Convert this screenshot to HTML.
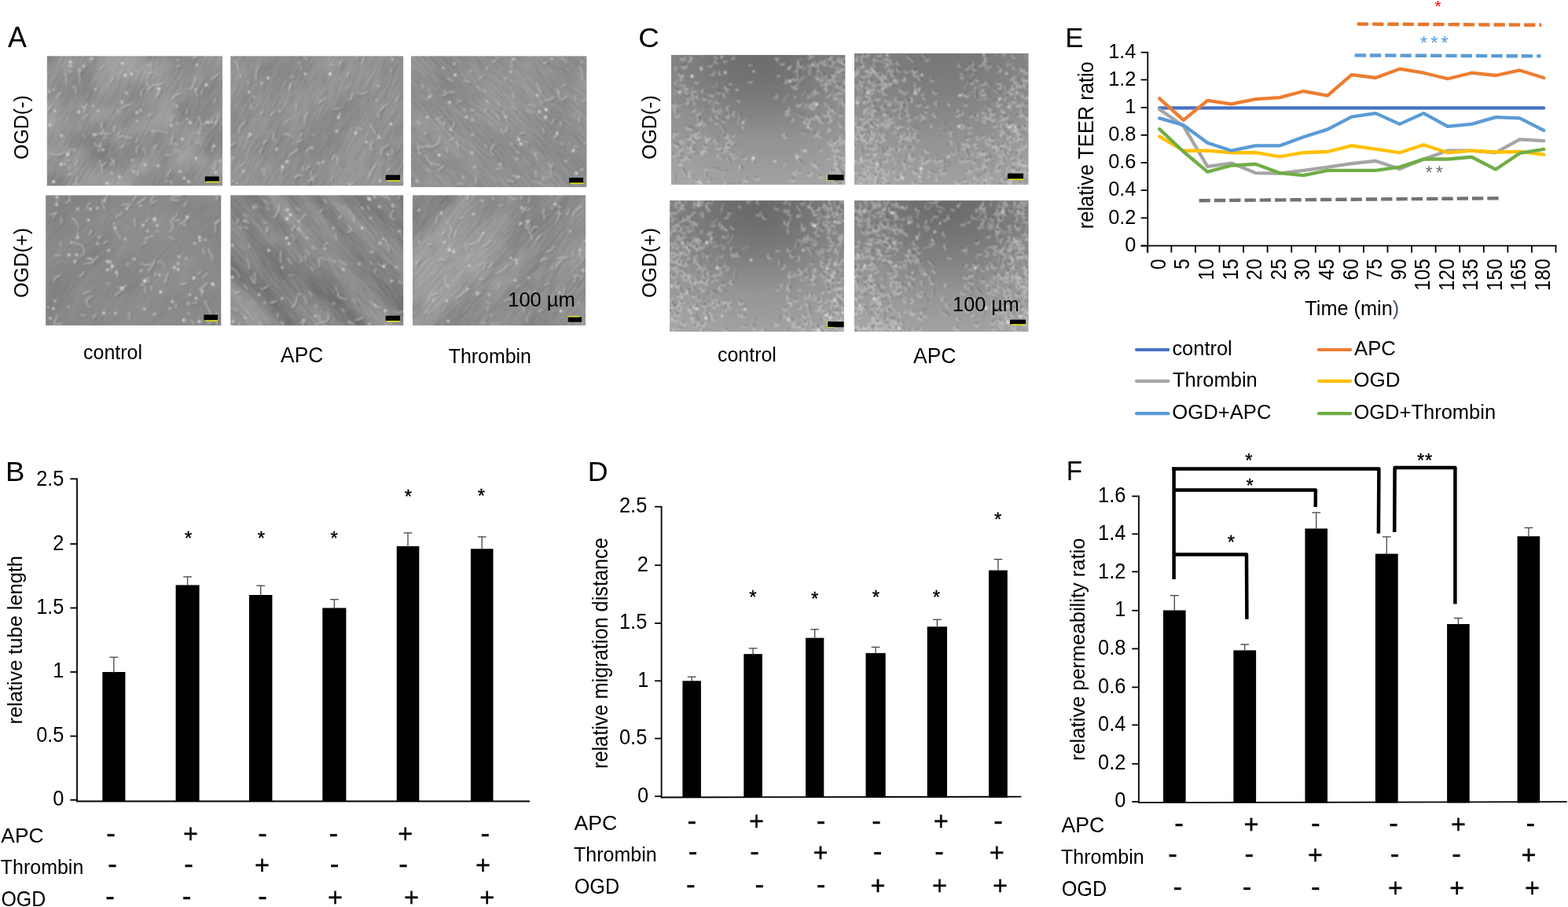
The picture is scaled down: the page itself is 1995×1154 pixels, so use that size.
<!DOCTYPE html>
<html lang="en">
<head>
<meta charset="utf-8">
<title>Figure: APC and thrombin effects under OGD</title>
<style>
html,body{margin:0;padding:0;background:#fff;}
body{width:1995px;height:1154px;overflow:hidden;}
svg{display:block;font-family:"Liberation Sans",sans-serif;font-size:20px;fill:#000;}
</style>
</head>
<body>
<svg width="1995" height="1154" viewBox="0 0 1995 1154">
<rect width="1995" height="1154" fill="#fff"/>
<defs><filter id="bl" x="-5%" y="-5%" width="110%" height="110%"><feGaussianBlur stdDeviation="1.05"/></filter>
<filter id="bl2" x="-5%" y="-5%" width="110%" height="110%"><feGaussianBlur stdDeviation="1.1"/></filter></defs>
<g id="micrographs">
<defs><filter id="bb" x="-20%" y="-20%" width="140%" height="140%"><feGaussianBlur stdDeviation="9"/></filter></defs>
<clipPath id="ca0"><rect x="59.6" y="71.2" width="223.6" height="165.4"/></clipPath>
<filter id="st0" x="0" y="0" width="100%" height="100%" color-interpolation-filters="sRGB"><feTurbulence type="fractalNoise" baseFrequency="0.045 0.3" numOctaves="2" seed="11"/><feColorMatrix type="matrix" values="1.5 0 0 0 -0.174  1.5 0 0 0 -0.174  1.5 0 0 0 -0.174  0 0 0 0 1"/></filter>
<filter id="lo0" x="0" y="0" width="100%" height="100%" color-interpolation-filters="sRGB"><feTurbulence type="fractalNoise" baseFrequency="0.02 0.025" numOctaves="2" seed="12"/><feColorMatrix type="matrix" values="1.6 0 0 0 -0.224  1.6 0 0 0 -0.224  1.6 0 0 0 -0.224  0 0 0 0 1"/></filter>
<g clip-path="url(#ca0)">
<rect x="59.6" y="71.2" width="223.6" height="165.4" fill="#939393"/>
<rect x="21.4" y="3.9" width="300" height="300" transform="rotate(-60 171.4 153.9)" filter="url(#lo0)" opacity="0.14"/>
<rect x="21.4" y="3.9" width="300" height="300" transform="rotate(-60 171.4 153.9)" filter="url(#st0)" opacity="0.06"/>
<g filter="url(#bl)" fill="none" stroke-linecap="round">
<path d="M89.6 211.4Q88.9 213.7 88.7 215.0L88.5 216.2M106.5 151.9Q108.2 148.3 109.7 147.0L111.3 145.7M191.8 88.1Q191.8 84.6 192.8 83.1L193.7 81.6M213.1 231.5Q211.7 230.1 210.8 229.5L210.0 229.0M210.9 197.1Q213.9 197.1 215.4 197.5L216.9 197.8M101.2 235.4Q98.2 235.1 96.7 234.9L95.2 234.8M275.9 155.2Q273.1 156.4 271.6 156.2Q270.1 156.1 268.6 156.0Q267.1 155.9 265.7 155.5Q264.2 155.2 262.8 155.9Q261.5 156.5 260.4 157.6L259.4 158.7M237.9 139.7Q237.3 142.2 237.7 143.3L238.0 144.5M96.2 210.1Q97.0 206.7 98.1 205.4L99.2 204.0M197.1 166.8Q200.1 166.6 201.6 166.6Q203.1 166.5 204.4 167.2Q205.7 167.9 207.2 168.1Q208.7 168.2 210.2 168.4Q211.7 168.6 212.8 169.6L213.9 170.7M188.8 147.1Q191.1 145.2 192.6 145.2L194.1 145.1M269.4 156.0Q269.0 153.5 269.4 152.3L269.8 151.1M187.1 104.3Q188.1 107.8 188.5 109.6Q188.9 111.4 188.5 113.2L188.2 115.0M133.6 170.4Q136.6 169.9 138.1 170.2L139.5 170.5M242.2 113.4Q244.4 111.4 245.1 110.1Q245.8 108.8 246.1 107.3Q246.4 105.8 247.3 104.6Q248.1 103.4 248.4 101.9Q248.6 100.4 248.4 98.9L248.2 97.4M97.0 113.4Q96.5 115.9 96.3 117.1L96.0 118.3M64.9 135.1Q62.6 138.4 61.4 140.1L60.3 141.7M106.4 171.4Q106.9 173.3 107.6 174.0L108.3 174.8M217.1 183.4Q218.5 180.0 219.0 178.2Q219.4 176.4 220.0 174.7L220.6 173.0M131.4 175.6Q133.4 175.7 134.4 175.4L135.4 175.2M251.6 122.5Q250.2 119.9 249.6 118.5L249.0 117.1M249.8 168.9Q252.8 168.5 254.0 169.3L255.3 170.1M217.0 155.4Q218.6 151.7 219.2 149.8L219.8 147.9M103.0 88.5Q101.7 91.2 101.2 92.6Q100.8 94.0 100.8 95.5Q100.8 97.0 101.5 98.4Q102.2 99.7 102.1 101.2Q102.1 102.7 101.4 104.0L100.7 105.4M185.6 93.6Q189.6 93.4 191.5 92.9L193.4 92.5M256.9 184.8Q255.1 182.5 253.7 181.9Q252.3 181.3 250.8 181.4L249.3 181.5M179.9 115.5Q179.5 119.0 179.7 120.7L180.0 122.5M253.6 171.1Q254.1 168.1 254.1 166.6Q254.1 165.1 255.1 164.0L256.0 162.8M92.5 91.9Q90.1 91.2 89.0 90.7L87.8 90.3M272.5 131.6Q273.0 128.6 273.8 127.3L274.6 126.1M244.7 73.2Q247.7 73.7 249.0 73.0Q250.3 72.3 251.3 71.2Q252.3 70.1 253.8 69.8Q255.2 69.6 256.7 69.2Q258.1 68.8 259.2 67.7L260.2 66.6M97.0 111.1Q94.5 111.1 93.4 110.5L92.3 109.9M182.6 188.9Q184.9 191.5 185.0 193.3L185.1 195.0M125.7 169.9Q123.3 171.7 121.8 171.6Q120.3 171.6 119.1 170.7L117.9 169.7M84.5 106.8Q84.6 103.3 84.8 101.6Q85.0 99.8 84.6 98.1Q84.3 96.4 83.5 94.9L82.6 93.3M77.8 117.6Q75.4 119.5 74.5 120.7Q73.6 121.9 73.1 123.3L72.5 124.7M130.4 211.3Q132.3 209.0 133.4 208.0L134.5 207.0M114.4 74.6Q114.4 77.6 115.3 78.8L116.2 80.0M201.7 119.3Q203.1 116.1 203.4 114.4L203.8 112.7M173.5 181.2Q175.0 179.3 175.2 178.0L175.3 176.8M174.6 223.3Q176.5 220.9 176.5 219.4L176.5 217.9M130.3 220.6Q130.4 217.6 129.7 216.2Q129.1 214.9 128.9 213.4Q128.7 211.9 128.8 210.4Q128.9 208.9 128.6 207.5Q128.2 206.0 127.1 205.0L125.9 204.1M275.0 204.9Q273.7 208.3 273.3 210.1Q272.9 211.9 272.9 213.7L272.9 215.6M117.3 75.2Q116.6 72.3 115.7 71.2Q114.7 70.1 113.2 69.6Q111.8 69.1 110.3 69.1Q108.8 69.1 107.5 68.5Q106.1 67.8 104.7 67.4L103.3 66.9M149.3 172.5Q150.9 170.0 151.9 168.9L153.0 167.8M157.6 184.7Q155.5 186.9 154.1 187.5L152.8 188.2M134.9 172.3Q133.2 169.9 132.3 168.7Q131.5 167.4 131.3 165.9Q131.2 164.4 130.4 163.2Q129.6 161.9 129.3 160.4Q129.1 158.9 129.6 157.5L130.1 156.1M129.3 185.7Q125.7 186.4 124.0 185.8Q122.3 185.1 121.3 183.6L120.3 182.0M187.3 100.4Q188.4 97.6 189.2 96.3L190.0 95.0M145.5 211.0Q145.4 207.4 144.7 205.7Q144.1 203.9 142.6 202.8L141.2 201.7M224.4 85.0Q226.5 83.8 227.8 84.0L229.0 84.2M145.1 204.0Q142.8 207.2 141.6 208.9L140.5 210.5M107.0 142.5Q108.5 139.2 108.9 137.4Q109.3 135.6 109.9 133.9L110.5 132.1M274.2 158.6Q276.0 155.6 276.3 153.9Q276.7 152.1 277.2 150.5Q277.7 148.8 277.6 147.0L277.6 145.3M190.6 112.7Q192.2 110.2 193.5 109.4Q194.8 108.7 196.3 108.5Q197.8 108.3 199.3 108.3Q200.8 108.2 202.2 107.9Q203.7 107.6 205.0 106.9L206.4 106.2M83.8 204.8Q86.1 203.9 87.4 204.0L88.6 204.0M277.3 93.8Q274.9 96.6 273.3 97.5Q271.7 98.4 270.4 99.7L269.1 100.9M87.3 190.0Q85.7 193.1 84.8 194.5L83.8 196.0M84.9 223.0Q88.8 222.0 90.8 222.1L92.8 222.2M224.7 191.7Q227.7 191.9 228.9 192.8L230.1 193.8M218.8 234.5Q218.0 232.2 217.4 231.1L216.8 230.0M154.8 138.2Q157.5 135.9 159.0 135.1Q160.5 134.2 162.2 133.7Q163.9 133.2 165.6 132.9L167.3 132.7M150.6 175.3Q153.1 173.7 154.6 173.4Q156.1 173.1 157.5 173.5Q159.0 173.9 160.4 174.5Q161.8 175.1 163.2 175.4Q164.7 175.7 166.2 175.4L167.7 175.2M217.9 215.8Q215.5 218.5 214.3 219.9Q213.2 221.4 213.1 223.2L213.0 225.0M173.7 194.4Q173.9 190.4 174.0 188.4L174.1 186.4M271.2 185.4Q270.2 189.3 270.5 191.3L270.8 193.2M257.7 115.7Q256.4 117.8 256.5 119.1L256.5 120.3M126.0 192.8Q126.9 189.2 127.3 187.4Q127.7 185.7 127.5 183.8L127.3 182.0M196.1 189.6Q196.9 186.8 198.1 185.8L199.2 184.8M198.8 123.6Q200.5 119.9 201.6 118.3L202.8 116.7M96.6 232.1Q97.6 229.3 98.1 227.9Q98.6 226.5 98.4 225.0L98.2 223.5M90.5 189.6Q89.2 192.9 88.1 194.2L87.1 195.6M127.9 88.8Q129.6 85.2 131.2 83.9L132.7 82.6M64.8 195.7Q67.4 197.1 68.9 197.0Q70.4 197.0 71.9 197.3Q73.4 197.7 74.8 197.2Q76.2 196.7 77.5 196.0Q78.9 195.3 80.2 194.6L81.5 193.9M144.1 99.1Q142.4 101.6 142.2 103.1L141.9 104.5M219.5 125.8Q221.1 122.7 222.5 121.6Q223.9 120.6 225.6 120.3Q227.3 120.0 228.9 119.3L230.5 118.6M145.3 167.2Q145.9 164.2 146.0 162.8L146.1 161.3M255.5 160.9Q256.3 157.5 256.2 155.8Q256.1 154.0 255.0 152.7Q253.8 151.4 252.7 150.1L251.6 148.7M177.0 92.5Q174.5 90.8 173.4 89.8L172.4 88.7M226.1 184.8Q223.5 183.4 222.0 183.1L220.5 182.9" stroke="#404040" stroke-width="1.5" transform="translate(1.3 1.1)" opacity="0.5"/>
<path d="M89.6 211.4Q88.9 213.7 88.7 215.0L88.5 216.2M106.5 151.9Q108.2 148.3 109.7 147.0L111.3 145.7M191.8 88.1Q191.8 84.6 192.8 83.1L193.7 81.6M213.1 231.5Q211.7 230.1 210.8 229.5L210.0 229.0M210.9 197.1Q213.9 197.1 215.4 197.5L216.9 197.8M101.2 235.4Q98.2 235.1 96.7 234.9L95.2 234.8M275.9 155.2Q273.1 156.4 271.6 156.2Q270.1 156.1 268.6 156.0Q267.1 155.9 265.7 155.5Q264.2 155.2 262.8 155.9Q261.5 156.5 260.4 157.6L259.4 158.7M237.9 139.7Q237.3 142.2 237.7 143.3L238.0 144.5M96.2 210.1Q97.0 206.7 98.1 205.4L99.2 204.0M197.1 166.8Q200.1 166.6 201.6 166.6Q203.1 166.5 204.4 167.2Q205.7 167.9 207.2 168.1Q208.7 168.2 210.2 168.4Q211.7 168.6 212.8 169.6L213.9 170.7M188.8 147.1Q191.1 145.2 192.6 145.2L194.1 145.1M269.4 156.0Q269.0 153.5 269.4 152.3L269.8 151.1M187.1 104.3Q188.1 107.8 188.5 109.6Q188.9 111.4 188.5 113.2L188.2 115.0M133.6 170.4Q136.6 169.9 138.1 170.2L139.5 170.5M242.2 113.4Q244.4 111.4 245.1 110.1Q245.8 108.8 246.1 107.3Q246.4 105.8 247.3 104.6Q248.1 103.4 248.4 101.9Q248.6 100.4 248.4 98.9L248.2 97.4M97.0 113.4Q96.5 115.9 96.3 117.1L96.0 118.3M64.9 135.1Q62.6 138.4 61.4 140.1L60.3 141.7M106.4 171.4Q106.9 173.3 107.6 174.0L108.3 174.8M217.1 183.4Q218.5 180.0 219.0 178.2Q219.4 176.4 220.0 174.7L220.6 173.0M131.4 175.6Q133.4 175.7 134.4 175.4L135.4 175.2M251.6 122.5Q250.2 119.9 249.6 118.5L249.0 117.1M249.8 168.9Q252.8 168.5 254.0 169.3L255.3 170.1M217.0 155.4Q218.6 151.7 219.2 149.8L219.8 147.9M103.0 88.5Q101.7 91.2 101.2 92.6Q100.8 94.0 100.8 95.5Q100.8 97.0 101.5 98.4Q102.2 99.7 102.1 101.2Q102.1 102.7 101.4 104.0L100.7 105.4M185.6 93.6Q189.6 93.4 191.5 92.9L193.4 92.5M256.9 184.8Q255.1 182.5 253.7 181.9Q252.3 181.3 250.8 181.4L249.3 181.5M179.9 115.5Q179.5 119.0 179.7 120.7L180.0 122.5M253.6 171.1Q254.1 168.1 254.1 166.6Q254.1 165.1 255.1 164.0L256.0 162.8M92.5 91.9Q90.1 91.2 89.0 90.7L87.8 90.3M272.5 131.6Q273.0 128.6 273.8 127.3L274.6 126.1M244.7 73.2Q247.7 73.7 249.0 73.0Q250.3 72.3 251.3 71.2Q252.3 70.1 253.8 69.8Q255.2 69.6 256.7 69.2Q258.1 68.8 259.2 67.7L260.2 66.6M97.0 111.1Q94.5 111.1 93.4 110.5L92.3 109.9M182.6 188.9Q184.9 191.5 185.0 193.3L185.1 195.0M125.7 169.9Q123.3 171.7 121.8 171.6Q120.3 171.6 119.1 170.7L117.9 169.7M84.5 106.8Q84.6 103.3 84.8 101.6Q85.0 99.8 84.6 98.1Q84.3 96.4 83.5 94.9L82.6 93.3M77.8 117.6Q75.4 119.5 74.5 120.7Q73.6 121.9 73.1 123.3L72.5 124.7M130.4 211.3Q132.3 209.0 133.4 208.0L134.5 207.0M114.4 74.6Q114.4 77.6 115.3 78.8L116.2 80.0M201.7 119.3Q203.1 116.1 203.4 114.4L203.8 112.7M173.5 181.2Q175.0 179.3 175.2 178.0L175.3 176.8M174.6 223.3Q176.5 220.9 176.5 219.4L176.5 217.9M130.3 220.6Q130.4 217.6 129.7 216.2Q129.1 214.9 128.9 213.4Q128.7 211.9 128.8 210.4Q128.9 208.9 128.6 207.5Q128.2 206.0 127.1 205.0L125.9 204.1M275.0 204.9Q273.7 208.3 273.3 210.1Q272.9 211.9 272.9 213.7L272.9 215.6M117.3 75.2Q116.6 72.3 115.7 71.2Q114.7 70.1 113.2 69.6Q111.8 69.1 110.3 69.1Q108.8 69.1 107.5 68.5Q106.1 67.8 104.7 67.4L103.3 66.9M149.3 172.5Q150.9 170.0 151.9 168.9L153.0 167.8M157.6 184.7Q155.5 186.9 154.1 187.5L152.8 188.2M134.9 172.3Q133.2 169.9 132.3 168.7Q131.5 167.4 131.3 165.9Q131.2 164.4 130.4 163.2Q129.6 161.9 129.3 160.4Q129.1 158.9 129.6 157.5L130.1 156.1M129.3 185.7Q125.7 186.4 124.0 185.8Q122.3 185.1 121.3 183.6L120.3 182.0M187.3 100.4Q188.4 97.6 189.2 96.3L190.0 95.0M145.5 211.0Q145.4 207.4 144.7 205.7Q144.1 203.9 142.6 202.8L141.2 201.7M224.4 85.0Q226.5 83.8 227.8 84.0L229.0 84.2M145.1 204.0Q142.8 207.2 141.6 208.9L140.5 210.5M107.0 142.5Q108.5 139.2 108.9 137.4Q109.3 135.6 109.9 133.9L110.5 132.1M274.2 158.6Q276.0 155.6 276.3 153.9Q276.7 152.1 277.2 150.5Q277.7 148.8 277.6 147.0L277.6 145.3M190.6 112.7Q192.2 110.2 193.5 109.4Q194.8 108.7 196.3 108.5Q197.8 108.3 199.3 108.3Q200.8 108.2 202.2 107.9Q203.7 107.6 205.0 106.9L206.4 106.2M83.8 204.8Q86.1 203.9 87.4 204.0L88.6 204.0M277.3 93.8Q274.9 96.6 273.3 97.5Q271.7 98.4 270.4 99.7L269.1 100.9M87.3 190.0Q85.7 193.1 84.8 194.5L83.8 196.0M84.9 223.0Q88.8 222.0 90.8 222.1L92.8 222.2M224.7 191.7Q227.7 191.9 228.9 192.8L230.1 193.8M218.8 234.5Q218.0 232.2 217.4 231.1L216.8 230.0M154.8 138.2Q157.5 135.9 159.0 135.1Q160.5 134.2 162.2 133.7Q163.9 133.2 165.6 132.9L167.3 132.7M150.6 175.3Q153.1 173.7 154.6 173.4Q156.1 173.1 157.5 173.5Q159.0 173.9 160.4 174.5Q161.8 175.1 163.2 175.4Q164.7 175.7 166.2 175.4L167.7 175.2M217.9 215.8Q215.5 218.5 214.3 219.9Q213.2 221.4 213.1 223.2L213.0 225.0M173.7 194.4Q173.9 190.4 174.0 188.4L174.1 186.4M271.2 185.4Q270.2 189.3 270.5 191.3L270.8 193.2M257.7 115.7Q256.4 117.8 256.5 119.1L256.5 120.3M126.0 192.8Q126.9 189.2 127.3 187.4Q127.7 185.7 127.5 183.8L127.3 182.0M196.1 189.6Q196.9 186.8 198.1 185.8L199.2 184.8M198.8 123.6Q200.5 119.9 201.6 118.3L202.8 116.7M96.6 232.1Q97.6 229.3 98.1 227.9Q98.6 226.5 98.4 225.0L98.2 223.5M90.5 189.6Q89.2 192.9 88.1 194.2L87.1 195.6M127.9 88.8Q129.6 85.2 131.2 83.9L132.7 82.6M64.8 195.7Q67.4 197.1 68.9 197.0Q70.4 197.0 71.9 197.3Q73.4 197.7 74.8 197.2Q76.2 196.7 77.5 196.0Q78.9 195.3 80.2 194.6L81.5 193.9M144.1 99.1Q142.4 101.6 142.2 103.1L141.9 104.5M219.5 125.8Q221.1 122.7 222.5 121.6Q223.9 120.6 225.6 120.3Q227.3 120.0 228.9 119.3L230.5 118.6M145.3 167.2Q145.9 164.2 146.0 162.8L146.1 161.3M255.5 160.9Q256.3 157.5 256.2 155.8Q256.1 154.0 255.0 152.7Q253.8 151.4 252.7 150.1L251.6 148.7M177.0 92.5Q174.5 90.8 173.4 89.8L172.4 88.7M226.1 184.8Q223.5 183.4 222.0 183.1L220.5 182.9" stroke="#dcdcdc" stroke-width="1.5" opacity="0.68"/>
<g fill="#fff" stroke="none"><circle cx="201.2" cy="112.8" r="1.5" opacity="0.87"/><circle cx="100.1" cy="142.4" r="1.6" opacity="0.81"/><circle cx="274.4" cy="219.3" r="1.5" opacity="0.77"/><circle cx="217.9" cy="159.8" r="1.7" opacity="0.58"/><circle cx="120.3" cy="171.8" r="1.8" opacity="0.58"/><circle cx="100.6" cy="88.8" r="1.1" opacity="0.63"/><circle cx="155.6" cy="80.4" r="1.5" opacity="0.91"/><circle cx="174.2" cy="154.1" r="1.2" opacity="0.68"/><circle cx="89.4" cy="78.6" r="1.6" opacity="0.91"/><circle cx="229.2" cy="218.3" r="1.4" opacity="0.84"/><circle cx="120.9" cy="113.6" r="1.3" opacity="0.67"/><circle cx="250.4" cy="82.6" r="1.3" opacity="0.84"/><circle cx="118.8" cy="134.6" r="1.2" opacity="0.82"/><circle cx="82.3" cy="209.0" r="1.5" opacity="0.63"/><circle cx="264.3" cy="155.4" r="1.4" opacity="0.91"/><circle cx="167.3" cy="94.1" r="1.7" opacity="0.76"/><circle cx="184.3" cy="209.4" r="1.5" opacity="0.76"/><circle cx="68.2" cy="231.3" r="1.8" opacity="0.85"/><circle cx="105.5" cy="136.0" r="1.3" opacity="0.71"/><circle cx="89.4" cy="83.7" r="1.3" opacity="0.87"/><circle cx="178.8" cy="140.6" r="1.3" opacity="0.66"/><circle cx="226.0" cy="157.1" r="1.1" opacity="0.60"/><circle cx="131.2" cy="190.5" r="1.6" opacity="0.78"/><circle cx="160.8" cy="118.3" r="1.4" opacity="0.70"/><circle cx="224.5" cy="134.6" r="1.7" opacity="0.58"/><circle cx="188.7" cy="82.3" r="1.1" opacity="0.75"/><circle cx="248.9" cy="113.9" r="1.3" opacity="0.78"/><circle cx="136.0" cy="233.1" r="1.7" opacity="0.70"/><circle cx="129.1" cy="169.8" r="1.3" opacity="0.75"/><circle cx="68.0" cy="113.6" r="1.3" opacity="0.60"/><circle cx="86.4" cy="196.9" r="1.8" opacity="0.80"/><circle cx="239.9" cy="231.1" r="1.6" opacity="0.84"/><circle cx="106.5" cy="84.0" r="1.5" opacity="0.81"/><circle cx="249.4" cy="201.4" r="1.3" opacity="0.89"/><circle cx="173.9" cy="142.9" r="1.5" opacity="0.91"/><circle cx="168.5" cy="203.5" r="1.3" opacity="0.63"/><circle cx="170.0" cy="218.3" r="1.3" opacity="0.73"/><circle cx="142.2" cy="220.5" r="1.2" opacity="0.74"/><circle cx="77.6" cy="208.9" r="1.8" opacity="0.71"/><circle cx="63.4" cy="159.1" r="1.4" opacity="0.90"/><circle cx="78.4" cy="172.6" r="1.5" opacity="0.78"/><circle cx="155.1" cy="130.0" r="1.8" opacity="0.55"/><circle cx="272.5" cy="185.5" r="1.5" opacity="0.77"/><circle cx="242.1" cy="155.9" r="1.8" opacity="0.68"/><circle cx="232.1" cy="177.3" r="1.8" opacity="0.66"/><circle cx="152.0" cy="224.9" r="1.7" opacity="0.76"/><circle cx="194.0" cy="167.0" r="1.4" opacity="0.60"/><circle cx="159.1" cy="95.8" r="1.6" opacity="0.94"/><circle cx="117.1" cy="74.8" r="1.4" opacity="0.81"/><circle cx="69.6" cy="141.1" r="1.3" opacity="0.81"/><circle cx="226.5" cy="76.2" r="1.2" opacity="0.59"/><circle cx="62.7" cy="116.6" r="1.3" opacity="0.86"/><circle cx="201.2" cy="210.8" r="1.6" opacity="0.71"/><circle cx="238.1" cy="151.3" r="1.2" opacity="0.61"/><circle cx="280.1" cy="204.6" r="1.4" opacity="0.60"/><circle cx="234.2" cy="226.5" r="1.4" opacity="0.93"/><circle cx="124.7" cy="141.1" r="1.3" opacity="0.68"/><circle cx="262.3" cy="108.0" r="1.7" opacity="0.93"/><circle cx="149.9" cy="141.8" r="1.1" opacity="0.63"/><circle cx="94.5" cy="191.0" r="1.2" opacity="0.61"/></g>
</g>
</g>
<rect x="260.9" y="224.5" width="17.8" height="6.2" fill="#000"/>
<rect x="262.4" y="230.7" width="16.3" height="1.5" fill="#e8e800"/>
<clipPath id="ca1"><rect x="293.2" y="71.2" width="220.1" height="165.4"/></clipPath>
<filter id="st1" x="0" y="0" width="100%" height="100%" color-interpolation-filters="sRGB"><feTurbulence type="fractalNoise" baseFrequency="0.045 0.3" numOctaves="2" seed="19"/><feColorMatrix type="matrix" values="1.5 0 0 0 -0.181  1.5 0 0 0 -0.181  1.5 0 0 0 -0.181  0 0 0 0 1"/></filter>
<filter id="lo1" x="0" y="0" width="100%" height="100%" color-interpolation-filters="sRGB"><feTurbulence type="fractalNoise" baseFrequency="0.012 0.02" numOctaves="2" seed="20"/><feColorMatrix type="matrix" values="1.6 0 0 0 -0.231  1.6 0 0 0 -0.231  1.6 0 0 0 -0.231  0 0 0 0 1"/></filter>
<g clip-path="url(#ca1)">
<rect x="293.2" y="71.2" width="220.1" height="165.4" fill="#919191"/>
<rect x="253.25" y="3.9" width="300" height="300" transform="rotate(-62 403.25 153.9)" filter="url(#lo1)" opacity="0.07"/>
<rect x="253.25" y="3.9" width="300" height="300" transform="rotate(-62 403.25 153.9)" filter="url(#st1)" opacity="0.075"/>
<g filter="url(#bl)" fill="none" stroke-linecap="round">
<path d="M503.6 228.0Q501.7 228.6 500.7 228.7L499.7 228.8M361.0 171.4Q364.4 170.5 366.1 170.7Q367.8 171.0 369.2 172.0Q370.6 173.1 372.0 174.2L373.4 175.3M375.1 226.0Q377.6 223.3 379.4 222.9Q381.2 222.5 382.9 223.1L384.6 223.8M386.4 217.4Q385.7 215.0 384.9 214.1L384.0 213.2M405.5 130.7Q408.6 128.8 410.0 127.6Q411.5 126.5 412.9 125.4L414.4 124.3M493.2 131.4Q491.2 134.3 489.8 135.4Q488.5 136.5 487.2 137.7Q485.9 138.9 484.5 140.0L483.2 141.1M401.1 224.2Q398.9 227.1 397.2 227.8Q395.5 228.5 394.0 229.5L392.5 230.6M453.0 163.4Q456.0 163.1 457.4 163.7Q458.8 164.2 459.7 165.4L460.6 166.5M428.9 199.1Q429.6 201.9 430.0 203.4Q430.4 204.9 429.9 206.3L429.3 207.7M430.4 83.7Q432.2 80.7 433.3 79.3L434.3 77.9M304.0 169.1Q304.8 166.2 304.8 164.7Q304.7 163.2 305.3 161.8Q305.9 160.5 307.2 159.7Q308.5 158.9 309.1 157.6Q309.7 156.2 311.0 155.4L312.2 154.5M460.3 80.6Q462.4 77.7 462.3 76.0L462.2 74.2M453.7 74.7Q455.9 72.6 456.1 71.1L456.2 69.6M422.9 202.6Q424.4 199.9 425.3 198.7L426.2 197.6M457.8 118.5Q460.5 119.7 462.0 119.3Q463.4 119.0 464.7 118.2L466.0 117.4M381.6 174.0Q382.3 171.6 383.1 170.7L383.9 169.7M298.5 201.6Q296.1 202.0 294.9 201.5L293.7 201.0M368.3 114.5Q369.6 110.8 369.3 108.8L369.0 106.8M330.8 146.2Q332.7 143.9 333.6 142.7L334.5 141.5M348.4 169.0Q348.1 172.5 347.9 174.2Q347.7 176.0 348.6 177.4Q349.6 178.9 351.2 179.5L352.9 180.1M383.2 89.6Q383.8 87.2 383.4 86.0L383.0 84.8M298.6 181.9Q296.9 184.4 295.5 184.9Q294.1 185.4 292.6 185.4L291.1 185.4M388.7 155.8Q387.4 152.5 387.8 150.8Q388.2 149.1 389.0 147.5Q389.8 146.0 390.5 144.4L391.2 142.8M297.5 230.1Q295.1 230.7 294.0 231.3L292.9 231.9M485.6 139.4Q486.3 137.0 486.8 135.8L487.4 134.7M395.2 218.3Q396.4 221.6 396.5 223.3Q396.6 225.1 397.4 226.7Q398.1 228.3 398.9 229.8L399.7 231.4M318.7 133.0Q319.2 135.9 320.2 137.1Q321.1 138.2 322.6 138.6L324.0 139.1M480.3 177.2Q482.0 174.7 481.9 173.2L481.8 171.7M448.5 119.3Q447.8 122.2 447.5 123.7Q447.2 125.1 446.1 126.1L444.9 127.1M470.2 225.4Q470.8 222.4 471.2 221.0Q471.7 219.5 472.4 218.3Q473.2 217.0 474.3 216.0Q475.4 214.9 475.8 213.5Q476.1 212.0 476.9 210.8L477.7 209.5M419.9 83.0Q422.4 82.6 423.6 82.9L424.8 83.3M493.8 183.9Q492.0 186.3 490.6 186.9Q489.2 187.4 488.0 188.3Q486.8 189.2 486.1 190.5Q485.4 191.8 485.1 193.3Q484.8 194.8 485.2 196.2L485.7 197.6M510.4 231.4Q512.0 227.8 513.6 226.6L515.3 225.5M394.7 187.5Q391.4 189.9 390.6 191.7L389.7 193.5M390.3 76.1Q389.4 72.7 388.4 71.2Q387.5 69.8 386.1 68.7Q384.6 67.7 383.7 66.2L382.7 64.8M383.9 178.4Q380.5 179.2 379.3 180.5L378.2 181.8M473.6 191.2Q471.6 188.2 471.5 186.4Q471.4 184.5 472.3 182.9L473.2 181.4M362.1 157.8Q363.6 155.2 364.7 154.2Q365.8 153.2 367.1 152.4L368.3 151.5M492.5 217.5Q494.3 215.8 495.3 215.0L496.2 214.3M401.0 172.4Q399.5 171.1 398.5 170.9L397.5 170.6M450.1 232.0Q448.1 233.6 447.7 234.8L447.4 236.0M423.4 224.2Q422.9 227.6 422.0 229.2L421.2 230.7M331.4 195.3Q331.2 191.3 332.4 189.7L333.6 188.1M441.9 97.0Q443.0 94.2 443.3 92.7L443.7 91.3M390.7 215.2Q392.2 212.6 393.5 211.9L394.8 211.2M310.1 207.6Q308.6 210.1 307.3 211.0L306.0 211.8M313.7 176.0Q317.1 173.9 318.5 172.5L319.9 171.0M344.5 146.9Q345.9 144.3 347.1 143.4L348.4 142.5M376.7 131.5Q376.8 135.0 377.0 136.7L377.2 138.5M357.5 219.2Q359.6 217.0 359.9 215.5Q360.2 214.1 359.9 212.6L359.7 211.1M334.9 183.4Q336.5 180.3 337.9 179.2L339.3 178.2M432.5 137.4Q429.3 138.9 427.6 138.7L425.8 138.6M499.1 195.8Q499.7 192.9 499.2 191.4L498.8 190.0M504.0 129.8Q504.3 126.8 505.3 125.7Q506.3 124.6 506.6 123.1L506.9 121.6M330.0 83.9Q328.2 86.4 327.5 87.7Q326.8 89.0 326.5 90.5Q326.3 92.0 325.7 93.4Q325.2 94.8 325.4 96.3Q325.5 97.7 326.1 99.1L326.6 100.5M497.1 86.9Q496.9 89.4 497.2 90.6L497.6 91.8M368.6 112.0Q369.0 109.0 369.7 107.7L370.4 106.3M306.8 95.0Q306.6 97.5 305.9 98.6L305.3 99.6M367.6 198.3Q370.4 196.2 371.8 195.1Q373.2 194.1 374.7 193.2Q376.3 192.4 377.6 191.2L378.8 190.0M477.6 170.0Q476.1 166.9 475.3 165.3Q474.4 163.8 473.4 162.3Q472.4 160.9 471.5 159.5L470.5 158.0M303.4 89.1Q302.3 85.8 302.5 84.0Q302.7 82.3 301.8 80.8Q300.8 79.3 299.3 78.6L297.7 77.8M370.4 99.8Q372.1 98.0 372.8 97.0L373.6 96.1M482.1 149.7Q482.2 147.2 481.6 146.2L480.9 145.1M337.1 223.1Q337.3 219.5 336.4 217.8Q335.6 216.2 334.0 215.2L332.5 214.3M317.0 106.2Q315.5 104.9 314.7 104.3L313.9 103.8" stroke="#404040" stroke-width="1.5" transform="translate(1.3 1.1)" opacity="0.5"/>
<path d="M503.6 228.0Q501.7 228.6 500.7 228.7L499.7 228.8M361.0 171.4Q364.4 170.5 366.1 170.7Q367.8 171.0 369.2 172.0Q370.6 173.1 372.0 174.2L373.4 175.3M375.1 226.0Q377.6 223.3 379.4 222.9Q381.2 222.5 382.9 223.1L384.6 223.8M386.4 217.4Q385.7 215.0 384.9 214.1L384.0 213.2M405.5 130.7Q408.6 128.8 410.0 127.6Q411.5 126.5 412.9 125.4L414.4 124.3M493.2 131.4Q491.2 134.3 489.8 135.4Q488.5 136.5 487.2 137.7Q485.9 138.9 484.5 140.0L483.2 141.1M401.1 224.2Q398.9 227.1 397.2 227.8Q395.5 228.5 394.0 229.5L392.5 230.6M453.0 163.4Q456.0 163.1 457.4 163.7Q458.8 164.2 459.7 165.4L460.6 166.5M428.9 199.1Q429.6 201.9 430.0 203.4Q430.4 204.9 429.9 206.3L429.3 207.7M430.4 83.7Q432.2 80.7 433.3 79.3L434.3 77.9M304.0 169.1Q304.8 166.2 304.8 164.7Q304.7 163.2 305.3 161.8Q305.9 160.5 307.2 159.7Q308.5 158.9 309.1 157.6Q309.7 156.2 311.0 155.4L312.2 154.5M460.3 80.6Q462.4 77.7 462.3 76.0L462.2 74.2M453.7 74.7Q455.9 72.6 456.1 71.1L456.2 69.6M422.9 202.6Q424.4 199.9 425.3 198.7L426.2 197.6M457.8 118.5Q460.5 119.7 462.0 119.3Q463.4 119.0 464.7 118.2L466.0 117.4M381.6 174.0Q382.3 171.6 383.1 170.7L383.9 169.7M298.5 201.6Q296.1 202.0 294.9 201.5L293.7 201.0M368.3 114.5Q369.6 110.8 369.3 108.8L369.0 106.8M330.8 146.2Q332.7 143.9 333.6 142.7L334.5 141.5M348.4 169.0Q348.1 172.5 347.9 174.2Q347.7 176.0 348.6 177.4Q349.6 178.9 351.2 179.5L352.9 180.1M383.2 89.6Q383.8 87.2 383.4 86.0L383.0 84.8M298.6 181.9Q296.9 184.4 295.5 184.9Q294.1 185.4 292.6 185.4L291.1 185.4M388.7 155.8Q387.4 152.5 387.8 150.8Q388.2 149.1 389.0 147.5Q389.8 146.0 390.5 144.4L391.2 142.8M297.5 230.1Q295.1 230.7 294.0 231.3L292.9 231.9M485.6 139.4Q486.3 137.0 486.8 135.8L487.4 134.7M395.2 218.3Q396.4 221.6 396.5 223.3Q396.6 225.1 397.4 226.7Q398.1 228.3 398.9 229.8L399.7 231.4M318.7 133.0Q319.2 135.9 320.2 137.1Q321.1 138.2 322.6 138.6L324.0 139.1M480.3 177.2Q482.0 174.7 481.9 173.2L481.8 171.7M448.5 119.3Q447.8 122.2 447.5 123.7Q447.2 125.1 446.1 126.1L444.9 127.1M470.2 225.4Q470.8 222.4 471.2 221.0Q471.7 219.5 472.4 218.3Q473.2 217.0 474.3 216.0Q475.4 214.9 475.8 213.5Q476.1 212.0 476.9 210.8L477.7 209.5M419.9 83.0Q422.4 82.6 423.6 82.9L424.8 83.3M493.8 183.9Q492.0 186.3 490.6 186.9Q489.2 187.4 488.0 188.3Q486.8 189.2 486.1 190.5Q485.4 191.8 485.1 193.3Q484.8 194.8 485.2 196.2L485.7 197.6M510.4 231.4Q512.0 227.8 513.6 226.6L515.3 225.5M394.7 187.5Q391.4 189.9 390.6 191.7L389.7 193.5M390.3 76.1Q389.4 72.7 388.4 71.2Q387.5 69.8 386.1 68.7Q384.6 67.7 383.7 66.2L382.7 64.8M383.9 178.4Q380.5 179.2 379.3 180.5L378.2 181.8M473.6 191.2Q471.6 188.2 471.5 186.4Q471.4 184.5 472.3 182.9L473.2 181.4M362.1 157.8Q363.6 155.2 364.7 154.2Q365.8 153.2 367.1 152.4L368.3 151.5M492.5 217.5Q494.3 215.8 495.3 215.0L496.2 214.3M401.0 172.4Q399.5 171.1 398.5 170.9L397.5 170.6M450.1 232.0Q448.1 233.6 447.7 234.8L447.4 236.0M423.4 224.2Q422.9 227.6 422.0 229.2L421.2 230.7M331.4 195.3Q331.2 191.3 332.4 189.7L333.6 188.1M441.9 97.0Q443.0 94.2 443.3 92.7L443.7 91.3M390.7 215.2Q392.2 212.6 393.5 211.9L394.8 211.2M310.1 207.6Q308.6 210.1 307.3 211.0L306.0 211.8M313.7 176.0Q317.1 173.9 318.5 172.5L319.9 171.0M344.5 146.9Q345.9 144.3 347.1 143.4L348.4 142.5M376.7 131.5Q376.8 135.0 377.0 136.7L377.2 138.5M357.5 219.2Q359.6 217.0 359.9 215.5Q360.2 214.1 359.9 212.6L359.7 211.1M334.9 183.4Q336.5 180.3 337.9 179.2L339.3 178.2M432.5 137.4Q429.3 138.9 427.6 138.7L425.8 138.6M499.1 195.8Q499.7 192.9 499.2 191.4L498.8 190.0M504.0 129.8Q504.3 126.8 505.3 125.7Q506.3 124.6 506.6 123.1L506.9 121.6M330.0 83.9Q328.2 86.4 327.5 87.7Q326.8 89.0 326.5 90.5Q326.3 92.0 325.7 93.4Q325.2 94.8 325.4 96.3Q325.5 97.7 326.1 99.1L326.6 100.5M497.1 86.9Q496.9 89.4 497.2 90.6L497.6 91.8M368.6 112.0Q369.0 109.0 369.7 107.7L370.4 106.3M306.8 95.0Q306.6 97.5 305.9 98.6L305.3 99.6M367.6 198.3Q370.4 196.2 371.8 195.1Q373.2 194.1 374.7 193.2Q376.3 192.4 377.6 191.2L378.8 190.0M477.6 170.0Q476.1 166.9 475.3 165.3Q474.4 163.8 473.4 162.3Q472.4 160.9 471.5 159.5L470.5 158.0M303.4 89.1Q302.3 85.8 302.5 84.0Q302.7 82.3 301.8 80.8Q300.8 79.3 299.3 78.6L297.7 77.8M370.4 99.8Q372.1 98.0 372.8 97.0L373.6 96.1M482.1 149.7Q482.2 147.2 481.6 146.2L480.9 145.1M337.1 223.1Q337.3 219.5 336.4 217.8Q335.6 216.2 334.0 215.2L332.5 214.3M317.0 106.2Q315.5 104.9 314.7 104.3L313.9 103.8" stroke="#dcdcdc" stroke-width="1.5" opacity="0.68"/>
<g fill="#fff" stroke="none"><circle cx="497.2" cy="157.9" r="1.6" opacity="0.82"/><circle cx="405.6" cy="207.7" r="1.2" opacity="0.93"/><circle cx="332.7" cy="105.8" r="1.3" opacity="0.61"/><circle cx="323.4" cy="123.8" r="1.3" opacity="0.59"/><circle cx="316.8" cy="117.2" r="1.5" opacity="0.75"/><circle cx="355.7" cy="141.1" r="1.2" opacity="0.77"/><circle cx="317.7" cy="170.4" r="1.6" opacity="0.63"/><circle cx="379.8" cy="79.5" r="1.2" opacity="0.56"/><circle cx="351.9" cy="189.7" r="1.5" opacity="0.84"/><circle cx="481.3" cy="109.4" r="1.2" opacity="0.68"/><circle cx="444.1" cy="234.1" r="1.2" opacity="0.83"/><circle cx="493.4" cy="196.3" r="1.2" opacity="0.82"/><circle cx="482.8" cy="174.8" r="1.8" opacity="0.61"/><circle cx="365.3" cy="205.5" r="1.7" opacity="0.76"/><circle cx="309.8" cy="218.1" r="1.6" opacity="0.56"/><circle cx="359.5" cy="212.3" r="1.5" opacity="0.84"/><circle cx="499.3" cy="75.7" r="1.4" opacity="0.65"/><circle cx="452.5" cy="169.0" r="1.6" opacity="0.91"/><circle cx="388.1" cy="94.0" r="1.2" opacity="0.90"/><circle cx="483.5" cy="229.8" r="1.4" opacity="0.80"/><circle cx="428.1" cy="166.9" r="1.4" opacity="0.85"/><circle cx="478.9" cy="127.7" r="1.1" opacity="0.70"/><circle cx="430.5" cy="149.3" r="1.6" opacity="0.81"/><circle cx="419.9" cy="93.9" r="1.8" opacity="0.90"/><circle cx="410.9" cy="206.1" r="1.2" opacity="0.87"/><circle cx="301.5" cy="233.2" r="1.1" opacity="0.76"/><circle cx="466.4" cy="180.5" r="1.7" opacity="0.58"/><circle cx="396.9" cy="188.1" r="1.3" opacity="0.78"/><circle cx="341.1" cy="99.4" r="1.6" opacity="0.84"/><circle cx="432.0" cy="145.4" r="1.3" opacity="0.58"/></g>
</g>
</g>
<rect x="490.7" y="222.6" width="18.3" height="6.7" fill="#000"/>
<rect x="492.2" y="229.3" width="16.8" height="1.5" fill="#e8e800"/>
<clipPath id="ca2"><rect x="522.8" y="71.2" width="223.8" height="167"/></clipPath>
<filter id="st2" x="0" y="0" width="100%" height="100%" color-interpolation-filters="sRGB"><feTurbulence type="fractalNoise" baseFrequency="0.045 0.3" numOctaves="2" seed="27"/><feColorMatrix type="matrix" values="1.5 0 0 0 -0.181  1.5 0 0 0 -0.181  1.5 0 0 0 -0.181  0 0 0 0 1"/></filter>
<filter id="lo2" x="0" y="0" width="100%" height="100%" color-interpolation-filters="sRGB"><feTurbulence type="fractalNoise" baseFrequency="0.012 0.02" numOctaves="2" seed="28"/><feColorMatrix type="matrix" values="1.6 0 0 0 -0.231  1.6 0 0 0 -0.231  1.6 0 0 0 -0.231  0 0 0 0 1"/></filter>
<g clip-path="url(#ca2)">
<rect x="522.8" y="71.2" width="223.8" height="167" fill="#919191"/>
<rect x="484.7" y="4.7" width="300" height="300" transform="rotate(45 634.7 154.7)" filter="url(#lo2)" opacity="0.07"/>
<rect x="484.7" y="4.7" width="300" height="300" transform="rotate(45 634.7 154.7)" filter="url(#st2)" opacity="0.07"/>
<g filter="url(#bl)" fill="none" stroke-linecap="round">
<path d="M576.1 162.1Q578.0 159.2 577.8 157.4L577.7 155.7M710.2 114.5Q711.0 117.4 711.5 118.8L712.1 120.2M715.5 109.9Q717.9 109.2 718.7 108.2L719.4 107.2M692.5 169.9Q691.0 167.3 691.0 165.8L691.1 164.3M682.6 225.0Q682.3 221.0 681.8 219.1L681.2 217.2M530.8 153.8Q533.3 155.6 534.6 156.3L535.9 157.1M709.3 167.1Q709.5 170.7 708.5 172.3Q707.5 173.8 705.9 174.7L704.3 175.6M744.6 183.3Q745.4 181.0 746.0 179.8L746.5 178.7M682.6 106.5Q685.1 108.8 685.4 110.6Q685.6 112.3 686.7 113.6Q687.9 115.0 688.4 116.6L688.9 118.3M614.7 96.4Q612.3 98.2 610.9 98.9L609.6 99.6M532.9 191.2Q532.6 187.7 532.0 186.0L531.4 184.4M540.0 171.4Q541.3 169.8 542.1 169.2L542.9 168.6M742.1 127.9Q745.6 128.3 747.3 128.2L749.1 128.1M716.8 184.9Q715.5 182.8 714.5 182.1L713.5 181.3M590.2 234.5Q586.5 234.2 584.7 233.9Q582.9 233.6 581.3 234.4L579.7 235.3M660.6 176.8Q659.5 175.1 658.8 174.4L658.1 173.7M681.0 194.5Q682.1 196.1 682.7 196.9L683.3 197.8M655.4 124.6Q653.2 122.0 652.7 120.3L652.2 118.6M546.3 207.0Q549.7 207.6 551.2 208.5Q552.6 209.5 554.3 209.9Q556.0 210.3 557.8 209.9L559.5 209.5M620.2 187.8Q618.2 186.3 617.5 185.3L616.9 184.2M737.8 84.6Q738.0 87.5 739.0 88.7Q740.0 89.8 740.2 91.3Q740.3 92.8 740.8 94.2Q741.3 95.6 741.2 97.1Q741.0 98.6 740.7 100.0L740.3 101.5M716.1 128.0Q714.0 125.9 712.9 124.8Q711.9 123.7 711.5 122.3Q711.1 120.8 710.6 119.4Q710.2 118.0 710.0 116.5Q709.8 115.0 709.2 113.6L708.5 112.3M650.0 77.1Q651.4 80.9 651.7 82.9L652.1 84.8M637.0 164.5Q639.0 166.8 639.9 167.9L640.9 169.1M587.5 128.2Q584.5 128.3 583.3 129.2L582.2 130.2M702.5 156.8Q703.5 153.9 704.4 152.7L705.4 151.6M561.3 121.3Q564.2 121.8 565.6 121.2Q567.0 120.6 567.9 119.4Q568.8 118.3 570.3 117.9Q571.8 117.5 573.2 117.2Q574.7 117.0 576.2 117.3L577.6 117.7M536.5 108.1Q538.3 109.9 538.5 111.1L538.8 112.3M703.2 208.7Q702.0 210.3 701.7 211.3L701.4 212.3M640.8 141.8Q640.7 144.8 641.5 146.1Q642.4 147.3 643.8 147.8L645.2 148.3M630.9 76.7Q628.5 77.7 627.5 78.4L626.5 79.1M667.6 169.2Q664.1 168.5 662.6 169.4L661.1 170.3M684.6 204.0Q682.6 201.2 681.6 199.7Q680.7 198.2 680.1 196.6Q679.4 195.0 677.9 194.0L676.5 193.1M721.2 80.1Q719.5 77.6 718.6 76.4Q717.6 75.2 716.4 74.5Q715.1 73.7 713.8 72.8Q712.6 72.0 711.6 70.8Q710.7 69.7 709.2 69.3L707.8 68.9M617.9 142.3Q617.6 140.3 618.0 139.4L618.4 138.5M550.0 186.5Q552.7 185.3 554.2 184.8Q555.6 184.4 556.5 183.2Q557.5 182.1 558.6 181.0Q559.7 180.0 559.9 178.5Q560.0 177.0 559.5 175.6L558.9 174.2M696.1 78.6Q694.1 80.1 692.9 80.3L691.6 80.6M549.9 212.1Q549.1 209.2 547.9 208.3Q546.8 207.4 546.0 206.1Q545.2 204.9 544.4 203.6Q543.7 202.3 543.3 200.8Q543.0 199.4 542.0 198.3L540.9 197.2M690.4 227.3Q691.8 228.7 692.7 229.1L693.6 229.5M578.7 174.1Q576.4 177.3 574.5 177.9L572.5 178.4M606.8 110.5Q609.6 113.3 610.9 114.8L612.2 116.4M729.6 185.7Q731.9 186.6 733.1 187.0L734.3 187.4M679.2 230.0Q681.8 232.2 683.6 232.6Q685.3 232.9 687.0 233.3Q688.7 233.7 689.9 235.0L691.1 236.2M713.4 161.1Q712.6 158.2 713.2 156.8L713.8 155.4M721.8 122.5Q719.1 123.7 718.0 124.7L716.9 125.7M630.8 215.5Q634.7 214.6 636.7 214.4L638.7 214.1M724.6 180.2Q725.6 181.9 725.7 182.9L725.9 183.9M737.7 149.3Q736.9 152.1 737.0 153.6L737.2 155.1M565.2 114.4Q566.7 116.4 566.9 117.6L567.1 118.9M592.9 141.9Q591.4 139.9 590.4 139.1L589.5 138.3M652.7 184.0Q651.1 182.7 650.2 182.5L649.2 182.2M653.7 230.7Q649.7 230.7 647.8 230.3L645.9 229.8M548.0 219.4Q545.9 217.2 544.8 216.1L543.7 215.1M671.2 183.1Q669.7 180.5 668.3 179.8L667.0 179.0M633.3 130.0Q634.2 132.9 635.2 134.0L636.3 135.0M605.8 224.8Q606.0 227.8 605.8 229.3Q605.6 230.8 605.5 232.3L605.5 233.8M590.1 102.4Q592.7 103.8 594.2 103.9Q595.7 103.9 597.2 104.1L598.7 104.3M651.7 136.6Q653.7 138.1 654.8 138.8L655.8 139.5M583.5 187.3Q582.4 183.9 582.6 182.0Q582.8 180.2 582.0 178.6L581.1 177.0M634.3 237.5Q635.4 239.7 635.3 240.9L635.1 242.2M547.9 187.8Q544.5 187.1 542.8 186.5Q541.2 185.9 539.4 186.2Q537.7 186.4 536.0 187.0L534.4 187.5M566.1 159.3Q562.8 158.2 561.6 156.9Q560.4 155.6 559.1 154.4Q557.8 153.3 556.4 152.3L555.0 151.3M705.1 124.0Q701.8 125.2 700.4 126.2Q699.0 127.2 697.2 127.5Q695.5 127.7 693.8 128.0L692.1 128.2M657.4 192.6Q658.8 194.0 659.5 194.7L660.2 195.4M566.1 159.6Q565.3 157.8 565.2 156.8L565.0 155.8M557.0 149.2Q559.3 150.1 560.4 150.6L561.6 151.1M634.4 74.4Q631.3 72.6 630.4 71.2L629.5 69.7M657.3 226.0Q655.9 223.9 654.8 223.5L653.6 223.0M567.6 187.9Q569.2 190.5 569.3 192.0L569.4 193.5M680.8 136.6Q678.9 134.3 677.4 133.9Q675.9 133.6 674.4 133.4L673.0 133.2M677.5 144.4Q674.8 143.1 673.5 142.4Q672.1 141.7 670.9 140.9L669.7 140.0M572.9 71.7Q570.0 70.8 568.5 71.0L567.1 71.2M569.6 99.7Q573.2 101.6 575.0 102.4L576.8 103.2M564.2 211.7Q560.9 214.0 559.7 215.6L558.6 217.3M531.6 153.6Q533.1 156.1 533.7 157.5L534.3 158.9M600.3 91.9Q599.1 90.3 598.4 89.6L597.8 88.8M731.6 121.4Q732.2 124.3 732.9 125.7L733.5 127.0M543.8 185.2Q545.9 186.5 547.1 186.3L548.4 186.2M635.4 151.7Q634.0 149.0 633.2 147.7L632.5 146.4M702.6 224.4Q701.8 221.5 701.1 220.2Q700.5 218.8 700.8 217.3Q701.0 215.9 700.7 214.4Q700.3 213.0 699.7 211.6Q699.2 210.2 698.6 208.8L698.1 207.4M645.3 160.8Q645.2 164.8 644.1 166.4L643.0 168.1M604.0 140.5Q601.0 140.7 599.5 140.8L598.0 141.0M691.3 224.0Q694.4 226.5 696.4 226.4L698.4 226.4M627.3 197.9Q625.5 195.4 624.9 194.1Q624.3 192.7 624.5 191.2Q624.6 189.7 625.5 188.5Q626.4 187.3 627.2 186.0Q627.9 184.7 629.3 184.1L630.6 183.4M686.8 126.9Q687.7 130.3 689.0 131.5L690.3 132.7" stroke="#404040" stroke-width="1.5" transform="translate(1.3 1.1)" opacity="0.5"/>
<path d="M576.1 162.1Q578.0 159.2 577.8 157.4L577.7 155.7M710.2 114.5Q711.0 117.4 711.5 118.8L712.1 120.2M715.5 109.9Q717.9 109.2 718.7 108.2L719.4 107.2M692.5 169.9Q691.0 167.3 691.0 165.8L691.1 164.3M682.6 225.0Q682.3 221.0 681.8 219.1L681.2 217.2M530.8 153.8Q533.3 155.6 534.6 156.3L535.9 157.1M709.3 167.1Q709.5 170.7 708.5 172.3Q707.5 173.8 705.9 174.7L704.3 175.6M744.6 183.3Q745.4 181.0 746.0 179.8L746.5 178.7M682.6 106.5Q685.1 108.8 685.4 110.6Q685.6 112.3 686.7 113.6Q687.9 115.0 688.4 116.6L688.9 118.3M614.7 96.4Q612.3 98.2 610.9 98.9L609.6 99.6M532.9 191.2Q532.6 187.7 532.0 186.0L531.4 184.4M540.0 171.4Q541.3 169.8 542.1 169.2L542.9 168.6M742.1 127.9Q745.6 128.3 747.3 128.2L749.1 128.1M716.8 184.9Q715.5 182.8 714.5 182.1L713.5 181.3M590.2 234.5Q586.5 234.2 584.7 233.9Q582.9 233.6 581.3 234.4L579.7 235.3M660.6 176.8Q659.5 175.1 658.8 174.4L658.1 173.7M681.0 194.5Q682.1 196.1 682.7 196.9L683.3 197.8M655.4 124.6Q653.2 122.0 652.7 120.3L652.2 118.6M546.3 207.0Q549.7 207.6 551.2 208.5Q552.6 209.5 554.3 209.9Q556.0 210.3 557.8 209.9L559.5 209.5M620.2 187.8Q618.2 186.3 617.5 185.3L616.9 184.2M737.8 84.6Q738.0 87.5 739.0 88.7Q740.0 89.8 740.2 91.3Q740.3 92.8 740.8 94.2Q741.3 95.6 741.2 97.1Q741.0 98.6 740.7 100.0L740.3 101.5M716.1 128.0Q714.0 125.9 712.9 124.8Q711.9 123.7 711.5 122.3Q711.1 120.8 710.6 119.4Q710.2 118.0 710.0 116.5Q709.8 115.0 709.2 113.6L708.5 112.3M650.0 77.1Q651.4 80.9 651.7 82.9L652.1 84.8M637.0 164.5Q639.0 166.8 639.9 167.9L640.9 169.1M587.5 128.2Q584.5 128.3 583.3 129.2L582.2 130.2M702.5 156.8Q703.5 153.9 704.4 152.7L705.4 151.6M561.3 121.3Q564.2 121.8 565.6 121.2Q567.0 120.6 567.9 119.4Q568.8 118.3 570.3 117.9Q571.8 117.5 573.2 117.2Q574.7 117.0 576.2 117.3L577.6 117.7M536.5 108.1Q538.3 109.9 538.5 111.1L538.8 112.3M703.2 208.7Q702.0 210.3 701.7 211.3L701.4 212.3M640.8 141.8Q640.7 144.8 641.5 146.1Q642.4 147.3 643.8 147.8L645.2 148.3M630.9 76.7Q628.5 77.7 627.5 78.4L626.5 79.1M667.6 169.2Q664.1 168.5 662.6 169.4L661.1 170.3M684.6 204.0Q682.6 201.2 681.6 199.7Q680.7 198.2 680.1 196.6Q679.4 195.0 677.9 194.0L676.5 193.1M721.2 80.1Q719.5 77.6 718.6 76.4Q717.6 75.2 716.4 74.5Q715.1 73.7 713.8 72.8Q712.6 72.0 711.6 70.8Q710.7 69.7 709.2 69.3L707.8 68.9M617.9 142.3Q617.6 140.3 618.0 139.4L618.4 138.5M550.0 186.5Q552.7 185.3 554.2 184.8Q555.6 184.4 556.5 183.2Q557.5 182.1 558.6 181.0Q559.7 180.0 559.9 178.5Q560.0 177.0 559.5 175.6L558.9 174.2M696.1 78.6Q694.1 80.1 692.9 80.3L691.6 80.6M549.9 212.1Q549.1 209.2 547.9 208.3Q546.8 207.4 546.0 206.1Q545.2 204.9 544.4 203.6Q543.7 202.3 543.3 200.8Q543.0 199.4 542.0 198.3L540.9 197.2M690.4 227.3Q691.8 228.7 692.7 229.1L693.6 229.5M578.7 174.1Q576.4 177.3 574.5 177.9L572.5 178.4M606.8 110.5Q609.6 113.3 610.9 114.8L612.2 116.4M729.6 185.7Q731.9 186.6 733.1 187.0L734.3 187.4M679.2 230.0Q681.8 232.2 683.6 232.6Q685.3 232.9 687.0 233.3Q688.7 233.7 689.9 235.0L691.1 236.2M713.4 161.1Q712.6 158.2 713.2 156.8L713.8 155.4M721.8 122.5Q719.1 123.7 718.0 124.7L716.9 125.7M630.8 215.5Q634.7 214.6 636.7 214.4L638.7 214.1M724.6 180.2Q725.6 181.9 725.7 182.9L725.9 183.9M737.7 149.3Q736.9 152.1 737.0 153.6L737.2 155.1M565.2 114.4Q566.7 116.4 566.9 117.6L567.1 118.9M592.9 141.9Q591.4 139.9 590.4 139.1L589.5 138.3M652.7 184.0Q651.1 182.7 650.2 182.5L649.2 182.2M653.7 230.7Q649.7 230.7 647.8 230.3L645.9 229.8M548.0 219.4Q545.9 217.2 544.8 216.1L543.7 215.1M671.2 183.1Q669.7 180.5 668.3 179.8L667.0 179.0M633.3 130.0Q634.2 132.9 635.2 134.0L636.3 135.0M605.8 224.8Q606.0 227.8 605.8 229.3Q605.6 230.8 605.5 232.3L605.5 233.8M590.1 102.4Q592.7 103.8 594.2 103.9Q595.7 103.9 597.2 104.1L598.7 104.3M651.7 136.6Q653.7 138.1 654.8 138.8L655.8 139.5M583.5 187.3Q582.4 183.9 582.6 182.0Q582.8 180.2 582.0 178.6L581.1 177.0M634.3 237.5Q635.4 239.7 635.3 240.9L635.1 242.2M547.9 187.8Q544.5 187.1 542.8 186.5Q541.2 185.9 539.4 186.2Q537.7 186.4 536.0 187.0L534.4 187.5M566.1 159.3Q562.8 158.2 561.6 156.9Q560.4 155.6 559.1 154.4Q557.8 153.3 556.4 152.3L555.0 151.3M705.1 124.0Q701.8 125.2 700.4 126.2Q699.0 127.2 697.2 127.5Q695.5 127.7 693.8 128.0L692.1 128.2M657.4 192.6Q658.8 194.0 659.5 194.7L660.2 195.4M566.1 159.6Q565.3 157.8 565.2 156.8L565.0 155.8M557.0 149.2Q559.3 150.1 560.4 150.6L561.6 151.1M634.4 74.4Q631.3 72.6 630.4 71.2L629.5 69.7M657.3 226.0Q655.9 223.9 654.8 223.5L653.6 223.0M567.6 187.9Q569.2 190.5 569.3 192.0L569.4 193.5M680.8 136.6Q678.9 134.3 677.4 133.9Q675.9 133.6 674.4 133.4L673.0 133.2M677.5 144.4Q674.8 143.1 673.5 142.4Q672.1 141.7 670.9 140.9L669.7 140.0M572.9 71.7Q570.0 70.8 568.5 71.0L567.1 71.2M569.6 99.7Q573.2 101.6 575.0 102.4L576.8 103.2M564.2 211.7Q560.9 214.0 559.7 215.6L558.6 217.3M531.6 153.6Q533.1 156.1 533.7 157.5L534.3 158.9M600.3 91.9Q599.1 90.3 598.4 89.6L597.8 88.8M731.6 121.4Q732.2 124.3 732.9 125.7L733.5 127.0M543.8 185.2Q545.9 186.5 547.1 186.3L548.4 186.2M635.4 151.7Q634.0 149.0 633.2 147.7L632.5 146.4M702.6 224.4Q701.8 221.5 701.1 220.2Q700.5 218.8 700.8 217.3Q701.0 215.9 700.7 214.4Q700.3 213.0 699.7 211.6Q699.2 210.2 698.6 208.8L698.1 207.4M645.3 160.8Q645.2 164.8 644.1 166.4L643.0 168.1M604.0 140.5Q601.0 140.7 599.5 140.8L598.0 141.0M691.3 224.0Q694.4 226.5 696.4 226.4L698.4 226.4M627.3 197.9Q625.5 195.4 624.9 194.1Q624.3 192.7 624.5 191.2Q624.6 189.7 625.5 188.5Q626.4 187.3 627.2 186.0Q627.9 184.7 629.3 184.1L630.6 183.4M686.8 126.9Q687.7 130.3 689.0 131.5L690.3 132.7" stroke="#dcdcdc" stroke-width="1.5" opacity="0.68"/>
<g fill="#fff" stroke="none"><circle cx="649.8" cy="91.2" r="1.2" opacity="0.81"/><circle cx="577.7" cy="81.2" r="1.2" opacity="0.81"/><circle cx="653.5" cy="75.1" r="1.3" opacity="0.94"/><circle cx="573.2" cy="164.9" r="1.4" opacity="0.86"/><circle cx="657.6" cy="201.7" r="1.5" opacity="0.63"/><circle cx="563.8" cy="86.1" r="1.7" opacity="0.60"/><circle cx="530.1" cy="230.7" r="1.2" opacity="0.91"/><circle cx="543.7" cy="149.0" r="1.3" opacity="0.88"/><circle cx="660.1" cy="177.8" r="1.6" opacity="0.90"/><circle cx="600.9" cy="171.5" r="1.4" opacity="0.59"/><circle cx="708.4" cy="170.1" r="1.7" opacity="0.63"/><circle cx="643.3" cy="148.9" r="1.6" opacity="0.58"/><circle cx="600.9" cy="152.2" r="1.2" opacity="0.77"/><circle cx="686.4" cy="142.1" r="1.6" opacity="0.79"/><circle cx="571.9" cy="130.3" r="1.8" opacity="0.68"/><circle cx="619.5" cy="86.9" r="1.3" opacity="0.62"/><circle cx="729.4" cy="191.6" r="1.7" opacity="0.94"/><circle cx="659.3" cy="225.0" r="1.5" opacity="0.72"/><circle cx="733.2" cy="220.4" r="1.8" opacity="0.74"/><circle cx="694.8" cy="139.5" r="1.8" opacity="0.92"/><circle cx="589.0" cy="225.5" r="1.2" opacity="0.59"/><circle cx="683.6" cy="121.2" r="1.5" opacity="0.81"/><circle cx="533.7" cy="194.7" r="1.3" opacity="0.72"/><circle cx="600.6" cy="194.2" r="1.6" opacity="0.66"/><circle cx="547.5" cy="122.0" r="1.4" opacity="0.58"/><circle cx="558.5" cy="197.5" r="1.6" opacity="0.94"/><circle cx="740.1" cy="216.0" r="1.4" opacity="0.61"/><circle cx="593.4" cy="148.7" r="1.5" opacity="0.77"/><circle cx="603.9" cy="212.2" r="1.3" opacity="0.74"/><circle cx="719.7" cy="204.8" r="1.3" opacity="0.65"/><circle cx="702.1" cy="74.8" r="1.2" opacity="0.76"/><circle cx="642.6" cy="100.2" r="1.1" opacity="0.63"/><circle cx="694.0" cy="149.1" r="1.8" opacity="0.86"/><circle cx="740.0" cy="78.9" r="1.2" opacity="0.56"/><circle cx="619.8" cy="128.3" r="1.1" opacity="0.77"/><circle cx="545.4" cy="124.0" r="1.3" opacity="0.87"/><circle cx="616.7" cy="115.6" r="1.1" opacity="0.72"/><circle cx="662.7" cy="183.3" r="1.7" opacity="0.87"/><circle cx="579.2" cy="95.3" r="1.6" opacity="0.87"/><circle cx="636.6" cy="208.7" r="1.5" opacity="0.66"/></g>
</g>
</g>
<rect x="724.1" y="226.1" width="18" height="6.5" fill="#000"/>
<rect x="725.6" y="232.6" width="16.5" height="1.5" fill="#e8e800"/>
<clipPath id="ca3"><rect x="58.1" y="248.3" width="223.4" height="165.9"/></clipPath>
<filter id="st3" x="0" y="0" width="100%" height="100%" color-interpolation-filters="sRGB"><feTurbulence type="fractalNoise" baseFrequency="0.045 0.3" numOctaves="2" seed="35"/><feColorMatrix type="matrix" values="1.5 0 0 0 -0.209  1.5 0 0 0 -0.209  1.5 0 0 0 -0.209  0 0 0 0 1"/></filter>
<filter id="lo3" x="0" y="0" width="100%" height="100%" color-interpolation-filters="sRGB"><feTurbulence type="fractalNoise" baseFrequency="0.012 0.02" numOctaves="2" seed="36"/><feColorMatrix type="matrix" values="1.6 0 0 0 -0.259  1.6 0 0 0 -0.259  1.6 0 0 0 -0.259  0 0 0 0 1"/></filter>
<g clip-path="url(#ca3)">
<rect x="58.1" y="248.3" width="223.4" height="165.9" fill="#8a8a8a"/>
<rect x="19.8" y="181.25" width="300" height="300" transform="rotate(-50 169.8 331.25)" filter="url(#lo3)" opacity="0.06"/>
<rect x="19.8" y="181.25" width="300" height="300" transform="rotate(-50 169.8 331.25)" filter="url(#st3)" opacity="0.03"/>
<g filter="url(#bl)" fill="none" stroke-linecap="round">
<path d="M110.8 265.4Q110.9 262.4 111.8 261.1Q112.7 259.8 114.0 259.1L115.3 258.3M229.0 285.1Q231.2 282.8 232.8 282.5Q234.3 282.2 235.4 281.1Q236.4 279.9 237.7 278.9L238.9 277.9M116.2 293.4Q115.3 296.1 114.5 297.3L113.7 298.5M171.1 277.8Q171.8 281.2 171.6 282.9Q171.5 284.6 171.8 286.3L172.1 288.0M229.0 280.7Q226.0 280.1 224.5 280.3Q223.0 280.5 221.5 280.1L220.0 279.7M76.2 325.1Q72.8 325.5 71.1 325.3L69.4 325.1M72.9 399.9Q72.2 403.2 71.6 404.8Q71.0 406.5 70.1 407.9Q69.3 409.4 69.1 411.1Q68.9 412.9 69.1 414.6Q69.3 416.3 68.8 417.9L68.2 419.5M216.3 294.3Q218.7 292.2 219.6 290.8Q220.4 289.5 220.2 287.9Q220.0 286.3 219.5 284.7Q219.1 283.2 217.8 282.2L216.5 281.2M273.6 295.7Q274.4 292.3 273.9 290.7Q273.5 289.0 273.4 287.3Q273.3 285.6 274.1 284.0Q274.9 282.5 276.3 281.5Q277.8 280.6 279.4 280.0L281.0 279.4M75.5 350.8Q72.3 352.0 70.8 353.0Q69.4 354.0 68.9 355.7L68.5 357.3M68.1 276.4Q69.0 272.5 70.4 271.1L71.8 269.7M83.5 258.6Q85.7 256.8 86.9 256.1L88.2 255.3M129.9 254.2Q129.8 257.4 130.4 258.8Q131.0 260.3 131.7 261.7Q132.4 263.1 133.1 264.5L133.9 265.9M107.0 321.9Q107.2 318.4 106.7 316.8Q106.1 315.1 105.1 313.8Q104.0 312.4 102.5 311.6Q101.0 310.8 99.3 310.6Q97.6 310.3 96.2 309.3L94.8 308.3M89.8 256.8Q88.3 253.1 88.5 251.1L88.8 249.1M218.4 255.0Q221.3 254.3 222.8 254.8Q224.2 255.4 225.7 255.3L227.2 255.1M124.3 326.5Q122.2 329.2 120.8 330.2Q119.4 331.3 118.4 332.7Q117.5 334.2 115.9 334.8Q114.3 335.4 112.6 335.0Q110.9 334.6 109.3 335.1L107.7 335.7M275.0 407.9Q276.4 411.0 276.0 412.7Q275.5 414.4 274.7 415.9Q273.9 417.4 274.1 419.1Q274.4 420.8 275.3 422.3Q276.3 423.7 277.0 425.3L277.6 426.9M185.3 372.1Q184.8 369.1 184.9 367.6Q184.9 366.0 184.4 364.6L183.9 363.1M146.5 376.0Q148.6 373.7 149.9 372.9Q151.1 372.0 152.2 370.9L153.2 369.8M257.3 376.6Q256.7 373.2 256.6 371.5Q256.4 369.8 256.3 368.1L256.2 366.4M251.3 349.2Q253.8 347.8 254.3 346.4L254.8 345.1M245.2 385.6Q248.1 385.6 249.5 385.2L250.9 384.9M110.3 329.0Q113.4 329.2 114.9 329.0Q116.4 328.8 117.7 329.6L119.0 330.4M151.0 366.3Q154.4 365.9 156.2 365.7Q157.9 365.5 159.2 364.4L160.6 363.3M182.8 309.9Q185.2 308.4 186.1 307.2L187.0 306.1M275.6 249.1Q276.5 251.8 276.4 253.3L276.3 254.7M192.4 335.6Q189.9 337.6 188.3 337.6Q186.7 337.6 185.2 337.3Q183.6 337.0 182.2 336.3L180.7 335.7M194.3 300.3Q191.0 301.4 189.4 302.1Q187.8 302.8 186.2 303.2L184.5 303.6M145.6 290.1Q146.7 293.1 147.9 294.2Q149.1 295.3 149.7 296.7Q150.3 298.2 151.5 299.3Q152.7 300.4 153.2 301.9L153.7 303.4M141.2 343.9Q142.7 340.1 144.4 339.0L146.0 337.8M131.7 310.0Q133.9 308.1 135.3 307.6L136.6 307.1M77.9 307.9Q77.0 310.6 77.4 312.0L77.8 313.4M264.9 411.9Q267.7 411.2 268.9 410.4L270.1 409.7M265.4 315.7Q265.7 318.9 266.4 320.3Q267.2 321.7 268.2 323.0Q269.3 324.2 270.1 325.6Q270.9 326.9 270.7 328.5L270.4 330.1M258.9 314.7Q258.0 317.6 258.6 319.0Q259.1 320.5 260.2 321.5L261.3 322.6M178.8 363.3Q181.8 362.2 182.8 360.9Q183.9 359.7 184.1 358.1Q184.3 356.5 185.4 355.4Q186.5 354.2 188.1 354.1L189.7 353.9M263.6 348.5Q261.0 350.7 259.7 351.8L258.4 353.0M193.0 259.3Q195.4 256.8 197.0 256.2L198.6 255.5M210.2 339.1Q209.3 336.0 208.0 335.1Q206.7 334.2 205.3 333.6Q203.8 333.0 202.2 333.3L200.7 333.5M71.8 413.0Q75.0 411.7 76.7 412.2L78.3 412.6M254.4 367.7Q257.1 366.1 258.5 365.3Q259.8 364.5 260.7 363.2Q261.5 361.8 262.9 361.0L264.3 360.2M166.3 259.5Q164.3 261.6 163.6 262.9L162.9 264.1M147.6 276.5Q149.0 274.8 149.5 273.7L149.9 272.6M234.5 262.5Q235.7 259.9 236.3 258.6L236.9 257.3M218.6 279.0Q221.3 276.8 222.7 275.8Q224.1 274.8 224.9 273.3L225.7 271.7M164.2 398.1Q164.9 402.1 164.9 404.1L164.9 406.1M115.2 390.6Q112.2 389.0 111.2 387.6Q110.2 386.1 110.1 384.4Q110.0 382.7 110.9 381.2Q111.7 379.7 113.2 378.8Q114.6 377.9 116.3 377.4L117.9 376.8M214.2 348.6Q212.0 350.9 211.8 352.5Q211.6 354.0 211.3 355.6Q211.1 357.1 210.2 358.4L209.3 359.7M216.9 254.8Q218.3 251.6 219.8 250.8Q221.3 249.9 223.0 249.9Q224.8 249.8 226.5 249.7Q228.2 249.7 229.5 248.6Q230.8 247.4 232.5 247.0L234.1 246.6M197.4 351.5Q198.2 349.4 198.2 348.2L198.1 347.1M113.8 370.8Q109.9 371.8 108.0 372.6L106.1 373.3M96.7 330.2Q95.4 332.8 95.3 334.2L95.3 335.6M215.2 301.7Q218.5 302.8 219.8 303.9L221.2 305.0M149.0 352.4Q150.3 349.6 149.9 348.1Q149.6 346.6 148.7 345.3L147.9 344.0M122.2 400.0Q120.0 401.9 119.5 403.2L118.9 404.5M78.7 283.4Q78.7 280.0 77.7 278.6L76.6 277.3M185.5 282.1Q187.7 280.3 188.5 279.1L189.3 277.9M184.8 357.9Q187.7 357.8 189.1 358.2L190.4 358.7M237.1 360.5Q233.9 361.8 232.2 361.8L230.4 361.8M246.6 411.9Q245.3 409.4 244.1 408.5L242.9 407.7M268.0 402.4Q268.2 398.9 267.5 397.4Q266.8 395.8 266.0 394.3Q265.2 392.8 264.5 391.2Q263.8 389.6 263.2 388.0Q262.6 386.4 261.7 384.9L260.8 383.4M224.2 387.4Q224.3 389.7 224.2 390.8L224.1 392.0M101.6 351.9Q104.5 349.2 105.6 347.5L106.7 345.8M277.4 283.6Q275.1 283.9 274.1 283.4L273.0 282.9M169.2 255.2Q171.1 252.3 172.3 251.1L173.5 249.8M136.4 249.3Q134.7 251.6 133.7 252.6L132.7 253.6M70.2 261.3Q71.5 258.7 72.4 257.6L73.2 256.4M192.0 368.5Q193.2 366.6 193.1 365.4L193.0 364.3M99.0 295.7Q98.7 298.7 98.2 300.2Q97.8 301.6 97.2 303.1L96.6 304.5M272.3 403.6Q274.1 400.7 275.6 399.9L277.1 399.0M102.1 326.5Q104.1 324.5 105.4 323.8L106.7 323.1M191.4 256.8Q192.7 253.0 194.1 251.6L195.6 250.2M91.4 277.5Q94.2 279.1 95.4 280.2Q96.6 281.2 97.4 282.6Q98.2 284.1 98.8 285.5Q99.5 287.0 99.7 288.6L99.8 290.2M72.1 271.6Q69.2 272.6 67.6 272.4Q66.1 272.2 64.7 272.9L63.4 273.6M154.9 261.6Q157.4 259.7 158.9 259.7Q160.4 259.7 161.8 260.3L163.2 260.9M103.2 400.6Q106.0 401.3 107.4 401.7L108.8 402.1M175.4 259.1Q177.8 257.0 179.1 256.1Q180.4 255.2 181.9 254.6Q183.3 254.0 184.2 252.7L185.1 251.4M155.6 270.8Q153.2 272.5 152.6 273.8L152.0 275.1M188.9 344.5Q190.8 342.0 191.9 340.8Q192.9 339.5 193.9 338.2Q194.8 336.9 195.3 335.4Q195.9 333.9 196.1 332.3L196.3 330.7" stroke="#404040" stroke-width="1.5" transform="translate(1.3 1.1)" opacity="0.5"/>
<path d="M110.8 265.4Q110.9 262.4 111.8 261.1Q112.7 259.8 114.0 259.1L115.3 258.3M229.0 285.1Q231.2 282.8 232.8 282.5Q234.3 282.2 235.4 281.1Q236.4 279.9 237.7 278.9L238.9 277.9M116.2 293.4Q115.3 296.1 114.5 297.3L113.7 298.5M171.1 277.8Q171.8 281.2 171.6 282.9Q171.5 284.6 171.8 286.3L172.1 288.0M229.0 280.7Q226.0 280.1 224.5 280.3Q223.0 280.5 221.5 280.1L220.0 279.7M76.2 325.1Q72.8 325.5 71.1 325.3L69.4 325.1M72.9 399.9Q72.2 403.2 71.6 404.8Q71.0 406.5 70.1 407.9Q69.3 409.4 69.1 411.1Q68.9 412.9 69.1 414.6Q69.3 416.3 68.8 417.9L68.2 419.5M216.3 294.3Q218.7 292.2 219.6 290.8Q220.4 289.5 220.2 287.9Q220.0 286.3 219.5 284.7Q219.1 283.2 217.8 282.2L216.5 281.2M273.6 295.7Q274.4 292.3 273.9 290.7Q273.5 289.0 273.4 287.3Q273.3 285.6 274.1 284.0Q274.9 282.5 276.3 281.5Q277.8 280.6 279.4 280.0L281.0 279.4M75.5 350.8Q72.3 352.0 70.8 353.0Q69.4 354.0 68.9 355.7L68.5 357.3M68.1 276.4Q69.0 272.5 70.4 271.1L71.8 269.7M83.5 258.6Q85.7 256.8 86.9 256.1L88.2 255.3M129.9 254.2Q129.8 257.4 130.4 258.8Q131.0 260.3 131.7 261.7Q132.4 263.1 133.1 264.5L133.9 265.9M107.0 321.9Q107.2 318.4 106.7 316.8Q106.1 315.1 105.1 313.8Q104.0 312.4 102.5 311.6Q101.0 310.8 99.3 310.6Q97.6 310.3 96.2 309.3L94.8 308.3M89.8 256.8Q88.3 253.1 88.5 251.1L88.8 249.1M218.4 255.0Q221.3 254.3 222.8 254.8Q224.2 255.4 225.7 255.3L227.2 255.1M124.3 326.5Q122.2 329.2 120.8 330.2Q119.4 331.3 118.4 332.7Q117.5 334.2 115.9 334.8Q114.3 335.4 112.6 335.0Q110.9 334.6 109.3 335.1L107.7 335.7M275.0 407.9Q276.4 411.0 276.0 412.7Q275.5 414.4 274.7 415.9Q273.9 417.4 274.1 419.1Q274.4 420.8 275.3 422.3Q276.3 423.7 277.0 425.3L277.6 426.9M185.3 372.1Q184.8 369.1 184.9 367.6Q184.9 366.0 184.4 364.6L183.9 363.1M146.5 376.0Q148.6 373.7 149.9 372.9Q151.1 372.0 152.2 370.9L153.2 369.8M257.3 376.6Q256.7 373.2 256.6 371.5Q256.4 369.8 256.3 368.1L256.2 366.4M251.3 349.2Q253.8 347.8 254.3 346.4L254.8 345.1M245.2 385.6Q248.1 385.6 249.5 385.2L250.9 384.9M110.3 329.0Q113.4 329.2 114.9 329.0Q116.4 328.8 117.7 329.6L119.0 330.4M151.0 366.3Q154.4 365.9 156.2 365.7Q157.9 365.5 159.2 364.4L160.6 363.3M182.8 309.9Q185.2 308.4 186.1 307.2L187.0 306.1M275.6 249.1Q276.5 251.8 276.4 253.3L276.3 254.7M192.4 335.6Q189.9 337.6 188.3 337.6Q186.7 337.6 185.2 337.3Q183.6 337.0 182.2 336.3L180.7 335.7M194.3 300.3Q191.0 301.4 189.4 302.1Q187.8 302.8 186.2 303.2L184.5 303.6M145.6 290.1Q146.7 293.1 147.9 294.2Q149.1 295.3 149.7 296.7Q150.3 298.2 151.5 299.3Q152.7 300.4 153.2 301.9L153.7 303.4M141.2 343.9Q142.7 340.1 144.4 339.0L146.0 337.8M131.7 310.0Q133.9 308.1 135.3 307.6L136.6 307.1M77.9 307.9Q77.0 310.6 77.4 312.0L77.8 313.4M264.9 411.9Q267.7 411.2 268.9 410.4L270.1 409.7M265.4 315.7Q265.7 318.9 266.4 320.3Q267.2 321.7 268.2 323.0Q269.3 324.2 270.1 325.6Q270.9 326.9 270.7 328.5L270.4 330.1M258.9 314.7Q258.0 317.6 258.6 319.0Q259.1 320.5 260.2 321.5L261.3 322.6M178.8 363.3Q181.8 362.2 182.8 360.9Q183.9 359.7 184.1 358.1Q184.3 356.5 185.4 355.4Q186.5 354.2 188.1 354.1L189.7 353.9M263.6 348.5Q261.0 350.7 259.7 351.8L258.4 353.0M193.0 259.3Q195.4 256.8 197.0 256.2L198.6 255.5M210.2 339.1Q209.3 336.0 208.0 335.1Q206.7 334.2 205.3 333.6Q203.8 333.0 202.2 333.3L200.7 333.5M71.8 413.0Q75.0 411.7 76.7 412.2L78.3 412.6M254.4 367.7Q257.1 366.1 258.5 365.3Q259.8 364.5 260.7 363.2Q261.5 361.8 262.9 361.0L264.3 360.2M166.3 259.5Q164.3 261.6 163.6 262.9L162.9 264.1M147.6 276.5Q149.0 274.8 149.5 273.7L149.9 272.6M234.5 262.5Q235.7 259.9 236.3 258.6L236.9 257.3M218.6 279.0Q221.3 276.8 222.7 275.8Q224.1 274.8 224.9 273.3L225.7 271.7M164.2 398.1Q164.9 402.1 164.9 404.1L164.9 406.1M115.2 390.6Q112.2 389.0 111.2 387.6Q110.2 386.1 110.1 384.4Q110.0 382.7 110.9 381.2Q111.7 379.7 113.2 378.8Q114.6 377.9 116.3 377.4L117.9 376.8M214.2 348.6Q212.0 350.9 211.8 352.5Q211.6 354.0 211.3 355.6Q211.1 357.1 210.2 358.4L209.3 359.7M216.9 254.8Q218.3 251.6 219.8 250.8Q221.3 249.9 223.0 249.9Q224.8 249.8 226.5 249.7Q228.2 249.7 229.5 248.6Q230.8 247.4 232.5 247.0L234.1 246.6M197.4 351.5Q198.2 349.4 198.2 348.2L198.1 347.1M113.8 370.8Q109.9 371.8 108.0 372.6L106.1 373.3M96.7 330.2Q95.4 332.8 95.3 334.2L95.3 335.6M215.2 301.7Q218.5 302.8 219.8 303.9L221.2 305.0M149.0 352.4Q150.3 349.6 149.9 348.1Q149.6 346.6 148.7 345.3L147.9 344.0M122.2 400.0Q120.0 401.9 119.5 403.2L118.9 404.5M78.7 283.4Q78.7 280.0 77.7 278.6L76.6 277.3M185.5 282.1Q187.7 280.3 188.5 279.1L189.3 277.9M184.8 357.9Q187.7 357.8 189.1 358.2L190.4 358.7M237.1 360.5Q233.9 361.8 232.2 361.8L230.4 361.8M246.6 411.9Q245.3 409.4 244.1 408.5L242.9 407.7M268.0 402.4Q268.2 398.9 267.5 397.4Q266.8 395.8 266.0 394.3Q265.2 392.8 264.5 391.2Q263.8 389.6 263.2 388.0Q262.6 386.4 261.7 384.9L260.8 383.4M224.2 387.4Q224.3 389.7 224.2 390.8L224.1 392.0M101.6 351.9Q104.5 349.2 105.6 347.5L106.7 345.8M277.4 283.6Q275.1 283.9 274.1 283.4L273.0 282.9M169.2 255.2Q171.1 252.3 172.3 251.1L173.5 249.8M136.4 249.3Q134.7 251.6 133.7 252.6L132.7 253.6M70.2 261.3Q71.5 258.7 72.4 257.6L73.2 256.4M192.0 368.5Q193.2 366.6 193.1 365.4L193.0 364.3M99.0 295.7Q98.7 298.7 98.2 300.2Q97.8 301.6 97.2 303.1L96.6 304.5M272.3 403.6Q274.1 400.7 275.6 399.9L277.1 399.0M102.1 326.5Q104.1 324.5 105.4 323.8L106.7 323.1M191.4 256.8Q192.7 253.0 194.1 251.6L195.6 250.2M91.4 277.5Q94.2 279.1 95.4 280.2Q96.6 281.2 97.4 282.6Q98.2 284.1 98.8 285.5Q99.5 287.0 99.7 288.6L99.8 290.2M72.1 271.6Q69.2 272.6 67.6 272.4Q66.1 272.2 64.7 272.9L63.4 273.6M154.9 261.6Q157.4 259.7 158.9 259.7Q160.4 259.7 161.8 260.3L163.2 260.9M103.2 400.6Q106.0 401.3 107.4 401.7L108.8 402.1M175.4 259.1Q177.8 257.0 179.1 256.1Q180.4 255.2 181.9 254.6Q183.3 254.0 184.2 252.7L185.1 251.4M155.6 270.8Q153.2 272.5 152.6 273.8L152.0 275.1M188.9 344.5Q190.8 342.0 191.9 340.8Q192.9 339.5 193.9 338.2Q194.8 336.9 195.3 335.4Q195.9 333.9 196.1 332.3L196.3 330.7" stroke="#dcdcdc" stroke-width="1.5" opacity="0.68"/>
<g fill="#fff" stroke="none"><circle cx="226.6" cy="335.3" r="1.5" opacity="0.65"/><circle cx="197.2" cy="277.9" r="1.4" opacity="0.81"/><circle cx="179.5" cy="344.3" r="1.5" opacity="0.63"/><circle cx="270.2" cy="361.0" r="1.6" opacity="0.93"/><circle cx="159.2" cy="304.2" r="1.3" opacity="0.68"/><circle cx="126.0" cy="301.5" r="1.2" opacity="0.74"/><circle cx="124.2" cy="310.0" r="1.6" opacity="0.68"/><circle cx="249.5" cy="379.4" r="1.3" opacity="0.88"/><circle cx="98.8" cy="265.8" r="1.8" opacity="0.56"/><circle cx="61.3" cy="390.7" r="1.1" opacity="0.81"/><circle cx="182.0" cy="286.4" r="1.3" opacity="0.94"/><circle cx="146.4" cy="289.4" r="1.4" opacity="0.84"/><circle cx="123.9" cy="264.7" r="1.7" opacity="0.59"/><circle cx="72.3" cy="251.1" r="1.8" opacity="0.72"/><circle cx="221.9" cy="340.6" r="1.8" opacity="0.69"/><circle cx="136.8" cy="360.7" r="1.1" opacity="0.70"/><circle cx="226.7" cy="343.0" r="1.4" opacity="0.92"/><circle cx="155.1" cy="368.6" r="1.4" opacity="0.58"/><circle cx="145.1" cy="284.4" r="1.1" opacity="0.66"/><circle cx="87.8" cy="324.2" r="1.6" opacity="0.85"/><circle cx="253.9" cy="301.7" r="1.6" opacity="0.91"/><circle cx="147.0" cy="398.2" r="1.2" opacity="0.92"/><circle cx="253.4" cy="409.0" r="1.7" opacity="0.83"/><circle cx="155.6" cy="366.5" r="1.7" opacity="0.78"/><circle cx="196.5" cy="399.9" r="1.3" opacity="0.68"/><circle cx="67.9" cy="392.4" r="1.5" opacity="0.82"/><circle cx="112.3" cy="280.2" r="1.4" opacity="0.90"/><circle cx="137.9" cy="318.6" r="1.4" opacity="0.89"/><circle cx="87.3" cy="390.4" r="1.1" opacity="0.83"/><circle cx="227.6" cy="326.3" r="1.6" opacity="0.66"/><circle cx="91.1" cy="308.6" r="1.3" opacity="0.84"/><circle cx="183.9" cy="357.3" r="1.8" opacity="0.86"/><circle cx="233.8" cy="407.3" r="1.8" opacity="0.85"/><circle cx="136.4" cy="332.6" r="1.6" opacity="0.86"/><circle cx="257.5" cy="370.5" r="1.6" opacity="0.65"/><circle cx="196.5" cy="280.6" r="1.6" opacity="0.62"/><circle cx="64.0" cy="405.0" r="1.7" opacity="0.67"/><circle cx="70.0" cy="382.8" r="1.6" opacity="0.61"/><circle cx="239.4" cy="386.0" r="1.5" opacity="0.66"/><circle cx="72.5" cy="260.6" r="1.4" opacity="0.84"/><circle cx="200.1" cy="286.7" r="1.7" opacity="0.58"/><circle cx="194.8" cy="278.5" r="1.1" opacity="0.63"/><circle cx="234.7" cy="285.9" r="1.1" opacity="0.74"/><circle cx="136.7" cy="343.2" r="1.5" opacity="0.83"/><circle cx="261.0" cy="305.1" r="1.5" opacity="0.60"/><circle cx="115.2" cy="265.9" r="1.7" opacity="0.69"/><circle cx="216.0" cy="392.3" r="1.4" opacity="0.63"/><circle cx="114.5" cy="329.5" r="1.4" opacity="0.58"/><circle cx="246.7" cy="353.8" r="1.7" opacity="0.89"/><circle cx="219.3" cy="383.7" r="1.6" opacity="0.72"/><circle cx="239.7" cy="398.9" r="1.2" opacity="0.61"/><circle cx="97.4" cy="324.1" r="1.7" opacity="0.76"/><circle cx="247.7" cy="309.6" r="1.5" opacity="0.65"/><circle cx="200.5" cy="294.0" r="1.1" opacity="0.71"/><circle cx="183.8" cy="393.0" r="1.3" opacity="0.92"/><circle cx="238.2" cy="275.8" r="1.6" opacity="0.92"/><circle cx="271.2" cy="362.3" r="1.4" opacity="0.77"/><circle cx="202.9" cy="349.6" r="1.2" opacity="0.90"/><circle cx="178.7" cy="261.8" r="1.3" opacity="0.58"/><circle cx="161.2" cy="265.5" r="1.5" opacity="0.66"/><circle cx="241.6" cy="374.8" r="1.2" opacity="0.87"/><circle cx="187.8" cy="294.0" r="1.7" opacity="0.55"/><circle cx="147.6" cy="347.2" r="1.2" opacity="0.75"/><circle cx="254.1" cy="305.9" r="1.6" opacity="0.63"/><circle cx="274.1" cy="406.4" r="1.2" opacity="0.86"/><circle cx="133.3" cy="255.5" r="1.2" opacity="0.84"/><circle cx="162.2" cy="336.0" r="1.2" opacity="0.62"/><circle cx="140.2" cy="333.5" r="1.7" opacity="0.73"/><circle cx="132.0" cy="398.2" r="1.6" opacity="0.85"/><circle cx="236.8" cy="328.8" r="1.3" opacity="0.59"/><circle cx="204.3" cy="371.5" r="1.7" opacity="0.92"/><circle cx="170.6" cy="329.5" r="1.8" opacity="0.58"/><circle cx="142.3" cy="338.6" r="1.5" opacity="0.79"/><circle cx="94.8" cy="332.6" r="1.2" opacity="0.70"/><circle cx="99.4" cy="302.1" r="1.5" opacity="0.71"/></g>
</g>
</g>
<rect x="259.4" y="400.4" width="17.6" height="7" fill="#000"/>
<rect x="260.9" y="407.4" width="16.1" height="1.5" fill="#e8e800"/>
<clipPath id="ca4"><rect x="293.2" y="248.3" width="220.1" height="165.9"/></clipPath>
<filter id="st4" x="0" y="0" width="100%" height="100%" color-interpolation-filters="sRGB"><feTurbulence type="fractalNoise" baseFrequency="0.045 0.3" numOctaves="2" seed="43"/><feColorMatrix type="matrix" values="1.5 0 0 0 -0.221  1.5 0 0 0 -0.221  1.5 0 0 0 -0.221  0 0 0 0 1"/></filter>
<filter id="lo4" x="0" y="0" width="100%" height="100%" color-interpolation-filters="sRGB"><feTurbulence type="fractalNoise" baseFrequency="0.006 0.03" numOctaves="2" seed="44"/><feColorMatrix type="matrix" values="1.6 0 0 0 -0.271  1.6 0 0 0 -0.271  1.6 0 0 0 -0.271  0 0 0 0 1"/></filter>
<g clip-path="url(#ca4)">
<rect x="293.2" y="248.3" width="220.1" height="165.9" fill="#878787"/>
<rect x="253.25" y="181.25" width="300" height="300" transform="rotate(50 403.25 331.25)" filter="url(#lo4)" opacity="0.2"/>
<rect x="253.25" y="181.25" width="300" height="300" transform="rotate(50 403.25 331.25)" filter="url(#st4)" opacity="0.07"/>
<g filter="url(#bl)" fill="none" stroke-linecap="round">
<path d="M430.3 371.4Q430.0 374.3 430.4 375.8Q430.7 377.3 431.9 378.2Q433.0 379.2 434.5 379.5Q436.0 379.8 437.5 379.9Q439.0 379.9 440.2 380.7L441.5 381.5M377.0 265.2Q379.9 266.1 380.9 267.3L381.9 268.4M378.9 374.7Q381.3 374.0 382.5 374.3L383.7 374.6M339.3 284.0Q336.9 283.5 335.9 282.6L335.0 281.8M430.9 278.4Q433.3 276.6 434.0 275.3L434.6 273.9M325.3 259.1Q326.1 262.0 327.3 262.9L328.5 263.9M371.4 299.1Q373.9 301.6 374.1 303.3L374.3 305.0M298.2 372.7Q302.2 372.9 303.8 371.8L305.5 370.6M303.5 278.3Q302.2 281.0 301.9 282.5L301.5 283.9M371.3 335.3Q368.9 333.5 368.5 332.1Q368.1 330.6 367.0 329.6L365.8 328.7M368.2 349.6Q370.5 350.6 371.8 350.5L373.0 350.4M310.4 273.0Q313.0 274.6 314.1 275.5L315.3 276.5M496.5 253.6Q493.8 251.3 492.1 251.1Q490.3 251.0 489.0 249.9Q487.6 248.8 485.8 248.8L484.1 248.8M401.8 387.4Q402.2 389.9 403.0 390.8L403.8 391.8M388.8 273.1Q385.6 275.3 384.6 277.1L383.6 278.8M408.1 407.6Q407.5 404.1 406.4 402.8L405.2 401.5M474.1 336.5Q472.4 334.7 471.5 333.8L470.6 333.0M406.6 339.2Q405.8 335.7 406.0 333.8Q406.2 332.0 406.1 330.2L406.0 328.4M448.3 294.9Q447.2 292.1 446.1 291.1Q445.0 290.0 444.5 288.6L444.1 287.2M397.6 376.7Q395.2 374.1 394.4 372.6L393.5 371.0M371.7 293.7Q372.4 290.3 373.6 289.0L374.8 287.7M444.7 410.2Q448.0 411.3 449.2 412.6L450.5 413.8M355.5 261.4Q355.3 264.4 355.2 265.9Q355.1 267.4 354.1 268.5Q353.1 269.7 352.5 271.1Q351.9 272.4 351.2 273.8Q350.5 275.1 349.3 275.9L348.0 276.7M352.8 413.5Q355.1 415.5 355.8 416.8L356.5 418.1M332.9 367.5Q335.9 366.9 337.2 366.3Q338.6 365.7 339.5 364.5L340.5 363.3M335.8 254.2Q338.2 255.9 338.8 257.3Q339.3 258.7 340.7 259.4L342.0 260.1M382.4 294.5Q382.2 290.5 381.5 288.6L380.8 286.7M358.2 333.3Q356.8 330.2 356.8 328.4Q356.8 326.7 357.2 324.9Q357.6 323.2 357.6 321.5L357.7 319.7M324.5 347.2Q324.4 350.7 324.7 352.4Q325.0 354.1 324.4 355.7Q323.8 357.4 324.3 359.0L324.9 360.7M317.0 342.2Q317.0 338.7 316.7 336.9Q316.4 335.2 315.9 333.5Q315.5 331.8 314.4 330.4L313.4 329.0M357.4 409.6Q360.5 412.1 361.0 414.0L361.5 415.9M402.4 317.2Q399.5 315.4 398.0 314.5L396.5 313.6M320.0 351.4Q319.7 354.4 320.5 355.7Q321.4 356.9 322.1 358.2L322.9 359.5M353.5 403.5Q353.5 401.5 353.3 400.5L353.0 399.5M401.5 413.0Q405.1 412.1 406.7 411.1Q408.2 410.2 410.0 409.7L411.8 409.2M428.2 369.6Q428.2 367.6 427.6 366.8L427.1 365.9M293.8 340.1Q296.2 341.9 297.4 342.7Q298.7 343.6 299.9 344.5Q301.0 345.4 301.9 346.7Q302.8 347.9 303.4 349.3Q304.0 350.6 304.6 352.0L305.3 353.3M493.9 312.2Q494.9 316.1 494.7 318.1L494.5 320.1M360.0 248.8Q356.6 246.9 354.8 245.9L353.0 245.0M414.1 330.9Q411.6 328.4 409.8 328.1L408.1 327.8M343.8 384.3Q345.9 385.6 347.2 385.6L348.4 385.5M382.4 329.0Q382.7 331.5 383.4 332.5L384.2 333.5M490.2 413.2Q493.0 414.1 494.4 414.8Q495.7 415.4 497.2 415.2L498.7 414.9M317.0 311.2Q316.7 313.7 317.2 314.8L317.6 316.0M388.2 300.5Q387.0 297.2 385.6 296.2Q384.2 295.2 383.1 293.8Q382.0 292.5 380.4 291.8L378.7 291.1M432.2 332.2Q435.1 334.5 436.8 335.0Q438.6 335.6 440.0 336.7L441.4 337.8M407.0 270.5Q408.6 267.9 409.7 267.0L410.8 266.0M437.4 262.4Q439.4 264.6 440.6 265.5Q441.8 266.5 443.0 267.3Q444.3 268.2 444.7 269.6Q445.2 271.0 446.3 272.0Q447.5 273.0 448.6 274.0L449.6 275.0M412.5 312.1Q414.7 310.9 415.3 309.8L415.9 308.7M507.3 358.6Q510.1 359.6 511.6 359.7L513.1 359.9M428.3 306.1Q427.9 302.2 427.6 300.2L427.2 298.2M480.6 334.2Q482.5 337.1 484.0 337.9Q485.6 338.7 487.3 338.3Q489.0 338.0 490.5 337.0L491.9 336.0M301.9 395.8Q299.0 395.2 297.9 394.1Q296.8 393.1 295.9 391.9L295.0 390.7M387.5 325.5Q389.2 327.4 389.4 328.7L389.6 329.9M396.6 339.9Q396.9 342.4 397.9 343.2L398.8 344.1M490.5 305.4Q491.3 308.8 491.7 310.5L492.2 312.2M501.3 267.9Q498.8 269.5 498.0 270.8Q497.2 272.1 497.1 273.6Q496.9 275.1 497.7 276.3Q498.5 277.6 499.7 278.5Q500.9 279.4 502.4 279.5L503.9 279.5M381.5 409.8Q384.5 411.6 385.6 412.9L386.8 414.2M451.2 275.4Q451.1 278.4 451.2 279.9L451.2 281.4M507.9 249.3Q507.5 251.3 506.8 252.1L506.2 252.8M477.5 342.1Q478.0 344.5 477.6 345.7L477.1 346.8M305.0 288.7Q306.4 290.1 307.2 290.8L308.0 291.4M434.2 393.5Q437.0 394.6 437.8 395.8L438.7 397.0M467.3 262.7Q468.7 264.7 469.6 265.6L470.6 266.4M386.3 375.7Q388.0 379.0 388.9 380.6Q389.8 382.2 390.0 384.0L390.1 385.8M342.5 267.5Q340.9 265.0 339.5 264.3L338.2 263.6M311.2 288.9Q313.3 290.3 314.5 290.6L315.8 290.9M448.1 380.4Q451.1 382.1 452.2 383.4L453.4 384.8M415.6 397.0Q417.5 399.3 417.9 400.7Q418.2 402.2 418.3 403.7Q418.3 405.2 417.4 406.4Q416.6 407.6 415.4 408.5Q414.2 409.4 412.8 410.0L411.4 410.5M352.1 383.0Q348.1 383.5 346.4 384.4L344.6 385.3M442.0 295.7Q444.3 294.8 445.2 293.9L446.0 293.0M371.8 390.9Q374.3 388.5 375.3 387.1Q376.3 385.6 376.5 383.9Q376.7 382.1 377.3 380.5L377.8 378.8M329.1 411.4Q331.7 412.9 332.6 414.1L333.5 415.3M388.8 319.5Q391.4 321.9 392.8 322.9L394.2 324.0M462.1 403.6Q459.1 405.7 457.3 406.0Q455.5 406.3 453.7 406.8L452.0 407.3M304.7 410.6Q305.1 412.5 305.4 413.5L305.7 414.4M340.7 294.3Q340.7 291.3 340.5 289.8L340.2 288.3M471.2 383.4Q473.1 385.7 474.5 386.2Q475.9 386.8 476.9 387.9Q477.9 389.0 478.9 390.1Q480.0 391.2 481.4 391.5Q482.9 391.8 484.3 391.4L485.8 391.0M314.9 367.4Q312.8 365.2 311.9 364.1L310.9 363.0M313.3 281.3Q314.9 282.4 315.6 283.2L316.3 283.9M427.5 333.5Q423.9 332.8 422.2 332.3Q420.4 331.7 419.3 330.3L418.2 328.8M415.9 258.4Q414.1 256.7 413.6 255.6L413.0 254.4M338.7 295.8Q338.6 293.8 339.1 293.0L339.7 292.1M384.1 409.0Q385.6 410.3 386.2 411.1L386.8 411.9M503.8 397.1Q507.2 398.1 508.9 397.7Q510.6 397.2 512.1 396.4Q513.7 395.7 515.4 395.5L517.2 395.4" stroke="#404040" stroke-width="1.5" transform="translate(1.3 1.1)" opacity="0.5"/>
<path d="M430.3 371.4Q430.0 374.3 430.4 375.8Q430.7 377.3 431.9 378.2Q433.0 379.2 434.5 379.5Q436.0 379.8 437.5 379.9Q439.0 379.9 440.2 380.7L441.5 381.5M377.0 265.2Q379.9 266.1 380.9 267.3L381.9 268.4M378.9 374.7Q381.3 374.0 382.5 374.3L383.7 374.6M339.3 284.0Q336.9 283.5 335.9 282.6L335.0 281.8M430.9 278.4Q433.3 276.6 434.0 275.3L434.6 273.9M325.3 259.1Q326.1 262.0 327.3 262.9L328.5 263.9M371.4 299.1Q373.9 301.6 374.1 303.3L374.3 305.0M298.2 372.7Q302.2 372.9 303.8 371.8L305.5 370.6M303.5 278.3Q302.2 281.0 301.9 282.5L301.5 283.9M371.3 335.3Q368.9 333.5 368.5 332.1Q368.1 330.6 367.0 329.6L365.8 328.7M368.2 349.6Q370.5 350.6 371.8 350.5L373.0 350.4M310.4 273.0Q313.0 274.6 314.1 275.5L315.3 276.5M496.5 253.6Q493.8 251.3 492.1 251.1Q490.3 251.0 489.0 249.9Q487.6 248.8 485.8 248.8L484.1 248.8M401.8 387.4Q402.2 389.9 403.0 390.8L403.8 391.8M388.8 273.1Q385.6 275.3 384.6 277.1L383.6 278.8M408.1 407.6Q407.5 404.1 406.4 402.8L405.2 401.5M474.1 336.5Q472.4 334.7 471.5 333.8L470.6 333.0M406.6 339.2Q405.8 335.7 406.0 333.8Q406.2 332.0 406.1 330.2L406.0 328.4M448.3 294.9Q447.2 292.1 446.1 291.1Q445.0 290.0 444.5 288.6L444.1 287.2M397.6 376.7Q395.2 374.1 394.4 372.6L393.5 371.0M371.7 293.7Q372.4 290.3 373.6 289.0L374.8 287.7M444.7 410.2Q448.0 411.3 449.2 412.6L450.5 413.8M355.5 261.4Q355.3 264.4 355.2 265.9Q355.1 267.4 354.1 268.5Q353.1 269.7 352.5 271.1Q351.9 272.4 351.2 273.8Q350.5 275.1 349.3 275.9L348.0 276.7M352.8 413.5Q355.1 415.5 355.8 416.8L356.5 418.1M332.9 367.5Q335.9 366.9 337.2 366.3Q338.6 365.7 339.5 364.5L340.5 363.3M335.8 254.2Q338.2 255.9 338.8 257.3Q339.3 258.7 340.7 259.4L342.0 260.1M382.4 294.5Q382.2 290.5 381.5 288.6L380.8 286.7M358.2 333.3Q356.8 330.2 356.8 328.4Q356.8 326.7 357.2 324.9Q357.6 323.2 357.6 321.5L357.7 319.7M324.5 347.2Q324.4 350.7 324.7 352.4Q325.0 354.1 324.4 355.7Q323.8 357.4 324.3 359.0L324.9 360.7M317.0 342.2Q317.0 338.7 316.7 336.9Q316.4 335.2 315.9 333.5Q315.5 331.8 314.4 330.4L313.4 329.0M357.4 409.6Q360.5 412.1 361.0 414.0L361.5 415.9M402.4 317.2Q399.5 315.4 398.0 314.5L396.5 313.6M320.0 351.4Q319.7 354.4 320.5 355.7Q321.4 356.9 322.1 358.2L322.9 359.5M353.5 403.5Q353.5 401.5 353.3 400.5L353.0 399.5M401.5 413.0Q405.1 412.1 406.7 411.1Q408.2 410.2 410.0 409.7L411.8 409.2M428.2 369.6Q428.2 367.6 427.6 366.8L427.1 365.9M293.8 340.1Q296.2 341.9 297.4 342.7Q298.7 343.6 299.9 344.5Q301.0 345.4 301.9 346.7Q302.8 347.9 303.4 349.3Q304.0 350.6 304.6 352.0L305.3 353.3M493.9 312.2Q494.9 316.1 494.7 318.1L494.5 320.1M360.0 248.8Q356.6 246.9 354.8 245.9L353.0 245.0M414.1 330.9Q411.6 328.4 409.8 328.1L408.1 327.8M343.8 384.3Q345.9 385.6 347.2 385.6L348.4 385.5M382.4 329.0Q382.7 331.5 383.4 332.5L384.2 333.5M490.2 413.2Q493.0 414.1 494.4 414.8Q495.7 415.4 497.2 415.2L498.7 414.9M317.0 311.2Q316.7 313.7 317.2 314.8L317.6 316.0M388.2 300.5Q387.0 297.2 385.6 296.2Q384.2 295.2 383.1 293.8Q382.0 292.5 380.4 291.8L378.7 291.1M432.2 332.2Q435.1 334.5 436.8 335.0Q438.6 335.6 440.0 336.7L441.4 337.8M407.0 270.5Q408.6 267.9 409.7 267.0L410.8 266.0M437.4 262.4Q439.4 264.6 440.6 265.5Q441.8 266.5 443.0 267.3Q444.3 268.2 444.7 269.6Q445.2 271.0 446.3 272.0Q447.5 273.0 448.6 274.0L449.6 275.0M412.5 312.1Q414.7 310.9 415.3 309.8L415.9 308.7M507.3 358.6Q510.1 359.6 511.6 359.7L513.1 359.9M428.3 306.1Q427.9 302.2 427.6 300.2L427.2 298.2M480.6 334.2Q482.5 337.1 484.0 337.9Q485.6 338.7 487.3 338.3Q489.0 338.0 490.5 337.0L491.9 336.0M301.9 395.8Q299.0 395.2 297.9 394.1Q296.8 393.1 295.9 391.9L295.0 390.7M387.5 325.5Q389.2 327.4 389.4 328.7L389.6 329.9M396.6 339.9Q396.9 342.4 397.9 343.2L398.8 344.1M490.5 305.4Q491.3 308.8 491.7 310.5L492.2 312.2M501.3 267.9Q498.8 269.5 498.0 270.8Q497.2 272.1 497.1 273.6Q496.9 275.1 497.7 276.3Q498.5 277.6 499.7 278.5Q500.9 279.4 502.4 279.5L503.9 279.5M381.5 409.8Q384.5 411.6 385.6 412.9L386.8 414.2M451.2 275.4Q451.1 278.4 451.2 279.9L451.2 281.4M507.9 249.3Q507.5 251.3 506.8 252.1L506.2 252.8M477.5 342.1Q478.0 344.5 477.6 345.7L477.1 346.8M305.0 288.7Q306.4 290.1 307.2 290.8L308.0 291.4M434.2 393.5Q437.0 394.6 437.8 395.8L438.7 397.0M467.3 262.7Q468.7 264.7 469.6 265.6L470.6 266.4M386.3 375.7Q388.0 379.0 388.9 380.6Q389.8 382.2 390.0 384.0L390.1 385.8M342.5 267.5Q340.9 265.0 339.5 264.3L338.2 263.6M311.2 288.9Q313.3 290.3 314.5 290.6L315.8 290.9M448.1 380.4Q451.1 382.1 452.2 383.4L453.4 384.8M415.6 397.0Q417.5 399.3 417.9 400.7Q418.2 402.2 418.3 403.7Q418.3 405.2 417.4 406.4Q416.6 407.6 415.4 408.5Q414.2 409.4 412.8 410.0L411.4 410.5M352.1 383.0Q348.1 383.5 346.4 384.4L344.6 385.3M442.0 295.7Q444.3 294.8 445.2 293.9L446.0 293.0M371.8 390.9Q374.3 388.5 375.3 387.1Q376.3 385.6 376.5 383.9Q376.7 382.1 377.3 380.5L377.8 378.8M329.1 411.4Q331.7 412.9 332.6 414.1L333.5 415.3M388.8 319.5Q391.4 321.9 392.8 322.9L394.2 324.0M462.1 403.6Q459.1 405.7 457.3 406.0Q455.5 406.3 453.7 406.8L452.0 407.3M304.7 410.6Q305.1 412.5 305.4 413.5L305.7 414.4M340.7 294.3Q340.7 291.3 340.5 289.8L340.2 288.3M471.2 383.4Q473.1 385.7 474.5 386.2Q475.9 386.8 476.9 387.9Q477.9 389.0 478.9 390.1Q480.0 391.2 481.4 391.5Q482.9 391.8 484.3 391.4L485.8 391.0M314.9 367.4Q312.8 365.2 311.9 364.1L310.9 363.0M313.3 281.3Q314.9 282.4 315.6 283.2L316.3 283.9M427.5 333.5Q423.9 332.8 422.2 332.3Q420.4 331.7 419.3 330.3L418.2 328.8M415.9 258.4Q414.1 256.7 413.6 255.6L413.0 254.4M338.7 295.8Q338.6 293.8 339.1 293.0L339.7 292.1M384.1 409.0Q385.6 410.3 386.2 411.1L386.8 411.9M503.8 397.1Q507.2 398.1 508.9 397.7Q510.6 397.2 512.1 396.4Q513.7 395.7 515.4 395.5L517.2 395.4" stroke="#dcdcdc" stroke-width="1.5" opacity="0.68"/>
<g fill="#fff" stroke="none"><circle cx="386.7" cy="407.2" r="1.6" opacity="0.70"/><circle cx="457.4" cy="335.8" r="1.2" opacity="0.82"/><circle cx="364.7" cy="302.8" r="1.7" opacity="0.91"/><circle cx="443.9" cy="409.6" r="1.3" opacity="0.59"/><circle cx="358.7" cy="379.4" r="1.7" opacity="0.58"/><circle cx="500.6" cy="262.7" r="1.4" opacity="0.62"/><circle cx="436.9" cy="342.6" r="1.5" opacity="0.81"/><circle cx="413.2" cy="316.2" r="1.3" opacity="0.74"/><circle cx="424.0" cy="289.9" r="1.4" opacity="0.58"/><circle cx="487.4" cy="303.8" r="1.4" opacity="0.61"/><circle cx="359.1" cy="340.2" r="1.5" opacity="0.72"/><circle cx="365.7" cy="266.9" r="1.7" opacity="0.68"/><circle cx="311.7" cy="404.5" r="1.2" opacity="0.76"/><circle cx="310.9" cy="281.0" r="1.4" opacity="0.70"/><circle cx="490.1" cy="394.9" r="1.5" opacity="0.87"/><circle cx="476.7" cy="250.6" r="1.6" opacity="0.59"/><circle cx="367.8" cy="309.8" r="1.6" opacity="0.78"/><circle cx="390.5" cy="302.6" r="1.6" opacity="0.62"/><circle cx="488.3" cy="339.2" r="1.5" opacity="0.90"/><circle cx="483.3" cy="309.4" r="1.7" opacity="0.63"/><circle cx="365.3" cy="278.3" r="1.7" opacity="0.95"/><circle cx="460.6" cy="290.1" r="1.8" opacity="0.74"/><circle cx="296.4" cy="409.0" r="1.8" opacity="0.60"/><circle cx="295.9" cy="312.0" r="1.3" opacity="0.85"/><circle cx="401.2" cy="402.1" r="1.6" opacity="0.56"/><circle cx="470.1" cy="412.0" r="1.6" opacity="0.63"/><circle cx="369.5" cy="273.2" r="1.7" opacity="0.81"/><circle cx="460.8" cy="264.6" r="1.2" opacity="0.71"/><circle cx="499.0" cy="260.5" r="1.4" opacity="0.64"/><circle cx="508.3" cy="294.2" r="1.6" opacity="0.61"/><circle cx="504.3" cy="339.9" r="1.4" opacity="0.62"/><circle cx="477.6" cy="388.8" r="1.3" opacity="0.73"/><circle cx="323.1" cy="263.8" r="1.7" opacity="0.61"/><circle cx="470.4" cy="253.7" r="1.5" opacity="0.93"/><circle cx="482.8" cy="263.0" r="1.8" opacity="0.63"/><circle cx="468.8" cy="252.3" r="1.5" opacity="0.93"/><circle cx="424.5" cy="386.2" r="1.4" opacity="0.56"/><circle cx="329.8" cy="375.1" r="1.5" opacity="0.89"/><circle cx="498.3" cy="357.3" r="1.5" opacity="0.78"/><circle cx="341.8" cy="318.6" r="1.6" opacity="0.87"/><circle cx="473.2" cy="320.3" r="1.7" opacity="0.56"/><circle cx="471.5" cy="277.3" r="1.3" opacity="0.67"/><circle cx="336.4" cy="385.4" r="1.2" opacity="0.70"/><circle cx="380.3" cy="281.2" r="1.2" opacity="0.70"/><circle cx="295.7" cy="352.8" r="1.6" opacity="0.85"/></g>
</g>
</g>
<rect x="490.7" y="401.7" width="18.3" height="6.3" fill="#000"/>
<rect x="492.2" y="408" width="16.8" height="1.5" fill="#e8e800"/>
<clipPath id="ca5"><rect x="524.8" y="248.3" width="220.3" height="165.9"/></clipPath>
<filter id="st5" x="0" y="0" width="100%" height="100%" color-interpolation-filters="sRGB"><feTurbulence type="fractalNoise" baseFrequency="0.045 0.3" numOctaves="2" seed="51"/><feColorMatrix type="matrix" values="1.5 0 0 0 -0.185  1.5 0 0 0 -0.185  1.5 0 0 0 -0.185  0 0 0 0 1"/></filter>
<filter id="lo5" x="0" y="0" width="100%" height="100%" color-interpolation-filters="sRGB"><feTurbulence type="fractalNoise" baseFrequency="0.006 0.025" numOctaves="2" seed="52"/><feColorMatrix type="matrix" values="1.6 0 0 0 -0.235  1.6 0 0 0 -0.235  1.6 0 0 0 -0.235  0 0 0 0 1"/></filter>
<g clip-path="url(#ca5)">
<rect x="524.8" y="248.3" width="220.3" height="165.9" fill="#909090"/>
<rect x="484.95" y="181.25" width="300" height="300" transform="rotate(-50 634.95 331.25)" filter="url(#lo5)" opacity="0.17"/>
<rect x="484.95" y="181.25" width="300" height="300" transform="rotate(-50 634.95 331.25)" filter="url(#st5)" opacity="0.07"/>
<g filter="url(#bl)" fill="none" stroke-linecap="round">
<path d="M699.6 384.7Q700.5 381.8 700.9 380.4Q701.3 378.9 702.2 377.7L703.1 376.5M607.0 376.1Q609.3 374.1 610.5 373.2L611.7 372.3M675.1 280.3Q671.9 282.1 671.0 283.8Q670.2 285.4 669.5 287.1L668.9 288.8M742.9 308.4Q746.2 306.0 748.1 305.4L750.0 304.7M700.2 264.5Q702.2 264.7 703.2 264.8L704.2 264.9M708.2 280.4Q709.9 277.4 710.6 275.8Q711.3 274.2 711.7 272.4Q712.0 270.7 711.5 269.1L710.9 267.4M635.0 360.9Q634.9 363.9 634.8 365.4L634.8 366.9M555.2 283.1Q554.8 279.5 555.5 277.8Q556.3 276.2 557.4 274.7L558.4 273.2M592.2 310.9Q593.8 314.6 593.9 316.6L594.1 318.6M612.4 411.0Q615.4 410.6 616.8 411.2L618.2 411.7M623.3 386.2Q620.9 385.4 620.2 384.5L619.4 383.5M567.1 361.1Q567.6 358.2 567.3 356.7Q567.1 355.2 567.4 353.8L567.8 352.3M566.1 331.7Q562.8 330.6 561.1 330.3L559.4 329.9M631.7 348.3Q634.2 346.5 635.6 345.9Q636.9 345.3 638.3 344.6Q639.6 344.0 640.8 343.1Q642.0 342.2 642.7 340.8Q643.3 339.5 644.6 338.7L645.9 337.9M661.3 363.5Q658.3 364.2 657.2 365.2L656.1 366.1M707.1 341.2Q708.7 338.1 709.6 336.6Q710.6 335.1 711.8 333.9Q713.1 332.7 714.2 331.3L715.2 329.9M741.3 330.8Q741.1 327.3 739.9 326.0Q738.8 324.7 738.3 323.0Q737.8 321.4 738.0 319.6L738.2 317.9M640.4 260.9Q637.4 261.0 636.1 261.6L634.7 262.3M594.9 254.6Q595.3 251.6 595.9 250.2Q596.5 248.8 596.2 247.4Q596.0 245.9 594.9 244.9Q593.7 243.9 592.7 242.8Q591.7 241.7 590.8 240.5L590.0 239.2M728.4 275.0Q729.4 272.2 730.2 270.9Q730.9 269.6 732.2 268.8Q733.4 267.9 734.2 266.7Q735.0 265.4 736.3 264.8Q737.7 264.2 739.1 263.5L740.4 262.9M621.6 341.0Q623.8 338.9 624.7 337.7Q625.5 336.5 626.2 335.1L626.8 333.7M532.3 331.6Q530.3 334.0 530.3 335.5L530.2 337.0M543.7 383.7Q545.7 381.6 545.9 380.1Q546.1 378.6 547.1 377.5Q548.1 376.4 549.4 375.6Q550.7 374.9 552.2 374.7Q553.7 374.5 555.0 373.7L556.2 372.9M620.2 395.1Q620.4 392.6 620.9 391.5L621.3 390.4M665.7 269.5Q667.7 266.7 667.9 264.9L668.2 263.2M687.6 332.5Q691.4 331.2 692.7 329.6L694.0 328.1M677.0 373.9Q679.7 372.7 680.7 371.6L681.7 370.4M596.5 311.5Q599.2 310.3 600.7 310.4Q602.2 310.4 603.7 310.2L605.2 309.9M671.6 409.7Q671.5 407.2 670.7 406.2L669.9 405.2M692.0 267.3Q691.3 270.9 691.6 272.7Q692.0 274.5 692.5 276.3L693.1 278.0M693.0 362.4Q696.0 362.1 697.3 361.3L698.6 360.5M670.5 268.2Q672.2 266.4 673.3 265.8L674.4 265.2M673.7 369.3Q673.1 372.2 672.1 373.4Q671.1 374.5 669.8 375.2Q668.4 375.9 666.9 376.0Q665.4 376.0 664.1 376.7Q662.8 377.4 661.3 377.9L659.9 378.4M581.0 379.4Q583.5 377.8 584.6 376.8Q585.7 375.8 587.0 375.1Q588.3 374.4 589.3 373.2Q590.2 372.1 591.6 371.3Q592.9 370.6 594.0 369.6L595.2 368.7M677.3 304.8Q676.9 301.8 676.3 300.4Q675.7 299.1 675.2 297.7Q674.6 296.3 673.9 294.9Q673.3 293.6 672.2 292.5Q671.1 291.5 670.4 290.2L669.6 288.9M660.6 286.5Q662.0 284.4 663.2 284.1L664.4 283.7M619.3 334.2Q617.2 336.3 616.6 337.7Q616.1 339.1 615.7 340.5L615.2 341.9M702.9 343.9Q703.1 341.9 703.2 340.9L703.3 339.9M716.4 375.6Q717.2 372.0 717.4 370.2Q717.6 368.4 718.4 366.7L719.2 365.1M625.7 399.3Q625.4 401.3 625.1 402.3L624.8 403.2M674.3 285.3Q674.1 288.3 673.2 289.5L672.3 290.7M544.5 311.4Q546.9 310.9 548.1 310.7L549.4 310.4M695.8 329.3Q692.5 330.4 690.8 330.1L689.1 329.7M667.9 380.7Q668.8 378.3 669.5 377.3L670.3 376.4M559.0 332.1Q560.5 330.1 561.6 329.5L562.6 328.8M572.4 304.4Q571.9 301.5 571.6 300.0L571.4 298.5M729.2 351.5Q732.3 350.0 734.0 350.4Q735.7 350.7 737.4 351.4Q739.0 352.0 740.0 353.4L741.0 354.9M585.2 248.6Q587.4 246.6 588.9 246.3Q590.4 246.1 591.5 245.1Q592.6 244.1 594.1 243.9Q595.6 243.7 597.0 243.2Q598.4 242.7 599.9 242.7L601.4 242.6M714.0 271.9Q711.5 272.1 710.5 271.5L709.4 270.9M720.6 273.3Q723.0 271.4 723.4 270.0Q723.8 268.6 723.4 267.1L723.1 265.6M680.1 380.1Q677.6 380.4 676.5 380.9L675.3 381.4M676.5 293.6Q677.8 290.2 679.3 289.2Q680.9 288.3 682.7 288.5L684.6 288.7M640.9 383.9Q643.7 381.6 645.5 381.2Q647.3 380.8 649.1 380.6L650.9 380.4M566.8 294.4Q564.9 296.8 563.8 297.8L562.8 298.9M544.7 393.5Q541.9 395.6 541.0 397.1L540.2 398.7M609.5 339.0Q611.6 336.3 613.2 335.6L614.8 335.0M569.7 321.1Q572.0 319.2 573.5 318.9L574.9 318.6M580.4 292.4Q580.2 295.9 579.5 297.5L578.8 299.1M616.0 354.9Q613.1 354.4 611.7 355.0L610.4 355.6M671.3 258.4Q673.9 255.4 674.1 253.4L674.3 251.4M682.3 305.7Q684.8 302.6 686.1 301.0L687.4 299.5M684.9 396.6Q687.6 395.2 688.8 394.3L690.0 393.4M573.2 297.2Q575.0 294.8 575.1 293.3Q575.3 291.8 574.7 290.4Q574.1 289.0 573.3 287.8Q572.5 286.5 571.7 285.2Q570.9 284.0 569.5 283.4L568.1 282.8M585.5 277.4Q587.8 276.5 589.1 276.7L590.3 276.9M722.8 327.2Q719.5 328.4 717.8 328.3Q716.0 328.3 714.3 328.1Q712.5 327.9 710.9 328.4L709.2 328.9M705.9 313.2Q703.1 315.2 702.2 316.8Q701.3 318.3 699.8 319.1Q698.2 319.9 696.5 320.1L694.8 320.4M614.4 314.1Q617.4 312.2 618.9 311.2Q620.3 310.3 621.4 308.9Q622.4 307.5 624.1 306.9L625.7 306.3M607.8 308.1Q610.1 305.5 610.8 303.9Q611.6 302.3 612.5 300.8Q613.4 299.4 614.3 297.9L615.2 296.3M547.7 395.8Q545.8 397.3 545.0 398.3L544.2 399.3M624.7 414.1Q626.2 412.7 627.0 412.2L627.9 411.6M665.7 386.0Q666.3 389.7 666.6 391.5Q666.8 393.3 667.2 395.1L667.7 396.9M656.9 253.2Q654.0 254.2 652.6 253.7Q651.2 253.2 650.1 252.1Q649.1 251.1 647.7 250.4Q646.4 249.8 645.4 248.7Q644.4 247.5 643.2 246.6L642.0 245.7M733.0 351.0Q731.0 354.5 731.3 356.4L731.6 358.4M701.7 249.4Q703.1 247.9 703.7 247.1L704.3 246.3M730.8 326.3Q729.6 323.6 728.5 322.5L727.4 321.5" stroke="#404040" stroke-width="1.5" transform="translate(1.3 1.1)" opacity="0.5"/>
<path d="M699.6 384.7Q700.5 381.8 700.9 380.4Q701.3 378.9 702.2 377.7L703.1 376.5M607.0 376.1Q609.3 374.1 610.5 373.2L611.7 372.3M675.1 280.3Q671.9 282.1 671.0 283.8Q670.2 285.4 669.5 287.1L668.9 288.8M742.9 308.4Q746.2 306.0 748.1 305.4L750.0 304.7M700.2 264.5Q702.2 264.7 703.2 264.8L704.2 264.9M708.2 280.4Q709.9 277.4 710.6 275.8Q711.3 274.2 711.7 272.4Q712.0 270.7 711.5 269.1L710.9 267.4M635.0 360.9Q634.9 363.9 634.8 365.4L634.8 366.9M555.2 283.1Q554.8 279.5 555.5 277.8Q556.3 276.2 557.4 274.7L558.4 273.2M592.2 310.9Q593.8 314.6 593.9 316.6L594.1 318.6M612.4 411.0Q615.4 410.6 616.8 411.2L618.2 411.7M623.3 386.2Q620.9 385.4 620.2 384.5L619.4 383.5M567.1 361.1Q567.6 358.2 567.3 356.7Q567.1 355.2 567.4 353.8L567.8 352.3M566.1 331.7Q562.8 330.6 561.1 330.3L559.4 329.9M631.7 348.3Q634.2 346.5 635.6 345.9Q636.9 345.3 638.3 344.6Q639.6 344.0 640.8 343.1Q642.0 342.2 642.7 340.8Q643.3 339.5 644.6 338.7L645.9 337.9M661.3 363.5Q658.3 364.2 657.2 365.2L656.1 366.1M707.1 341.2Q708.7 338.1 709.6 336.6Q710.6 335.1 711.8 333.9Q713.1 332.7 714.2 331.3L715.2 329.9M741.3 330.8Q741.1 327.3 739.9 326.0Q738.8 324.7 738.3 323.0Q737.8 321.4 738.0 319.6L738.2 317.9M640.4 260.9Q637.4 261.0 636.1 261.6L634.7 262.3M594.9 254.6Q595.3 251.6 595.9 250.2Q596.5 248.8 596.2 247.4Q596.0 245.9 594.9 244.9Q593.7 243.9 592.7 242.8Q591.7 241.7 590.8 240.5L590.0 239.2M728.4 275.0Q729.4 272.2 730.2 270.9Q730.9 269.6 732.2 268.8Q733.4 267.9 734.2 266.7Q735.0 265.4 736.3 264.8Q737.7 264.2 739.1 263.5L740.4 262.9M621.6 341.0Q623.8 338.9 624.7 337.7Q625.5 336.5 626.2 335.1L626.8 333.7M532.3 331.6Q530.3 334.0 530.3 335.5L530.2 337.0M543.7 383.7Q545.7 381.6 545.9 380.1Q546.1 378.6 547.1 377.5Q548.1 376.4 549.4 375.6Q550.7 374.9 552.2 374.7Q553.7 374.5 555.0 373.7L556.2 372.9M620.2 395.1Q620.4 392.6 620.9 391.5L621.3 390.4M665.7 269.5Q667.7 266.7 667.9 264.9L668.2 263.2M687.6 332.5Q691.4 331.2 692.7 329.6L694.0 328.1M677.0 373.9Q679.7 372.7 680.7 371.6L681.7 370.4M596.5 311.5Q599.2 310.3 600.7 310.4Q602.2 310.4 603.7 310.2L605.2 309.9M671.6 409.7Q671.5 407.2 670.7 406.2L669.9 405.2M692.0 267.3Q691.3 270.9 691.6 272.7Q692.0 274.5 692.5 276.3L693.1 278.0M693.0 362.4Q696.0 362.1 697.3 361.3L698.6 360.5M670.5 268.2Q672.2 266.4 673.3 265.8L674.4 265.2M673.7 369.3Q673.1 372.2 672.1 373.4Q671.1 374.5 669.8 375.2Q668.4 375.9 666.9 376.0Q665.4 376.0 664.1 376.7Q662.8 377.4 661.3 377.9L659.9 378.4M581.0 379.4Q583.5 377.8 584.6 376.8Q585.7 375.8 587.0 375.1Q588.3 374.4 589.3 373.2Q590.2 372.1 591.6 371.3Q592.9 370.6 594.0 369.6L595.2 368.7M677.3 304.8Q676.9 301.8 676.3 300.4Q675.7 299.1 675.2 297.7Q674.6 296.3 673.9 294.9Q673.3 293.6 672.2 292.5Q671.1 291.5 670.4 290.2L669.6 288.9M660.6 286.5Q662.0 284.4 663.2 284.1L664.4 283.7M619.3 334.2Q617.2 336.3 616.6 337.7Q616.1 339.1 615.7 340.5L615.2 341.9M702.9 343.9Q703.1 341.9 703.2 340.9L703.3 339.9M716.4 375.6Q717.2 372.0 717.4 370.2Q717.6 368.4 718.4 366.7L719.2 365.1M625.7 399.3Q625.4 401.3 625.1 402.3L624.8 403.2M674.3 285.3Q674.1 288.3 673.2 289.5L672.3 290.7M544.5 311.4Q546.9 310.9 548.1 310.7L549.4 310.4M695.8 329.3Q692.5 330.4 690.8 330.1L689.1 329.7M667.9 380.7Q668.8 378.3 669.5 377.3L670.3 376.4M559.0 332.1Q560.5 330.1 561.6 329.5L562.6 328.8M572.4 304.4Q571.9 301.5 571.6 300.0L571.4 298.5M729.2 351.5Q732.3 350.0 734.0 350.4Q735.7 350.7 737.4 351.4Q739.0 352.0 740.0 353.4L741.0 354.9M585.2 248.6Q587.4 246.6 588.9 246.3Q590.4 246.1 591.5 245.1Q592.6 244.1 594.1 243.9Q595.6 243.7 597.0 243.2Q598.4 242.7 599.9 242.7L601.4 242.6M714.0 271.9Q711.5 272.1 710.5 271.5L709.4 270.9M720.6 273.3Q723.0 271.4 723.4 270.0Q723.8 268.6 723.4 267.1L723.1 265.6M680.1 380.1Q677.6 380.4 676.5 380.9L675.3 381.4M676.5 293.6Q677.8 290.2 679.3 289.2Q680.9 288.3 682.7 288.5L684.6 288.7M640.9 383.9Q643.7 381.6 645.5 381.2Q647.3 380.8 649.1 380.6L650.9 380.4M566.8 294.4Q564.9 296.8 563.8 297.8L562.8 298.9M544.7 393.5Q541.9 395.6 541.0 397.1L540.2 398.7M609.5 339.0Q611.6 336.3 613.2 335.6L614.8 335.0M569.7 321.1Q572.0 319.2 573.5 318.9L574.9 318.6M580.4 292.4Q580.2 295.9 579.5 297.5L578.8 299.1M616.0 354.9Q613.1 354.4 611.7 355.0L610.4 355.6M671.3 258.4Q673.9 255.4 674.1 253.4L674.3 251.4M682.3 305.7Q684.8 302.6 686.1 301.0L687.4 299.5M684.9 396.6Q687.6 395.2 688.8 394.3L690.0 393.4M573.2 297.2Q575.0 294.8 575.1 293.3Q575.3 291.8 574.7 290.4Q574.1 289.0 573.3 287.8Q572.5 286.5 571.7 285.2Q570.9 284.0 569.5 283.4L568.1 282.8M585.5 277.4Q587.8 276.5 589.1 276.7L590.3 276.9M722.8 327.2Q719.5 328.4 717.8 328.3Q716.0 328.3 714.3 328.1Q712.5 327.9 710.9 328.4L709.2 328.9M705.9 313.2Q703.1 315.2 702.2 316.8Q701.3 318.3 699.8 319.1Q698.2 319.9 696.5 320.1L694.8 320.4M614.4 314.1Q617.4 312.2 618.9 311.2Q620.3 310.3 621.4 308.9Q622.4 307.5 624.1 306.9L625.7 306.3M607.8 308.1Q610.1 305.5 610.8 303.9Q611.6 302.3 612.5 300.8Q613.4 299.4 614.3 297.9L615.2 296.3M547.7 395.8Q545.8 397.3 545.0 398.3L544.2 399.3M624.7 414.1Q626.2 412.7 627.0 412.2L627.9 411.6M665.7 386.0Q666.3 389.7 666.6 391.5Q666.8 393.3 667.2 395.1L667.7 396.9M656.9 253.2Q654.0 254.2 652.6 253.7Q651.2 253.2 650.1 252.1Q649.1 251.1 647.7 250.4Q646.4 249.8 645.4 248.7Q644.4 247.5 643.2 246.6L642.0 245.7M733.0 351.0Q731.0 354.5 731.3 356.4L731.6 358.4M701.7 249.4Q703.1 247.9 703.7 247.1L704.3 246.3M730.8 326.3Q729.6 323.6 728.5 322.5L727.4 321.5" stroke="#dcdcdc" stroke-width="1.5" opacity="0.68"/>
<g fill="#fff" stroke="none"><circle cx="738.0" cy="317.9" r="1.3" opacity="0.70"/><circle cx="606.9" cy="372.6" r="1.5" opacity="0.66"/><circle cx="568.0" cy="382.4" r="1.5" opacity="0.75"/><circle cx="570.2" cy="408.4" r="1.5" opacity="0.92"/><circle cx="672.6" cy="353.7" r="1.1" opacity="0.92"/><circle cx="711.6" cy="262.7" r="1.2" opacity="0.82"/><circle cx="671.2" cy="281.6" r="1.8" opacity="0.59"/><circle cx="649.9" cy="328.3" r="1.3" opacity="0.82"/><circle cx="622.2" cy="374.5" r="1.6" opacity="0.55"/><circle cx="597.4" cy="338.1" r="1.3" opacity="0.79"/><circle cx="533.1" cy="267.3" r="1.5" opacity="0.64"/><circle cx="571.7" cy="317.2" r="1.5" opacity="0.81"/><circle cx="656.3" cy="331.0" r="1.4" opacity="0.90"/><circle cx="713.6" cy="395.8" r="1.8" opacity="0.82"/><circle cx="569.9" cy="363.9" r="1.3" opacity="0.67"/><circle cx="613.5" cy="255.6" r="1.4" opacity="0.63"/><circle cx="577.2" cy="320.1" r="1.6" opacity="0.81"/><circle cx="594.9" cy="367.4" r="1.4" opacity="0.69"/><circle cx="615.2" cy="296.6" r="1.2" opacity="0.94"/><circle cx="655.7" cy="356.5" r="1.5" opacity="0.75"/><circle cx="662.9" cy="251.5" r="1.1" opacity="0.76"/><circle cx="627.3" cy="252.3" r="1.2" opacity="0.67"/><circle cx="736.1" cy="385.8" r="1.1" opacity="0.71"/><circle cx="602.5" cy="272.5" r="1.3" opacity="0.95"/><circle cx="725.2" cy="294.0" r="1.6" opacity="0.60"/><circle cx="663.5" cy="264.3" r="1.5" opacity="0.79"/><circle cx="741.8" cy="343.9" r="1.7" opacity="0.65"/><circle cx="661.9" cy="284.1" r="1.1" opacity="0.94"/><circle cx="532.7" cy="307.5" r="1.3" opacity="0.63"/><circle cx="712.1" cy="372.4" r="1.4" opacity="0.78"/><circle cx="706.3" cy="259.9" r="1.6" opacity="0.89"/><circle cx="657.8" cy="335.1" r="1.3" opacity="0.62"/><circle cx="565.0" cy="308.2" r="1.3" opacity="0.86"/><circle cx="561.4" cy="270.7" r="1.7" opacity="0.73"/><circle cx="551.6" cy="382.3" r="1.1" opacity="0.70"/></g>
</g>
</g>
<rect x="722.8" y="403.4" width="17.3" height="6.3" fill="#000"/>
<rect x="722.8" y="402" width="14.3" height="1.4" fill="#e8e800"/>
<clipPath id="cc0"><rect x="853.8" y="69.7" width="221.8" height="165.4"/></clipPath>
<linearGradient id="gc0" x1="0" y1="0" x2="0" y2="1"><stop offset="0" stop-color="#7c7c7c"/><stop offset="0.3" stop-color="#848484"/><stop offset="0.6" stop-color="#909090"/><stop offset="1" stop-color="#a2a2a2"/></linearGradient>
<linearGradient id="gs0" x1="0" y1="0" x2="1" y2="0"><stop offset="0" stop-color="#fff" stop-opacity="0.06"/><stop offset="0.35" stop-color="#fff" stop-opacity="0"/><stop offset="0.7" stop-color="#fff" stop-opacity="0"/><stop offset="1" stop-color="#fff" stop-opacity="0.06"/></linearGradient>
<g clip-path="url(#cc0)">
<rect x="853.8" y="69.7" width="221.8" height="165.4" fill="url(#gc0)"/>
<rect x="853.8" y="69.7" width="221.8" height="165.4" fill="url(#gs0)"/>
<radialGradient id="gv0" cx="0.5" cy="0.1" r="0.55"><stop offset="0" stop-color="#000" stop-opacity="0.14"/><stop offset="1" stop-color="#000" stop-opacity="0"/></radialGradient>
<rect x="853.8" y="69.7" width="221.8" height="165.4" fill="url(#gv0)"/>
<g filter="url(#bl2)" fill="none" stroke-linecap="round">
<path d="M990.3 95.1h0.1M1074.7 208.0h0.1M895.8 190.2h0.1M1062.2 101.4h0.1M1067.7 108.2h0.1M868.9 106.6h0.1M1071.5 177.7h0.1M1009.4 228.1h0.1M925.5 234.9h0.1M1029.1 220.3h0.1M1015.6 133.2h0.1M860.3 168.3h0.1M925.8 179.1h0.1M1048.4 133.3h0.1M954.1 81.4h0.1M1028.8 72.6h0.1M905.9 92.4h0.1M1065.9 182.5h0.1M997.4 103.4h0.1M1071.2 157.8h0.1M867.5 201.2h0.1M962.9 225.9h0.1M1054.4 104.2h0.1M899.0 158.2h0.1M1031.4 162.2h0.1M914.4 147.5h0.1M932.3 171.7h0.1M946.8 199.6h0.1M1068.5 88.0h0.1M877.0 75.1h0.1M1041.5 99.0h0.1M890.1 153.6h0.1M1070.8 202.9h0.1M1034.8 135.9h0.1M1013.5 81.3h0.1M1062.7 179.3h0.1M1071.2 72.8h0.1M1033.1 81.8h0.1M889.9 148.3h0.1M1021.6 134.7h0.1M1054.7 140.0h0.1M1061.5 188.3h0.1M954.8 102.7h0.1M1002.2 144.3h0.1M1048.6 75.5h0.1M869.8 83.1h0.1M1032.8 130.3h0.1M870.9 82.6h0.1M902.0 179.4h0.1M917.3 93.1h0.1M1053.0 110.5h0.1M1048.5 116.7h0.1M1031.7 79.9h0.1M1017.4 217.8h0.1M1022.6 134.6h0.1M1057.4 136.9h0.1M1065.3 175.6h0.1M895.6 116.3h0.1M1034.6 148.1h0.1M1064.7 201.9h0.1M889.4 122.8h0.1M913.8 187.4h0.1M923.7 120.9h0.1M934.3 183.6h0.1M856.4 131.2h0.1M898.9 190.3h0.1M1038.8 167.5h0.1M928.2 138.1h0.1M988.8 71.9h0.1M1036.2 170.0h0.1M934.5 146.0h0.1M1017.7 132.3h0.1M928.1 175.6h0.1M1040.5 210.8h0.1M865.5 188.9h0.1M906.9 119.7h0.1M876.5 200.1h0.1M1034.8 134.8h0.1M1052.6 119.7h0.1M1058.7 217.3h0.1M899.2 174.2h0.1M1059.9 179.8h0.1M873.2 116.1h0.1M860.8 145.1h0.1M1027.6 154.3h0.1M906.9 150.3h0.1M1055.4 163.2h0.1M922.8 75.9h0.1M1069.8 76.0h0.1M1023.3 190.3h0.1M989.9 76.1h0.1M1050.6 145.5h0.1M913.9 128.9h0.1M1015.0 220.0h0.1M1025.4 155.3h0.1M887.0 167.4h0.1M886.5 102.8h0.1M1046.1 106.4h0.1M1065.8 212.7h0.1M926.5 110.8h0.1M912.6 179.8h0.1M1062.8 196.5h0.1M889.0 171.8h0.1M876.1 185.4h0.1M1047.0 77.6h0.1M1012.8 110.6h0.1M880.9 132.1h0.1M883.7 184.2h0.1M1011.2 88.8h0.1M880.1 123.5h0.1M1040.5 115.9h0.1M886.4 172.9h0.1M911.9 77.6h0.1M1075.3 102.4h0.1M1000.4 172.4h0.1M1072.6 85.5h0.1M1055.0 73.0h0.1M893.9 87.0h0.1M899.4 214.7h0.1M949.6 228.1h0.1M1064.8 122.3h0.1M1044.3 173.3h0.1M1000.6 138.7h0.1M1060.0 94.0h0.1M943.8 213.2h0.1M1074.6 79.8h0.1M1045.3 101.7h0.1M1028.7 149.9h0.1M1037.8 88.9h0.1M1072.0 103.6h0.1M1001.8 140.3h0.1M1007.6 98.8h0.1M880.2 225.4h0.1M886.3 173.3h0.1M1009.6 107.6h0.1M1065.3 117.5h0.1M910.0 138.4h0.1M872.7 129.3h0.1M859.7 174.6h0.1M1069.7 233.3h0.1M902.1 234.1h0.1M1018.5 82.6h0.1M1015.6 197.5h0.1M1063.1 217.1h0.1M920.7 153.0h0.1M888.0 229.3h0.1M995.8 209.8h0.1M879.4 222.0h0.1M919.4 191.8h0.1M864.5 207.1h0.1M875.0 110.8h0.1M1004.2 83.2h0.1M867.2 195.9h0.1M1056.6 81.3h0.1M1059.3 104.6h0.1M861.8 141.1h0.1M877.0 191.8h0.1M927.1 184.3h0.1M1056.2 144.5h0.1M862.0 184.6h0.1M1058.6 182.8h0.1M1043.7 189.4h0.1M914.3 115.9h0.1M934.1 199.2h0.1M1063.9 88.3h0.1M876.7 162.5h0.1M868.8 73.7h0.1M1027.4 155.4h0.1M897.6 185.7h0.1M884.3 120.2h0.1M1044.1 223.5h0.1M861.4 88.4h0.1M1033.5 68.9h0.1M856.7 196.4h0.1M911.7 155.5h0.1M1074.2 130.4h0.1M960.0 205.5h0.1M902.9 81.4h0.1M1069.6 144.9h0.1M1063.7 230.9h0.1M1049.1 95.9h0.1M916.5 142.5h0.1M1053.1 152.8h0.1M1071.5 220.8h0.1M1033.9 119.8h0.1M868.1 179.1h0.1M882.2 189.2h0.1M931.7 73.0h0.1M1062.1 124.1h0.1M1066.3 89.0h0.1M866.5 93.6h0.1M881.7 139.5h0.1M1043.5 149.4h0.1M1046.5 153.1h0.1M923.1 172.3h0.1M1070.8 198.8h0.1M941.8 233.5h0.1M1036.2 207.3h0.1M1026.2 123.3h0.1M932.4 194.4h0.1M1038.3 132.2h0.1M886.6 228.6h0.1M1057.3 180.9h0.1M904.6 130.3h0.1M868.2 208.5h0.1M925.1 146.3h0.1M912.2 71.9h0.1M1041.7 146.3h0.1M1006.6 152.2h0.1M1052.1 106.2h0.1M1038.3 81.6h0.1M1062.9 141.3h0.1M875.7 174.3h0.1M1061.5 76.0h0.1M1012.2 99.7h0.1M869.2 101.2h0.1M1071.0 179.6h0.1M1056.2 98.7h0.1M896.8 124.4h0.1M1010.7 219.2h0.1M1058.0 100.4h0.1M1052.1 164.8h0.1M942.7 163.2h0.1M1073.0 112.5h0.1M995.1 79.7h0.1M922.5 192.4h0.1M1070.1 116.4h0.1M882.9 169.1h0.1M1032.8 134.7h0.1M933.0 234.4h0.1M1050.6 104.2h0.1M868.7 181.9h0.1M899.6 175.2h0.1M1053.9 200.6h0.1M1065.1 212.3h0.1M872.0 110.9h0.1M918.8 139.6h0.1M985.9 122.2h0.1M1066.4 195.9h0.1M888.6 156.5h0.1M916.7 198.3h0.1M1050.0 80.3h0.1" stroke="#404040" stroke-width="2.8" opacity="0.42"/>
<path d="M1029.7 85.3Q1032.8 83.0 1034.7 82.6Q1036.6 82.3 1038.6 82.3L1040.5 82.2M1066.3 209.8Q1068.4 207.6 1069.9 207.1Q1071.3 206.6 1072.7 205.9Q1074.1 205.2 1075.1 204.1L1076.1 202.9M1021.9 89.2Q1024.0 86.8 1025.0 85.5L1026.0 84.2M1032.0 120.0Q1034.9 116.8 1037.0 116.0L1039.0 115.3M926.8 118.7Q925.1 115.8 924.4 114.3Q923.7 112.7 922.8 111.3L921.9 109.9M857.5 114.2Q860.9 115.5 862.5 116.2L864.2 117.0M856.3 119.5Q859.8 118.6 861.6 118.8L863.3 119.1M891.3 144.2Q894.1 140.8 895.5 139.0L896.9 137.3M873.1 224.0Q871.2 221.6 870.3 220.3Q869.5 219.1 869.1 217.6L868.8 216.1M882.5 198.6Q883.4 194.9 883.6 193.0L883.7 191.1M945.5 157.3Q947.5 154.4 948.6 153.1Q949.7 151.7 951.1 150.8L952.6 149.8M902.2 234.8Q902.3 231.0 903.0 229.2L903.7 227.4M1073.4 223.0Q1071.2 220.8 1070.0 219.8Q1068.8 218.7 1067.7 217.6Q1066.5 216.5 1065.3 215.5L1064.0 214.5M865.0 102.0Q868.7 100.9 870.6 101.2L872.5 101.5M916.7 188.2Q919.1 185.2 919.7 183.4L920.3 181.6M1065.1 191.2Q1065.0 188.1 1065.1 186.6Q1065.2 185.0 1065.2 183.5Q1065.1 182.0 1064.7 180.5L1064.2 179.0M1019.0 208.4Q1016.8 205.2 1015.5 203.7Q1014.3 202.2 1012.7 201.1L1011.2 199.9M1073.6 131.8Q1071.9 127.7 1070.6 125.8L1069.4 123.9M879.3 176.9Q881.7 178.9 882.9 180.1L884.0 181.2M1055.5 75.7Q1058.0 72.9 1058.8 71.2L1059.6 69.5M1073.4 178.5Q1073.0 175.4 1073.0 173.8Q1073.0 172.3 1072.4 170.8L1071.9 169.4M1074.1 113.8Q1077.2 115.9 1078.4 117.4Q1079.5 118.9 1081.2 119.8L1082.9 120.7M1028.9 138.7Q1031.6 135.9 1032.4 134.1Q1033.3 132.3 1034.6 130.9L1036.0 129.5M856.1 233.7Q857.4 230.5 857.8 228.9Q858.1 227.2 858.1 225.4L858.2 223.7M927.4 206.5Q926.4 203.3 925.8 201.7L925.2 200.2M897.5 226.0Q897.8 222.7 898.0 221.1L898.3 219.4M1073.9 204.9Q1073.1 201.1 1073.6 199.1Q1074.0 197.2 1073.9 195.3L1073.8 193.3M921.4 167.9Q919.6 165.4 919.0 164.0Q918.3 162.6 917.7 161.2L917.1 159.8M921.9 187.2Q925.7 186.5 927.6 186.7L929.5 186.9M1064.8 98.5Q1067.5 96.3 1069.0 95.6Q1070.6 94.9 1072.3 94.6L1074.0 94.4M1047.4 99.5Q1046.2 96.6 1046.0 95.0Q1045.8 93.4 1045.0 92.1L1044.2 90.7M1035.8 98.1Q1039.3 98.8 1040.9 99.7Q1042.5 100.6 1044.3 100.7L1046.1 100.8M862.5 109.5Q866.0 106.9 867.7 105.4L869.3 104.0M894.5 160.6Q894.6 156.8 894.2 155.0L893.9 153.2M1045.2 103.5Q1044.0 100.1 1042.9 98.7Q1041.9 97.2 1040.5 96.1L1039.1 94.9M926.6 151.9Q927.8 147.7 927.8 145.5L927.8 143.3M874.4 126.2Q876.8 123.9 878.1 122.8Q879.3 121.6 880.8 120.8L882.2 120.0M858.9 134.4Q863.2 133.6 865.4 133.1L867.6 132.6M938.5 220.1Q940.7 217.8 941.3 216.4Q942.0 214.9 942.1 213.4L942.3 211.8M904.5 182.2Q907.3 180.5 908.4 179.4Q909.6 178.2 910.7 177.0L911.8 175.8M906.4 110.9Q909.4 110.0 910.6 109.0Q911.8 107.9 912.5 106.4L913.1 105.0M1031.3 94.0Q1031.7 90.9 1031.6 89.3Q1031.6 87.8 1030.8 86.4Q1030.0 85.0 1029.3 83.6L1028.6 82.2M1014.6 98.8Q1014.8 95.4 1014.7 93.7L1014.6 92.0M1020.9 121.0Q1023.2 118.0 1024.7 116.9L1026.3 115.9M915.7 219.4Q919.9 219.2 921.9 218.5L923.8 217.8M1030.5 94.8Q1029.0 92.1 1028.8 90.5L1028.6 89.0M1018.7 169.1Q1023.1 169.5 1025.4 169.5L1027.6 169.5M908.5 138.2Q909.0 135.1 908.6 133.7Q908.3 132.2 908.4 130.7L908.6 129.1M1067.6 138.1Q1067.8 134.2 1068.0 132.2Q1068.3 130.3 1067.5 128.5L1066.8 126.6M855.8 137.0Q859.0 136.0 860.6 135.3Q862.1 134.6 863.7 134.0L865.3 133.5M1061.0 194.2Q1061.0 190.5 1061.4 188.7Q1061.7 186.8 1062.9 185.4L1064.0 183.9M880.0 122.6Q883.3 122.0 885.0 122.0L886.7 121.9M875.5 199.4Q877.1 196.6 878.0 195.2Q878.9 193.9 880.3 193.0L881.6 192.1M905.8 215.6Q909.6 214.9 911.5 215.1L913.5 215.4M1060.4 126.3Q1064.1 126.3 1065.8 125.8Q1067.6 125.2 1069.0 124.1L1070.5 123.0M1064.3 144.8Q1066.1 141.2 1066.7 139.3L1067.3 137.4M864.7 120.5Q866.2 117.6 867.0 116.2Q867.8 114.8 869.0 113.7L870.1 112.5M1017.1 104.7Q1019.5 101.6 1020.9 100.3Q1022.3 99.0 1023.6 97.6L1025.0 96.2M894.3 72.2Q894.3 68.3 894.6 66.4L894.8 64.4M1014.2 108.6Q1016.1 106.1 1016.9 104.7Q1017.6 103.3 1018.5 101.9Q1019.3 100.6 1020.1 99.2L1020.9 97.9M1058.4 154.7Q1060.2 152.1 1061.2 150.9Q1062.2 149.7 1063.3 148.6L1064.5 147.5M907.3 123.9Q903.7 121.6 901.8 120.7L899.9 119.7M1065.5 216.6Q1066.0 212.7 1066.1 210.8L1066.2 208.8M864.1 187.2Q861.8 185.1 860.4 184.6Q858.9 184.1 857.4 183.7L855.9 183.4M1071.2 126.2Q1074.0 122.8 1074.9 120.7L1075.8 118.7M917.9 203.0Q918.6 199.7 919.0 198.0Q919.4 196.4 920.5 195.1L921.6 193.8M1060.9 111.0Q1063.5 109.0 1065.0 108.3L1066.5 107.7M860.0 205.1Q862.4 202.4 863.1 200.7Q863.9 199.0 864.6 197.4L865.3 195.7M876.4 73.2Q879.4 70.6 881.1 69.6L882.9 68.7M1073.5 82.2Q1071.4 79.4 1070.4 77.9L1069.5 76.4M857.8 106.1Q860.5 104.4 862.0 103.7L863.4 102.9M866.5 75.4Q869.4 73.1 871.2 72.7L873.0 72.3M939.0 157.5Q940.3 154.6 940.6 153.0Q941.0 151.4 940.8 149.8Q940.6 148.2 940.6 146.6L940.5 145.0M1014.5 82.6Q1015.6 79.1 1016.6 77.6L1017.7 76.1M1014.0 78.2Q1017.1 76.5 1018.6 75.5L1020.0 74.4M878.8 117.1Q881.2 114.3 881.8 112.6L882.5 110.8M891.2 158.3Q890.6 155.0 889.6 153.7Q888.5 152.4 887.7 150.9L886.8 149.5M929.1 69.9Q928.8 65.7 929.6 63.8L930.4 61.9M1068.2 103.3Q1069.4 100.4 1070.0 99.0L1070.7 97.6M1003.4 229.8Q1005.5 227.4 1006.8 226.6L1008.1 225.8M859.5 107.6Q860.3 104.5 861.2 103.2L862.1 101.9M885.7 198.7Q888.7 196.9 890.4 196.6Q892.2 196.3 893.9 196.5L895.7 196.7M1015.2 146.4Q1018.6 147.4 1020.4 147.9L1022.1 148.4M996.7 130.0Q998.1 127.1 998.9 125.7Q999.7 124.3 1000.7 123.1Q1001.7 121.8 1002.9 120.8L1004.2 119.8M1058.1 119.8Q1059.6 116.6 1060.9 115.4L1062.2 114.2M1031.8 123.6Q1032.7 120.5 1033.1 118.9L1033.5 117.3M873.8 161.9Q878.1 162.9 879.9 164.2L881.7 165.5M1036.8 85.0Q1037.3 81.5 1037.2 79.7L1037.2 77.9" stroke="#444" stroke-width="1.8" transform="translate(1.1 -1)" opacity="0.6"/>
<path d="M1029.7 85.3Q1032.8 83.0 1034.7 82.6Q1036.6 82.3 1038.6 82.3L1040.5 82.2M1066.3 209.8Q1068.4 207.6 1069.9 207.1Q1071.3 206.6 1072.7 205.9Q1074.1 205.2 1075.1 204.1L1076.1 202.9M1021.9 89.2Q1024.0 86.8 1025.0 85.5L1026.0 84.2M1032.0 120.0Q1034.9 116.8 1037.0 116.0L1039.0 115.3M926.8 118.7Q925.1 115.8 924.4 114.3Q923.7 112.7 922.8 111.3L921.9 109.9M857.5 114.2Q860.9 115.5 862.5 116.2L864.2 117.0M856.3 119.5Q859.8 118.6 861.6 118.8L863.3 119.1M891.3 144.2Q894.1 140.8 895.5 139.0L896.9 137.3M873.1 224.0Q871.2 221.6 870.3 220.3Q869.5 219.1 869.1 217.6L868.8 216.1M882.5 198.6Q883.4 194.9 883.6 193.0L883.7 191.1M945.5 157.3Q947.5 154.4 948.6 153.1Q949.7 151.7 951.1 150.8L952.6 149.8M902.2 234.8Q902.3 231.0 903.0 229.2L903.7 227.4M1073.4 223.0Q1071.2 220.8 1070.0 219.8Q1068.8 218.7 1067.7 217.6Q1066.5 216.5 1065.3 215.5L1064.0 214.5M865.0 102.0Q868.7 100.9 870.6 101.2L872.5 101.5M916.7 188.2Q919.1 185.2 919.7 183.4L920.3 181.6M1065.1 191.2Q1065.0 188.1 1065.1 186.6Q1065.2 185.0 1065.2 183.5Q1065.1 182.0 1064.7 180.5L1064.2 179.0M1019.0 208.4Q1016.8 205.2 1015.5 203.7Q1014.3 202.2 1012.7 201.1L1011.2 199.9M1073.6 131.8Q1071.9 127.7 1070.6 125.8L1069.4 123.9M879.3 176.9Q881.7 178.9 882.9 180.1L884.0 181.2M1055.5 75.7Q1058.0 72.9 1058.8 71.2L1059.6 69.5M1073.4 178.5Q1073.0 175.4 1073.0 173.8Q1073.0 172.3 1072.4 170.8L1071.9 169.4M1074.1 113.8Q1077.2 115.9 1078.4 117.4Q1079.5 118.9 1081.2 119.8L1082.9 120.7M1028.9 138.7Q1031.6 135.9 1032.4 134.1Q1033.3 132.3 1034.6 130.9L1036.0 129.5M856.1 233.7Q857.4 230.5 857.8 228.9Q858.1 227.2 858.1 225.4L858.2 223.7M927.4 206.5Q926.4 203.3 925.8 201.7L925.2 200.2M897.5 226.0Q897.8 222.7 898.0 221.1L898.3 219.4M1073.9 204.9Q1073.1 201.1 1073.6 199.1Q1074.0 197.2 1073.9 195.3L1073.8 193.3M921.4 167.9Q919.6 165.4 919.0 164.0Q918.3 162.6 917.7 161.2L917.1 159.8M921.9 187.2Q925.7 186.5 927.6 186.7L929.5 186.9M1064.8 98.5Q1067.5 96.3 1069.0 95.6Q1070.6 94.9 1072.3 94.6L1074.0 94.4M1047.4 99.5Q1046.2 96.6 1046.0 95.0Q1045.8 93.4 1045.0 92.1L1044.2 90.7M1035.8 98.1Q1039.3 98.8 1040.9 99.7Q1042.5 100.6 1044.3 100.7L1046.1 100.8M862.5 109.5Q866.0 106.9 867.7 105.4L869.3 104.0M894.5 160.6Q894.6 156.8 894.2 155.0L893.9 153.2M1045.2 103.5Q1044.0 100.1 1042.9 98.7Q1041.9 97.2 1040.5 96.1L1039.1 94.9M926.6 151.9Q927.8 147.7 927.8 145.5L927.8 143.3M874.4 126.2Q876.8 123.9 878.1 122.8Q879.3 121.6 880.8 120.8L882.2 120.0M858.9 134.4Q863.2 133.6 865.4 133.1L867.6 132.6M938.5 220.1Q940.7 217.8 941.3 216.4Q942.0 214.9 942.1 213.4L942.3 211.8M904.5 182.2Q907.3 180.5 908.4 179.4Q909.6 178.2 910.7 177.0L911.8 175.8M906.4 110.9Q909.4 110.0 910.6 109.0Q911.8 107.9 912.5 106.4L913.1 105.0M1031.3 94.0Q1031.7 90.9 1031.6 89.3Q1031.6 87.8 1030.8 86.4Q1030.0 85.0 1029.3 83.6L1028.6 82.2M1014.6 98.8Q1014.8 95.4 1014.7 93.7L1014.6 92.0M1020.9 121.0Q1023.2 118.0 1024.7 116.9L1026.3 115.9M915.7 219.4Q919.9 219.2 921.9 218.5L923.8 217.8M1030.5 94.8Q1029.0 92.1 1028.8 90.5L1028.6 89.0M1018.7 169.1Q1023.1 169.5 1025.4 169.5L1027.6 169.5M908.5 138.2Q909.0 135.1 908.6 133.7Q908.3 132.2 908.4 130.7L908.6 129.1M1067.6 138.1Q1067.8 134.2 1068.0 132.2Q1068.3 130.3 1067.5 128.5L1066.8 126.6M855.8 137.0Q859.0 136.0 860.6 135.3Q862.1 134.6 863.7 134.0L865.3 133.5M1061.0 194.2Q1061.0 190.5 1061.4 188.7Q1061.7 186.8 1062.9 185.4L1064.0 183.9M880.0 122.6Q883.3 122.0 885.0 122.0L886.7 121.9M875.5 199.4Q877.1 196.6 878.0 195.2Q878.9 193.9 880.3 193.0L881.6 192.1M905.8 215.6Q909.6 214.9 911.5 215.1L913.5 215.4M1060.4 126.3Q1064.1 126.3 1065.8 125.8Q1067.6 125.2 1069.0 124.1L1070.5 123.0M1064.3 144.8Q1066.1 141.2 1066.7 139.3L1067.3 137.4M864.7 120.5Q866.2 117.6 867.0 116.2Q867.8 114.8 869.0 113.7L870.1 112.5M1017.1 104.7Q1019.5 101.6 1020.9 100.3Q1022.3 99.0 1023.6 97.6L1025.0 96.2M894.3 72.2Q894.3 68.3 894.6 66.4L894.8 64.4M1014.2 108.6Q1016.1 106.1 1016.9 104.7Q1017.6 103.3 1018.5 101.9Q1019.3 100.6 1020.1 99.2L1020.9 97.9M1058.4 154.7Q1060.2 152.1 1061.2 150.9Q1062.2 149.7 1063.3 148.6L1064.5 147.5M907.3 123.9Q903.7 121.6 901.8 120.7L899.9 119.7M1065.5 216.6Q1066.0 212.7 1066.1 210.8L1066.2 208.8M864.1 187.2Q861.8 185.1 860.4 184.6Q858.9 184.1 857.4 183.7L855.9 183.4M1071.2 126.2Q1074.0 122.8 1074.9 120.7L1075.8 118.7M917.9 203.0Q918.6 199.7 919.0 198.0Q919.4 196.4 920.5 195.1L921.6 193.8M1060.9 111.0Q1063.5 109.0 1065.0 108.3L1066.5 107.7M860.0 205.1Q862.4 202.4 863.1 200.7Q863.9 199.0 864.6 197.4L865.3 195.7M876.4 73.2Q879.4 70.6 881.1 69.6L882.9 68.7M1073.5 82.2Q1071.4 79.4 1070.4 77.9L1069.5 76.4M857.8 106.1Q860.5 104.4 862.0 103.7L863.4 102.9M866.5 75.4Q869.4 73.1 871.2 72.7L873.0 72.3M939.0 157.5Q940.3 154.6 940.6 153.0Q941.0 151.4 940.8 149.8Q940.6 148.2 940.6 146.6L940.5 145.0M1014.5 82.6Q1015.6 79.1 1016.6 77.6L1017.7 76.1M1014.0 78.2Q1017.1 76.5 1018.6 75.5L1020.0 74.4M878.8 117.1Q881.2 114.3 881.8 112.6L882.5 110.8M891.2 158.3Q890.6 155.0 889.6 153.7Q888.5 152.4 887.7 150.9L886.8 149.5M929.1 69.9Q928.8 65.7 929.6 63.8L930.4 61.9M1068.2 103.3Q1069.4 100.4 1070.0 99.0L1070.7 97.6M1003.4 229.8Q1005.5 227.4 1006.8 226.6L1008.1 225.8M859.5 107.6Q860.3 104.5 861.2 103.2L862.1 101.9M885.7 198.7Q888.7 196.9 890.4 196.6Q892.2 196.3 893.9 196.5L895.7 196.7M1015.2 146.4Q1018.6 147.4 1020.4 147.9L1022.1 148.4M996.7 130.0Q998.1 127.1 998.9 125.7Q999.7 124.3 1000.7 123.1Q1001.7 121.8 1002.9 120.8L1004.2 119.8M1058.1 119.8Q1059.6 116.6 1060.9 115.4L1062.2 114.2M1031.8 123.6Q1032.7 120.5 1033.1 118.9L1033.5 117.3M873.8 161.9Q878.1 162.9 879.9 164.2L881.7 165.5M1036.8 85.0Q1037.3 81.5 1037.2 79.7L1037.2 77.9" stroke="#e0e0e0" stroke-width="1.5" opacity="0.5"/>
<path d="M992.0 96.3A1.8 1.8 0 0 1 988.8 96.6M1076.6 209.0A2.0 2.0 0 0 1 1072.6 208.6M897.9 190.5A1.9 1.9 0 0 1 894.6 191.9M1064.8 102.9A2.5 2.5 0 0 1 1060.5 103.9M1069.7 110.6A2.8 2.8 0 0 1 1064.6 108.5M871.5 107.9A2.5 2.5 0 0 1 867.0 108.9M1073.1 178.9A1.9 1.9 0 0 1 1069.5 177.6M1011.5 229.6A2.3 2.3 0 0 1 1007.0 228.6M924.6 237.7A2.7 2.7 0 0 1 924.0 232.4M1031.8 219.1A2.9 2.9 0 0 1 1027.6 223.0M1017.4 134.9A2.3 2.3 0 0 1 1013.2 133.2M863.0 169.3A2.6 2.6 0 0 1 858.0 170.1M928.5 178.2A2.7 2.7 0 0 1 924.0 181.3M1048.9 131.4A1.9 1.9 0 0 1 1049.2 135.2M955.9 82.4A1.8 1.8 0 0 1 952.6 82.9M1030.3 71.4A1.7 1.7 0 0 1 1028.5 74.4M908.1 91.4A2.3 2.3 0 0 1 904.9 94.7M1068.2 182.3A1.9 1.9 0 0 1 1066.0 184.8M999.1 101.2A2.5 2.5 0 0 1 997.8 106.1M1071.6 161.2A2.9 2.9 0 0 1 1067.8 157.8M870.7 201.8A2.7 2.7 0 0 1 866.5 204.2M965.4 226.5A2.4 2.4 0 0 1 960.8 227.5M1052.9 106.4A2.4 2.4 0 0 1 1053.4 101.8M898.3 160.1A1.7 1.7 0 0 1 897.5 156.8M1033.2 163.1A1.8 1.8 0 0 1 1029.7 163.2M914.0 150.7A2.8 2.8 0 0 1 911.5 146.1M934.5 171.9A1.9 1.9 0 0 1 931.5 173.7M949.9 200.2A2.6 2.6 0 0 1 946.1 202.6M1070.7 89.7A2.4 2.4 0 0 1 1066.6 90.0M879.8 76.0A2.4 2.4 0 0 1 875.7 77.7M1042.3 101.5A2.2 2.2 0 0 1 1038.9 99.3M893.1 153.9A2.7 2.7 0 0 1 888.0 155.8M1071.7 200.2A2.7 2.7 0 0 1 1072.1 205.5M1036.6 138.3A2.6 2.6 0 0 1 1031.9 136.6M1014.8 79.8A1.7 1.7 0 0 1 1014.4 83.1M1064.9 178.0A2.4 2.4 0 0 1 1061.4 181.4M1073.2 74.0A2.0 2.0 0 0 1 1069.2 74.1M1034.9 81.4A1.8 1.8 0 0 1 1031.8 83.1M887.1 149.0A2.5 2.5 0 0 1 890.5 145.5M1019.4 134.5A1.8 1.8 0 0 1 1021.9 132.6M1056.6 141.2A2.0 2.0 0 0 1 1052.7 141.1M1064.4 189.1A2.8 2.8 0 0 1 1059.1 190.2M956.7 103.6A1.9 1.9 0 0 1 953.1 104.1M1004.1 145.7A2.2 2.2 0 0 1 999.9 144.0M1051.0 76.3A2.3 2.3 0 0 1 1046.6 77.0M872.4 84.4A2.5 2.5 0 0 1 867.6 85.1M1034.9 129.2A2.1 2.1 0 0 1 1032.6 132.7M873.8 83.8A2.6 2.6 0 0 1 869.4 85.3M900.4 181.7A2.6 2.6 0 0 1 901.3 176.6M916.8 95.5A2.2 2.2 0 0 1 915.6 91.4M1052.5 112.9A2.2 2.2 0 0 1 1050.9 109.1M1048.2 114.0A2.4 2.4 0 0 1 1050.7 118.2M1033.9 79.6A1.8 1.8 0 0 1 1031.8 82.1M1018.9 219.3A1.9 1.9 0 0 1 1015.4 218.8M1024.8 132.8A2.6 2.6 0 0 1 1023.1 137.5M1058.7 139.6A2.8 2.8 0 0 1 1054.8 135.6M1067.1 173.0A2.7 2.7 0 0 1 1066.9 178.3M894.2 118.2A2.1 2.1 0 0 1 894.7 114.1M1037.5 147.5A2.9 2.9 0 0 1 1032.4 150.2M1064.0 204.6A2.4 2.4 0 0 1 1062.4 200.5M888.7 125.3A2.4 2.4 0 0 1 887.9 120.7M916.0 188.5A2.3 2.3 0 0 1 911.4 187.6M923.2 123.4A2.3 2.3 0 0 1 922.1 118.9M932.5 185.4A2.3 2.3 0 0 1 934.1 181.1M859.0 132.2A2.4 2.4 0 0 1 854.3 133.1M899.1 192.9A2.4 2.4 0 0 1 896.8 188.6M1040.8 166.5A1.9 1.9 0 0 1 1039.5 169.6M926.3 140.3A2.6 2.6 0 0 1 927.7 135.3M991.1 73.9A2.5 2.5 0 0 1 986.5 73.9M1039.4 169.6A2.9 2.9 0 0 1 1035.0 173.1M934.3 148.1A1.9 1.9 0 0 1 932.9 144.7M1018.4 134.2A1.7 1.7 0 0 1 1015.7 132.7M928.3 177.6A1.9 1.9 0 0 1 926.9 174.0M1040.3 213.5A2.4 2.4 0 0 1 1038.3 209.2M868.2 188.7A2.5 2.5 0 0 1 863.8 191.0M908.6 120.6A1.8 1.8 0 0 1 905.1 120.0M876.6 203.5A2.9 2.9 0 0 1 873.2 199.2M1036.0 136.5A1.8 1.8 0 0 1 1033.0 136.0M1056.0 120.2A3.0 3.0 0 0 1 1051.0 122.8M1060.3 219.1A2.2 2.2 0 0 1 1056.3 217.9M898.3 176.0A1.8 1.8 0 0 1 897.7 172.8M1059.7 181.8A1.8 1.8 0 0 1 1058.4 178.5M875.1 117.4A2.1 2.1 0 0 1 871.1 117.1M864.1 145.3A2.9 2.9 0 0 1 858.9 147.7M1029.9 156.1A2.6 2.6 0 0 1 1024.9 155.2M905.8 152.9A2.3 2.3 0 0 1 904.3 149.1M1056.1 165.5A2.0 2.0 0 0 1 1053.1 163.5M924.8 77.9A2.4 2.4 0 0 1 920.6 77.7M1070.9 79.0A3.0 3.0 0 0 1 1066.9 74.6M1025.5 191.6A2.4 2.4 0 0 1 1020.8 190.5M989.3 78.0A1.8 1.8 0 0 1 988.2 74.8M1052.2 147.5A2.2 2.2 0 0 1 1048.2 146.2M914.9 131.0A2.2 2.2 0 0 1 911.7 128.0M1012.9 221.5A2.2 2.2 0 0 1 1014.3 217.5M1024.6 157.6A2.0 2.0 0 0 1 1023.2 154.3M889.5 167.7A2.3 2.3 0 0 1 885.2 169.1M888.6 104.3A2.2 2.2 0 0 1 884.3 104.1M1047.6 108.1A2.0 2.0 0 0 1 1044.0 106.6M1067.3 214.2A1.8 1.8 0 0 1 1063.8 213.4M928.1 113.5A2.9 2.9 0 0 1 923.3 110.6M912.7 182.5A2.5 2.5 0 0 1 910.3 178.3M1065.0 197.7A2.2 2.2 0 0 1 1060.7 198.1M891.4 172.6A2.2 2.2 0 0 1 887.1 173.3M879.0 185.2A2.7 2.7 0 0 1 874.0 187.3M1049.1 79.9A2.7 2.7 0 0 1 1044.0 78.6M1014.6 112.0A2.1 2.1 0 0 1 1010.5 110.8M882.4 130.3A1.9 1.9 0 0 1 882.7 133.6M881.3 183.1A2.2 2.2 0 0 1 885.0 181.8M1013.3 86.9A2.7 2.7 0 0 1 1010.4 91.4M882.6 123.5A2.3 2.3 0 0 1 878.3 125.3M1041.9 118.3A2.7 2.7 0 0 1 1038.0 114.6M885.6 175.4A2.3 2.3 0 0 1 884.4 171.2M912.6 79.9A2.1 2.1 0 0 1 909.5 77.2M1076.9 104.2A2.2 2.2 0 0 1 1072.9 102.2M1000.4 175.4A2.8 2.8 0 0 1 998.5 170.1M1074.8 87.7A2.6 2.6 0 0 1 1069.9 87.0M1057.2 72.1A2.2 2.2 0 0 1 1054.0 75.2M893.1 89.5A2.3 2.3 0 0 1 892.0 85.3M901.0 215.6A1.8 1.8 0 0 1 897.5 214.7M951.3 230.4A2.6 2.6 0 0 1 946.8 227.9M1064.8 125.9A3.0 3.0 0 0 1 1061.3 121.7M1044.4 175.4A1.8 1.8 0 0 1 1042.3 172.5M1002.9 137.1A2.5 2.5 0 0 1 1000.6 141.4M1062.8 93.5A2.7 2.7 0 0 1 1057.9 95.7M942.0 215.3A2.3 2.3 0 0 1 942.2 211.0M1075.7 81.8A2.0 2.0 0 0 1 1072.3 79.7M1047.2 101.1A1.8 1.8 0 0 1 1044.8 103.6M1031.1 151.7A2.8 2.8 0 0 1 1025.8 149.9M1040.5 87.0A2.8 2.8 0 0 1 1039.5 91.8M1074.7 102.0A2.6 2.6 0 0 1 1073.0 106.5M1004.1 140.5A2.1 2.1 0 0 1 1000.2 142.0M1010.2 99.7A2.3 2.3 0 0 1 1006.4 101.3M879.2 227.3A2.0 2.0 0 0 1 879.5 223.4M888.3 174.9A2.2 2.2 0 0 1 884.0 174.4M1012.7 108.2A2.8 2.8 0 0 1 1007.2 109.6M1067.4 117.6A2.0 2.0 0 0 1 1063.5 118.6M911.9 140.9A2.8 2.8 0 0 1 906.9 138.5M874.7 127.6A2.6 2.6 0 0 1 871.8 131.9M857.6 176.2A2.3 2.3 0 0 1 858.9 172.1M1072.8 233.0A2.5 2.5 0 0 1 1069.7 236.3M900.4 232.6A1.9 1.9 0 0 1 904.0 233.1M1020.8 83.9A2.5 2.5 0 0 1 1015.8 83.2M1017.4 197.1A1.7 1.7 0 0 1 1014.4 199.0M1065.6 217.3A2.4 2.4 0 0 1 1061.0 218.6M922.3 154.6A1.9 1.9 0 0 1 919.0 154.3M890.6 229.7A2.5 2.5 0 0 1 885.7 230.7M997.4 208.4A1.8 1.8 0 0 1 996.7 211.7M877.3 223.9A2.6 2.6 0 0 1 879.1 219.2M921.2 190.0A2.3 2.3 0 0 1 920.2 194.2M867.2 208.1A2.4 2.4 0 0 1 863.2 209.7M875.3 113.4A2.3 2.3 0 0 1 872.4 110.4M1006.7 83.3A2.1 2.1 0 0 1 1003.3 85.5M865.6 198.3A2.4 2.4 0 0 1 864.9 194.1M1059.7 81.3A2.7 2.7 0 0 1 1055.3 84.1M1057.7 107.3A2.8 2.8 0 0 1 1057.7 101.9M860.2 144.0A2.9 2.9 0 0 1 860.0 138.3M879.1 192.8A2.0 2.0 0 0 1 875.4 193.4M928.4 187.0A2.6 2.6 0 0 1 924.2 183.8M1057.3 147.1A2.7 2.7 0 0 1 1053.7 143.1M862.6 187.1A2.1 2.1 0 0 1 859.5 184.7M1061.3 184.3A2.6 2.6 0 0 1 1056.4 184.9M1045.7 189.6A1.7 1.7 0 0 1 1042.9 191.3M916.8 118.0A2.8 2.8 0 0 1 911.7 118.0M936.4 200.1A2.2 2.2 0 0 1 932.2 200.6M1063.5 86.4A1.8 1.8 0 0 1 1065.4 89.5M878.2 164.3A2.1 2.1 0 0 1 874.4 162.6M871.4 74.4A2.6 2.6 0 0 1 866.3 74.8M1029.6 155.0A1.9 1.9 0 0 1 1026.7 157.5M899.4 186.8A1.8 1.8 0 0 1 895.8 186.7M881.5 121.2A2.9 2.9 0 0 1 886.1 117.7M1046.7 224.2A2.5 2.5 0 0 1 1041.9 225.0M860.1 89.7A1.7 1.7 0 0 1 861.3 86.5M1035.5 71.4A3.0 3.0 0 0 1 1030.4 68.3M859.4 196.4A2.4 2.4 0 0 1 855.5 198.8M913.1 157.2A1.9 1.9 0 0 1 909.6 156.3M1074.2 133.9A3.0 3.0 0 0 1 1071.0 129.1M957.5 206.3A2.2 2.2 0 0 1 959.6 202.9M906.1 82.2A2.9 2.9 0 0 1 901.1 84.3M1071.5 147.0A2.3 2.3 0 0 1 1067.3 146.3M1064.1 233.5A2.2 2.2 0 0 1 1061.1 230.8M1051.5 96.5A2.1 2.1 0 0 1 1048.1 98.2M916.3 144.9A2.0 2.0 0 0 1 914.3 141.8M1055.3 150.4A2.9 2.9 0 0 1 1054.0 156.0M1071.8 223.9A2.6 2.6 0 0 1 1068.4 220.4M1035.1 118.2A1.7 1.7 0 0 1 1034.6 121.6M870.9 180.2A2.8 2.8 0 0 1 865.3 180.5M883.5 191.8A2.7 2.7 0 0 1 879.5 188.2M933.7 72.2A2.0 2.0 0 0 1 930.9 75.0M1063.4 122.4A2.1 2.1 0 0 1 1061.9 126.3M1069.2 89.8A2.7 2.7 0 0 1 1064.0 90.9M869.1 94.8A2.6 2.6 0 0 1 863.8 94.6M884.1 139.0A2.2 2.2 0 0 1 880.7 141.7M1044.0 152.9A3.0 3.0 0 0 1 1040.0 149.1M1047.1 156.4A2.9 2.9 0 0 1 1043.1 152.8M925.5 170.8A2.7 2.7 0 0 1 922.0 174.9M1072.2 201.6A2.7 2.7 0 0 1 1067.7 199.3M943.8 233.4A1.8 1.8 0 0 1 940.8 235.2M1038.3 209.4A2.6 2.6 0 0 1 1033.4 207.9M1027.6 121.5A2.1 2.1 0 0 1 1027.0 125.5M934.2 196.6A2.6 2.6 0 0 1 929.6 194.3M1038.4 134.8A2.4 2.4 0 0 1 1036.2 130.6M888.9 227.8A2.3 2.3 0 0 1 885.3 230.6M1059.0 183.1A2.6 2.6 0 0 1 1054.7 180.2M903.0 131.4A1.8 1.8 0 0 1 904.8 128.4M868.7 210.3A1.8 1.8 0 0 1 866.9 207.2M927.5 147.1A2.2 2.2 0 0 1 923.6 148.3M912.4 74.3A2.0 2.0 0 0 1 909.7 71.8M1044.1 148.2A2.9 2.9 0 0 1 1038.6 147.0M1008.8 150.6A2.4 2.4 0 0 1 1007.0 154.8M1052.8 108.1A1.7 1.7 0 0 1 1050.1 106.4M1040.6 80.1A2.4 2.4 0 0 1 1038.5 84.3M1062.4 144.2A2.5 2.5 0 0 1 1060.2 140.3M878.4 173.5A2.6 2.6 0 0 1 874.3 176.8M1063.5 78.6A2.8 2.8 0 0 1 1058.5 77.2M1014.4 100.1A2.0 2.0 0 0 1 1010.5 101.0M866.4 102.5A2.8 2.8 0 0 1 870.0 98.3M1073.7 180.6A2.6 2.6 0 0 1 1068.7 181.4M1059.4 99.3A2.7 2.7 0 0 1 1055.0 101.6M898.9 126.2A2.5 2.5 0 0 1 894.3 125.6M1012.6 220.5A2.1 2.1 0 0 1 1008.5 219.8M1060.2 98.1A2.7 2.7 0 0 1 1059.9 102.9M1055.0 163.2A2.8 2.8 0 0 1 1053.1 167.9M943.1 161.2A1.8 1.8 0 0 1 944.1 164.6M1074.1 114.4A1.9 1.9 0 0 1 1070.9 112.4M997.5 80.0A2.3 2.3 0 0 1 992.9 80.7M923.0 190.5A1.9 1.9 0 0 1 923.5 194.2M1071.9 118.5A2.3 2.3 0 0 1 1067.9 118.2M885.7 170.4A2.7 2.7 0 0 1 880.4 170.9M1032.4 137.1A2.2 2.2 0 0 1 1030.9 133.1M934.7 235.7A1.8 1.8 0 0 1 931.5 235.9M1053.1 105.3A2.3 2.3 0 0 1 1049.2 106.6M865.9 182.6A2.5 2.5 0 0 1 869.1 179.1M902.8 175.0A2.9 2.9 0 0 1 897.5 177.6M1056.0 200.8A1.9 1.9 0 0 1 1052.6 202.2M1065.6 214.5A2.1 2.1 0 0 1 1063.2 211.1M875.3 111.6A2.8 2.8 0 0 1 870.6 114.0M919.0 141.5A1.7 1.7 0 0 1 917.2 138.5M987.5 120.5A2.2 2.2 0 0 1 985.4 124.4M1063.4 196.0A2.7 2.7 0 0 1 1068.2 193.5M891.4 156.7A2.6 2.6 0 0 1 886.4 158.2M915.0 201.1A2.7 2.7 0 0 1 914.1 196.3M1052.2 81.9A2.5 2.5 0 0 1 1047.4 81.0" stroke="#ececec" stroke-width="1.6" opacity="0.5"/>
<g fill="#fff" stroke="none"><circle cx="945.4" cy="155.8" r="1.5" opacity="0.62"/><circle cx="1003.6" cy="87.4" r="1.3" opacity="0.74"/><circle cx="1039.1" cy="132.5" r="1.8" opacity="0.94"/><circle cx="893.3" cy="194.7" r="1.9" opacity="0.59"/><circle cx="880.5" cy="96.9" r="1.8" opacity="0.91"/><circle cx="958.9" cy="90.8" r="1.4" opacity="0.79"/><circle cx="1013.5" cy="198.1" r="1.5" opacity="0.71"/><circle cx="1011.6" cy="123.7" r="1.3" opacity="0.52"/><circle cx="939.6" cy="129.1" r="1.3" opacity="0.69"/><circle cx="1062.8" cy="208.2" r="1.4" opacity="0.67"/><circle cx="922.8" cy="92.4" r="1.8" opacity="0.67"/><circle cx="892.9" cy="87.1" r="1.7" opacity="0.60"/><circle cx="1014.4" cy="200.5" r="1.3" opacity="0.64"/><circle cx="1024.3" cy="191.6" r="1.5" opacity="0.66"/><circle cx="958.4" cy="201.0" r="1.8" opacity="0.91"/><circle cx="891.8" cy="233.7" r="1.8" opacity="0.55"/><circle cx="1004.8" cy="103.4" r="1.8" opacity="0.73"/><circle cx="865.0" cy="116.9" r="1.5" opacity="0.92"/><circle cx="985.8" cy="205.3" r="1.4" opacity="0.83"/><circle cx="929.3" cy="107.3" r="1.2" opacity="0.69"/><circle cx="918.3" cy="72.5" r="1.4" opacity="0.72"/><circle cx="937.6" cy="114.4" r="1.4" opacity="0.63"/><circle cx="879.3" cy="74.6" r="1.2" opacity="0.90"/><circle cx="933.7" cy="143.1" r="1.2" opacity="0.55"/><circle cx="1028.0" cy="161.7" r="1.4" opacity="0.84"/></g>
</g>
</g>
<rect x="1053" y="222.3" width="20.6" height="7" fill="#000"/>
<rect x="1051.9" y="221.3" width="1.1" height="8.8" fill="#e6e600"/>
<rect x="1051.9" y="229.3" width="9.1" height="0.8" fill="#e6e600"/>
<clipPath id="cc1"><rect x="1086.9" y="67.7" width="221.8" height="167.4"/></clipPath>
<linearGradient id="gc1" x1="0" y1="0" x2="0" y2="1"><stop offset="0" stop-color="#7c7c7c"/><stop offset="0.3" stop-color="#848484"/><stop offset="0.6" stop-color="#909090"/><stop offset="1" stop-color="#a2a2a2"/></linearGradient>
<linearGradient id="gs1" x1="0" y1="0" x2="1" y2="0"><stop offset="0" stop-color="#fff" stop-opacity="0.06"/><stop offset="0.35" stop-color="#fff" stop-opacity="0"/><stop offset="0.7" stop-color="#fff" stop-opacity="0"/><stop offset="1" stop-color="#fff" stop-opacity="0.06"/></linearGradient>
<g clip-path="url(#cc1)">
<rect x="1086.9" y="67.7" width="221.8" height="167.4" fill="url(#gc1)"/>
<rect x="1086.9" y="67.7" width="221.8" height="167.4" fill="url(#gs1)"/>
<radialGradient id="gv1" cx="0.5" cy="0.1" r="0.55"><stop offset="0" stop-color="#000" stop-opacity="0.05"/><stop offset="1" stop-color="#000" stop-opacity="0"/></radialGradient>
<rect x="1086.9" y="67.7" width="221.8" height="167.4" fill="url(#gv1)"/>
<g filter="url(#bl2)" fill="none" stroke-linecap="round">
<path d="M1118.2 68.6h0.1M1122.3 219.0h0.1M1091.4 78.4h0.1M1098.3 95.6h0.1M1193.7 132.1h0.1M1112.1 106.1h0.1M1092.7 204.9h0.1M1110.0 159.3h0.1M1163.2 173.6h0.1M1194.3 227.5h0.1M1252.7 219.5h0.1M1096.4 170.7h0.1M1296.6 216.4h0.1M1241.7 186.2h0.1M1304.4 160.4h0.1M1286.2 199.3h0.1M1288.6 156.6h0.1M1115.1 156.7h0.1M1162.0 107.5h0.1M1148.0 101.1h0.1M1271.5 105.0h0.1M1158.6 150.8h0.1M1097.9 202.0h0.1M1144.7 135.3h0.1M1125.4 102.3h0.1M1129.9 98.3h0.1M1265.3 151.8h0.1M1149.6 222.5h0.1M1252.1 225.8h0.1M1298.4 232.1h0.1M1306.7 148.1h0.1M1250.1 172.6h0.1M1307.9 122.4h0.1M1103.7 179.3h0.1M1294.1 132.6h0.1M1272.0 130.4h0.1M1289.1 223.2h0.1M1110.6 170.2h0.1M1103.6 221.0h0.1M1168.7 218.7h0.1M1279.1 176.7h0.1M1097.0 230.9h0.1M1107.0 149.3h0.1M1287.5 116.7h0.1M1244.0 101.4h0.1M1136.5 78.7h0.1M1305.1 208.6h0.1M1230.8 175.9h0.1M1139.3 189.8h0.1M1295.7 169.4h0.1M1119.4 112.8h0.1M1104.1 94.0h0.1M1270.7 88.0h0.1M1100.7 218.9h0.1M1290.5 71.5h0.1M1145.6 187.8h0.1M1252.2 215.2h0.1M1110.0 112.9h0.1M1089.3 105.4h0.1M1231.9 182.9h0.1M1097.4 213.2h0.1M1101.3 89.1h0.1M1250.3 104.9h0.1M1243.5 226.2h0.1M1237.2 231.6h0.1M1159.3 187.8h0.1M1102.3 92.3h0.1M1136.1 167.1h0.1M1163.8 231.7h0.1M1110.0 225.6h0.1M1233.4 183.5h0.1M1100.1 217.8h0.1M1133.0 148.5h0.1M1226.0 157.4h0.1M1171.5 206.4h0.1M1146.5 148.3h0.1M1223.7 203.1h0.1M1126.0 203.3h0.1M1110.8 143.9h0.1M1255.8 180.9h0.1M1305.8 90.4h0.1M1113.1 210.2h0.1M1144.4 88.2h0.1M1113.9 144.4h0.1M1265.2 191.0h0.1M1126.2 175.4h0.1M1110.9 167.2h0.1M1116.7 150.0h0.1M1177.3 124.5h0.1M1107.5 154.3h0.1M1239.1 196.1h0.1M1093.0 125.6h0.1M1306.6 217.5h0.1M1116.9 231.8h0.1M1231.1 218.3h0.1M1264.2 151.1h0.1M1272.1 233.9h0.1M1161.9 117.2h0.1M1142.9 160.5h0.1M1101.8 142.5h0.1M1115.5 233.7h0.1M1154.7 172.6h0.1M1098.2 203.0h0.1M1136.4 108.8h0.1M1292.7 103.0h0.1M1087.3 88.5h0.1M1229.4 85.4h0.1M1180.1 190.7h0.1M1116.3 91.5h0.1M1251.7 141.4h0.1M1121.5 234.2h0.1M1278.2 149.4h0.1M1242.9 224.0h0.1M1255.9 201.0h0.1M1103.0 157.7h0.1M1122.0 233.6h0.1M1099.5 175.4h0.1M1226.7 180.6h0.1M1092.8 74.9h0.1M1149.7 133.7h0.1M1280.3 126.9h0.1M1224.0 97.2h0.1M1150.6 206.7h0.1M1147.7 113.9h0.1M1256.9 231.7h0.1M1230.4 120.3h0.1M1102.0 215.9h0.1M1107.2 102.1h0.1M1296.4 174.2h0.1M1093.2 126.3h0.1M1254.7 209.0h0.1M1251.6 193.6h0.1M1239.1 110.1h0.1M1294.3 219.8h0.1M1099.1 155.6h0.1M1270.5 133.3h0.1M1107.7 91.0h0.1M1281.2 133.8h0.1M1143.9 79.5h0.1M1127.2 192.6h0.1M1107.4 209.2h0.1M1298.4 145.2h0.1M1252.5 234.6h0.1M1159.7 198.4h0.1M1109.2 84.6h0.1M1301.7 207.3h0.1M1282.5 120.4h0.1M1098.7 77.0h0.1M1112.3 187.8h0.1M1172.0 114.5h0.1M1197.8 202.5h0.1M1087.7 92.8h0.1M1294.0 124.6h0.1M1306.5 100.4h0.1M1137.2 137.7h0.1M1308.5 151.1h0.1M1283.0 159.0h0.1M1101.7 117.8h0.1M1148.2 180.1h0.1M1308.2 156.4h0.1M1134.7 158.6h0.1M1149.9 173.9h0.1M1125.6 82.1h0.1M1129.5 189.1h0.1M1150.6 116.5h0.1M1098.8 177.4h0.1M1298.4 175.5h0.1M1132.7 132.3h0.1M1277.3 165.6h0.1M1111.8 86.1h0.1M1191.9 204.6h0.1M1107.3 143.6h0.1M1213.4 194.0h0.1M1186.4 101.5h0.1M1112.1 132.9h0.1M1126.4 223.6h0.1M1298.1 174.9h0.1M1108.0 105.6h0.1M1283.1 173.0h0.1M1165.4 94.6h0.1M1248.7 114.4h0.1M1281.2 212.1h0.1M1160.4 201.9h0.1M1239.8 205.5h0.1M1111.9 138.1h0.1M1257.3 183.1h0.1M1097.3 169.1h0.1M1119.4 178.6h0.1M1292.3 216.4h0.1M1302.9 183.8h0.1M1142.2 225.7h0.1M1109.9 103.3h0.1M1300.1 187.3h0.1M1117.1 215.8h0.1M1122.1 178.2h0.1M1276.8 161.7h0.1M1135.1 153.5h0.1M1278.9 189.4h0.1M1141.8 191.3h0.1M1233.4 161.1h0.1M1148.6 225.4h0.1M1178.2 134.5h0.1M1296.1 161.6h0.1M1156.9 127.5h0.1M1160.1 172.1h0.1M1095.0 83.0h0.1M1124.7 144.2h0.1M1240.6 228.6h0.1M1102.4 201.9h0.1M1105.5 223.0h0.1M1285.7 98.8h0.1M1164.9 217.5h0.1M1088.6 91.3h0.1M1296.4 172.1h0.1M1257.5 227.6h0.1M1096.3 106.9h0.1M1179.9 203.2h0.1M1096.4 84.0h0.1M1234.9 81.4h0.1M1105.2 140.9h0.1M1274.8 140.4h0.1M1297.3 222.5h0.1M1253.6 194.2h0.1M1303.0 121.6h0.1M1147.3 159.4h0.1M1099.4 226.0h0.1M1261.4 224.4h0.1M1286.6 112.2h0.1M1113.8 221.8h0.1M1127.3 145.0h0.1M1290.8 157.1h0.1M1240.5 146.5h0.1M1126.3 159.0h0.1M1129.7 108.6h0.1M1306.2 99.1h0.1M1121.8 171.5h0.1M1109.7 112.9h0.1M1285.9 219.8h0.1M1298.3 109.2h0.1M1173.9 145.8h0.1M1268.8 127.5h0.1M1179.6 75.6h0.1M1092.1 174.1h0.1M1277.5 140.1h0.1M1304.4 106.1h0.1M1255.9 80.3h0.1M1114.7 193.8h0.1M1208.9 132.5h0.1M1246.8 175.1h0.1M1173.0 228.7h0.1M1243.2 186.4h0.1M1090.2 174.6h0.1M1185.0 218.1h0.1M1109.1 186.3h0.1M1100.5 158.8h0.1M1217.8 145.7h0.1M1168.6 131.7h0.1M1109.6 174.8h0.1M1280.4 228.7h0.1M1304.7 131.8h0.1M1248.6 120.2h0.1M1092.0 160.3h0.1M1147.9 98.6h0.1M1172.2 118.5h0.1M1157.3 176.0h0.1M1097.2 157.0h0.1M1256.4 228.3h0.1M1126.9 117.3h0.1M1231.2 202.9h0.1M1227.4 228.7h0.1M1134.0 202.1h0.1M1109.0 89.2h0.1M1262.4 175.5h0.1M1290.1 229.3h0.1M1246.8 80.8h0.1M1097.0 149.2h0.1M1103.2 125.9h0.1M1287.7 163.8h0.1M1200.9 218.1h0.1M1101.8 69.1h0.1M1121.7 105.5h0.1M1160.9 199.0h0.1M1246.7 115.4h0.1M1095.0 70.2h0.1M1189.9 116.1h0.1M1307.8 184.8h0.1M1292.8 208.3h0.1M1115.0 74.4h0.1M1103.8 120.7h0.1M1289.6 222.0h0.1M1123.0 155.5h0.1M1115.9 90.1h0.1M1293.6 193.6h0.1M1128.8 151.1h0.1M1171.9 98.8h0.1M1128.3 226.5h0.1M1093.3 112.3h0.1M1216.5 140.5h0.1M1291.4 164.0h0.1M1235.4 146.5h0.1M1228.8 132.1h0.1M1223.0 143.5h0.1M1225.3 187.4h0.1M1265.5 158.2h0.1M1290.9 112.0h0.1M1095.4 229.8h0.1M1265.4 184.5h0.1M1285.4 156.4h0.1M1093.8 224.0h0.1M1130.1 129.9h0.1M1283.3 158.6h0.1M1117.1 184.7h0.1M1252.4 233.1h0.1M1157.9 173.5h0.1M1168.0 176.5h0.1M1105.2 225.9h0.1M1110.3 226.3h0.1M1287.3 179.1h0.1M1276.6 67.9h0.1M1178.3 141.5h0.1M1130.8 194.5h0.1M1123.5 157.8h0.1M1303.1 208.6h0.1M1141.5 126.5h0.1M1172.9 223.4h0.1M1157.0 144.1h0.1M1088.2 153.6h0.1M1292.8 176.2h0.1M1103.4 141.5h0.1M1114.0 176.8h0.1M1127.0 73.0h0.1M1306.0 109.4h0.1M1251.7 233.8h0.1M1137.6 94.2h0.1M1116.0 212.7h0.1M1088.2 217.7h0.1M1132.8 218.5h0.1M1298.8 200.9h0.1M1274.0 151.1h0.1M1132.6 87.1h0.1M1103.7 186.5h0.1M1258.2 82.8h0.1M1244.7 213.4h0.1M1166.8 116.7h0.1M1104.5 89.9h0.1M1136.9 216.0h0.1M1158.0 154.3h0.1M1297.6 179.3h0.1M1127.5 127.0h0.1M1290.0 205.7h0.1M1128.0 219.4h0.1M1236.1 104.0h0.1M1280.1 147.5h0.1M1223.9 161.8h0.1M1250.3 118.2h0.1M1154.2 146.0h0.1M1253.7 154.2h0.1M1234.7 167.5h0.1M1276.5 205.2h0.1M1175.9 154.1h0.1M1263.8 183.4h0.1M1286.6 193.5h0.1M1154.0 187.1h0.1M1277.5 228.0h0.1M1087.4 185.4h0.1M1239.9 232.2h0.1M1158.2 164.3h0.1M1170.4 202.6h0.1M1125.3 136.3h0.1M1255.8 75.9h0.1M1273.6 196.4h0.1M1298.8 107.0h0.1M1170.4 222.7h0.1M1276.3 183.4h0.1M1260.1 136.7h0.1M1141.2 207.0h0.1M1254.9 72.2h0.1M1110.5 205.4h0.1M1263.8 142.8h0.1M1096.6 216.9h0.1M1295.4 145.4h0.1M1287.9 136.6h0.1M1251.5 147.3h0.1M1261.4 149.8h0.1M1115.0 161.5h0.1M1142.3 160.6h0.1M1296.5 115.7h0.1M1263.3 143.9h0.1M1301.6 86.8h0.1M1273.3 188.8h0.1M1104.8 110.6h0.1M1291.4 162.6h0.1M1120.5 98.5h0.1M1194.6 216.0h0.1M1296.2 118.9h0.1M1296.9 131.9h0.1M1131.8 233.0h0.1M1120.7 168.6h0.1M1249.1 193.7h0.1M1168.0 112.4h0.1M1222.4 82.6h0.1M1303.2 100.7h0.1M1106.3 112.7h0.1M1218.8 232.9h0.1M1124.7 175.7h0.1M1167.3 172.3h0.1M1176.3 205.5h0.1M1091.5 227.5h0.1M1257.2 154.4h0.1M1212.1 171.4h0.1M1291.2 85.8h0.1M1240.2 86.7h0.1M1190.1 146.3h0.1M1121.4 223.9h0.1M1269.8 216.4h0.1M1270.0 215.4h0.1M1265.1 185.5h0.1M1153.8 212.2h0.1M1278.6 193.1h0.1M1287.0 188.6h0.1M1125.6 94.7h0.1M1276.2 147.8h0.1M1147.2 170.0h0.1M1128.6 105.2h0.1M1088.0 155.3h0.1M1093.3 230.7h0.1M1127.3 156.9h0.1M1104.0 211.4h0.1M1153.6 88.6h0.1M1119.0 94.8h0.1M1116.5 228.1h0.1M1133.4 131.1h0.1M1306.1 148.5h0.1M1098.1 162.6h0.1M1220.1 230.9h0.1M1119.0 158.2h0.1M1109.2 232.0h0.1M1163.1 88.7h0.1M1110.5 198.4h0.1M1256.9 181.1h0.1M1106.5 175.5h0.1M1193.9 203.0h0.1M1111.6 88.1h0.1M1143.6 171.9h0.1M1290.1 127.9h0.1M1110.3 167.6h0.1M1117.0 124.7h0.1M1305.0 122.1h0.1M1300.9 207.7h0.1M1137.9 103.3h0.1M1307.0 146.9h0.1M1288.4 213.5h0.1M1271.1 212.2h0.1M1164.5 88.6h0.1M1244.5 196.4h0.1M1086.2 151.9h0.1M1126.0 156.4h0.1M1207.4 182.8h0.1M1271.1 110.2h0.1M1165.9 148.2h0.1M1096.3 101.6h0.1M1112.4 194.4h0.1M1139.5 103.2h0.1M1090.5 166.2h0.1M1290.6 109.9h0.1M1118.7 104.5h0.1M1235.4 215.5h0.1M1103.4 224.8h0.1M1103.2 194.2h0.1M1244.6 192.5h0.1M1109.1 116.4h0.1M1155.5 210.0h0.1M1283.9 219.7h0.1M1099.7 162.4h0.1M1252.6 234.0h0.1M1109.3 179.3h0.1M1091.4 91.0h0.1M1227.9 118.6h0.1" stroke="#404040" stroke-width="2.8" opacity="0.42"/>
<path d="M1158.7 182.4Q1159.8 178.5 1161.2 177.0L1162.6 175.4M1280.6 217.9Q1284.0 217.1 1285.6 216.5Q1287.3 216.0 1289.0 215.6L1290.7 215.2M1092.4 119.3Q1095.6 117.9 1097.1 116.9L1098.6 115.9M1273.0 89.3Q1272.3 86.1 1271.3 84.9L1270.2 83.6M1291.7 168.2Q1290.7 164.5 1290.7 162.6L1290.6 160.7M1138.0 132.2Q1141.2 131.6 1142.8 131.1Q1144.4 130.7 1145.6 129.7L1146.9 128.7M1149.6 208.5Q1149.2 205.0 1149.8 203.4Q1150.4 201.8 1151.0 200.1L1151.5 198.5M1245.3 127.2Q1248.1 126.0 1249.7 126.0Q1251.2 125.9 1252.6 125.4Q1254.1 124.9 1255.6 124.9L1257.1 124.8M1178.7 76.4Q1176.8 72.8 1175.2 71.5L1173.7 70.1M1150.2 194.2Q1151.6 191.4 1152.1 190.0L1152.6 188.5M1183.9 220.3Q1187.1 220.3 1188.6 220.5Q1190.2 220.8 1191.8 221.0Q1193.4 221.2 1194.9 220.9L1196.5 220.7M1291.3 208.3Q1293.8 205.7 1295.4 204.9L1297.0 204.0M1110.9 138.6Q1114.0 140.1 1115.3 141.3L1116.5 142.5M1118.7 200.2Q1122.0 198.4 1123.1 197.0L1124.3 195.5M1253.3 126.7Q1254.5 123.2 1254.9 121.5L1255.4 119.7M1128.1 92.9Q1129.8 90.1 1130.9 89.0L1132.1 87.9M1186.0 201.3Q1188.8 199.6 1190.2 199.0L1191.7 198.3M1230.4 119.1Q1233.4 117.9 1234.9 117.3Q1236.4 116.7 1237.9 116.4Q1239.5 116.1 1240.8 115.2L1242.1 114.3M1230.7 198.8Q1229.7 195.7 1229.2 194.2Q1228.8 192.6 1228.0 191.3Q1227.2 189.9 1227.0 188.3L1226.7 186.7M1245.8 114.0Q1246.5 110.3 1247.5 108.7L1248.4 107.1M1181.5 228.8Q1181.8 224.9 1182.1 222.9Q1182.5 221.0 1182.3 219.0L1182.0 217.1M1270.0 166.6Q1272.9 165.0 1274.4 164.3Q1275.9 163.6 1277.1 162.5L1278.3 161.3M1092.3 96.2Q1091.4 93.1 1090.3 91.8L1089.2 90.6M1117.9 148.1Q1121.0 146.9 1122.7 146.6Q1124.4 146.3 1125.9 145.7L1127.5 145.2M1298.2 171.8Q1297.1 168.0 1295.9 166.5Q1294.7 164.9 1293.6 163.2L1292.5 161.6M1270.2 119.6Q1267.5 116.6 1265.7 115.7L1263.8 114.9M1097.7 144.9Q1101.3 145.2 1103.2 145.1Q1105.0 144.9 1106.5 144.0L1108.1 143.0M1145.8 145.7Q1145.8 141.6 1145.2 139.7L1144.5 137.8M1250.8 145.0Q1251.9 141.2 1252.8 139.4Q1253.8 137.7 1254.2 135.7L1254.6 133.8M1119.6 161.0Q1121.7 157.4 1123.0 155.8L1124.3 154.2M1266.9 155.6Q1270.0 154.6 1271.6 154.4L1273.2 154.2M1117.9 164.8Q1114.9 163.1 1113.3 162.4Q1111.8 161.7 1110.1 161.3L1108.4 160.8M1108.5 175.3Q1105.5 172.4 1104.5 170.6L1103.6 168.7M1139.8 173.7Q1141.7 170.5 1142.7 168.9Q1143.7 167.3 1144.1 165.5L1144.5 163.7M1300.3 140.7Q1300.3 137.0 1300.6 135.1L1300.8 133.2M1179.2 204.1Q1182.9 203.2 1184.8 203.4L1186.7 203.6M1274.6 167.3Q1275.9 164.5 1277.1 163.5Q1278.3 162.5 1279.3 161.4Q1280.4 160.2 1280.9 158.8L1281.5 157.3M1096.4 115.8Q1096.3 111.4 1096.6 109.3L1096.9 107.1M1089.4 161.3Q1092.4 161.4 1093.9 161.3Q1095.5 161.2 1096.9 161.7Q1098.3 162.3 1099.8 162.4L1101.3 162.5M1113.6 97.3Q1113.5 94.2 1113.0 92.7Q1112.6 91.2 1111.6 90.1Q1110.6 88.9 1109.7 87.6L1108.8 86.4M1284.1 198.6Q1281.9 195.1 1281.3 193.2L1280.6 191.2M1258.1 90.5Q1255.1 88.1 1254.1 86.4L1253.2 84.7M1285.9 100.5Q1290.0 98.9 1292.1 98.3L1294.2 97.6M1240.3 124.7Q1240.0 121.3 1240.5 119.6L1241.0 118.0M1223.1 194.5Q1224.5 191.0 1224.9 189.1Q1225.2 187.3 1226.3 185.7L1227.4 184.2M1294.5 170.5Q1293.3 166.9 1292.9 165.1L1292.5 163.3M1161.7 174.6Q1162.5 170.4 1163.7 168.7L1164.9 167.0M1199.7 214.3Q1200.2 211.1 1199.9 209.5Q1199.6 208.0 1200.0 206.4L1200.3 204.8M1274.1 201.5Q1274.8 197.4 1276.1 195.8L1277.4 194.2M1304.7 185.4Q1306.5 182.8 1307.6 181.7Q1308.7 180.6 1309.9 179.7Q1311.2 178.8 1312.6 178.0L1313.9 177.1M1224.8 181.8Q1227.6 179.4 1229.3 178.7Q1231.0 178.0 1232.4 176.7L1233.8 175.5M1087.2 170.9Q1089.7 168.3 1090.5 166.6Q1091.3 165.0 1092.0 163.4L1092.8 161.8M1269.2 228.9Q1271.5 225.6 1273.0 224.3L1274.5 223.1M1161.9 79.1Q1159.9 76.9 1158.8 75.9Q1157.6 74.9 1156.3 74.2Q1155.0 73.5 1153.9 72.5L1152.8 71.4M1295.5 231.5Q1292.1 229.7 1290.2 229.6Q1288.3 229.4 1286.4 229.2L1284.6 228.9M1257.6 220.4Q1259.0 217.0 1260.0 215.5Q1261.1 214.0 1262.5 212.8L1263.8 211.5M1263.5 171.5Q1265.8 169.5 1266.8 168.4Q1267.8 167.3 1269.0 166.2L1270.1 165.2M1129.1 82.0Q1125.4 79.7 1123.4 79.0L1121.3 78.3M1087.6 112.0Q1086.4 109.0 1085.4 107.9L1084.3 106.7M1118.8 212.5Q1117.7 208.8 1117.9 206.8L1118.1 204.9M1281.1 83.0Q1282.1 79.1 1283.4 77.6L1284.7 76.0M1226.9 112.9Q1228.1 109.9 1229.2 108.7Q1230.3 107.6 1231.1 106.1L1231.8 104.7M1087.0 180.8Q1090.4 181.1 1092.1 181.1L1093.8 181.0M1123.9 75.6Q1127.8 76.5 1129.7 77.0L1131.6 77.5M1267.5 70.9Q1269.2 67.8 1269.2 66.0Q1269.2 64.2 1269.9 62.5L1270.6 60.8M1113.4 166.7Q1112.7 163.8 1111.8 162.5Q1110.9 161.3 1109.9 160.2Q1108.9 159.1 1107.5 158.6L1106.1 158.0M1277.7 119.6Q1279.1 116.5 1279.5 114.8Q1279.8 113.1 1279.8 111.3L1279.8 109.6M1305.2 72.9Q1305.9 69.3 1306.9 67.7L1307.9 66.2M1197.0 209.7Q1199.8 208.4 1201.4 208.2Q1203.0 207.9 1204.6 208.2L1206.1 208.5M1254.9 150.7Q1254.7 147.5 1255.1 145.9L1255.4 144.3M1095.2 175.8Q1096.5 172.7 1097.8 171.5L1099.0 170.4M1194.5 163.5Q1197.4 162.3 1198.7 161.3Q1199.9 160.3 1200.6 158.9L1201.3 157.5M1128.3 109.3Q1131.2 106.7 1133.1 106.0L1135.0 105.4M1197.3 220.2Q1199.3 217.9 1200.4 216.8Q1201.5 215.8 1202.5 214.6Q1203.5 213.5 1204.8 212.6L1206.0 211.7M1240.3 152.4Q1244.7 151.7 1246.9 151.8L1249.1 151.8M1096.1 113.7Q1099.4 112.1 1101.1 111.4Q1102.7 110.7 1104.5 110.3L1106.3 110.0M1300.6 147.2Q1299.7 143.1 1299.6 141.0L1299.4 138.8M1132.1 89.1Q1131.8 84.8 1131.9 82.7L1132.0 80.5M1217.5 194.2Q1216.8 189.9 1217.1 187.7L1217.4 185.5M1087.4 221.1Q1089.8 219.1 1091.2 218.5Q1092.7 218.0 1094.3 217.9L1095.9 217.9M1092.1 135.5Q1092.9 132.5 1092.7 131.0Q1092.4 129.5 1092.6 127.9Q1092.9 126.4 1092.9 124.8L1093.0 123.3M1101.0 177.7Q1102.7 175.1 1103.9 174.1Q1105.0 173.0 1106.4 172.3Q1107.8 171.7 1109.3 171.0L1110.7 170.4M1102.8 138.2Q1105.5 135.8 1107.3 135.3Q1109.0 134.8 1110.8 134.5L1112.5 134.2M1097.4 179.3Q1098.6 176.0 1099.0 174.3Q1099.4 172.6 1099.8 170.8L1100.1 169.1M1255.0 213.5Q1257.8 211.4 1259.0 210.1Q1260.2 208.8 1261.3 207.4L1262.4 206.1M1121.4 198.6Q1121.2 195.6 1121.6 194.1Q1122.0 192.7 1121.7 191.2L1121.5 189.7M1087.9 131.1Q1087.5 128.0 1087.0 126.5L1086.4 125.1M1276.1 168.9Q1279.6 170.2 1281.2 171.2Q1282.8 172.2 1284.4 173.2L1286.0 174.2M1269.8 178.3Q1273.1 176.5 1274.9 176.1L1276.8 175.7M1243.6 224.1Q1246.7 224.3 1248.3 224.3Q1249.8 224.3 1251.4 224.0L1252.9 223.7M1258.1 110.6Q1257.3 107.4 1256.4 106.0L1255.5 104.6M1095.7 194.9Q1094.9 191.4 1095.3 189.6L1095.7 187.8M1267.5 185.1Q1269.8 188.3 1271.2 189.7Q1272.5 191.1 1273.4 192.9L1274.3 194.7M1272.3 169.6Q1275.6 167.9 1277.0 166.8L1278.5 165.6M1295.7 95.5Q1298.1 92.5 1298.8 90.7Q1299.5 88.9 1300.9 87.6L1302.3 86.2M1300.1 123.2Q1303.7 121.0 1305.7 120.6L1307.8 120.3M1251.6 202.6Q1254.6 203.2 1256.0 202.8Q1257.5 202.3 1259.0 202.3Q1260.5 202.3 1261.9 201.9L1263.4 201.6M1273.3 223.7Q1274.4 220.4 1275.1 218.9Q1275.9 217.3 1276.5 215.7L1277.2 214.1M1111.9 83.7Q1112.0 79.7 1111.7 77.6L1111.3 75.6M1261.6 135.1Q1264.4 132.9 1265.3 131.5L1266.3 130.0M1233.6 97.6Q1237.1 95.6 1238.8 94.5L1240.4 93.3M1295.4 234.8Q1298.2 233.4 1299.7 233.0Q1301.2 232.5 1302.7 232.0L1304.1 231.6M1088.7 99.0Q1088.4 96.0 1087.6 94.7Q1086.7 93.5 1086.5 92.0L1086.3 90.5M1281.8 202.7Q1281.3 199.7 1280.4 198.5Q1279.6 197.2 1278.7 196.1L1277.8 194.9M1099.0 150.3Q1101.8 148.3 1103.5 147.9Q1105.2 147.6 1106.9 147.3L1108.6 147.1M1169.4 199.7Q1171.7 196.3 1173.1 194.9L1174.5 193.4M1284.5 182.6Q1288.8 181.3 1290.5 179.9L1292.3 178.5M1102.2 130.5Q1105.8 129.4 1107.6 129.1Q1109.4 128.8 1111.0 127.8L1112.6 126.8M1293.2 105.2Q1293.1 102.0 1292.8 100.4Q1292.5 98.9 1292.5 97.3L1292.6 95.6M1155.0 136.7Q1155.4 132.9 1154.8 131.2Q1154.2 129.4 1153.4 127.7L1152.5 126.0M1223.6 163.7Q1226.4 162.2 1228.0 161.9Q1229.5 161.6 1231.1 161.7L1232.7 161.8M1112.3 78.1Q1115.7 76.9 1117.5 77.0Q1119.3 77.1 1121.0 77.6L1122.8 78.1M1199.5 169.0Q1202.9 168.7 1204.4 167.9Q1205.9 167.1 1207.1 165.9L1208.3 164.7M1149.9 191.7Q1153.7 190.3 1155.5 189.2L1157.2 188.2M1262.5 201.6Q1264.9 199.5 1266.4 198.7Q1267.8 198.0 1269.2 197.2Q1270.6 196.5 1272.3 196.3L1273.9 196.2M1160.1 162.4Q1162.6 164.2 1164.1 164.7Q1165.5 165.3 1167.1 165.4L1168.6 165.4M1258.5 153.1Q1259.6 149.6 1260.4 148.0L1261.3 146.3M1282.1 83.8Q1284.5 81.8 1285.9 81.3Q1287.4 80.7 1288.4 79.5L1289.4 78.4M1089.4 233.5Q1091.7 231.3 1092.9 230.3Q1094.1 229.4 1095.4 228.4Q1096.6 227.4 1098.1 227.1L1099.7 226.7M1253.3 205.1Q1256.8 202.5 1257.9 200.7L1259.1 198.8M1253.0 201.6Q1252.8 198.0 1253.0 196.2L1253.3 194.4M1164.4 116.4Q1164.5 113.1 1164.7 111.4L1165.0 109.8" stroke="#444" stroke-width="1.8" transform="translate(1.1 -1)" opacity="0.6"/>
<path d="M1158.7 182.4Q1159.8 178.5 1161.2 177.0L1162.6 175.4M1280.6 217.9Q1284.0 217.1 1285.6 216.5Q1287.3 216.0 1289.0 215.6L1290.7 215.2M1092.4 119.3Q1095.6 117.9 1097.1 116.9L1098.6 115.9M1273.0 89.3Q1272.3 86.1 1271.3 84.9L1270.2 83.6M1291.7 168.2Q1290.7 164.5 1290.7 162.6L1290.6 160.7M1138.0 132.2Q1141.2 131.6 1142.8 131.1Q1144.4 130.7 1145.6 129.7L1146.9 128.7M1149.6 208.5Q1149.2 205.0 1149.8 203.4Q1150.4 201.8 1151.0 200.1L1151.5 198.5M1245.3 127.2Q1248.1 126.0 1249.7 126.0Q1251.2 125.9 1252.6 125.4Q1254.1 124.9 1255.6 124.9L1257.1 124.8M1178.7 76.4Q1176.8 72.8 1175.2 71.5L1173.7 70.1M1150.2 194.2Q1151.6 191.4 1152.1 190.0L1152.6 188.5M1183.9 220.3Q1187.1 220.3 1188.6 220.5Q1190.2 220.8 1191.8 221.0Q1193.4 221.2 1194.9 220.9L1196.5 220.7M1291.3 208.3Q1293.8 205.7 1295.4 204.9L1297.0 204.0M1110.9 138.6Q1114.0 140.1 1115.3 141.3L1116.5 142.5M1118.7 200.2Q1122.0 198.4 1123.1 197.0L1124.3 195.5M1253.3 126.7Q1254.5 123.2 1254.9 121.5L1255.4 119.7M1128.1 92.9Q1129.8 90.1 1130.9 89.0L1132.1 87.9M1186.0 201.3Q1188.8 199.6 1190.2 199.0L1191.7 198.3M1230.4 119.1Q1233.4 117.9 1234.9 117.3Q1236.4 116.7 1237.9 116.4Q1239.5 116.1 1240.8 115.2L1242.1 114.3M1230.7 198.8Q1229.7 195.7 1229.2 194.2Q1228.8 192.6 1228.0 191.3Q1227.2 189.9 1227.0 188.3L1226.7 186.7M1245.8 114.0Q1246.5 110.3 1247.5 108.7L1248.4 107.1M1181.5 228.8Q1181.8 224.9 1182.1 222.9Q1182.5 221.0 1182.3 219.0L1182.0 217.1M1270.0 166.6Q1272.9 165.0 1274.4 164.3Q1275.9 163.6 1277.1 162.5L1278.3 161.3M1092.3 96.2Q1091.4 93.1 1090.3 91.8L1089.2 90.6M1117.9 148.1Q1121.0 146.9 1122.7 146.6Q1124.4 146.3 1125.9 145.7L1127.5 145.2M1298.2 171.8Q1297.1 168.0 1295.9 166.5Q1294.7 164.9 1293.6 163.2L1292.5 161.6M1270.2 119.6Q1267.5 116.6 1265.7 115.7L1263.8 114.9M1097.7 144.9Q1101.3 145.2 1103.2 145.1Q1105.0 144.9 1106.5 144.0L1108.1 143.0M1145.8 145.7Q1145.8 141.6 1145.2 139.7L1144.5 137.8M1250.8 145.0Q1251.9 141.2 1252.8 139.4Q1253.8 137.7 1254.2 135.7L1254.6 133.8M1119.6 161.0Q1121.7 157.4 1123.0 155.8L1124.3 154.2M1266.9 155.6Q1270.0 154.6 1271.6 154.4L1273.2 154.2M1117.9 164.8Q1114.9 163.1 1113.3 162.4Q1111.8 161.7 1110.1 161.3L1108.4 160.8M1108.5 175.3Q1105.5 172.4 1104.5 170.6L1103.6 168.7M1139.8 173.7Q1141.7 170.5 1142.7 168.9Q1143.7 167.3 1144.1 165.5L1144.5 163.7M1300.3 140.7Q1300.3 137.0 1300.6 135.1L1300.8 133.2M1179.2 204.1Q1182.9 203.2 1184.8 203.4L1186.7 203.6M1274.6 167.3Q1275.9 164.5 1277.1 163.5Q1278.3 162.5 1279.3 161.4Q1280.4 160.2 1280.9 158.8L1281.5 157.3M1096.4 115.8Q1096.3 111.4 1096.6 109.3L1096.9 107.1M1089.4 161.3Q1092.4 161.4 1093.9 161.3Q1095.5 161.2 1096.9 161.7Q1098.3 162.3 1099.8 162.4L1101.3 162.5M1113.6 97.3Q1113.5 94.2 1113.0 92.7Q1112.6 91.2 1111.6 90.1Q1110.6 88.9 1109.7 87.6L1108.8 86.4M1284.1 198.6Q1281.9 195.1 1281.3 193.2L1280.6 191.2M1258.1 90.5Q1255.1 88.1 1254.1 86.4L1253.2 84.7M1285.9 100.5Q1290.0 98.9 1292.1 98.3L1294.2 97.6M1240.3 124.7Q1240.0 121.3 1240.5 119.6L1241.0 118.0M1223.1 194.5Q1224.5 191.0 1224.9 189.1Q1225.2 187.3 1226.3 185.7L1227.4 184.2M1294.5 170.5Q1293.3 166.9 1292.9 165.1L1292.5 163.3M1161.7 174.6Q1162.5 170.4 1163.7 168.7L1164.9 167.0M1199.7 214.3Q1200.2 211.1 1199.9 209.5Q1199.6 208.0 1200.0 206.4L1200.3 204.8M1274.1 201.5Q1274.8 197.4 1276.1 195.8L1277.4 194.2M1304.7 185.4Q1306.5 182.8 1307.6 181.7Q1308.7 180.6 1309.9 179.7Q1311.2 178.8 1312.6 178.0L1313.9 177.1M1224.8 181.8Q1227.6 179.4 1229.3 178.7Q1231.0 178.0 1232.4 176.7L1233.8 175.5M1087.2 170.9Q1089.7 168.3 1090.5 166.6Q1091.3 165.0 1092.0 163.4L1092.8 161.8M1269.2 228.9Q1271.5 225.6 1273.0 224.3L1274.5 223.1M1161.9 79.1Q1159.9 76.9 1158.8 75.9Q1157.6 74.9 1156.3 74.2Q1155.0 73.5 1153.9 72.5L1152.8 71.4M1295.5 231.5Q1292.1 229.7 1290.2 229.6Q1288.3 229.4 1286.4 229.2L1284.6 228.9M1257.6 220.4Q1259.0 217.0 1260.0 215.5Q1261.1 214.0 1262.5 212.8L1263.8 211.5M1263.5 171.5Q1265.8 169.5 1266.8 168.4Q1267.8 167.3 1269.0 166.2L1270.1 165.2M1129.1 82.0Q1125.4 79.7 1123.4 79.0L1121.3 78.3M1087.6 112.0Q1086.4 109.0 1085.4 107.9L1084.3 106.7M1118.8 212.5Q1117.7 208.8 1117.9 206.8L1118.1 204.9M1281.1 83.0Q1282.1 79.1 1283.4 77.6L1284.7 76.0M1226.9 112.9Q1228.1 109.9 1229.2 108.7Q1230.3 107.6 1231.1 106.1L1231.8 104.7M1087.0 180.8Q1090.4 181.1 1092.1 181.1L1093.8 181.0M1123.9 75.6Q1127.8 76.5 1129.7 77.0L1131.6 77.5M1267.5 70.9Q1269.2 67.8 1269.2 66.0Q1269.2 64.2 1269.9 62.5L1270.6 60.8M1113.4 166.7Q1112.7 163.8 1111.8 162.5Q1110.9 161.3 1109.9 160.2Q1108.9 159.1 1107.5 158.6L1106.1 158.0M1277.7 119.6Q1279.1 116.5 1279.5 114.8Q1279.8 113.1 1279.8 111.3L1279.8 109.6M1305.2 72.9Q1305.9 69.3 1306.9 67.7L1307.9 66.2M1197.0 209.7Q1199.8 208.4 1201.4 208.2Q1203.0 207.9 1204.6 208.2L1206.1 208.5M1254.9 150.7Q1254.7 147.5 1255.1 145.9L1255.4 144.3M1095.2 175.8Q1096.5 172.7 1097.8 171.5L1099.0 170.4M1194.5 163.5Q1197.4 162.3 1198.7 161.3Q1199.9 160.3 1200.6 158.9L1201.3 157.5M1128.3 109.3Q1131.2 106.7 1133.1 106.0L1135.0 105.4M1197.3 220.2Q1199.3 217.9 1200.4 216.8Q1201.5 215.8 1202.5 214.6Q1203.5 213.5 1204.8 212.6L1206.0 211.7M1240.3 152.4Q1244.7 151.7 1246.9 151.8L1249.1 151.8M1096.1 113.7Q1099.4 112.1 1101.1 111.4Q1102.7 110.7 1104.5 110.3L1106.3 110.0M1300.6 147.2Q1299.7 143.1 1299.6 141.0L1299.4 138.8M1132.1 89.1Q1131.8 84.8 1131.9 82.7L1132.0 80.5M1217.5 194.2Q1216.8 189.9 1217.1 187.7L1217.4 185.5M1087.4 221.1Q1089.8 219.1 1091.2 218.5Q1092.7 218.0 1094.3 217.9L1095.9 217.9M1092.1 135.5Q1092.9 132.5 1092.7 131.0Q1092.4 129.5 1092.6 127.9Q1092.9 126.4 1092.9 124.8L1093.0 123.3M1101.0 177.7Q1102.7 175.1 1103.9 174.1Q1105.0 173.0 1106.4 172.3Q1107.8 171.7 1109.3 171.0L1110.7 170.4M1102.8 138.2Q1105.5 135.8 1107.3 135.3Q1109.0 134.8 1110.8 134.5L1112.5 134.2M1097.4 179.3Q1098.6 176.0 1099.0 174.3Q1099.4 172.6 1099.8 170.8L1100.1 169.1M1255.0 213.5Q1257.8 211.4 1259.0 210.1Q1260.2 208.8 1261.3 207.4L1262.4 206.1M1121.4 198.6Q1121.2 195.6 1121.6 194.1Q1122.0 192.7 1121.7 191.2L1121.5 189.7M1087.9 131.1Q1087.5 128.0 1087.0 126.5L1086.4 125.1M1276.1 168.9Q1279.6 170.2 1281.2 171.2Q1282.8 172.2 1284.4 173.2L1286.0 174.2M1269.8 178.3Q1273.1 176.5 1274.9 176.1L1276.8 175.7M1243.6 224.1Q1246.7 224.3 1248.3 224.3Q1249.8 224.3 1251.4 224.0L1252.9 223.7M1258.1 110.6Q1257.3 107.4 1256.4 106.0L1255.5 104.6M1095.7 194.9Q1094.9 191.4 1095.3 189.6L1095.7 187.8M1267.5 185.1Q1269.8 188.3 1271.2 189.7Q1272.5 191.1 1273.4 192.9L1274.3 194.7M1272.3 169.6Q1275.6 167.9 1277.0 166.8L1278.5 165.6M1295.7 95.5Q1298.1 92.5 1298.8 90.7Q1299.5 88.9 1300.9 87.6L1302.3 86.2M1300.1 123.2Q1303.7 121.0 1305.7 120.6L1307.8 120.3M1251.6 202.6Q1254.6 203.2 1256.0 202.8Q1257.5 202.3 1259.0 202.3Q1260.5 202.3 1261.9 201.9L1263.4 201.6M1273.3 223.7Q1274.4 220.4 1275.1 218.9Q1275.9 217.3 1276.5 215.7L1277.2 214.1M1111.9 83.7Q1112.0 79.7 1111.7 77.6L1111.3 75.6M1261.6 135.1Q1264.4 132.9 1265.3 131.5L1266.3 130.0M1233.6 97.6Q1237.1 95.6 1238.8 94.5L1240.4 93.3M1295.4 234.8Q1298.2 233.4 1299.7 233.0Q1301.2 232.5 1302.7 232.0L1304.1 231.6M1088.7 99.0Q1088.4 96.0 1087.6 94.7Q1086.7 93.5 1086.5 92.0L1086.3 90.5M1281.8 202.7Q1281.3 199.7 1280.4 198.5Q1279.6 197.2 1278.7 196.1L1277.8 194.9M1099.0 150.3Q1101.8 148.3 1103.5 147.9Q1105.2 147.6 1106.9 147.3L1108.6 147.1M1169.4 199.7Q1171.7 196.3 1173.1 194.9L1174.5 193.4M1284.5 182.6Q1288.8 181.3 1290.5 179.9L1292.3 178.5M1102.2 130.5Q1105.8 129.4 1107.6 129.1Q1109.4 128.8 1111.0 127.8L1112.6 126.8M1293.2 105.2Q1293.1 102.0 1292.8 100.4Q1292.5 98.9 1292.5 97.3L1292.6 95.6M1155.0 136.7Q1155.4 132.9 1154.8 131.2Q1154.2 129.4 1153.4 127.7L1152.5 126.0M1223.6 163.7Q1226.4 162.2 1228.0 161.9Q1229.5 161.6 1231.1 161.7L1232.7 161.8M1112.3 78.1Q1115.7 76.9 1117.5 77.0Q1119.3 77.1 1121.0 77.6L1122.8 78.1M1199.5 169.0Q1202.9 168.7 1204.4 167.9Q1205.9 167.1 1207.1 165.9L1208.3 164.7M1149.9 191.7Q1153.7 190.3 1155.5 189.2L1157.2 188.2M1262.5 201.6Q1264.9 199.5 1266.4 198.7Q1267.8 198.0 1269.2 197.2Q1270.6 196.5 1272.3 196.3L1273.9 196.2M1160.1 162.4Q1162.6 164.2 1164.1 164.7Q1165.5 165.3 1167.1 165.4L1168.6 165.4M1258.5 153.1Q1259.6 149.6 1260.4 148.0L1261.3 146.3M1282.1 83.8Q1284.5 81.8 1285.9 81.3Q1287.4 80.7 1288.4 79.5L1289.4 78.4M1089.4 233.5Q1091.7 231.3 1092.9 230.3Q1094.1 229.4 1095.4 228.4Q1096.6 227.4 1098.1 227.1L1099.7 226.7M1253.3 205.1Q1256.8 202.5 1257.9 200.7L1259.1 198.8M1253.0 201.6Q1252.8 198.0 1253.0 196.2L1253.3 194.4M1164.4 116.4Q1164.5 113.1 1164.7 111.4L1165.0 109.8" stroke="#e0e0e0" stroke-width="1.5" opacity="0.5"/>
<path d="M1121.3 69.2A2.8 2.8 0 0 1 1116.1 70.8M1124.0 217.9A1.8 1.8 0 0 1 1122.1 221.0M1089.2 78.2A1.8 1.8 0 0 1 1091.8 76.3M1100.5 96.7A2.2 2.2 0 0 1 1096.1 96.7M1191.7 134.9A3.0 3.0 0 0 1 1191.8 129.3M1114.9 107.5A2.8 2.8 0 0 1 1109.5 107.7M1094.8 204.2A2.0 2.0 0 0 1 1091.7 206.7M1110.7 161.2A1.7 1.7 0 0 1 1108.0 159.3M1165.2 174.1A2.0 2.0 0 0 1 1161.3 174.3M1193.4 229.9A2.2 2.2 0 0 1 1192.1 226.1M1255.5 221.2A2.7 2.7 0 0 1 1250.9 222.2M1096.4 173.6A2.4 2.4 0 0 1 1093.5 170.7M1299.7 217.3A2.8 2.8 0 0 1 1294.3 218.6M1239.6 186.8A2.0 2.0 0 0 1 1242.7 184.2M1306.9 162.6A3.0 3.0 0 0 1 1301.2 161.2M1288.3 198.3A2.2 2.2 0 0 1 1285.4 201.5M1290.6 156.6A1.8 1.8 0 0 1 1287.1 157.8M1115.5 158.9A2.0 2.0 0 0 1 1112.9 156.1M1163.4 106.1A1.7 1.7 0 0 1 1162.7 109.3M1150.8 99.2A2.9 2.9 0 0 1 1149.4 104.3M1273.5 106.4A2.2 2.2 0 0 1 1269.2 105.7M1159.8 152.6A1.9 1.9 0 0 1 1156.5 151.4M1096.9 204.7A2.5 2.5 0 0 1 1095.9 200.0M1146.7 134.1A2.2 2.2 0 0 1 1144.0 137.6M1123.8 104.3A2.4 2.4 0 0 1 1125.4 99.8M1129.1 101.0A2.5 2.5 0 0 1 1128.0 96.2M1265.1 154.7A2.5 2.5 0 0 1 1262.7 150.5M1148.0 225.0A2.6 2.6 0 0 1 1148.0 220.0M1255.2 225.5A2.9 2.9 0 0 1 1250.0 228.1M1300.0 234.1A2.2 2.2 0 0 1 1296.1 233.0M1308.3 150.3A2.4 2.4 0 0 1 1304.0 148.8M1252.8 173.2A2.5 2.5 0 0 1 1248.2 174.6M1310.1 123.0A1.9 1.9 0 0 1 1306.7 124.2M1105.7 181.4A2.8 2.8 0 0 1 1101.0 178.5M1296.7 131.5A2.6 2.6 0 0 1 1293.0 135.3M1273.8 132.9A2.9 2.9 0 0 1 1269.0 129.6M1290.2 224.9A1.9 1.9 0 0 1 1287.2 222.3M1113.8 171.2A2.8 2.8 0 0 1 1109.4 173.3M1106.3 220.0A2.8 2.8 0 0 1 1101.8 223.4M1169.6 216.0A2.4 2.4 0 0 1 1171.2 220.2M1280.0 174.8A1.8 1.8 0 0 1 1280.9 177.9M1096.0 232.9A1.9 1.9 0 0 1 1095.2 229.5M1109.0 147.6A2.4 2.4 0 0 1 1106.2 151.6M1290.3 118.8A2.9 2.9 0 0 1 1285.2 119.3M1245.0 103.0A1.8 1.8 0 0 1 1242.1 100.9M1136.2 81.8A2.9 2.9 0 0 1 1134.3 76.4M1307.3 209.1A1.9 1.9 0 0 1 1303.7 210.2M1233.0 176.6A1.9 1.9 0 0 1 1229.8 177.9M1138.2 191.8A1.9 1.9 0 0 1 1137.3 188.5M1295.6 171.4A1.9 1.9 0 0 1 1294.6 167.8M1122.0 114.8A2.8 2.8 0 0 1 1116.7 114.7M1107.2 95.5A2.8 2.8 0 0 1 1102.5 97.0M1274.0 88.0A2.8 2.8 0 0 1 1270.1 91.3M1102.6 220.0A1.9 1.9 0 0 1 1098.9 220.1M1291.4 73.3A1.9 1.9 0 0 1 1288.8 70.5M1146.7 189.7A1.9 1.9 0 0 1 1143.5 187.7M1250.4 216.7A2.2 2.2 0 0 1 1253.0 213.1M1112.2 112.6A2.0 2.0 0 0 1 1108.6 114.5M1089.8 108.5A2.8 2.8 0 0 1 1086.8 103.7M1234.0 183.4A1.9 1.9 0 0 1 1230.5 184.5M1099.2 214.9A2.1 2.1 0 0 1 1095.4 214.7M1103.3 89.3A1.7 1.7 0 0 1 1100.2 90.6M1253.1 104.6A2.6 2.6 0 0 1 1248.5 107.1M1245.1 228.4A2.2 2.2 0 0 1 1241.2 227.5M1239.3 234.0A3.0 3.0 0 0 1 1233.9 231.8M1161.4 186.2A2.4 2.4 0 0 1 1159.1 190.4M1103.3 90.3A1.9 1.9 0 0 1 1103.7 94.0M1138.2 166.8A1.9 1.9 0 0 1 1134.9 168.8M1166.2 233.6A2.9 2.9 0 0 1 1160.8 231.4M1112.3 227.4A2.6 2.6 0 0 1 1107.2 226.6M1233.7 186.5A2.6 2.6 0 0 1 1230.8 182.2M1103.2 218.0A2.5 2.5 0 0 1 1099.8 220.8M1135.8 149.7A2.8 2.8 0 0 1 1130.2 149.6M1227.6 159.6A2.3 2.3 0 0 1 1223.6 158.7M1173.6 206.2A1.8 1.8 0 0 1 1171.2 208.5M1146.8 150.7A2.1 2.1 0 0 1 1144.2 147.5M1226.1 205.1A2.8 2.8 0 0 1 1220.7 204.1M1128.8 202.7A2.7 2.7 0 0 1 1123.9 205.3M1109.3 145.9A2.2 2.2 0 0 1 1109.5 141.7M1257.6 180.2A1.9 1.9 0 0 1 1254.8 182.7M1308.3 92.1A2.7 2.7 0 0 1 1303.0 91.4M1115.4 207.7A2.9 2.9 0 0 1 1114.8 213.1M1145.1 91.4A2.8 2.8 0 0 1 1141.2 88.1M1112.3 146.9A2.7 2.7 0 0 1 1112.8 141.7M1267.8 189.2A2.8 2.8 0 0 1 1265.8 194.1M1126.2 178.3A2.4 2.4 0 0 1 1123.4 175.0M1111.9 168.9A1.9 1.9 0 0 1 1109.1 166.4M1118.4 151.5A2.0 2.0 0 0 1 1114.6 150.7M1177.1 126.8A2.0 2.0 0 0 1 1174.9 124.2M1105.7 156.3A2.6 2.6 0 0 1 1107.6 151.6M1238.2 197.8A1.7 1.7 0 0 1 1238.0 194.5M1093.3 123.7A1.7 1.7 0 0 1 1094.5 126.8M1307.7 219.4A2.1 2.1 0 0 1 1304.5 216.6M1118.3 234.4A2.6 2.6 0 0 1 1114.0 231.5M1233.3 217.8A2.0 2.0 0 0 1 1230.2 220.4M1266.1 150.8A1.9 1.9 0 0 1 1262.7 152.5M1273.1 236.5A2.3 2.3 0 0 1 1269.5 234.9M1163.9 116.0A2.1 2.1 0 0 1 1162.3 119.6M1144.6 159.6A1.8 1.8 0 0 1 1142.2 162.3M1100.7 144.5A2.1 2.1 0 0 1 1101.2 140.3M1114.0 236.0A2.3 2.3 0 0 1 1113.5 231.8M1156.9 172.3A2.0 2.0 0 0 1 1153.2 174.2M1098.9 205.5A2.4 2.4 0 0 1 1095.9 201.7M1133.4 110.0A2.7 2.7 0 0 1 1135.6 105.7M1293.5 105.3A2.1 2.1 0 0 1 1290.2 102.9M1090.6 88.6A2.8 2.8 0 0 1 1085.9 91.4M1232.4 85.1A2.6 2.6 0 0 1 1228.6 88.3M1181.3 193.8A2.9 2.9 0 0 1 1176.7 190.5M1116.5 93.5A1.9 1.9 0 0 1 1114.5 90.4M1253.2 144.0A2.5 2.5 0 0 1 1249.0 142.9M1122.8 232.7A1.8 1.8 0 0 1 1121.5 236.2M1280.7 150.9A2.7 2.7 0 0 1 1275.4 150.4M1243.5 227.0A2.7 2.7 0 0 1 1239.9 223.4M1257.9 202.4A2.0 2.0 0 0 1 1254.3 202.8M1100.5 158.4A2.2 2.2 0 0 1 1103.0 155.1M1123.3 231.9A2.0 2.0 0 0 1 1122.4 235.7M1100.8 177.6A2.4 2.4 0 0 1 1097.2 174.3M1229.0 183.1A2.9 2.9 0 0 1 1224.0 182.7M1091.6 77.3A2.5 2.5 0 0 1 1091.2 72.6M1147.5 136.1A3.0 3.0 0 0 1 1149.1 130.4M1278.6 128.0A1.9 1.9 0 0 1 1281.2 125.2M1226.3 98.0A2.3 2.3 0 0 1 1221.8 98.4M1152.0 208.3A1.8 1.8 0 0 1 1148.8 207.7M1149.5 116.1A2.6 2.6 0 0 1 1145.0 113.3M1259.5 232.3A2.2 2.2 0 0 1 1255.7 234.0M1232.6 121.4A2.2 2.2 0 0 1 1228.2 121.6M1103.8 216.5A1.7 1.7 0 0 1 1100.4 216.9M1106.9 104.2A1.8 1.8 0 0 1 1105.2 101.5M1295.3 175.6A1.8 1.8 0 0 1 1296.5 172.3M1094.2 129.2A2.9 2.9 0 0 1 1090.8 124.4M1255.6 211.7A2.6 2.6 0 0 1 1252.4 207.4M1254.2 193.7A2.4 2.4 0 0 1 1249.7 195.3M1241.4 109.8A2.0 2.0 0 0 1 1239.3 112.5M1297.5 221.5A2.9 2.9 0 0 1 1292.5 222.9M1101.7 155.1A2.3 2.3 0 0 1 1098.3 158.0M1272.6 133.7A2.0 2.0 0 0 1 1268.6 134.4M1110.0 92.2A2.2 2.2 0 0 1 1105.7 92.6M1282.9 131.9A2.3 2.3 0 0 1 1281.4 136.3M1143.5 82.3A2.4 2.4 0 0 1 1141.2 78.7M1130.2 194.0A2.9 2.9 0 0 1 1124.5 194.5M1108.6 211.8A2.4 2.4 0 0 1 1104.7 210.3M1301.7 144.7A2.9 2.9 0 0 1 1297.5 148.3M1251.5 237.9A2.9 2.9 0 0 1 1249.4 233.0M1159.7 201.2A2.6 2.6 0 0 1 1158.2 196.1M1111.8 83.8A2.6 2.6 0 0 1 1107.7 86.9M1303.7 206.1A2.3 2.3 0 0 1 1300.7 209.5M1281.4 118.1A2.2 2.2 0 0 1 1285.0 120.7M1098.6 79.7A2.6 2.6 0 0 1 1097.0 74.9M1114.7 189.3A2.4 2.4 0 0 1 1110.1 189.4M1169.9 116.8A2.6 2.6 0 0 1 1170.2 112.0M1199.2 204.1A1.8 1.8 0 0 1 1195.9 203.4M1089.6 95.2A2.7 2.7 0 0 1 1084.7 92.9M1292.6 126.5A2.0 2.0 0 0 1 1292.2 123.0M1309.2 100.8A2.6 2.6 0 0 1 1304.0 101.7M1140.1 139.1A2.7 2.7 0 0 1 1135.5 140.4M1310.7 152.4A2.2 2.2 0 0 1 1306.7 153.1M1285.6 160.4A2.5 2.5 0 0 1 1281.0 161.1M1104.5 115.9A2.8 2.8 0 0 1 1103.3 120.7M1146.4 182.7A2.8 2.8 0 0 1 1146.6 177.4M1309.8 157.7A1.8 1.8 0 0 1 1306.4 157.4M1132.8 160.1A2.1 2.1 0 0 1 1134.0 156.3M1152.7 175.2A2.6 2.6 0 0 1 1147.6 175.8M1127.8 80.1A2.8 2.8 0 0 1 1125.1 85.0M1132.0 187.5A2.9 2.9 0 0 1 1128.3 191.9M1153.6 117.4A2.6 2.6 0 0 1 1149.4 119.5M1098.9 179.7A2.0 2.0 0 0 1 1096.6 176.6M1297.6 178.5A2.6 2.6 0 0 1 1295.7 174.0M1132.8 134.4A1.8 1.8 0 0 1 1130.6 132.0M1279.2 167.6A2.5 2.5 0 0 1 1274.6 166.0M1110.9 89.4A2.9 2.9 0 0 1 1108.5 85.0M1192.5 206.6A1.9 1.9 0 0 1 1190.1 203.6M1105.4 145.0A1.9 1.9 0 0 1 1106.0 141.7M1215.4 195.4A2.2 2.2 0 0 1 1211.1 194.7M1187.6 103.2A1.9 1.9 0 0 1 1184.3 101.4M1112.3 135.1A1.9 1.9 0 0 1 1109.8 132.6M1129.1 223.4A2.7 2.7 0 0 1 1124.2 225.4M1301.3 174.6A2.9 2.9 0 0 1 1296.7 177.7M1106.0 107.1A2.1 2.1 0 0 1 1106.7 103.4M1285.3 171.8A2.2 2.2 0 0 1 1283.4 175.6M1166.4 96.6A2.1 2.1 0 0 1 1163.4 93.6M1251.1 113.9A2.0 2.0 0 0 1 1248.9 116.8M1283.5 212.2A2.2 2.2 0 0 1 1279.3 213.3M1160.8 205.1A2.9 2.9 0 0 1 1157.3 200.7M1241.0 207.5A2.1 2.1 0 0 1 1237.5 205.5M1113.6 140.8A2.7 2.7 0 0 1 1108.9 139.1M1259.1 183.3A1.7 1.7 0 0 1 1255.8 184.0M1100.4 169.7A2.8 2.8 0 0 1 1095.4 171.5M1121.6 179.3A1.9 1.9 0 0 1 1118.6 180.8M1293.3 219.8A3.0 3.0 0 0 1 1288.8 216.5M1305.0 185.8A2.7 2.7 0 0 1 1300.0 183.7M1144.0 228.6A2.9 2.9 0 0 1 1138.9 226.1M1111.9 103.5A1.8 1.8 0 0 1 1108.4 104.7M1302.5 188.2A2.3 2.3 0 0 1 1297.8 188.4M1119.1 217.9A2.5 2.5 0 0 1 1114.4 216.6M1124.2 177.8A1.8 1.8 0 0 1 1121.6 180.2M1273.6 162.6A2.9 2.9 0 0 1 1276.8 158.3M1137.7 154.8A2.6 2.6 0 0 1 1132.7 155.2M1278.8 187.1A1.9 1.9 0 0 1 1281.1 189.7M1143.5 190.2A1.7 1.7 0 0 1 1142.7 193.1M1235.6 161.3A1.8 1.8 0 0 1 1232.8 163.1M1149.8 227.0A1.8 1.8 0 0 1 1146.6 225.3M1180.6 134.5A2.1 2.1 0 0 1 1177.1 136.5M1298.5 164.3A3.0 3.0 0 0 1 1293.3 163.8M1158.1 124.6A2.9 2.9 0 0 1 1158.0 130.4M1158.3 173.9A2.2 2.2 0 0 1 1158.6 170.0M1097.5 83.2A2.1 2.1 0 0 1 1094.1 85.3M1126.6 144.7A1.7 1.7 0 0 1 1123.6 145.8M1239.6 230.4A1.7 1.7 0 0 1 1239.2 227.2M1104.1 203.1A2.0 2.0 0 0 1 1100.3 202.4M1106.9 224.5A1.8 1.8 0 0 1 1103.9 224.4M1288.7 98.0A2.5 2.5 0 0 1 1286.3 101.8M1166.8 220.0A2.8 2.8 0 0 1 1161.8 218.1M1090.2 88.4A3.0 3.0 0 0 1 1089.5 94.4M1296.0 170.0A1.7 1.7 0 0 1 1298.5 172.1M1257.4 230.3A2.4 2.4 0 0 1 1255.3 226.0M1098.6 107.9A2.4 2.4 0 0 1 1093.9 107.6M1182.5 202.7A2.5 2.5 0 0 1 1178.1 205.2M1098.2 82.6A2.0 2.0 0 0 1 1096.9 86.3M1237.7 80.7A2.4 2.4 0 0 1 1235.4 84.3M1103.1 142.3A2.2 2.2 0 0 1 1104.9 138.4M1276.6 139.5A1.9 1.9 0 0 1 1273.7 142.1M1297.0 220.4A1.9 1.9 0 0 1 1299.0 223.7M1255.5 195.0A1.8 1.8 0 0 1 1252.0 195.6M1301.9 123.9A2.3 2.3 0 0 1 1301.1 119.8M1149.1 161.0A2.1 2.1 0 0 1 1145.3 160.9M1100.3 228.0A1.8 1.8 0 0 1 1097.3 226.7M1263.3 225.8A2.2 2.2 0 0 1 1259.1 224.2M1289.3 112.9A2.4 2.4 0 0 1 1284.9 114.2M1115.5 224.5A2.7 2.7 0 0 1 1110.8 223.1M1128.3 147.2A2.3 2.3 0 0 1 1125.3 143.8M1292.6 158.6A2.1 2.1 0 0 1 1288.7 158.3M1243.3 144.3A3.0 3.0 0 0 1 1242.6 149.4M1129.4 157.8A2.9 2.9 0 0 1 1125.8 162.3M1128.5 111.5A2.9 2.9 0 0 1 1128.7 105.7M1308.9 100.1A2.8 2.8 0 0 1 1303.3 99.9M1124.9 171.5A2.7 2.7 0 0 1 1120.7 174.4M1111.8 113.3A1.9 1.9 0 0 1 1108.0 114.2M1285.2 222.3A2.1 2.1 0 0 1 1283.5 218.8M1299.7 110.7A1.7 1.7 0 0 1 1296.6 110.4M1175.0 147.6A1.9 1.9 0 0 1 1171.8 145.8M1270.7 126.9A1.7 1.7 0 0 1 1268.8 129.5M1181.5 75.9A1.7 1.7 0 0 1 1178.7 77.4M1091.7 176.9A2.6 2.6 0 0 1 1090.6 171.8M1279.0 142.7A2.8 2.8 0 0 1 1274.6 139.2M1305.4 107.6A1.7 1.7 0 0 1 1302.8 105.5M1255.3 83.4A2.8 2.8 0 0 1 1253.6 78.2M1116.0 195.7A1.9 1.9 0 0 1 1112.7 194.8M1208.8 134.7A2.0 2.0 0 0 1 1207.2 131.1M1247.0 177.9A2.4 2.4 0 0 1 1244.3 173.9M1172.7 231.0A1.9 1.9 0 0 1 1170.9 227.8M1244.6 187.9A1.9 1.9 0 0 1 1241.1 186.8M1092.2 176.5A2.4 2.4 0 0 1 1087.7 175.9M1185.5 220.0A1.8 1.8 0 0 1 1183.3 217.2M1111.8 186.9A2.4 2.4 0 0 1 1107.2 188.2M1098.3 160.2A2.2 2.2 0 0 1 1099.5 156.4M1220.5 145.9A2.4 2.4 0 0 1 1216.5 148.1M1171.5 133.4A2.9 2.9 0 0 1 1165.9 133.6M1111.9 175.6A2.3 2.3 0 0 1 1107.3 175.5M1283.7 228.2A2.7 2.7 0 0 1 1280.6 231.9M1306.1 134.3A2.7 2.7 0 0 1 1302.0 130.6M1250.5 120.2A1.7 1.7 0 0 1 1247.7 121.9M1094.0 161.1A2.0 2.0 0 0 1 1090.0 160.7M1150.7 98.0A2.5 2.5 0 0 1 1147.1 101.3M1174.7 118.7A2.1 2.1 0 0 1 1171.8 121.0M1158.8 178.4A2.4 2.4 0 0 1 1154.5 176.6M1099.0 155.7A2.1 2.1 0 0 1 1096.8 159.2M1257.9 229.1A1.7 1.7 0 0 1 1254.6 228.5M1127.5 120.7A3.0 3.0 0 0 1 1123.5 116.8M1233.4 204.8A2.5 2.5 0 0 1 1228.6 203.9M1229.4 229.5A1.8 1.8 0 0 1 1226.1 230.3M1135.0 200.4A1.9 1.9 0 0 1 1134.0 204.0M1109.3 91.8A2.1 2.1 0 0 1 1106.5 89.4M1264.0 178.4A2.8 2.8 0 0 1 1259.2 175.7M1288.0 230.6A2.2 2.2 0 0 1 1290.4 226.9M1250.1 80.6A2.9 2.9 0 0 1 1245.8 84.0M1099.7 150.6A2.8 2.8 0 0 1 1094.1 149.9M1105.2 123.6A2.9 2.9 0 0 1 1103.1 129.0M1290.5 164.0A2.4 2.4 0 0 1 1286.4 166.2M1203.0 220.9A2.9 2.9 0 0 1 1197.9 219.7M1104.7 68.3A2.8 2.8 0 0 1 1100.5 71.8M1124.6 105.8A2.5 2.5 0 0 1 1121.0 108.4M1163.2 201.0A3.0 3.0 0 0 1 1157.7 198.7M1248.5 113.9A2.2 2.2 0 0 1 1246.2 117.7M1097.5 69.9A2.1 2.1 0 0 1 1094.9 72.7M1191.7 118.6A2.7 2.7 0 0 1 1186.9 116.4M1306.9 186.5A1.9 1.9 0 0 1 1307.5 182.8M1295.4 206.9A2.5 2.5 0 0 1 1293.6 211.2M1115.4 76.6A2.0 2.0 0 0 1 1112.9 73.7M1105.5 123.0A2.4 2.4 0 0 1 1101.2 121.9M1290.2 220.2A1.8 1.8 0 0 1 1290.1 223.7M1125.6 156.3A2.6 2.6 0 0 1 1120.4 156.1M1118.2 92.6A2.8 2.8 0 0 1 1113.1 91.7M1293.4 190.8A2.6 2.6 0 0 1 1295.7 195.6M1130.4 153.2A2.5 2.5 0 0 1 1126.2 150.6M1170.4 102.0A2.9 2.9 0 0 1 1168.8 97.2M1129.9 229.2A2.8 2.8 0 0 1 1125.1 227.1M1093.6 114.2A1.8 1.8 0 0 1 1091.9 111.0M1218.7 139.6A2.0 2.0 0 0 1 1217.0 142.8M1294.5 165.1A2.8 2.8 0 0 1 1289.4 166.6M1237.5 147.4A1.9 1.9 0 0 1 1234.3 148.6M1230.7 133.9A2.2 2.2 0 0 1 1226.8 133.7M1225.0 142.9A1.9 1.9 0 0 1 1222.4 145.6M1227.2 186.3A2.2 2.2 0 0 1 1224.2 189.4M1268.7 159.5A3.0 3.0 0 0 1 1263.5 161.0M1289.9 114.4A2.3 2.3 0 0 1 1289.5 109.8M1098.3 228.4A2.7 2.7 0 0 1 1096.2 232.9M1267.9 186.3A2.9 2.9 0 0 1 1262.4 185.0M1287.7 158.8A2.9 2.9 0 0 1 1282.2 157.5M1096.0 225.0A2.1 2.1 0 0 1 1091.9 225.3M1133.0 128.9A2.6 2.6 0 0 1 1130.2 133.0M1284.7 160.6A2.3 2.3 0 0 1 1280.8 158.4M1116.5 187.2A2.3 2.3 0 0 1 1114.9 183.2M1255.2 234.3A2.8 2.8 0 0 1 1249.6 234.4M1159.1 175.8A2.3 2.3 0 0 1 1155.3 174.2M1169.8 178.0A2.0 2.0 0 0 1 1166.2 178.1M1103.3 227.5A2.1 2.1 0 0 1 1103.9 223.7M1111.2 228.6A2.2 2.2 0 0 1 1107.8 226.3M1288.0 181.3A2.0 2.0 0 0 1 1285.0 179.4M1278.9 67.9A2.1 2.1 0 0 1 1275.3 69.8M1179.8 143.1A1.8 1.8 0 0 1 1176.6 142.8M1132.7 196.0A2.2 2.2 0 0 1 1128.4 194.5M1125.2 158.8A1.9 1.9 0 0 1 1121.6 158.3M1305.1 210.7A2.7 2.7 0 0 1 1300.3 208.4M1141.9 128.7A2.1 2.1 0 0 1 1139.8 125.0M1172.1 225.7A2.4 2.4 0 0 1 1172.5 220.9M1157.1 146.2A2.0 2.0 0 0 1 1155.5 142.6M1089.8 155.9A2.6 2.6 0 0 1 1085.5 153.2M1292.8 178.7A2.2 2.2 0 0 1 1290.4 175.2M1101.7 143.2A2.1 2.1 0 0 1 1102.6 139.3M1116.6 176.5A2.3 2.3 0 0 1 1113.4 179.4M1129.7 72.8A2.6 2.6 0 0 1 1124.8 74.5M1304.9 112.1A2.4 2.4 0 0 1 1303.4 108.0M1254.5 234.2A2.4 2.4 0 0 1 1251.0 236.5M1137.6 97.3A2.8 2.8 0 0 1 1135.1 92.3M1116.0 214.8A2.0 2.0 0 0 1 1114.6 211.1M1089.9 218.8A1.9 1.9 0 0 1 1086.2 217.9M1131.8 220.4A1.8 1.8 0 0 1 1131.1 217.2M1300.7 202.9A2.6 2.6 0 0 1 1295.9 200.7M1275.4 153.0A2.0 2.0 0 0 1 1272.0 152.4M1135.6 88.2A2.9 2.9 0 0 1 1129.9 88.9M1103.3 188.9A2.2 2.2 0 0 1 1101.7 185.0M1260.8 84.1A2.4 2.4 0 0 1 1256.6 85.2M1246.3 215.3A2.3 2.3 0 0 1 1242.3 213.3M1165.1 119.2A2.9 2.9 0 0 1 1166.9 113.7M1104.2 92.3A2.1 2.1 0 0 1 1102.3 88.8M1139.0 217.5A2.2 2.2 0 0 1 1134.8 217.5M1156.8 156.3A2.0 2.0 0 0 1 1156.4 152.6M1295.2 180.8A2.6 2.6 0 0 1 1297.9 176.5M1129.0 128.2A1.8 1.8 0 0 1 1125.6 127.2M1292.7 205.9A2.5 2.5 0 0 1 1288.0 207.6M1129.5 221.4A2.3 2.3 0 0 1 1125.6 219.0M1238.8 104.3A2.3 2.3 0 0 1 1234.8 106.4M1283.0 148.1A2.6 2.6 0 0 1 1278.7 150.2M1226.0 161.5A1.8 1.8 0 0 1 1223.6 163.9M1253.1 118.6A2.4 2.4 0 0 1 1248.7 120.5M1156.2 146.3A1.8 1.8 0 0 1 1153.1 147.7M1254.1 156.5A2.1 2.1 0 0 1 1251.6 153.2M1236.2 168.7A1.8 1.8 0 0 1 1232.8 167.8M1277.1 207.8A2.5 2.5 0 0 1 1274.4 203.6M1172.7 154.0A2.9 2.9 0 0 1 1178.1 151.8M1266.3 183.2A2.4 2.4 0 0 1 1261.8 185.1M1285.0 196.3A2.7 2.7 0 0 1 1284.5 191.3M1153.1 189.1A2.0 2.0 0 0 1 1153.1 185.2M1277.2 230.8A2.5 2.5 0 0 1 1274.9 226.8M1088.8 187.3A2.1 2.1 0 0 1 1085.1 185.6M1241.7 233.1A1.8 1.8 0 0 1 1238.2 233.1M1156.4 165.5A1.8 1.8 0 0 1 1157.2 162.3M1171.9 200.3A2.7 2.7 0 0 1 1170.2 205.4M1125.8 139.3A2.7 2.7 0 0 1 1122.4 135.2M1255.4 78.4A2.2 2.2 0 0 1 1254.0 74.2M1276.1 197.6A2.7 2.7 0 0 1 1270.8 196.8M1300.3 109.2A2.4 2.4 0 0 1 1296.1 107.3M1172.6 224.1A2.2 2.2 0 0 1 1168.2 224.0M1278.3 183.2A1.8 1.8 0 0 1 1275.1 185.0M1261.4 139.1A2.4 2.4 0 0 1 1257.4 136.7M1140.0 208.9A1.8 1.8 0 0 1 1139.5 205.6M1255.8 74.5A2.2 2.2 0 0 1 1252.4 72.1M1110.3 208.2A2.6 2.6 0 0 1 1108.6 203.4M1266.1 144.3A2.3 2.3 0 0 1 1262.1 145.0M1098.6 214.7A2.5 2.5 0 0 1 1098.2 219.4M1297.0 143.2A2.5 2.5 0 0 1 1296.3 148.0M1287.1 138.6A2.1 2.1 0 0 1 1287.6 134.5M1254.0 147.7A2.3 2.3 0 0 1 1249.7 149.0M1261.0 151.7A1.8 1.8 0 0 1 1260.3 148.2M1115.1 159.7A1.7 1.7 0 0 1 1115.9 163.1M1143.5 162.9A2.4 2.4 0 0 1 1139.8 159.9M1297.5 118.4A2.4 2.4 0 0 1 1293.7 116.0M1264.0 146.6A2.6 2.6 0 0 1 1261.1 142.2M1304.1 88.8A2.9 2.9 0 0 1 1298.5 87.0M1271.1 188.5A2.0 2.0 0 0 1 1274.8 187.2M1106.0 113.0A2.2 2.2 0 0 1 1102.4 111.6M1293.6 162.7A2.1 2.1 0 0 1 1289.5 163.8M1122.3 98.7A1.7 1.7 0 0 1 1119.0 99.6M1196.2 215.2A1.7 1.7 0 0 1 1193.6 217.5M1294.0 120.2A2.2 2.2 0 0 1 1295.8 116.3M1298.2 134.6A2.5 2.5 0 0 1 1294.0 132.6M1135.1 233.7A2.8 2.8 0 0 1 1130.4 236.0M1123.4 169.6A2.7 2.7 0 0 1 1118.1 169.8M1250.6 195.4A2.0 2.0 0 0 1 1247.0 194.6M1170.1 111.3A2.2 2.2 0 0 1 1167.9 114.8M1221.6 85.3A2.3 2.3 0 0 1 1219.9 81.5M1304.5 102.4A2.0 2.0 0 0 1 1301.3 100.0M1108.5 112.2A2.0 2.0 0 0 1 1105.6 114.9M1221.1 234.4A2.6 2.6 0 0 1 1216.0 233.1M1125.2 177.7A1.7 1.7 0 0 1 1122.6 176.0M1164.7 174.4A2.9 2.9 0 0 1 1166.1 169.2M1178.8 205.4A2.3 2.3 0 0 1 1174.3 206.9M1093.6 228.0A1.8 1.8 0 0 1 1090.8 229.5M1254.2 154.7A2.6 2.6 0 0 1 1258.2 151.6M1210.9 173.9A2.6 2.6 0 0 1 1211.5 168.7M1291.1 87.9A1.9 1.9 0 0 1 1289.4 84.7M1241.5 89.0A2.3 2.3 0 0 1 1237.7 86.8M1190.8 148.9A2.5 2.5 0 0 1 1188.0 144.9M1123.7 223.8A2.0 2.0 0 0 1 1121.1 226.2M1270.8 218.5A2.0 2.0 0 0 1 1267.6 216.3M1271.7 216.4A1.8 1.8 0 0 1 1268.1 215.8M1266.7 187.7A2.3 2.3 0 0 1 1262.6 186.8M1152.5 215.1A2.7 2.7 0 0 1 1151.1 210.5M1277.8 195.8A2.6 2.6 0 0 1 1277.1 190.7M1286.8 190.8A2.2 2.2 0 0 1 1286.0 186.6M1127.5 96.4A2.4 2.4 0 0 1 1123.1 94.4M1276.8 149.9A1.9 1.9 0 0 1 1274.0 147.9M1150.4 169.5A2.8 2.8 0 0 1 1146.1 173.0M1131.4 105.9A2.7 2.7 0 0 1 1126.0 106.5M1089.1 158.4A3.0 3.0 0 0 1 1084.8 154.4M1096.2 232.6A2.9 2.9 0 0 1 1091.0 233.3M1127.4 159.9A2.8 2.8 0 0 1 1125.0 155.0M1105.1 213.0A1.8 1.8 0 0 1 1102.0 211.4M1156.3 91.0A3.0 3.0 0 0 1 1150.8 90.7M1121.3 97.1A2.9 2.9 0 0 1 1115.8 95.7M1115.7 230.2A2.0 2.0 0 0 1 1115.1 226.3M1134.1 133.9A2.7 2.7 0 0 1 1130.8 129.7M1308.4 147.9A2.1 2.1 0 0 1 1305.3 150.7M1097.7 165.1A2.1 2.1 0 0 1 1095.8 161.7M1222.1 232.7A2.6 2.6 0 0 1 1217.4 230.7M1118.6 160.2A1.9 1.9 0 0 1 1117.4 156.8M1110.5 234.1A2.4 2.4 0 0 1 1106.8 231.2M1164.7 91.7A2.8 2.8 0 0 1 1160.0 90.2M1112.2 197.1A1.9 1.9 0 0 1 1111.0 200.6M1253.9 181.6A2.6 2.6 0 0 1 1257.0 178.1M1108.9 174.8A2.2 2.2 0 0 1 1106.1 178.0M1196.4 202.9A2.1 2.1 0 0 1 1193.6 205.5M1112.8 89.9A2.0 2.0 0 0 1 1109.4 87.8M1145.6 170.2A2.3 2.3 0 0 1 1144.3 174.4M1292.3 129.6A2.5 2.5 0 0 1 1287.4 128.7M1112.6 169.2A2.4 2.4 0 0 1 1108.0 169.2M1119.6 125.5A2.6 2.6 0 0 1 1114.5 125.5M1308.1 121.7A2.9 2.9 0 0 1 1303.2 124.7M1300.3 210.9A2.8 2.8 0 0 1 1298.1 206.0M1139.3 101.1A2.3 2.3 0 0 1 1139.6 105.3M1309.7 148.3A2.5 2.5 0 0 1 1305.5 149.5M1291.5 215.2A3.0 3.0 0 0 1 1286.2 216.2M1268.5 213.2A2.3 2.3 0 0 1 1270.5 209.5M1166.7 91.0A2.9 2.9 0 0 1 1161.2 89.3M1247.5 196.5A2.7 2.7 0 0 1 1242.8 198.9M1086.9 149.4A2.4 2.4 0 0 1 1087.2 154.2M1128.1 155.8A1.9 1.9 0 0 1 1126.0 158.6M1208.1 180.1A2.4 2.4 0 0 1 1209.6 184.6M1273.6 109.7A2.3 2.3 0 0 1 1269.9 112.5M1167.8 148.4A1.8 1.8 0 0 1 1164.5 149.4M1098.8 103.5A2.8 2.8 0 0 1 1093.3 102.6M1115.2 195.0A2.7 2.7 0 0 1 1109.9 195.9M1141.5 102.9A1.8 1.8 0 0 1 1138.7 105.1M1092.1 165.0A1.9 1.9 0 0 1 1090.0 168.2M1292.8 107.7A2.7 2.7 0 0 1 1291.8 112.7M1120.8 102.2A3.0 3.0 0 0 1 1118.4 107.6M1237.6 217.5A2.8 2.8 0 0 1 1232.4 216.1M1105.3 223.1A2.4 2.4 0 0 1 1103.0 227.2M1105.5 195.2A2.1 2.1 0 0 1 1101.9 196.4M1247.1 192.4A2.3 2.3 0 0 1 1242.7 194.0M1110.9 118.5A2.7 2.7 0 0 1 1106.4 115.5M1157.6 209.8A2.1 2.1 0 0 1 1153.9 211.5M1285.3 222.1A2.3 2.3 0 0 1 1281.4 221.0M1101.1 165.0A2.5 2.5 0 0 1 1096.9 163.1M1252.4 236.4A2.1 2.1 0 0 1 1250.5 232.9M1109.3 181.1A1.7 1.7 0 0 1 1108.3 177.8M1092.9 92.5A2.0 2.0 0 0 1 1089.3 90.8M1229.0 121.5A2.7 2.7 0 0 1 1224.7 118.6" stroke="#ececec" stroke-width="1.6" opacity="0.5"/>
<g fill="#fff" stroke="none"><circle cx="1282.9" cy="136.9" r="1.3" opacity="0.54"/><circle cx="1103.4" cy="118.0" r="1.8" opacity="0.63"/><circle cx="1088.0" cy="205.7" r="1.7" opacity="0.55"/><circle cx="1148.1" cy="225.8" r="1.8" opacity="0.66"/><circle cx="1251.8" cy="69.0" r="1.6" opacity="0.70"/><circle cx="1185.0" cy="160.9" r="1.3" opacity="0.57"/><circle cx="1273.4" cy="172.4" r="1.4" opacity="0.67"/><circle cx="1173.0" cy="95.5" r="1.4" opacity="0.85"/><circle cx="1152.8" cy="140.2" r="1.2" opacity="0.56"/><circle cx="1285.1" cy="162.2" r="1.8" opacity="0.70"/><circle cx="1115.5" cy="208.6" r="1.6" opacity="0.68"/><circle cx="1285.3" cy="233.4" r="1.6" opacity="0.66"/><circle cx="1137.9" cy="102.8" r="1.4" opacity="0.85"/><circle cx="1292.1" cy="161.4" r="1.7" opacity="0.60"/><circle cx="1165.4" cy="119.0" r="1.8" opacity="0.65"/><circle cx="1280.7" cy="93.5" r="1.5" opacity="0.72"/><circle cx="1096.7" cy="202.8" r="1.2" opacity="0.57"/><circle cx="1206.7" cy="199.4" r="1.7" opacity="0.67"/><circle cx="1099.2" cy="130.7" r="1.7" opacity="0.52"/><circle cx="1128.7" cy="70.0" r="1.5" opacity="0.78"/><circle cx="1220.3" cy="160.9" r="1.9" opacity="0.79"/><circle cx="1221.4" cy="121.4" r="1.6" opacity="0.89"/><circle cx="1171.9" cy="214.2" r="1.9" opacity="0.84"/><circle cx="1272.1" cy="125.5" r="1.8" opacity="0.72"/><circle cx="1308.3" cy="166.1" r="1.2" opacity="0.79"/><circle cx="1123.3" cy="112.6" r="1.8" opacity="0.58"/><circle cx="1223.1" cy="94.7" r="1.2" opacity="0.59"/><circle cx="1090.7" cy="130.9" r="1.5" opacity="0.80"/><circle cx="1121.8" cy="216.1" r="1.4" opacity="0.62"/><circle cx="1182.4" cy="225.1" r="1.2" opacity="0.55"/></g>
</g>
</g>
<rect x="1281.9" y="220.6" width="20.1" height="7" fill="#000"/>
<rect x="1283.4" y="227.6" width="18.6" height="1.5" fill="#e8e800"/>
<clipPath id="cc2"><rect x="852.1" y="255.1" width="221.8" height="166.9"/></clipPath>
<linearGradient id="gc2" x1="0" y1="0" x2="0" y2="1"><stop offset="0" stop-color="#7c7c7c"/><stop offset="0.3" stop-color="#848484"/><stop offset="0.6" stop-color="#909090"/><stop offset="1" stop-color="#a2a2a2"/></linearGradient>
<linearGradient id="gs2" x1="0" y1="0" x2="1" y2="0"><stop offset="0" stop-color="#fff" stop-opacity="0.06"/><stop offset="0.35" stop-color="#fff" stop-opacity="0"/><stop offset="0.7" stop-color="#fff" stop-opacity="0"/><stop offset="1" stop-color="#fff" stop-opacity="0.06"/></linearGradient>
<g clip-path="url(#cc2)">
<rect x="852.1" y="255.1" width="221.8" height="166.9" fill="url(#gc2)"/>
<rect x="852.1" y="255.1" width="221.8" height="166.9" fill="url(#gs2)"/>
<radialGradient id="gv2" cx="0.5" cy="0.1" r="0.6"><stop offset="0" stop-color="#000" stop-opacity="0.17"/><stop offset="1" stop-color="#000" stop-opacity="0"/></radialGradient>
<rect x="852.1" y="255.1" width="221.8" height="166.9" fill="url(#gv2)"/>
<g filter="url(#bl2)" fill="none" stroke-linecap="round">
<path d="M1062.4 386.8h0.1M904.4 293.8h0.1M1064.2 320.0h0.1M897.8 397.5h0.1M876.9 291.9h0.1M928.3 269.9h0.1M911.9 354.0h0.1M859.2 338.1h0.1M1040.5 297.5h0.1M861.2 320.9h0.1M877.4 391.9h0.1M862.0 343.7h0.1M973.8 275.4h0.1M929.4 388.5h0.1M1050.6 273.6h0.1M1073.8 389.2h0.1M951.5 255.1h0.1M1052.7 344.0h0.1M1035.0 284.8h0.1M947.4 414.6h0.1M1004.3 317.2h0.1M908.4 389.4h0.1M989.7 317.2h0.1M915.0 347.6h0.1M861.1 312.6h0.1M864.7 321.5h0.1M941.5 400.5h0.1M1027.7 374.7h0.1M1065.1 365.6h0.1M866.8 342.5h0.1M1002.7 420.5h0.1M907.0 306.1h0.1M1025.2 351.2h0.1M877.0 315.2h0.1M1011.7 414.8h0.1M983.6 413.4h0.1M1068.1 333.3h0.1M988.8 367.3h0.1M863.6 291.5h0.1M893.4 340.3h0.1M933.7 323.3h0.1M866.5 278.7h0.1M1061.0 272.3h0.1M880.1 395.9h0.1M1067.1 317.4h0.1M890.8 295.0h0.1M1066.0 415.8h0.1M909.2 405.4h0.1M1013.4 328.8h0.1M1041.2 381.2h0.1M1066.1 380.2h0.1M905.0 386.5h0.1M1006.1 270.9h0.1M884.3 273.1h0.1M1007.6 412.0h0.1M924.3 341.2h0.1M874.1 348.0h0.1M1072.1 352.1h0.1M1054.7 261.9h0.1M918.2 366.5h0.1M880.4 402.2h0.1M1048.6 348.8h0.1M1068.3 269.9h0.1M891.4 338.2h0.1M865.4 393.6h0.1M858.9 388.7h0.1M862.1 398.5h0.1M1072.4 362.8h0.1M994.7 338.5h0.1M856.6 297.5h0.1M1068.5 387.2h0.1M870.1 336.2h0.1M1047.1 290.3h0.1M1071.3 416.2h0.1M889.7 369.4h0.1M1068.7 374.5h0.1M884.6 389.5h0.1M1054.7 368.1h0.1M858.0 286.4h0.1M888.1 315.8h0.1M859.8 289.7h0.1M1045.6 316.1h0.1M1001.9 266.3h0.1M1028.9 411.9h0.1M864.9 302.0h0.1M857.8 281.3h0.1M1055.1 354.3h0.1M870.9 264.1h0.1M1070.2 383.3h0.1M893.8 368.7h0.1M1017.3 347.0h0.1M1036.4 358.5h0.1M882.0 375.6h0.1M1054.7 339.7h0.1M877.7 348.2h0.1M1059.6 391.0h0.1M1017.1 367.6h0.1M868.1 382.8h0.1M940.5 323.3h0.1M1064.3 394.7h0.1M1059.6 401.1h0.1M894.2 411.3h0.1M1025.9 304.9h0.1M919.8 313.8h0.1M1032.3 379.2h0.1M885.2 412.8h0.1M901.0 420.5h0.1M875.2 333.7h0.1M875.9 370.5h0.1M932.4 317.3h0.1M1055.3 328.9h0.1M924.2 290.4h0.1M871.2 345.1h0.1M1057.4 310.1h0.1M883.2 407.3h0.1M887.8 339.5h0.1M885.7 281.1h0.1M1066.9 373.0h0.1M888.0 356.2h0.1M858.5 404.1h0.1M1067.1 357.1h0.1M1057.0 381.7h0.1M1036.8 349.0h0.1M902.8 266.3h0.1M1052.0 334.7h0.1M1033.4 376.0h0.1M886.8 389.2h0.1M932.4 359.0h0.1M860.6 309.0h0.1M901.5 401.9h0.1M903.7 357.3h0.1M877.1 309.6h0.1M1068.4 275.6h0.1M894.9 419.9h0.1M1016.9 390.1h0.1M1050.7 417.7h0.1M862.0 375.2h0.1M1045.2 370.7h0.1M911.6 346.8h0.1M1033.3 334.0h0.1M995.5 403.0h0.1M881.2 332.6h0.1M1018.0 420.3h0.1M1051.2 404.4h0.1M1024.5 409.9h0.1M890.1 334.8h0.1M857.4 291.3h0.1M1029.1 261.4h0.1M856.4 338.5h0.1M906.5 356.3h0.1M1020.1 256.5h0.1M883.0 356.2h0.1M1051.4 284.6h0.1M874.6 323.1h0.1M885.5 262.2h0.1M880.3 279.3h0.1M1032.5 354.0h0.1M1067.5 404.7h0.1M1000.4 294.7h0.1M963.1 419.7h0.1M1065.5 335.7h0.1M932.3 321.5h0.1M897.5 387.2h0.1M1037.8 418.7h0.1M864.6 379.2h0.1M896.2 356.6h0.1M1058.6 379.2h0.1M1027.5 343.4h0.1M1065.1 261.5h0.1M864.3 375.8h0.1M1001.5 402.8h0.1M1053.8 315.9h0.1M1056.3 346.4h0.1M1008.5 324.5h0.1M1041.2 317.7h0.1M946.8 400.4h0.1M856.9 309.3h0.1M891.5 272.7h0.1M1026.6 377.8h0.1M966.4 256.8h0.1M1046.0 331.7h0.1M892.8 314.1h0.1M1035.9 379.2h0.1M888.9 379.0h0.1M1052.7 272.9h0.1M1028.4 261.3h0.1M853.2 389.3h0.1M900.9 324.0h0.1M860.5 284.9h0.1M856.9 319.8h0.1M1063.5 365.9h0.1M1045.2 260.4h0.1M933.2 287.7h0.1M980.3 325.7h0.1M886.0 314.3h0.1M860.9 285.7h0.1M852.6 320.8h0.1M1035.5 309.0h0.1M888.5 304.2h0.1M863.7 333.1h0.1M909.0 349.5h0.1M1065.3 346.0h0.1M1012.6 381.1h0.1M886.7 313.0h0.1M1041.2 413.8h0.1M1053.6 355.2h0.1M861.1 284.9h0.1M857.9 330.2h0.1M1037.4 343.0h0.1M882.0 305.5h0.1M860.7 406.8h0.1M854.4 273.4h0.1M861.2 255.2h0.1M861.8 362.4h0.1M915.9 338.1h0.1M913.0 284.8h0.1M1051.1 259.6h0.1M926.2 383.1h0.1M863.8 285.6h0.1M1040.5 416.7h0.1M1059.9 264.4h0.1M1022.4 288.8h0.1M906.0 285.7h0.1M1069.7 365.1h0.1M1004.5 367.0h0.1M863.0 264.8h0.1M1002.8 387.9h0.1M861.8 416.2h0.1M886.1 284.0h0.1M1044.5 319.0h0.1M881.6 309.5h0.1M880.1 403.3h0.1M870.8 317.7h0.1M876.1 272.7h0.1M1066.5 308.8h0.1M1071.2 254.4h0.1M1071.5 365.1h0.1M910.9 379.2h0.1M916.3 325.8h0.1M878.8 353.5h0.1M1021.5 354.1h0.1M1040.3 392.7h0.1M1059.8 357.5h0.1M891.9 257.8h0.1M896.4 351.9h0.1M1061.1 270.0h0.1M1063.2 350.6h0.1M1038.3 270.5h0.1M1036.1 266.1h0.1M901.2 263.2h0.1M1057.7 295.1h0.1M859.5 421.0h0.1M1033.2 262.2h0.1M869.6 335.9h0.1M880.8 392.7h0.1M943.0 261.7h0.1M1039.5 265.5h0.1M874.3 327.9h0.1M883.7 325.0h0.1M1005.5 364.8h0.1M1073.5 284.2h0.1M973.3 419.3h0.1M874.1 321.5h0.1M853.3 308.1h0.1M858.8 331.6h0.1M1071.9 417.8h0.1M923.2 387.4h0.1M853.9 256.8h0.1M1047.7 336.8h0.1M915.0 385.7h0.1M903.4 384.0h0.1M886.5 256.5h0.1M1016.9 347.3h0.1M869.6 410.3h0.1M1071.5 329.4h0.1M1061.8 294.9h0.1M862.5 308.8h0.1M1000.1 269.2h0.1M885.3 303.0h0.1M1039.9 287.9h0.1M1004.6 377.6h0.1M997.0 255.8h0.1M960.4 416.4h0.1M868.1 319.7h0.1M1072.0 378.8h0.1M891.5 254.5h0.1M862.2 260.8h0.1M857.2 324.1h0.1M900.6 360.0h0.1M859.6 268.9h0.1M1069.9 400.0h0.1M1054.7 280.1h0.1M872.3 276.5h0.1M1072.5 329.7h0.1M885.7 353.0h0.1M924.5 418.7h0.1M1004.9 383.5h0.1M1059.9 305.6h0.1M1001.5 283.2h0.1M1053.6 300.7h0.1M879.5 390.5h0.1M890.2 256.2h0.1M1050.4 398.0h0.1M867.0 299.7h0.1M1034.6 417.2h0.1M857.3 349.6h0.1M1046.1 393.8h0.1M902.7 296.3h0.1M863.7 391.3h0.1M1058.1 256.9h0.1M876.2 368.4h0.1M1066.3 364.2h0.1M1006.9 259.3h0.1M1050.0 416.5h0.1M1040.3 287.9h0.1M1013.3 349.1h0.1M899.2 256.9h0.1M869.9 299.4h0.1M964.2 270.6h0.1M870.4 371.3h0.1M860.0 387.5h0.1M1069.4 297.9h0.1M1025.7 302.2h0.1M989.1 262.9h0.1M1004.7 350.7h0.1M1007.8 348.6h0.1M1021.5 416.0h0.1M942.9 384.1h0.1M1016.7 273.2h0.1M920.9 383.2h0.1M869.7 294.8h0.1M1020.9 290.4h0.1M920.1 360.5h0.1M878.6 306.3h0.1M889.3 307.6h0.1M1031.8 352.3h0.1M1070.5 341.4h0.1M1039.7 265.7h0.1M873.0 353.3h0.1M857.7 415.3h0.1M924.4 337.8h0.1M881.2 357.5h0.1M1015.6 413.1h0.1M868.5 347.9h0.1M854.4 268.9h0.1M860.5 327.7h0.1M903.3 348.8h0.1M871.3 311.7h0.1M923.0 392.8h0.1M1049.2 382.1h0.1M916.5 288.7h0.1M896.9 308.5h0.1M870.4 308.1h0.1M862.4 360.9h0.1M1031.0 400.9h0.1M1055.4 288.0h0.1M864.2 334.0h0.1M1037.2 293.6h0.1M1056.4 285.9h0.1M1017.5 286.7h0.1M1068.3 417.8h0.1M1068.7 303.8h0.1M1061.3 284.9h0.1M1025.5 300.3h0.1M852.5 379.0h0.1M1019.0 342.7h0.1M884.4 328.8h0.1M999.1 391.8h0.1M1008.4 407.7h0.1M1061.9 331.9h0.1M1004.4 285.5h0.1M890.9 357.2h0.1M852.2 405.1h0.1M854.7 330.0h0.1M1031.1 302.6h0.1M1024.6 400.8h0.1M1042.5 388.2h0.1M922.8 274.3h0.1" stroke="#404040" stroke-width="2.8" opacity="0.42"/>
<path d="M1040.5 286.1Q1042.4 282.8 1042.8 281.0L1043.2 279.1M882.0 368.1Q881.8 364.4 882.0 362.5L882.1 360.7M918.2 269.6Q918.2 265.9 918.6 264.1Q919.0 262.3 920.0 260.8L921.1 259.2M1020.6 311.8Q1021.0 308.2 1021.9 306.6Q1022.8 305.1 1024.1 303.8L1025.3 302.5M1018.4 268.4Q1015.4 265.6 1014.7 263.6L1014.1 261.7M898.2 410.9Q899.5 408.0 899.6 406.4Q899.6 404.8 899.4 403.2Q899.2 401.6 898.6 400.1L898.0 398.6M887.4 257.7Q890.0 255.0 891.8 254.2L893.5 253.4M1028.9 397.5Q1028.8 394.0 1028.2 392.4Q1027.6 390.8 1027.3 389.1L1027.0 387.4M1053.2 301.9Q1053.5 298.4 1054.3 296.8Q1055.0 295.2 1056.4 294.1L1057.8 293.0M903.9 310.5Q904.6 307.5 904.3 306.0Q904.0 304.5 904.2 303.0Q904.4 301.5 905.1 300.1L905.7 298.7M852.4 342.0Q855.4 341.5 857.0 341.7Q858.5 341.9 860.0 341.4Q861.5 341.0 863.0 340.9L864.5 340.9M1029.0 361.8Q1033.4 362.7 1035.5 362.2L1037.7 361.6M910.7 375.2Q908.4 372.0 906.7 371.1L904.9 370.2M1032.2 324.8Q1031.8 321.4 1030.9 320.0Q1030.0 318.6 1028.8 317.4L1027.6 316.2M881.7 415.5Q883.2 412.0 884.5 410.7Q885.8 409.3 887.1 408.0L888.4 406.7M866.7 377.1Q866.8 374.1 866.3 372.7Q865.7 371.3 865.0 370.0Q864.3 368.6 863.8 367.2L863.3 365.8M875.5 289.6Q878.0 287.5 879.2 286.3L880.4 285.1M892.6 307.7Q890.3 304.7 888.8 303.4L887.4 302.2M886.1 409.2Q884.6 405.7 884.4 403.9L884.2 402.0M898.5 348.9Q900.3 345.7 901.7 344.6L903.1 343.5M1064.3 333.5Q1066.2 330.6 1066.5 328.9Q1066.8 327.2 1067.3 325.6L1067.9 323.9M1040.3 280.1Q1044.1 278.5 1045.9 277.4L1047.6 276.4M1070.2 306.6Q1071.6 303.4 1071.7 301.7Q1071.7 300.0 1072.5 298.5L1073.2 296.9M1062.2 263.2Q1062.4 259.9 1062.2 258.2L1062.0 256.6M914.4 377.4Q915.8 374.3 917.2 373.2Q918.6 372.2 920.2 371.6L921.8 370.9M1035.7 274.0Q1038.8 273.0 1040.4 272.5Q1042.0 272.1 1043.6 271.6L1045.1 271.1M882.5 368.7Q880.3 364.9 879.9 362.7L879.5 360.6M1003.1 285.0Q1005.1 281.4 1005.8 279.4L1006.5 277.4M856.6 419.8Q860.0 418.8 861.7 418.6Q863.5 418.4 865.2 418.0L866.9 417.5M881.6 406.2Q882.9 402.8 883.9 401.3Q884.9 399.8 885.1 398.0L885.2 396.2M876.9 353.0Q879.8 352.1 881.0 351.2Q882.2 350.3 883.5 349.5Q884.9 348.8 886.3 348.6L887.8 348.3M1067.3 384.4Q1063.5 384.4 1061.7 383.9Q1059.9 383.4 1058.3 382.6L1056.6 381.8M901.8 331.3Q899.7 328.6 899.0 327.1Q898.3 325.5 897.8 323.9L897.4 322.2M911.9 331.6Q913.2 328.8 913.5 327.2Q913.8 325.7 914.4 324.3L915.1 322.9M1034.1 309.3Q1036.3 307.1 1037.4 306.0L1038.4 304.8M1052.1 364.2Q1050.9 359.9 1049.7 358.0L1048.6 356.0M1029.3 265.2Q1030.2 262.2 1030.7 260.8Q1031.2 259.3 1031.9 257.9Q1032.6 256.5 1033.8 255.6L1035.1 254.7M891.4 382.1Q893.7 379.3 895.0 378.0Q896.4 376.8 897.7 375.5L899.0 374.2M1058.0 365.5Q1058.2 361.8 1057.7 360.1Q1057.1 358.3 1057.2 356.5L1057.3 354.7M1051.7 272.8Q1054.2 269.9 1054.8 268.0L1055.4 266.2M1047.2 335.5Q1048.6 331.8 1048.8 329.9Q1049.1 327.9 1049.0 325.9L1048.9 324.0M1066.1 263.1Q1069.0 264.7 1070.4 265.6Q1071.8 266.4 1072.9 267.6L1074.1 268.7M857.9 307.9Q860.9 306.9 862.2 306.0L863.5 305.1M1021.3 308.8Q1018.3 306.6 1016.9 305.3L1015.6 304.0M883.2 293.1Q881.6 289.7 881.7 287.8Q881.7 285.9 881.0 284.1L880.4 282.3M926.2 310.1Q928.3 307.6 929.0 306.2Q929.8 304.8 930.7 303.4Q931.6 302.1 932.3 300.7L933.1 299.2M878.4 388.5Q880.4 386.2 881.4 385.1Q882.3 383.9 883.7 383.3Q885.1 382.8 886.6 382.3L888.0 381.9M924.5 304.0Q926.4 301.0 926.6 299.3L926.8 297.5M904.5 260.6Q906.6 258.4 907.2 256.9Q907.7 255.5 908.1 254.0Q908.6 252.6 909.5 251.4L910.5 250.2M985.2 410.8Q987.9 409.3 989.1 408.3Q990.2 407.3 990.8 405.9L991.4 404.4M892.4 315.6Q895.4 313.9 897.0 313.1Q898.6 312.4 900.3 312.1L902.0 311.8M862.8 351.8Q862.7 348.1 862.9 346.3Q863.2 344.4 862.6 342.7L862.1 340.9M1062.5 396.5Q1065.9 397.4 1067.5 398.0L1069.2 398.5M907.3 314.4Q910.2 311.6 911.1 309.7L911.9 307.9M893.3 357.3Q894.1 353.6 894.5 351.8Q895.0 350.0 895.1 348.1L895.2 346.2M889.7 271.5Q892.8 273.8 893.9 275.4L895.1 277.0M863.3 343.7Q865.4 340.8 865.9 339.1Q866.4 337.4 866.5 335.6L866.6 333.8M904.7 285.0Q906.7 282.1 908.2 281.3Q909.7 280.4 911.3 279.6L912.9 278.8M1005.9 407.2Q1003.9 404.7 1002.4 404.0Q1000.9 403.3 999.9 402.1L998.8 400.9M1064.9 389.2Q1066.6 385.7 1067.2 383.9L1067.9 382.1M933.4 353.7Q934.4 350.8 934.5 349.2Q934.7 347.7 935.0 346.1Q935.4 344.6 936.3 343.4L937.2 342.1M1067.9 416.2Q1070.2 414.2 1071.7 413.8Q1073.2 413.4 1074.8 413.5L1076.3 413.6M872.8 258.5Q873.6 254.9 873.1 253.0Q872.7 251.2 873.1 249.4L873.5 247.6M856.9 396.3Q856.8 393.2 856.2 391.7Q855.6 390.3 855.2 388.7Q854.8 387.2 854.3 385.7L853.7 384.3M853.6 398.0Q850.9 395.2 850.3 393.4L849.6 391.6M1060.3 412.4Q1062.1 409.7 1062.6 408.2Q1063.1 406.7 1064.2 405.6Q1065.3 404.5 1066.0 403.0L1066.7 401.6M904.2 381.1Q905.5 378.1 905.8 376.4Q906.2 374.8 906.7 373.2L907.2 371.6M893.7 311.5Q896.8 310.3 898.1 309.2L899.5 308.2M1012.1 315.8Q1012.1 312.7 1012.7 311.3L1013.3 309.9M871.6 288.3Q875.7 289.5 877.3 291.0L878.8 292.6M1059.3 297.3Q1060.6 294.3 1061.2 292.7Q1061.9 291.2 1062.7 289.8L1063.6 288.3M876.2 317.9Q874.9 314.8 873.6 313.7L872.3 312.6M1037.0 412.3Q1040.7 410.3 1042.0 408.7L1043.2 407.0M1058.8 273.0Q1061.1 270.1 1062.7 269.3Q1064.4 268.4 1065.5 267.0L1066.7 265.6M1013.5 276.8Q1016.3 273.4 1018.4 272.5L1020.4 271.6M1005.2 358.8Q1005.4 354.4 1004.6 352.4L1003.7 350.3M1053.3 402.5Q1053.8 399.5 1053.5 398.1Q1053.2 396.6 1052.9 395.1Q1052.7 393.6 1053.0 392.1L1053.2 390.6M871.1 266.9Q870.0 263.8 869.2 262.4Q868.3 261.1 867.3 259.8Q866.3 258.6 865.3 257.3L864.3 256.0M1013.1 307.4Q1016.4 305.3 1018.3 304.6L1020.1 303.8M937.9 395.6Q940.7 393.6 942.2 392.6Q943.6 391.6 945.2 391.1L946.9 390.6M876.4 380.9Q877.0 377.7 876.8 376.0L876.5 374.4M924.1 293.2Q921.9 290.5 920.5 289.4L919.2 288.3M1065.1 323.1Q1066.8 319.8 1068.0 318.3Q1069.3 316.9 1069.7 315.0L1070.1 313.2M944.8 316.7Q948.6 314.5 950.7 313.6L952.7 312.6M1039.3 416.6Q1042.4 419.5 1044.3 420.7L1046.1 421.8M911.7 347.1Q914.5 345.0 916.0 344.2L917.5 343.4M1048.0 265.7Q1051.6 267.2 1053.6 267.1Q1055.6 267.1 1057.5 267.1L1059.5 267.2M899.0 393.9Q896.3 391.0 894.8 389.7L893.3 388.3M881.3 405.9Q881.1 402.7 880.8 401.2Q880.4 399.6 880.5 398.0Q880.6 396.5 880.5 394.9L880.4 393.3M1048.5 329.1Q1046.0 326.9 1044.7 325.8Q1043.5 324.6 1042.0 323.8L1040.5 323.0M865.5 391.3Q865.9 387.4 865.3 385.6Q864.7 383.8 864.3 381.9L863.9 380.0M1069.2 367.8Q1072.7 366.6 1074.4 365.9Q1076.0 365.1 1077.5 364.0L1079.0 362.9M1038.9 278.0Q1041.8 277.2 1043.0 276.2Q1044.1 275.2 1045.5 274.5L1046.8 273.9M1025.4 315.3Q1029.3 315.0 1031.2 315.1L1033.1 315.1M956.5 416.4Q956.9 413.3 957.0 411.7Q957.1 410.1 957.9 408.8Q958.7 407.4 959.7 406.2L960.6 404.9M867.7 322.2Q864.6 319.0 862.6 318.2L860.6 317.3M1022.7 388.2Q1024.1 385.5 1025.2 384.4Q1026.3 383.3 1027.7 382.6L1029.1 382.0M894.9 328.1Q894.8 324.6 894.5 322.9L894.1 321.1M991.1 338.0Q991.7 335.1 991.5 333.6Q991.3 332.1 991.4 330.6L991.5 329.1M875.1 374.4Q874.4 371.4 873.8 370.1L873.2 368.7M909.7 313.8Q913.2 312.4 915.1 312.2Q916.9 312.0 918.8 311.6L920.6 311.2M855.1 409.7Q857.6 406.7 858.2 404.8Q858.8 402.9 860.1 401.4L861.3 399.8" stroke="#444" stroke-width="1.8" transform="translate(1.1 -1)" opacity="0.6"/>
<path d="M1040.5 286.1Q1042.4 282.8 1042.8 281.0L1043.2 279.1M882.0 368.1Q881.8 364.4 882.0 362.5L882.1 360.7M918.2 269.6Q918.2 265.9 918.6 264.1Q919.0 262.3 920.0 260.8L921.1 259.2M1020.6 311.8Q1021.0 308.2 1021.9 306.6Q1022.8 305.1 1024.1 303.8L1025.3 302.5M1018.4 268.4Q1015.4 265.6 1014.7 263.6L1014.1 261.7M898.2 410.9Q899.5 408.0 899.6 406.4Q899.6 404.8 899.4 403.2Q899.2 401.6 898.6 400.1L898.0 398.6M887.4 257.7Q890.0 255.0 891.8 254.2L893.5 253.4M1028.9 397.5Q1028.8 394.0 1028.2 392.4Q1027.6 390.8 1027.3 389.1L1027.0 387.4M1053.2 301.9Q1053.5 298.4 1054.3 296.8Q1055.0 295.2 1056.4 294.1L1057.8 293.0M903.9 310.5Q904.6 307.5 904.3 306.0Q904.0 304.5 904.2 303.0Q904.4 301.5 905.1 300.1L905.7 298.7M852.4 342.0Q855.4 341.5 857.0 341.7Q858.5 341.9 860.0 341.4Q861.5 341.0 863.0 340.9L864.5 340.9M1029.0 361.8Q1033.4 362.7 1035.5 362.2L1037.7 361.6M910.7 375.2Q908.4 372.0 906.7 371.1L904.9 370.2M1032.2 324.8Q1031.8 321.4 1030.9 320.0Q1030.0 318.6 1028.8 317.4L1027.6 316.2M881.7 415.5Q883.2 412.0 884.5 410.7Q885.8 409.3 887.1 408.0L888.4 406.7M866.7 377.1Q866.8 374.1 866.3 372.7Q865.7 371.3 865.0 370.0Q864.3 368.6 863.8 367.2L863.3 365.8M875.5 289.6Q878.0 287.5 879.2 286.3L880.4 285.1M892.6 307.7Q890.3 304.7 888.8 303.4L887.4 302.2M886.1 409.2Q884.6 405.7 884.4 403.9L884.2 402.0M898.5 348.9Q900.3 345.7 901.7 344.6L903.1 343.5M1064.3 333.5Q1066.2 330.6 1066.5 328.9Q1066.8 327.2 1067.3 325.6L1067.9 323.9M1040.3 280.1Q1044.1 278.5 1045.9 277.4L1047.6 276.4M1070.2 306.6Q1071.6 303.4 1071.7 301.7Q1071.7 300.0 1072.5 298.5L1073.2 296.9M1062.2 263.2Q1062.4 259.9 1062.2 258.2L1062.0 256.6M914.4 377.4Q915.8 374.3 917.2 373.2Q918.6 372.2 920.2 371.6L921.8 370.9M1035.7 274.0Q1038.8 273.0 1040.4 272.5Q1042.0 272.1 1043.6 271.6L1045.1 271.1M882.5 368.7Q880.3 364.9 879.9 362.7L879.5 360.6M1003.1 285.0Q1005.1 281.4 1005.8 279.4L1006.5 277.4M856.6 419.8Q860.0 418.8 861.7 418.6Q863.5 418.4 865.2 418.0L866.9 417.5M881.6 406.2Q882.9 402.8 883.9 401.3Q884.9 399.8 885.1 398.0L885.2 396.2M876.9 353.0Q879.8 352.1 881.0 351.2Q882.2 350.3 883.5 349.5Q884.9 348.8 886.3 348.6L887.8 348.3M1067.3 384.4Q1063.5 384.4 1061.7 383.9Q1059.9 383.4 1058.3 382.6L1056.6 381.8M901.8 331.3Q899.7 328.6 899.0 327.1Q898.3 325.5 897.8 323.9L897.4 322.2M911.9 331.6Q913.2 328.8 913.5 327.2Q913.8 325.7 914.4 324.3L915.1 322.9M1034.1 309.3Q1036.3 307.1 1037.4 306.0L1038.4 304.8M1052.1 364.2Q1050.9 359.9 1049.7 358.0L1048.6 356.0M1029.3 265.2Q1030.2 262.2 1030.7 260.8Q1031.2 259.3 1031.9 257.9Q1032.6 256.5 1033.8 255.6L1035.1 254.7M891.4 382.1Q893.7 379.3 895.0 378.0Q896.4 376.8 897.7 375.5L899.0 374.2M1058.0 365.5Q1058.2 361.8 1057.7 360.1Q1057.1 358.3 1057.2 356.5L1057.3 354.7M1051.7 272.8Q1054.2 269.9 1054.8 268.0L1055.4 266.2M1047.2 335.5Q1048.6 331.8 1048.8 329.9Q1049.1 327.9 1049.0 325.9L1048.9 324.0M1066.1 263.1Q1069.0 264.7 1070.4 265.6Q1071.8 266.4 1072.9 267.6L1074.1 268.7M857.9 307.9Q860.9 306.9 862.2 306.0L863.5 305.1M1021.3 308.8Q1018.3 306.6 1016.9 305.3L1015.6 304.0M883.2 293.1Q881.6 289.7 881.7 287.8Q881.7 285.9 881.0 284.1L880.4 282.3M926.2 310.1Q928.3 307.6 929.0 306.2Q929.8 304.8 930.7 303.4Q931.6 302.1 932.3 300.7L933.1 299.2M878.4 388.5Q880.4 386.2 881.4 385.1Q882.3 383.9 883.7 383.3Q885.1 382.8 886.6 382.3L888.0 381.9M924.5 304.0Q926.4 301.0 926.6 299.3L926.8 297.5M904.5 260.6Q906.6 258.4 907.2 256.9Q907.7 255.5 908.1 254.0Q908.6 252.6 909.5 251.4L910.5 250.2M985.2 410.8Q987.9 409.3 989.1 408.3Q990.2 407.3 990.8 405.9L991.4 404.4M892.4 315.6Q895.4 313.9 897.0 313.1Q898.6 312.4 900.3 312.1L902.0 311.8M862.8 351.8Q862.7 348.1 862.9 346.3Q863.2 344.4 862.6 342.7L862.1 340.9M1062.5 396.5Q1065.9 397.4 1067.5 398.0L1069.2 398.5M907.3 314.4Q910.2 311.6 911.1 309.7L911.9 307.9M893.3 357.3Q894.1 353.6 894.5 351.8Q895.0 350.0 895.1 348.1L895.2 346.2M889.7 271.5Q892.8 273.8 893.9 275.4L895.1 277.0M863.3 343.7Q865.4 340.8 865.9 339.1Q866.4 337.4 866.5 335.6L866.6 333.8M904.7 285.0Q906.7 282.1 908.2 281.3Q909.7 280.4 911.3 279.6L912.9 278.8M1005.9 407.2Q1003.9 404.7 1002.4 404.0Q1000.9 403.3 999.9 402.1L998.8 400.9M1064.9 389.2Q1066.6 385.7 1067.2 383.9L1067.9 382.1M933.4 353.7Q934.4 350.8 934.5 349.2Q934.7 347.7 935.0 346.1Q935.4 344.6 936.3 343.4L937.2 342.1M1067.9 416.2Q1070.2 414.2 1071.7 413.8Q1073.2 413.4 1074.8 413.5L1076.3 413.6M872.8 258.5Q873.6 254.9 873.1 253.0Q872.7 251.2 873.1 249.4L873.5 247.6M856.9 396.3Q856.8 393.2 856.2 391.7Q855.6 390.3 855.2 388.7Q854.8 387.2 854.3 385.7L853.7 384.3M853.6 398.0Q850.9 395.2 850.3 393.4L849.6 391.6M1060.3 412.4Q1062.1 409.7 1062.6 408.2Q1063.1 406.7 1064.2 405.6Q1065.3 404.5 1066.0 403.0L1066.7 401.6M904.2 381.1Q905.5 378.1 905.8 376.4Q906.2 374.8 906.7 373.2L907.2 371.6M893.7 311.5Q896.8 310.3 898.1 309.2L899.5 308.2M1012.1 315.8Q1012.1 312.7 1012.7 311.3L1013.3 309.9M871.6 288.3Q875.7 289.5 877.3 291.0L878.8 292.6M1059.3 297.3Q1060.6 294.3 1061.2 292.7Q1061.9 291.2 1062.7 289.8L1063.6 288.3M876.2 317.9Q874.9 314.8 873.6 313.7L872.3 312.6M1037.0 412.3Q1040.7 410.3 1042.0 408.7L1043.2 407.0M1058.8 273.0Q1061.1 270.1 1062.7 269.3Q1064.4 268.4 1065.5 267.0L1066.7 265.6M1013.5 276.8Q1016.3 273.4 1018.4 272.5L1020.4 271.6M1005.2 358.8Q1005.4 354.4 1004.6 352.4L1003.7 350.3M1053.3 402.5Q1053.8 399.5 1053.5 398.1Q1053.2 396.6 1052.9 395.1Q1052.7 393.6 1053.0 392.1L1053.2 390.6M871.1 266.9Q870.0 263.8 869.2 262.4Q868.3 261.1 867.3 259.8Q866.3 258.6 865.3 257.3L864.3 256.0M1013.1 307.4Q1016.4 305.3 1018.3 304.6L1020.1 303.8M937.9 395.6Q940.7 393.6 942.2 392.6Q943.6 391.6 945.2 391.1L946.9 390.6M876.4 380.9Q877.0 377.7 876.8 376.0L876.5 374.4M924.1 293.2Q921.9 290.5 920.5 289.4L919.2 288.3M1065.1 323.1Q1066.8 319.8 1068.0 318.3Q1069.3 316.9 1069.7 315.0L1070.1 313.2M944.8 316.7Q948.6 314.5 950.7 313.6L952.7 312.6M1039.3 416.6Q1042.4 419.5 1044.3 420.7L1046.1 421.8M911.7 347.1Q914.5 345.0 916.0 344.2L917.5 343.4M1048.0 265.7Q1051.6 267.2 1053.6 267.1Q1055.6 267.1 1057.5 267.1L1059.5 267.2M899.0 393.9Q896.3 391.0 894.8 389.7L893.3 388.3M881.3 405.9Q881.1 402.7 880.8 401.2Q880.4 399.6 880.5 398.0Q880.6 396.5 880.5 394.9L880.4 393.3M1048.5 329.1Q1046.0 326.9 1044.7 325.8Q1043.5 324.6 1042.0 323.8L1040.5 323.0M865.5 391.3Q865.9 387.4 865.3 385.6Q864.7 383.8 864.3 381.9L863.9 380.0M1069.2 367.8Q1072.7 366.6 1074.4 365.9Q1076.0 365.1 1077.5 364.0L1079.0 362.9M1038.9 278.0Q1041.8 277.2 1043.0 276.2Q1044.1 275.2 1045.5 274.5L1046.8 273.9M1025.4 315.3Q1029.3 315.0 1031.2 315.1L1033.1 315.1M956.5 416.4Q956.9 413.3 957.0 411.7Q957.1 410.1 957.9 408.8Q958.7 407.4 959.7 406.2L960.6 404.9M867.7 322.2Q864.6 319.0 862.6 318.2L860.6 317.3M1022.7 388.2Q1024.1 385.5 1025.2 384.4Q1026.3 383.3 1027.7 382.6L1029.1 382.0M894.9 328.1Q894.8 324.6 894.5 322.9L894.1 321.1M991.1 338.0Q991.7 335.1 991.5 333.6Q991.3 332.1 991.4 330.6L991.5 329.1M875.1 374.4Q874.4 371.4 873.8 370.1L873.2 368.7M909.7 313.8Q913.2 312.4 915.1 312.2Q916.9 312.0 918.8 311.6L920.6 311.2M855.1 409.7Q857.6 406.7 858.2 404.8Q858.8 402.9 860.1 401.4L861.3 399.8" stroke="#e0e0e0" stroke-width="1.5" opacity="0.5"/>
<path d="M1064.9 387.0A2.3 2.3 0 0 1 1060.5 388.5M906.1 294.8A1.8 1.8 0 0 1 902.5 294.5M1064.1 321.8A1.8 1.8 0 0 1 1063.1 318.5M897.4 399.4A1.9 1.9 0 0 1 897.2 395.7M879.4 293.2A2.4 2.4 0 0 1 874.7 293.6M929.9 271.4A1.9 1.9 0 0 1 926.4 271.0M913.6 355.9A2.2 2.2 0 0 1 909.6 355.0M861.1 339.2A2.0 2.0 0 0 1 857.1 338.8M1042.3 298.9A2.0 2.0 0 0 1 1038.5 298.8M861.2 323.9A2.5 2.5 0 0 1 858.2 320.8M878.2 394.4A2.2 2.2 0 0 1 874.9 391.8M863.8 344.9A2.1 2.1 0 0 1 859.7 343.8M974.3 278.6A2.8 2.8 0 0 1 970.6 274.7M930.0 391.1A2.6 2.6 0 0 1 927.5 386.6M1053.3 272.6A2.8 2.8 0 0 1 1048.8 275.8M1076.6 390.3A2.8 2.8 0 0 1 1071.0 390.3M953.6 254.4A2.1 2.1 0 0 1 950.1 256.8M1053.2 346.8A2.3 2.3 0 0 1 1049.9 344.4M1034.8 287.0A2.1 2.1 0 0 1 1033.8 282.9M948.2 416.8A1.9 1.9 0 0 1 945.2 415.3M1005.4 319.3A2.2 2.2 0 0 1 1002.4 316.0M910.3 389.7A1.8 1.8 0 0 1 906.8 390.6M991.3 319.0A2.1 2.1 0 0 1 987.4 317.9M916.9 345.5A2.5 2.5 0 0 1 916.1 350.3M864.4 313.5A2.8 2.8 0 0 1 859.7 315.6M867.2 322.4A2.4 2.4 0 0 1 862.3 322.7M943.0 401.5A1.8 1.8 0 0 1 939.6 400.4M1030.0 374.3A2.1 2.1 0 0 1 1026.5 376.6M1067.3 365.9A2.0 2.0 0 0 1 1063.4 367.0M867.9 344.3A1.8 1.8 0 0 1 865.0 343.5M1004.1 423.1A2.5 2.5 0 0 1 999.8 421.2M907.7 308.1A1.8 1.8 0 0 1 904.9 305.9M1027.7 351.6A2.3 2.3 0 0 1 1023.3 352.7M878.5 317.9A2.9 2.9 0 0 1 874.3 314.0M1011.6 417.0A2.1 2.1 0 0 1 1010.4 412.9M985.5 412.5A1.8 1.8 0 0 1 983.9 415.5M1070.0 334.2A1.8 1.8 0 0 1 1067.0 335.2M990.7 368.2A1.7 1.7 0 0 1 987.6 368.9M865.4 289.1A2.8 2.8 0 0 1 863.6 294.4M896.7 339.5A3.0 3.0 0 0 1 892.8 343.6M935.5 325.6A2.6 2.6 0 0 1 930.8 323.7M869.6 278.0A2.8 2.8 0 0 1 866.0 281.9M1063.9 271.2A2.9 2.9 0 0 1 1059.5 275.0M881.8 397.8A2.4 2.4 0 0 1 877.6 395.4M1065.7 320.4A2.8 2.8 0 0 1 1064.6 315.2M891.8 293.3A1.7 1.7 0 0 1 892.0 296.6M1066.1 418.3A2.3 2.3 0 0 1 1063.9 414.5M910.5 407.4A2.3 2.3 0 0 1 906.9 404.6M1015.4 326.3A2.8 2.8 0 0 1 1014.4 331.7M1044.7 380.7A2.9 2.9 0 0 1 1041.4 384.7M1065.2 383.6A2.9 2.9 0 0 1 1062.8 379.0M905.2 384.4A1.7 1.7 0 0 1 907.1 386.7M1007.0 274.1A2.9 2.9 0 0 1 1002.9 270.2M881.6 273.3A2.4 2.4 0 0 1 884.9 270.4M1009.1 410.7A1.7 1.7 0 0 1 1007.8 413.9M926.9 340.9A2.2 2.2 0 0 1 924.0 343.7M877.6 347.8A2.9 2.9 0 0 1 873.6 351.5M1073.6 353.8A1.9 1.9 0 0 1 1070.3 353.5M1057.0 263.6A2.6 2.6 0 0 1 1051.9 262.5M918.2 369.2A2.5 2.5 0 0 1 916.4 364.5M883.1 403.5A2.7 2.7 0 0 1 877.8 403.8M1048.9 352.3A2.9 2.9 0 0 1 1045.1 348.9M1071.1 271.4A3.0 3.0 0 0 1 1065.2 270.2M893.7 339.3A2.1 2.1 0 0 1 890.1 340.3M866.9 394.8A1.8 1.8 0 0 1 863.4 393.6M860.3 391.7A2.9 2.9 0 0 1 855.6 389.2M864.7 400.3A2.9 2.9 0 0 1 859.0 399.2M1074.5 362.2A2.0 2.0 0 0 1 1071.7 364.9M997.8 337.3A2.9 2.9 0 0 1 994.4 341.8M854.2 299.5A2.6 2.6 0 0 1 855.2 294.7M1067.8 389.3A1.9 1.9 0 0 1 1066.6 386.1M872.2 335.6A1.9 1.9 0 0 1 870.1 338.4M1048.5 293.3A2.8 2.8 0 0 1 1044.0 291.7M1073.2 416.7A1.8 1.8 0 0 1 1069.9 417.6M889.5 367.0A2.1 2.1 0 0 1 891.8 370.5M1070.7 376.7A2.8 2.8 0 0 1 1065.7 374.3M885.2 392.8A2.9 2.9 0 0 1 881.2 389.5M1057.4 370.2A2.8 2.8 0 0 1 1052.5 370.8M860.7 286.2A2.6 2.6 0 0 1 856.1 288.3M889.1 318.4A2.4 2.4 0 0 1 885.3 315.9M860.8 292.2A2.5 2.5 0 0 1 857.1 289.2M1047.5 316.4A1.8 1.8 0 0 1 1044.0 317.1M1004.1 267.2A2.1 2.1 0 0 1 999.9 267.6M1030.1 409.0A2.7 2.7 0 0 1 1031.1 414.1M866.1 304.9A3.0 3.0 0 0 1 862.0 300.6M855.4 282.3A2.4 2.4 0 0 1 858.9 279.1M1057.6 355.1A2.6 2.6 0 0 1 1052.5 355.1M869.1 266.2A2.5 2.5 0 0 1 870.4 261.3M1069.4 380.9A2.1 2.1 0 0 1 1072.7 382.8M895.6 368.1A1.8 1.8 0 0 1 893.1 370.6M1019.5 345.0A2.9 2.9 0 0 1 1016.5 349.8M1037.4 360.8A2.1 2.1 0 0 1 1034.0 359.0M883.4 377.5A2.1 2.1 0 0 1 879.7 375.6M1055.5 341.4A1.7 1.7 0 0 1 1052.9 339.2M878.5 351.2A2.6 2.6 0 0 1 874.7 348.8M1057.5 392.6A2.3 2.3 0 0 1 1058.9 388.5M1018.9 368.1A1.8 1.8 0 0 1 1015.4 368.5M870.0 385.2A2.7 2.7 0 0 1 865.2 383.7M940.2 326.3A2.6 2.6 0 0 1 938.2 321.5M1066.6 396.4A2.4 2.4 0 0 1 1062.2 396.8M1060.5 403.6A2.5 2.5 0 0 1 1057.0 400.3M897.5 411.5A2.8 2.8 0 0 1 893.0 414.4M1027.3 306.9A2.3 2.3 0 0 1 1023.7 304.0M922.0 314.0A1.8 1.8 0 0 1 919.3 315.9M1031.4 381.1A1.8 1.8 0 0 1 1030.5 378.1M886.4 410.5A2.4 2.4 0 0 1 885.8 415.3M903.1 421.7A2.2 2.2 0 0 1 898.7 421.1M875.3 337.0A2.8 2.8 0 0 1 871.9 333.5M876.3 372.8A2.2 2.2 0 0 1 874.2 369.0M930.2 318.8A2.2 2.2 0 0 1 931.2 314.9M1057.2 328.1A1.9 1.9 0 0 1 1054.6 330.8M925.4 292.4A1.9 1.9 0 0 1 922.1 291.2M872.2 347.4A2.2 2.2 0 0 1 868.7 345.2M1059.9 309.9A2.4 2.4 0 0 1 1055.5 311.8M883.7 409.7A2.4 2.4 0 0 1 881.3 405.6M890.2 339.5A2.1 2.1 0 0 1 887.0 341.8M886.8 283.7A2.4 2.4 0 0 1 882.8 281.4M1069.5 373.7A2.6 2.6 0 0 1 1064.4 373.9M891.1 357.0A2.8 2.8 0 0 1 885.8 358.5M860.8 406.2A2.9 2.9 0 0 1 855.4 404.2M1069.5 358.3A2.3 2.3 0 0 1 1065.2 359.0M1058.3 379.3A2.4 2.4 0 0 1 1058.2 384.1M1037.8 351.0A2.0 2.0 0 0 1 1034.6 348.8M903.4 268.3A1.8 1.8 0 0 1 900.9 265.7M1054.4 333.4A2.5 2.5 0 0 1 1051.3 337.3M1035.7 376.1A1.9 1.9 0 0 1 1033.1 378.3M886.5 392.5A3.0 3.0 0 0 1 884.4 387.0M932.1 362.1A2.8 2.8 0 0 1 930.3 356.8M862.0 310.2A1.7 1.7 0 0 1 858.8 308.8M901.5 398.9A2.7 2.7 0 0 1 904.3 403.2M901.3 359.5A2.8 2.8 0 0 1 902.1 354.4M876.6 311.7A1.8 1.8 0 0 1 875.1 308.8M1070.2 277.3A2.1 2.1 0 0 1 1066.5 277.1M894.3 423.1A2.7 2.7 0 0 1 892.0 418.5M1019.2 389.1A2.2 2.2 0 0 1 1016.8 392.6M1052.8 417.8A2.0 2.0 0 0 1 1048.9 418.8M864.4 375.7A2.1 2.1 0 0 1 860.9 377.4M1047.5 370.5A2.0 2.0 0 0 1 1044.5 372.9M914.7 347.9A3.0 3.0 0 0 1 908.9 348.8M1034.5 336.0A2.0 2.0 0 0 1 1031.0 334.7M997.1 401.7A1.7 1.7 0 0 1 996.4 404.9M882.9 331.1A2.0 2.0 0 0 1 882.0 334.8M1020.2 422.0A2.5 2.5 0 0 1 1015.5 421.7M1052.2 406.9A2.4 2.4 0 0 1 1048.4 404.3M1027.4 410.4A2.9 2.9 0 0 1 1021.7 411.0M890.3 337.7A2.7 2.7 0 0 1 887.9 332.9M860.0 292.0A2.4 2.4 0 0 1 855.4 293.0M1030.7 262.5A1.7 1.7 0 0 1 1027.3 262.0M859.3 339.2A2.8 2.8 0 0 1 853.7 339.7M907.8 358.0A1.8 1.8 0 0 1 904.7 357.3M1023.1 258.0A2.8 2.8 0 0 1 1018.5 259.6M884.9 357.9A2.1 2.1 0 0 1 881.2 358.1M1050.0 287.4A2.8 2.8 0 0 1 1049.9 281.9M875.0 325.0A1.7 1.7 0 0 1 872.9 322.4M884.2 264.4A2.2 2.2 0 0 1 883.8 260.3M880.2 282.5A2.6 2.6 0 0 1 877.2 279.0M1034.6 352.0A2.7 2.7 0 0 1 1032.2 356.8M1069.6 406.6A2.6 2.6 0 0 1 1064.8 404.6M1001.1 292.4A2.2 2.2 0 0 1 1001.8 296.6M966.5 420.3A3.0 3.0 0 0 1 961.4 422.7M1067.5 335.1A1.9 1.9 0 0 1 1065.0 337.7M934.0 323.2A2.1 2.1 0 0 1 930.1 322.6M899.8 388.6A2.3 2.3 0 0 1 895.4 388.9M1039.0 420.1A1.8 1.8 0 0 1 1036.0 418.1M864.5 376.3A2.7 2.7 0 0 1 866.6 381.3M898.2 359.5A2.9 2.9 0 0 1 893.2 358.5M1061.9 380.1A3.0 3.0 0 0 1 1056.2 381.5M1026.2 345.1A1.9 1.9 0 0 1 1026.9 341.4M1067.5 261.1A2.1 2.1 0 0 1 1064.6 263.8M866.7 375.2A2.4 2.4 0 0 1 862.6 377.7M1003.2 400.7A2.6 2.6 0 0 1 1001.2 405.4M1056.4 315.3A2.5 2.5 0 0 1 1052.3 318.1M1058.7 344.9A2.7 2.7 0 0 1 1055.3 349.2M1009.7 326.8A2.4 2.4 0 0 1 1005.8 324.1M1043.0 319.7A2.2 2.2 0 0 1 1039.2 319.5M947.2 403.4A2.6 2.6 0 0 1 944.0 399.5M857.4 311.2A1.8 1.8 0 0 1 855.1 308.4M892.3 270.3A2.3 2.3 0 0 1 892.6 275.0M1026.5 380.4A2.3 2.3 0 0 1 1024.3 376.7M965.2 259.7A2.6 2.6 0 0 1 963.8 255.2M1046.1 333.7A1.7 1.7 0 0 1 1044.1 331.2M894.8 314.2A1.9 1.9 0 0 1 891.2 315.4M1038.2 378.6A2.3 2.3 0 0 1 1034.3 380.9M890.5 381.2A2.5 2.5 0 0 1 886.3 378.5M1055.8 274.0A2.9 2.9 0 0 1 1050.0 274.7M1030.5 261.9A1.9 1.9 0 0 1 1027.0 262.9M854.5 391.1A2.0 2.0 0 0 1 851.0 389.5M902.8 324.8A1.8 1.8 0 0 1 899.5 325.4M863.1 285.1A2.4 2.4 0 0 1 858.9 287.0M857.8 322.1A2.2 2.2 0 0 1 854.5 319.3M1066.0 368.2A2.9 2.9 0 0 1 1060.7 367.8M1048.3 259.1A2.8 2.8 0 0 1 1046.3 263.6M933.9 291.0A2.8 2.8 0 0 1 929.9 288.1M981.5 328.5A2.8 2.8 0 0 1 977.7 324.3M884.5 316.3A2.2 2.2 0 0 1 884.5 312.2M860.8 288.0A2.0 2.0 0 0 1 858.6 285.1M854.8 320.9A2.0 2.0 0 0 1 851.4 322.6M1038.0 307.9A2.6 2.6 0 0 1 1033.9 311.1M890.5 305.5A2.2 2.2 0 0 1 886.2 304.5M866.2 331.3A2.8 2.8 0 0 1 863.4 336.1M910.0 351.5A1.9 1.9 0 0 1 906.8 350.1M1063.7 349.0A2.9 2.9 0 0 1 1062.6 343.9M1014.9 382.4A2.4 2.4 0 0 1 1010.2 382.3M889.7 312.7A2.8 2.8 0 0 1 884.5 314.9M1044.4 414.6A3.0 3.0 0 0 1 1038.9 416.4M1055.1 357.2A2.3 2.3 0 0 1 1051.2 354.7M863.0 283.9A1.8 1.8 0 0 1 861.5 286.9M857.9 333.2A2.6 2.6 0 0 1 855.4 328.7M1038.4 345.9A2.6 2.6 0 0 1 1034.4 343.5M882.0 302.7A2.6 2.6 0 0 1 883.9 307.6M862.8 408.0A2.1 2.1 0 0 1 858.9 408.3M855.2 275.3A2.0 2.0 0 0 1 852.7 272.2M863.8 254.1A2.6 2.6 0 0 1 860.0 257.7M864.5 362.9A2.4 2.4 0 0 1 860.1 364.5M917.8 340.7A2.9 2.9 0 0 1 912.7 337.8M915.2 283.6A2.1 2.1 0 0 1 913.6 287.2M1051.7 262.3A2.5 2.5 0 0 1 1048.6 258.6M929.2 382.7A2.5 2.5 0 0 1 926.3 386.1M863.8 287.8A1.8 1.8 0 0 1 861.5 285.5M1043.4 416.9A2.8 2.8 0 0 1 1038.0 418.0M1058.7 266.3A1.9 1.9 0 0 1 1058.3 262.8M1024.2 289.9A1.9 1.9 0 0 1 1020.4 289.4M908.5 285.5A2.2 2.2 0 0 1 905.0 287.9M1071.6 366.4A2.0 2.0 0 0 1 1067.7 366.0M1005.0 369.9A2.6 2.6 0 0 1 1001.5 366.4M865.6 264.0A2.5 2.5 0 0 1 862.5 267.6M1004.4 385.0A2.9 2.9 0 0 1 1005.0 390.5M863.8 416.9A1.8 1.8 0 0 1 860.7 418.0M887.2 286.2A2.2 2.2 0 0 1 883.7 283.5M1047.1 319.9A2.3 2.3 0 0 1 1043.0 321.3M883.2 312.5A3.0 3.0 0 0 1 878.1 309.8M882.4 403.9A2.1 2.1 0 0 1 878.3 404.8M872.1 319.4A2.0 2.0 0 0 1 868.6 317.4M879.2 273.3A2.9 2.9 0 0 1 874.0 275.2M1068.7 307.7A2.3 2.3 0 0 1 1065.6 311.1M1073.6 255.0A2.3 2.3 0 0 1 1069.1 255.7M1073.1 366.5A2.1 2.1 0 0 1 1069.3 365.0M912.4 381.0A2.0 2.0 0 0 1 908.8 380.2M918.7 325.3A2.0 2.0 0 0 1 916.4 328.2M877.0 355.4A2.4 2.4 0 0 1 878.7 351.0M1021.8 356.5A2.0 2.0 0 0 1 1019.0 354.3M1042.7 392.4A2.2 2.2 0 0 1 1039.0 394.7M1062.0 358.8A2.3 2.3 0 0 1 1057.6 358.8M893.5 260.0A2.5 2.5 0 0 1 889.1 257.5M897.1 353.7A1.9 1.9 0 0 1 894.9 350.8M1062.0 272.4A2.2 2.2 0 0 1 1058.6 270.5M1061.9 353.4A2.6 2.6 0 0 1 1060.8 348.6M1038.5 273.9A3.0 3.0 0 0 1 1035.1 269.3M1037.2 269.0A2.9 2.9 0 0 1 1033.3 264.8M902.8 265.0A2.1 2.1 0 0 1 898.9 263.8M1055.1 297.3A3.0 3.0 0 0 1 1057.0 291.9M860.2 423.4A2.4 2.4 0 0 1 857.7 419.4M1033.8 264.8A2.4 2.4 0 0 1 1030.6 261.3M870.9 338.0A2.0 2.0 0 0 1 867.4 337.0M880.5 396.0A2.7 2.7 0 0 1 877.5 392.3M942.9 264.1A2.0 2.0 0 0 1 940.6 261.2M1041.9 264.0A2.5 2.5 0 0 1 1039.6 268.3M876.4 327.3A1.9 1.9 0 0 1 873.7 329.9M886.0 324.3A2.3 2.3 0 0 1 882.3 326.8M1003.6 367.4A2.7 2.7 0 0 1 1003.6 362.2M1070.5 284.1A2.5 2.5 0 0 1 1074.2 281.2M972.2 422.2A2.5 2.5 0 0 1 970.5 418.1M875.8 319.5A2.3 2.3 0 0 1 875.1 323.9M854.3 310.0A1.8 1.8 0 0 1 851.3 309.0M860.7 332.3A1.9 1.9 0 0 1 857.0 332.8M1074.0 416.4A2.3 2.3 0 0 1 1071.4 420.3M920.8 387.2A2.2 2.2 0 0 1 925.1 386.0M853.8 259.2A2.0 2.0 0 0 1 851.6 256.2M1047.9 339.7A2.5 2.5 0 0 1 1044.9 336.2M915.9 388.4A2.4 2.4 0 0 1 912.2 386.1M906.3 383.6A2.6 2.6 0 0 1 901.9 386.4M886.5 260.0A2.9 2.9 0 0 1 883.0 256.2M1019.1 347.8A2.2 2.2 0 0 1 1014.8 348.2M872.4 411.6A3.0 3.0 0 0 1 866.5 410.9M1073.7 328.1A2.2 2.2 0 0 1 1071.9 331.9M1063.9 294.7A1.9 1.9 0 0 1 1060.3 296.3M862.1 312.1A2.8 2.8 0 0 1 859.5 307.6M998.5 270.3A1.8 1.8 0 0 1 1000.8 267.4M887.8 303.6A2.3 2.3 0 0 1 883.7 305.2M1038.7 289.8A2.2 2.2 0 0 1 1039.8 285.6M1004.6 380.0A2.1 2.1 0 0 1 1002.4 376.4M999.7 254.9A2.4 2.4 0 0 1 996.8 258.6M963.0 417.6A2.8 2.8 0 0 1 957.6 417.0M870.3 321.8A2.8 2.8 0 0 1 865.0 320.1M1074.0 379.7A2.2 2.2 0 0 1 1069.7 379.0M894.3 255.0A2.5 2.5 0 0 1 889.5 256.5M862.2 263.5A2.5 2.5 0 0 1 860.8 258.7M859.9 325.0A2.7 2.7 0 0 1 854.6 325.4M900.5 362.6A2.3 2.3 0 0 1 898.3 358.7M861.7 270.3A2.1 2.1 0 0 1 858.2 271.0M1069.6 403.1A2.7 2.7 0 0 1 1067.0 398.8M1056.6 281.9A2.4 2.4 0 0 1 1052.1 280.4M875.3 277.2A2.9 2.9 0 0 1 869.5 277.6M1074.2 330.4A1.8 1.8 0 0 1 1070.6 330.2M886.3 354.9A1.7 1.7 0 0 1 883.7 352.9M926.3 421.6A2.9 2.9 0 0 1 921.2 419.6M1007.3 385.1A2.7 2.7 0 0 1 1002.1 383.8M1059.5 309.0A2.9 2.9 0 0 1 1056.7 304.7M999.7 286.3A2.9 2.9 0 0 1 998.5 281.4M1055.9 301.3A2.0 2.0 0 0 1 1052.5 302.8M882.3 389.6A2.4 2.4 0 0 1 880.2 393.3M888.7 257.6A1.9 1.9 0 0 1 890.3 254.2M1052.7 397.6A2.0 2.0 0 0 1 1050.0 400.3M868.7 302.6A3.0 3.0 0 0 1 863.7 299.8M1036.3 418.8A1.9 1.9 0 0 1 1032.7 418.4M860.2 351.1A2.9 2.9 0 0 1 854.4 351.0M1048.3 394.5A2.1 2.1 0 0 1 1044.1 394.8M904.4 297.9A2.2 2.2 0 0 1 900.3 296.6M865.6 388.9A2.6 2.6 0 0 1 865.8 393.5M1057.3 259.6A2.7 2.7 0 0 1 1057.4 254.1M876.1 370.5A1.7 1.7 0 0 1 874.1 368.3M1068.1 366.0A2.3 2.3 0 0 1 1063.8 364.5M1005.4 261.3A2.0 2.0 0 0 1 1005.1 257.7M1048.9 418.3A1.7 1.7 0 0 1 1048.7 414.9M1042.5 289.8A2.4 2.4 0 0 1 1037.9 289.3M1013.6 351.4A2.2 2.2 0 0 1 1011.3 347.7M901.4 257.1A1.9 1.9 0 0 1 898.6 259.0M872.2 301.0A2.3 2.3 0 0 1 868.1 301.6M967.3 270.2A2.9 2.9 0 0 1 962.1 273.0M873.3 372.1A2.9 2.9 0 0 1 867.7 372.8M862.9 386.4A2.6 2.6 0 0 1 860.5 390.5M1071.3 298.5A1.8 1.8 0 0 1 1067.7 298.8M1026.1 299.6A2.5 2.5 0 0 1 1026.8 304.5M990.5 266.2A3.0 3.0 0 0 1 985.7 264.2M1006.6 351.5A2.0 2.0 0 0 1 1002.7 351.3M1008.5 351.5A2.8 2.8 0 0 1 1005.5 346.7M1023.8 417.9A2.8 2.8 0 0 1 1018.4 416.2M945.1 385.9A2.6 2.6 0 0 1 940.1 384.9M1018.0 275.0A1.9 1.9 0 0 1 1014.5 273.8M922.7 384.9A2.3 2.3 0 0 1 918.5 383.1M871.7 295.4A1.9 1.9 0 0 1 867.9 296.2M1023.9 291.2A2.5 2.5 0 0 1 1020.1 293.3M922.3 362.3A2.3 2.3 0 0 1 918.2 362.7M881.2 305.4A2.4 2.4 0 0 1 878.7 309.0M890.3 309.5A2.0 2.0 0 0 1 887.3 306.8M1034.0 350.9A2.4 2.4 0 0 1 1031.1 354.8M1071.4 343.3A1.8 1.8 0 0 1 1068.4 341.8M1041.8 265.8A1.7 1.7 0 0 1 1039.2 267.7M874.5 356.0A2.9 2.9 0 0 1 870.1 352.2M859.6 415.1A1.8 1.8 0 0 1 856.6 416.9M924.9 339.8A1.9 1.9 0 0 1 922.7 336.6M880.2 360.5A2.8 2.8 0 0 1 879.2 355.1M1017.8 415.1A2.8 2.8 0 0 1 1012.6 413.0M871.5 349.3A2.9 2.9 0 0 1 866.2 350.2M856.5 270.6A2.5 2.5 0 0 1 851.8 268.9M863.6 327.4A2.8 2.8 0 0 1 858.9 330.2M901.9 350.9A2.2 2.2 0 0 1 901.5 346.9M873.8 312.9A2.5 2.5 0 0 1 868.8 313.0M925.3 393.1A2.0 2.0 0 0 1 922.1 395.0M1052.1 381.9A2.4 2.4 0 0 1 1049.2 385.0M917.8 286.9A2.1 2.1 0 0 1 916.4 290.9M899.0 307.0A2.2 2.2 0 0 1 898.2 310.8M871.6 311.0A2.9 2.9 0 0 1 867.4 307.3M862.8 364.0A2.9 2.9 0 0 1 860.2 358.7M1031.2 402.9A1.9 1.9 0 0 1 1029.4 399.6M1054.9 291.1A2.9 2.9 0 0 1 1053.6 285.4M864.7 336.5A2.4 2.4 0 0 1 862.1 332.5M1039.4 294.0A2.0 2.0 0 0 1 1035.8 295.3M1058.3 287.1A1.8 1.8 0 0 1 1055.1 287.7M1019.8 284.8A2.5 2.5 0 0 1 1019.3 289.1M1070.5 418.8A2.1 2.1 0 0 1 1066.7 419.6M1070.7 301.9A2.2 2.2 0 0 1 1070.5 305.8M1062.5 287.0A2.1 2.1 0 0 1 1058.9 285.5M1027.5 302.6A2.6 2.6 0 0 1 1022.9 302.0M854.8 378.7A2.1 2.1 0 0 1 851.5 381.2M1019.6 345.2A2.4 2.4 0 0 1 1016.8 341.4M885.9 330.3A1.8 1.8 0 0 1 882.7 330.0M1001.3 392.9A2.3 2.3 0 0 1 996.6 392.4M1011.0 409.1A2.6 2.6 0 0 1 1006.0 409.4M1064.2 331.8A2.0 2.0 0 0 1 1061.5 334.2M1003.5 288.1A2.6 2.6 0 0 1 1003.6 283.0M892.8 357.8A1.8 1.8 0 0 1 889.2 358.0M853.7 404.1A1.7 1.7 0 0 1 851.5 406.8M855.2 332.7A2.6 2.6 0 0 1 852.9 328.0M1033.4 303.8A2.2 2.2 0 0 1 1029.7 304.8M1025.2 403.7A2.6 2.6 0 0 1 1021.6 400.6M1044.9 388.1A2.2 2.2 0 0 1 1040.7 389.8M926.2 274.2A2.9 2.9 0 0 1 921.6 277.4" stroke="#ececec" stroke-width="1.6" opacity="0.5"/>
<g fill="#fff" stroke="none"><circle cx="905.7" cy="303.4" r="1.2" opacity="0.86"/><circle cx="1051.3" cy="401.2" r="1.8" opacity="0.68"/><circle cx="854.5" cy="364.3" r="1.8" opacity="0.68"/><circle cx="1035.6" cy="286.5" r="1.9" opacity="0.71"/><circle cx="920.6" cy="301.7" r="1.3" opacity="0.82"/><circle cx="1036.3" cy="287.2" r="1.6" opacity="0.82"/><circle cx="888.5" cy="261.8" r="1.8" opacity="0.64"/><circle cx="912.6" cy="340.9" r="1.5" opacity="0.93"/><circle cx="1041.4" cy="420.8" r="1.6" opacity="0.93"/><circle cx="1037.4" cy="342.8" r="1.3" opacity="0.83"/><circle cx="1062.6" cy="381.7" r="1.4" opacity="0.87"/><circle cx="1002.9" cy="407.3" r="1.3" opacity="0.91"/><circle cx="887.2" cy="393.0" r="1.6" opacity="0.91"/><circle cx="1071.9" cy="398.1" r="1.5" opacity="0.93"/><circle cx="955.5" cy="330.7" r="1.7" opacity="0.74"/><circle cx="1022.0" cy="318.3" r="1.5" opacity="0.78"/><circle cx="918.8" cy="401.8" r="1.4" opacity="0.89"/><circle cx="1069.6" cy="407.4" r="1.2" opacity="0.63"/><circle cx="1067.9" cy="303.7" r="1.8" opacity="0.58"/><circle cx="989.1" cy="414.0" r="1.3" opacity="0.58"/><circle cx="1026.6" cy="388.1" r="1.4" opacity="0.62"/><circle cx="898.1" cy="404.5" r="1.8" opacity="0.83"/><circle cx="1062.5" cy="336.4" r="1.7" opacity="0.68"/><circle cx="899.5" cy="308.3" r="1.8" opacity="0.78"/><circle cx="947.7" cy="393.6" r="1.5" opacity="0.84"/><circle cx="868.5" cy="308.7" r="1.8" opacity="0.54"/><circle cx="1056.2" cy="404.7" r="1.7" opacity="0.77"/><circle cx="1062.3" cy="282.2" r="1.6" opacity="0.90"/><circle cx="883.9" cy="361.6" r="1.3" opacity="0.72"/><circle cx="1052.1" cy="341.9" r="1.4" opacity="0.90"/><circle cx="1066.8" cy="283.2" r="1.6" opacity="0.86"/><circle cx="898.7" cy="261.9" r="1.5" opacity="0.56"/><circle cx="1058.6" cy="352.8" r="1.4" opacity="0.65"/><circle cx="994.1" cy="363.2" r="1.4" opacity="0.50"/><circle cx="856.4" cy="315.1" r="1.4" opacity="0.61"/></g>
</g>
</g>
<rect x="1053" y="409.2" width="20.6" height="7" fill="#000"/>
<rect x="1051.9" y="408.2" width="1.1" height="8.8" fill="#e6e600"/>
<rect x="1051.9" y="416.2" width="9.1" height="0.8" fill="#e6e600"/>
<clipPath id="cc3"><rect x="1086.9" y="255.1" width="221.8" height="166.9"/></clipPath>
<linearGradient id="gc3" x1="0" y1="0" x2="0" y2="1"><stop offset="0" stop-color="#7c7c7c"/><stop offset="0.3" stop-color="#848484"/><stop offset="0.6" stop-color="#909090"/><stop offset="1" stop-color="#a2a2a2"/></linearGradient>
<linearGradient id="gs3" x1="0" y1="0" x2="1" y2="0"><stop offset="0" stop-color="#fff" stop-opacity="0.06"/><stop offset="0.35" stop-color="#fff" stop-opacity="0"/><stop offset="0.7" stop-color="#fff" stop-opacity="0"/><stop offset="1" stop-color="#fff" stop-opacity="0.06"/></linearGradient>
<g clip-path="url(#cc3)">
<rect x="1086.9" y="255.1" width="221.8" height="166.9" fill="url(#gc3)"/>
<rect x="1086.9" y="255.1" width="221.8" height="166.9" fill="url(#gs3)"/>
<radialGradient id="gv3" cx="0.55" cy="0.1" r="0.6"><stop offset="0" stop-color="#000" stop-opacity="0.15"/><stop offset="1" stop-color="#000" stop-opacity="0"/></radialGradient>
<rect x="1086.9" y="255.1" width="221.8" height="166.9" fill="url(#gv3)"/>
<g filter="url(#bl2)" fill="none" stroke-linecap="round">
<path d="M1110.7 371.6h0.1M1154.7 369.4h0.1M1287.5 314.3h0.1M1124.1 363.6h0.1M1304.6 322.2h0.1M1109.7 391.0h0.1M1107.3 334.5h0.1M1184.5 354.6h0.1M1095.2 306.9h0.1M1094.5 278.5h0.1M1152.4 382.3h0.1M1273.2 315.5h0.1M1142.2 410.4h0.1M1118.5 297.6h0.1M1137.2 362.9h0.1M1279.4 265.6h0.1M1305.0 400.9h0.1M1154.0 277.6h0.1M1277.2 320.7h0.1M1286.9 265.8h0.1M1113.8 291.2h0.1M1226.0 371.8h0.1M1117.0 397.6h0.1M1287.2 305.9h0.1M1309.3 326.6h0.1M1130.5 386.9h0.1M1116.2 398.5h0.1M1137.9 404.8h0.1M1101.0 365.3h0.1M1141.9 272.0h0.1M1300.4 324.9h0.1M1242.3 412.1h0.1M1088.7 377.7h0.1M1087.5 395.5h0.1M1304.3 410.3h0.1M1093.7 416.8h0.1M1206.8 388.5h0.1M1294.7 319.0h0.1M1149.8 340.6h0.1M1295.3 373.4h0.1M1099.8 323.7h0.1M1126.0 261.1h0.1M1280.7 272.7h0.1M1096.4 375.7h0.1M1299.8 390.6h0.1M1260.2 338.2h0.1M1090.8 264.3h0.1M1115.1 321.0h0.1M1281.2 374.8h0.1M1308.6 348.0h0.1M1283.4 317.8h0.1M1269.2 369.3h0.1M1291.2 301.1h0.1M1124.7 288.1h0.1M1268.9 271.6h0.1M1094.0 348.8h0.1M1148.5 410.5h0.1M1136.3 412.4h0.1M1290.9 278.7h0.1M1115.8 316.0h0.1M1152.6 294.2h0.1M1212.5 265.8h0.1M1104.2 324.1h0.1M1290.9 390.8h0.1M1110.0 416.8h0.1M1103.2 280.6h0.1M1296.4 419.6h0.1M1100.3 373.9h0.1M1139.9 395.2h0.1M1254.4 268.2h0.1M1088.7 397.7h0.1M1307.9 354.4h0.1M1143.1 361.9h0.1M1163.5 330.8h0.1M1304.4 362.9h0.1M1278.9 368.2h0.1M1101.3 415.3h0.1M1136.3 352.0h0.1M1304.9 376.4h0.1M1111.2 420.3h0.1M1282.7 381.9h0.1M1115.9 408.2h0.1M1171.7 403.2h0.1M1114.0 273.3h0.1M1134.5 267.3h0.1M1110.4 414.5h0.1M1136.6 285.1h0.1M1264.4 387.8h0.1M1121.2 384.2h0.1M1306.6 340.6h0.1M1290.8 348.8h0.1M1264.5 312.8h0.1M1162.7 396.5h0.1M1129.7 328.7h0.1M1203.2 297.7h0.1M1278.9 401.6h0.1M1097.4 367.7h0.1M1104.5 257.4h0.1M1249.5 262.0h0.1M1266.0 388.8h0.1M1283.1 259.4h0.1M1278.9 388.6h0.1M1143.6 370.3h0.1M1265.5 338.0h0.1M1299.9 361.4h0.1M1117.9 375.8h0.1M1146.1 290.4h0.1M1250.8 263.6h0.1M1097.8 364.7h0.1M1264.7 269.4h0.1M1148.0 361.5h0.1M1097.3 390.2h0.1M1246.3 288.1h0.1M1142.6 316.2h0.1M1124.7 297.1h0.1M1257.5 364.2h0.1M1091.5 266.3h0.1M1236.0 358.3h0.1M1101.3 295.9h0.1M1142.4 360.5h0.1M1260.0 284.5h0.1M1115.6 389.5h0.1M1126.5 404.7h0.1M1150.9 262.8h0.1M1196.8 267.8h0.1M1139.8 417.5h0.1M1282.2 404.4h0.1M1236.5 399.7h0.1M1094.9 326.6h0.1M1128.5 300.7h0.1M1297.4 356.8h0.1M1142.0 257.2h0.1M1093.3 276.2h0.1M1121.0 416.0h0.1M1121.2 371.2h0.1M1284.8 366.0h0.1M1276.0 256.4h0.1M1274.8 415.8h0.1M1297.5 357.9h0.1M1156.3 317.8h0.1M1270.4 352.9h0.1M1095.4 417.4h0.1M1263.1 399.3h0.1M1294.5 289.5h0.1M1280.9 357.1h0.1M1272.5 411.8h0.1M1158.9 329.6h0.1M1135.9 267.1h0.1M1106.4 308.6h0.1M1136.9 258.6h0.1M1120.5 331.0h0.1M1104.8 265.5h0.1M1264.8 386.0h0.1M1123.7 283.7h0.1M1304.1 391.8h0.1M1208.0 326.9h0.1M1089.0 275.1h0.1M1259.8 285.3h0.1M1116.8 327.2h0.1M1274.4 390.1h0.1M1107.5 326.4h0.1M1112.2 419.9h0.1M1144.4 261.2h0.1M1305.1 375.4h0.1M1295.5 309.3h0.1M1175.9 374.1h0.1M1225.9 315.8h0.1M1162.4 352.0h0.1M1166.4 297.2h0.1M1246.7 322.3h0.1M1273.0 261.1h0.1M1113.2 257.6h0.1M1301.3 339.2h0.1M1241.8 335.9h0.1M1135.9 278.2h0.1M1154.7 323.6h0.1M1090.2 397.6h0.1M1089.8 389.1h0.1M1266.8 321.8h0.1M1122.8 304.4h0.1M1301.8 313.6h0.1M1167.1 265.6h0.1M1303.2 258.1h0.1M1302.0 344.6h0.1M1289.5 258.2h0.1M1128.9 305.9h0.1M1291.9 312.3h0.1M1285.8 301.8h0.1M1287.6 337.3h0.1M1209.9 275.8h0.1M1130.5 393.0h0.1M1296.2 408.1h0.1M1168.1 418.6h0.1M1272.7 408.6h0.1M1286.5 339.1h0.1M1308.2 347.2h0.1M1117.6 415.4h0.1M1272.2 406.8h0.1M1114.5 380.4h0.1M1115.8 338.7h0.1M1130.9 323.7h0.1M1167.6 318.6h0.1M1174.8 360.2h0.1M1232.2 383.1h0.1M1114.1 318.9h0.1M1123.2 353.5h0.1M1187.1 358.5h0.1M1305.9 363.6h0.1M1193.8 258.2h0.1M1154.2 297.9h0.1M1114.7 343.9h0.1M1275.8 307.2h0.1M1108.2 369.7h0.1M1301.9 259.1h0.1M1110.0 326.6h0.1M1095.6 339.9h0.1M1268.2 296.3h0.1M1281.9 400.8h0.1M1170.5 286.3h0.1M1273.6 350.7h0.1M1279.2 387.8h0.1M1103.4 307.2h0.1M1159.1 280.2h0.1M1090.8 392.7h0.1M1258.7 340.9h0.1M1155.1 350.1h0.1M1303.5 375.5h0.1M1285.9 310.3h0.1M1297.5 350.0h0.1M1258.4 370.5h0.1M1117.1 376.1h0.1M1298.1 268.2h0.1M1283.1 387.5h0.1M1128.1 377.4h0.1M1305.8 280.7h0.1M1297.5 331.3h0.1M1284.4 355.2h0.1M1116.9 383.2h0.1M1123.2 329.2h0.1M1131.5 416.3h0.1M1276.8 340.3h0.1M1204.8 364.3h0.1M1298.9 351.4h0.1M1116.5 269.1h0.1M1136.6 408.6h0.1M1278.0 262.8h0.1M1256.3 298.7h0.1M1157.7 383.3h0.1M1293.3 357.9h0.1M1137.6 366.9h0.1M1088.5 312.0h0.1M1286.1 289.3h0.1M1130.7 422.0h0.1M1176.3 344.4h0.1M1099.9 325.7h0.1M1091.1 265.2h0.1M1094.8 284.4h0.1M1253.5 323.1h0.1M1299.2 260.9h0.1M1277.4 408.6h0.1M1251.1 286.4h0.1M1159.4 361.6h0.1M1270.5 395.7h0.1M1220.3 405.4h0.1M1295.2 324.4h0.1M1270.8 318.6h0.1M1304.3 270.0h0.1M1191.1 273.8h0.1M1129.7 277.0h0.1M1114.1 305.9h0.1M1098.5 293.2h0.1M1129.2 312.3h0.1M1275.9 326.9h0.1M1293.7 260.5h0.1M1262.8 277.1h0.1M1091.5 379.1h0.1M1250.9 355.0h0.1M1153.6 322.2h0.1M1248.6 282.1h0.1M1096.7 260.8h0.1M1098.9 318.7h0.1M1141.5 295.1h0.1M1120.8 288.3h0.1M1294.6 421.2h0.1M1236.2 348.9h0.1M1275.9 351.0h0.1M1150.3 396.0h0.1M1149.8 382.7h0.1M1087.3 363.3h0.1M1127.5 255.2h0.1M1260.2 287.0h0.1M1108.3 416.9h0.1M1121.3 408.9h0.1M1189.8 344.1h0.1M1160.8 397.3h0.1M1133.9 355.9h0.1M1250.7 343.0h0.1M1272.2 278.6h0.1M1115.0 378.1h0.1M1266.4 353.2h0.1M1142.2 371.2h0.1M1230.4 364.5h0.1M1201.7 277.5h0.1M1224.6 284.1h0.1M1097.6 271.6h0.1M1284.0 285.4h0.1M1229.4 351.7h0.1M1094.3 392.8h0.1M1283.7 316.1h0.1M1217.7 416.8h0.1M1100.3 355.9h0.1M1308.0 296.8h0.1M1267.2 349.5h0.1M1177.0 286.9h0.1M1169.8 319.7h0.1M1094.0 396.4h0.1M1266.4 311.1h0.1M1107.6 361.7h0.1M1093.3 402.7h0.1M1087.6 342.3h0.1M1294.9 308.2h0.1M1132.9 387.2h0.1M1204.1 314.1h0.1M1284.2 331.8h0.1M1115.4 408.1h0.1M1148.6 277.3h0.1M1102.3 340.1h0.1M1293.4 270.5h0.1M1292.4 304.8h0.1M1259.3 361.1h0.1M1133.8 331.6h0.1M1114.5 365.9h0.1M1293.0 303.5h0.1M1086.7 326.2h0.1M1176.9 282.0h0.1M1173.0 346.6h0.1M1124.1 372.9h0.1M1126.4 285.4h0.1M1234.8 345.2h0.1M1262.7 417.4h0.1M1126.9 287.9h0.1M1171.8 331.8h0.1M1095.0 343.1h0.1M1124.5 363.7h0.1M1136.9 289.8h0.1M1136.1 313.2h0.1M1269.0 410.4h0.1M1285.2 404.4h0.1M1301.0 411.6h0.1M1165.1 309.2h0.1M1125.0 270.0h0.1M1113.7 408.7h0.1M1138.5 269.7h0.1M1111.7 414.9h0.1M1296.7 305.6h0.1M1088.3 365.4h0.1M1137.3 306.5h0.1M1283.3 314.5h0.1M1096.0 338.5h0.1M1267.2 365.8h0.1M1147.2 400.5h0.1M1110.2 387.8h0.1M1171.7 374.5h0.1M1289.6 399.7h0.1M1108.9 319.2h0.1M1232.0 281.1h0.1M1119.8 273.9h0.1M1283.5 378.4h0.1M1290.8 327.0h0.1M1307.1 347.5h0.1M1108.5 302.3h0.1M1107.7 284.1h0.1M1275.1 270.1h0.1M1108.4 340.4h0.1M1164.3 420.7h0.1M1273.1 396.3h0.1M1145.3 307.1h0.1M1138.8 260.4h0.1M1127.0 318.0h0.1M1272.2 287.8h0.1M1279.6 356.2h0.1M1156.1 419.5h0.1M1306.8 346.4h0.1M1294.4 304.9h0.1M1132.5 345.7h0.1M1178.2 289.3h0.1M1242.5 307.0h0.1M1294.6 355.4h0.1M1139.4 309.4h0.1M1308.4 406.3h0.1M1262.7 373.8h0.1M1301.4 255.7h0.1M1118.4 409.0h0.1M1159.9 319.5h0.1M1304.9 368.7h0.1M1295.2 304.4h0.1M1264.6 319.0h0.1M1105.6 335.4h0.1M1090.7 325.5h0.1M1174.5 397.1h0.1M1256.3 275.8h0.1M1102.2 281.6h0.1M1304.4 265.2h0.1M1297.9 389.4h0.1M1303.3 366.8h0.1M1263.1 408.9h0.1M1300.8 309.6h0.1M1153.2 329.6h0.1M1090.3 357.8h0.1M1294.6 286.7h0.1M1147.5 295.1h0.1M1120.9 414.2h0.1M1280.5 258.5h0.1M1202.0 381.1h0.1M1176.6 400.7h0.1M1135.9 355.0h0.1M1281.6 344.7h0.1M1135.5 290.1h0.1M1109.3 264.3h0.1M1137.2 337.2h0.1M1281.7 373.0h0.1M1244.6 268.0h0.1M1304.4 357.5h0.1M1297.1 383.4h0.1M1088.8 266.7h0.1M1308.2 358.3h0.1M1107.2 414.0h0.1M1287.0 325.3h0.1M1110.5 325.7h0.1M1137.0 305.2h0.1M1144.1 290.7h0.1M1103.3 353.0h0.1M1301.4 352.4h0.1M1111.3 255.5h0.1M1110.0 352.9h0.1M1283.7 355.1h0.1M1139.6 348.9h0.1M1300.8 363.2h0.1M1140.5 407.4h0.1M1118.7 405.0h0.1M1144.8 276.7h0.1M1231.5 395.2h0.1M1105.1 285.6h0.1M1227.0 337.5h0.1M1137.4 348.5h0.1M1287.2 381.5h0.1M1126.4 411.6h0.1M1170.7 375.3h0.1M1095.2 389.2h0.1M1248.1 258.4h0.1M1263.1 356.8h0.1M1273.3 277.7h0.1M1147.0 338.2h0.1M1304.0 273.9h0.1M1300.1 315.8h0.1M1108.4 354.3h0.1M1093.4 391.4h0.1M1117.6 290.5h0.1M1140.5 342.4h0.1M1239.6 274.9h0.1M1309.2 404.5h0.1M1112.3 261.0h0.1M1272.7 413.9h0.1M1162.5 322.1h0.1M1307.2 301.0h0.1M1095.1 415.2h0.1M1296.5 364.6h0.1M1137.2 391.7h0.1M1139.4 415.3h0.1M1120.2 392.6h0.1M1095.3 270.5h0.1M1308.0 410.9h0.1M1302.1 297.5h0.1M1303.0 410.5h0.1M1107.2 292.9h0.1M1219.6 258.6h0.1M1123.6 304.9h0.1M1163.2 331.3h0.1M1186.2 308.6h0.1M1297.3 387.6h0.1M1163.8 314.4h0.1M1270.0 291.6h0.1M1121.1 408.4h0.1M1306.2 302.5h0.1M1091.4 315.6h0.1M1289.5 415.0h0.1M1271.9 362.9h0.1M1088.9 419.6h0.1M1294.1 419.6h0.1M1266.4 393.7h0.1M1295.3 404.1h0.1M1089.2 326.6h0.1M1278.7 356.7h0.1M1241.2 379.2h0.1M1253.3 284.2h0.1M1140.2 372.4h0.1M1280.8 303.8h0.1M1089.2 339.6h0.1M1299.8 312.5h0.1" stroke="#404040" stroke-width="2.8" opacity="0.42"/>
<path d="M1107.9 401.1Q1106.4 398.5 1106.0 397.0Q1105.7 395.5 1105.4 394.0L1105.0 392.5M1118.7 372.5Q1117.7 369.0 1117.1 367.3Q1116.5 365.6 1115.6 364.0L1114.7 362.4M1143.9 316.6Q1146.7 314.1 1148.3 313.1L1149.9 312.1M1141.9 368.8Q1143.9 366.2 1145.3 365.5Q1146.8 364.8 1148.4 364.8Q1150.1 364.7 1151.6 365.4L1153.1 366.0M1299.6 284.2Q1301.9 282.0 1302.6 280.5Q1303.2 279.1 1304.0 277.7L1304.8 276.3M1269.0 295.4Q1272.2 294.8 1273.7 294.3Q1275.3 293.8 1276.8 293.4L1278.4 292.9M1302.7 385.2Q1304.2 382.5 1304.3 381.0Q1304.4 379.5 1304.3 378.0L1304.2 376.4M1113.4 295.6Q1112.3 292.0 1111.4 290.4L1110.4 288.8M1252.8 319.8Q1254.8 316.6 1256.2 315.4Q1257.6 314.3 1259.4 313.8L1261.2 313.4M1271.2 257.8Q1274.0 254.9 1275.5 253.7Q1277.0 252.4 1277.8 250.6L1278.6 248.7M1294.9 326.0Q1299.0 327.2 1301.0 326.8L1303.1 326.4M1137.1 400.2Q1134.8 398.1 1133.5 397.3Q1132.1 396.4 1130.7 395.9L1129.2 395.4M1299.7 332.9Q1301.7 329.8 1303.0 328.4Q1304.2 327.1 1305.6 325.8L1306.9 324.5M1242.0 329.9Q1243.7 326.5 1244.2 324.7L1244.8 322.9M1263.7 384.2Q1263.4 381.1 1262.5 379.8L1261.7 378.5M1103.7 402.9Q1103.3 399.3 1102.5 397.7L1101.7 396.1M1116.3 264.8Q1117.8 262.1 1118.2 260.6Q1118.6 259.0 1118.6 257.5Q1118.7 255.9 1118.4 254.3L1118.1 252.8M1172.9 347.3Q1172.0 344.1 1171.6 342.6Q1171.2 341.0 1170.7 339.5L1170.3 337.9M1108.8 312.8Q1110.4 310.2 1111.4 309.1Q1112.5 307.9 1113.2 306.6L1114.0 305.3M1096.4 344.1Q1093.1 342.8 1091.4 342.1Q1089.7 341.5 1087.9 341.4L1086.1 341.4M1303.8 298.1Q1305.0 295.2 1305.4 293.7Q1305.8 292.2 1306.6 290.9Q1307.5 289.6 1307.8 288.1L1308.1 286.6M1107.4 339.9Q1109.7 337.4 1110.8 336.0L1111.9 334.7M1214.3 383.2Q1217.1 380.9 1218.6 380.1Q1220.2 379.2 1221.8 378.4L1223.4 377.6M1126.8 315.8Q1124.6 312.9 1123.0 312.0Q1121.4 311.1 1120.2 309.7L1118.9 308.4M1270.5 272.0Q1269.7 267.9 1269.3 265.8L1268.8 263.8M1121.1 391.5Q1120.6 388.0 1121.2 386.4Q1121.9 384.7 1121.8 383.0L1121.7 381.2M1244.0 267.8Q1246.9 265.5 1248.0 264.1Q1249.1 262.6 1250.3 261.2L1251.5 259.8M1093.1 376.6Q1095.5 374.7 1096.6 373.7Q1097.8 372.7 1099.0 371.7L1100.2 370.8M1303.8 374.9Q1307.2 374.3 1308.8 373.7Q1310.5 373.0 1311.7 371.8L1313.0 370.6M1290.2 323.8Q1293.8 322.7 1295.6 322.2Q1297.4 321.8 1299.1 321.0L1300.8 320.3M1290.0 264.1Q1290.9 261.1 1291.0 259.5L1291.1 257.9M1201.6 266.2Q1198.7 263.9 1196.9 263.4Q1195.2 262.8 1193.3 262.7L1191.5 262.5M1175.5 315.8Q1178.5 314.4 1180.2 314.3Q1181.9 314.2 1183.6 314.2L1185.3 314.2M1181.3 332.1Q1184.6 335.1 1185.6 337.1L1186.6 339.1M1308.2 256.9Q1307.4 253.3 1306.2 251.9Q1305.0 250.5 1304.4 248.8L1303.7 247.1M1128.8 291.1Q1132.3 289.6 1134.0 289.0L1135.8 288.3M1119.8 385.6Q1122.3 383.1 1123.9 382.5L1125.6 381.8M1305.7 276.9Q1307.9 274.8 1309.0 273.6Q1310.1 272.5 1311.1 271.4Q1312.2 270.3 1313.1 269.0L1314.0 267.8M1117.7 378.8Q1117.5 375.5 1117.5 373.9L1117.6 372.3M1123.8 416.7Q1125.2 413.6 1126.2 412.1L1127.1 410.7M1244.0 280.2Q1244.8 277.1 1245.7 275.7Q1246.5 274.4 1247.7 273.3Q1248.9 272.2 1250.3 271.4L1251.7 270.7M1248.6 272.5Q1247.8 269.4 1247.5 267.9Q1247.3 266.4 1247.4 264.8L1247.5 263.3M1117.2 323.7Q1119.6 321.8 1120.8 320.8Q1121.9 319.8 1122.5 318.4L1123.1 316.9M1149.1 338.4Q1151.4 335.8 1153.0 335.2L1154.6 334.6M1159.1 282.5Q1160.0 278.3 1159.9 276.2L1159.8 274.0M1295.4 394.5Q1296.3 390.3 1297.6 388.5L1298.9 386.8M1095.0 390.0Q1098.7 391.5 1100.4 392.7L1102.0 393.8M1288.5 415.5Q1292.4 415.0 1294.3 415.2L1296.2 415.5M1138.3 324.4Q1140.9 321.5 1141.6 319.8L1142.4 318.0M1110.9 384.2Q1114.3 382.0 1116.3 381.5L1118.3 381.1M1292.8 353.7Q1293.6 349.8 1294.5 348.0Q1295.4 346.2 1296.3 344.4L1297.2 342.7M1180.0 257.4Q1183.6 257.2 1185.4 257.2Q1187.2 257.2 1189.0 257.2L1190.7 257.1M1119.7 258.8Q1120.1 255.4 1120.9 253.8Q1121.8 252.3 1122.1 250.6L1122.4 248.9M1246.1 406.1Q1248.6 404.1 1249.4 402.7Q1250.1 401.3 1250.9 399.9Q1251.6 398.4 1252.2 397.0L1252.8 395.5M1283.5 354.8Q1282.6 351.8 1282.3 350.2Q1282.0 348.7 1282.4 347.2L1282.8 345.7M1116.2 322.4Q1119.2 322.8 1120.7 323.2Q1122.2 323.7 1123.5 324.5Q1124.8 325.3 1126.3 325.6L1127.8 325.9M1120.8 275.4Q1121.9 271.8 1122.2 269.9Q1122.5 268.0 1123.1 266.2L1123.7 264.4M1172.5 388.8Q1175.5 386.9 1176.7 385.7Q1178.0 384.5 1178.5 382.8L1179.1 381.1M1137.4 363.5Q1139.9 361.1 1141.4 360.2Q1142.8 359.2 1144.4 358.5L1145.9 357.7M1278.0 340.9Q1277.0 337.9 1277.2 336.4Q1277.4 334.9 1276.9 333.4L1276.5 331.9M1276.6 320.2Q1277.6 317.3 1278.4 316.1Q1279.3 314.9 1280.5 313.9L1281.7 313.0M1187.7 308.1Q1186.2 305.1 1185.9 303.4L1185.6 301.8M1228.4 323.8Q1230.4 320.9 1231.4 319.5L1232.5 318.1M1275.4 361.4Q1272.3 360.6 1270.8 360.0L1269.3 359.3M1125.9 279.9Q1125.3 276.5 1125.6 274.8Q1125.9 273.1 1126.1 271.4L1126.2 269.7M1260.4 262.2Q1261.1 259.2 1261.4 257.7Q1261.7 256.2 1261.8 254.7Q1261.8 253.2 1262.6 251.9L1263.4 250.5M1132.1 314.1Q1130.8 310.5 1129.9 308.8Q1129.0 307.1 1128.5 305.2L1128.0 303.4M1107.5 410.5Q1108.9 407.3 1110.0 405.8Q1111.0 404.4 1112.6 403.5L1114.1 402.7M1131.0 297.7Q1132.3 294.6 1132.2 292.9Q1132.2 291.1 1131.3 289.7L1130.5 288.2M1301.9 386.0Q1305.2 385.8 1306.6 384.9L1308.0 384.0M1136.9 378.6Q1139.7 376.1 1140.6 374.5L1141.6 373.0M1183.3 378.1Q1185.7 376.2 1186.2 374.8Q1186.8 373.4 1186.8 371.9Q1186.9 370.4 1187.0 368.8L1187.1 367.3M1113.1 264.8Q1112.9 261.7 1113.4 260.3Q1114.0 258.8 1114.9 257.6L1115.8 256.4M1290.1 331.7Q1288.3 329.1 1287.7 327.6Q1287.1 326.1 1286.8 324.6L1286.5 323.0M1107.9 387.7Q1108.7 384.8 1109.6 383.6Q1110.5 382.4 1111.3 381.1Q1112.1 379.8 1112.9 378.5L1113.7 377.3M1133.7 384.7Q1136.4 383.1 1137.8 382.5Q1139.3 381.8 1140.8 381.4Q1142.3 381.0 1143.5 380.0L1144.7 378.9M1296.1 317.2Q1300.0 316.2 1301.6 315.0L1303.2 313.8M1290.9 343.0Q1290.1 340.1 1289.1 338.9Q1288.2 337.7 1286.8 336.9Q1285.4 336.2 1283.9 336.1L1282.4 336.1M1294.9 311.6Q1294.1 308.0 1294.6 306.2Q1295.1 304.5 1296.1 302.9L1297.1 301.4M1134.4 382.0Q1133.5 378.8 1132.7 377.4L1131.8 375.9M1099.8 266.8Q1102.4 263.8 1103.1 262.0Q1103.7 260.2 1104.4 258.4L1105.2 256.6M1107.6 404.5Q1110.6 405.9 1111.9 407.0Q1113.1 408.1 1114.4 409.1L1115.7 410.2M1103.6 305.6Q1106.6 304.9 1108.0 304.1Q1109.3 303.3 1110.9 303.2Q1112.5 303.1 1114.0 303.3L1115.6 303.5M1299.7 327.1Q1303.5 327.0 1305.4 326.9L1307.3 326.8M1134.6 370.7Q1138.0 369.6 1139.6 369.0L1141.2 368.4M1296.9 392.2Q1296.4 388.0 1295.7 386.0L1294.9 384.0M1229.6 385.7Q1232.3 382.8 1233.0 381.0Q1233.6 379.1 1233.5 377.2L1233.3 375.2M1113.7 368.8Q1110.7 366.2 1109.4 364.8Q1108.0 363.3 1106.6 362.0L1105.1 360.6M1277.0 315.9Q1277.9 312.6 1279.0 311.2Q1280.1 309.9 1280.6 308.2L1281.1 306.5M1171.7 399.6Q1173.9 397.3 1174.8 396.0L1175.7 394.7M1269.2 307.3Q1269.9 304.1 1269.5 302.6Q1269.1 301.0 1268.5 299.5Q1267.9 298.0 1267.7 296.4L1267.6 294.8M1292.3 377.0Q1295.9 375.9 1297.6 375.1L1299.3 374.2M1233.1 352.3Q1236.4 350.8 1237.8 349.7Q1239.2 348.5 1240.1 346.9L1241.1 345.4M1185.1 282.3Q1185.9 279.3 1186.8 278.0Q1187.6 276.7 1188.3 275.3L1189.1 273.9M1103.4 290.6Q1106.4 289.7 1107.8 289.0Q1109.2 288.2 1110.5 287.4Q1111.7 286.5 1113.1 285.7L1114.5 284.9M1155.3 357.9Q1157.9 359.9 1158.7 361.4Q1159.4 362.9 1160.2 364.3L1161.0 365.7M1276.9 296.9Q1279.9 294.9 1281.7 294.6Q1283.5 294.3 1285.2 294.8L1287.0 295.4M1178.0 266.3Q1178.1 263.3 1178.1 261.8L1178.1 260.2M1165.2 335.7Q1166.0 332.5 1166.5 330.9L1167.0 329.3M1107.6 350.0Q1110.0 347.7 1110.7 346.3Q1111.5 344.8 1112.8 343.8L1114.1 342.9M1270.6 333.9Q1270.4 329.6 1271.1 327.6L1271.9 325.6M1106.7 275.5Q1107.5 272.5 1107.7 271.0Q1107.9 269.5 1108.2 267.9L1108.5 266.4M1092.5 384.6Q1089.9 381.9 1089.3 380.2L1088.7 378.5M1115.3 339.0Q1119.0 337.6 1121.0 337.4Q1122.9 337.1 1124.7 336.4L1126.6 335.7M1276.0 278.1Q1276.5 274.5 1276.8 272.7Q1277.1 270.9 1277.1 269.0L1277.1 267.2M1302.6 344.0Q1303.6 340.7 1303.4 339.0Q1303.3 337.3 1303.1 335.6L1303.0 333.8M1170.6 342.6Q1172.6 339.4 1173.1 337.6Q1173.6 335.8 1174.8 334.4L1176.0 333.0M1296.5 403.0Q1296.3 398.8 1296.9 396.7L1297.5 394.7M1290.5 415.3Q1293.8 412.6 1295.4 411.2L1297.0 409.8M1166.5 276.4Q1168.1 273.5 1168.4 272.0Q1168.7 270.4 1169.4 268.9L1170.0 267.4M1136.6 339.4Q1139.8 339.3 1141.4 339.2L1143.0 339.2M1147.8 292.0Q1147.4 288.2 1147.8 286.2L1148.1 284.3M1147.7 418.5Q1151.0 421.4 1152.8 422.7L1154.6 424.0M1143.0 332.4Q1146.5 332.9 1148.2 332.9Q1149.9 332.9 1151.6 332.8L1153.3 332.6M1286.4 353.3Q1285.0 349.7 1283.5 348.5Q1282.1 347.3 1281.0 345.7L1280.0 344.1M1305.8 322.8Q1309.3 325.0 1310.3 326.8L1311.4 328.6M1089.7 395.7Q1092.9 394.0 1094.7 394.0Q1096.5 393.9 1098.2 393.2L1099.9 392.6M1113.8 294.9Q1116.2 292.6 1117.4 291.4Q1118.6 290.2 1119.2 288.7L1119.9 287.1M1165.3 398.9Q1167.7 396.9 1169.3 396.5Q1170.8 396.1 1172.3 396.5L1173.9 396.8M1121.8 408.4Q1123.8 405.8 1124.3 404.3Q1124.7 402.7 1124.6 401.1L1124.5 399.5M1197.7 396.3Q1200.8 397.7 1202.3 398.6Q1203.8 399.5 1204.7 401.0L1205.6 402.5M1088.7 363.5Q1089.5 359.4 1089.5 357.3L1089.5 355.2M1234.7 371.9Q1234.1 369.0 1233.6 367.5Q1233.1 366.1 1232.4 364.8L1231.7 363.4M1095.3 360.7Q1099.2 362.9 1100.6 364.7L1101.9 366.5M1089.5 324.1Q1091.6 321.2 1092.1 319.5Q1092.7 317.8 1092.5 316.1L1092.3 314.3M1132.4 359.3Q1135.8 358.0 1137.6 357.9Q1139.4 357.9 1141.2 358.2L1143.0 358.5M1307.4 346.6Q1310.0 344.9 1311.5 344.6Q1313.1 344.3 1314.6 343.9L1316.1 343.5M1088.4 347.2Q1086.1 343.9 1085.8 342.0L1085.5 340.0M1108.2 311.7Q1109.0 308.5 1109.8 307.0Q1110.6 305.6 1111.3 304.1L1112.0 302.6M1259.2 335.5Q1261.7 332.7 1263.2 331.5Q1264.6 330.2 1266.1 329.1L1267.6 328.0M1093.4 317.7Q1096.8 317.5 1098.4 317.8L1100.1 318.2M1233.2 353.6Q1236.0 351.1 1237.6 350.1Q1239.2 349.1 1240.3 347.6L1241.5 346.2M1131.1 405.6Q1134.3 407.0 1136.0 407.5Q1137.7 408.0 1139.4 408.6L1141.0 409.1M1159.4 335.6Q1158.3 332.2 1158.6 330.4L1158.8 328.7M1140.3 311.4Q1139.1 308.2 1137.9 306.9L1136.8 305.6M1121.9 327.6Q1121.2 323.9 1120.8 322.0Q1120.3 320.1 1119.1 318.7L1117.8 317.3M1267.6 288.7Q1269.5 286.3 1270.3 285.0Q1271.1 283.7 1271.4 282.2L1271.7 280.7M1246.6 373.6Q1244.8 370.8 1243.5 369.7L1242.1 368.7M1298.6 364.0Q1301.9 363.8 1303.5 363.3Q1305.1 362.9 1306.8 362.7L1308.4 362.5M1093.5 392.9Q1095.1 389.7 1095.5 388.0L1095.9 386.3M1180.8 266.3Q1183.3 263.6 1184.4 262.2Q1185.6 260.7 1186.6 259.3L1187.7 257.8" stroke="#444" stroke-width="1.8" transform="translate(1.1 -1)" opacity="0.6"/>
<path d="M1107.9 401.1Q1106.4 398.5 1106.0 397.0Q1105.7 395.5 1105.4 394.0L1105.0 392.5M1118.7 372.5Q1117.7 369.0 1117.1 367.3Q1116.5 365.6 1115.6 364.0L1114.7 362.4M1143.9 316.6Q1146.7 314.1 1148.3 313.1L1149.9 312.1M1141.9 368.8Q1143.9 366.2 1145.3 365.5Q1146.8 364.8 1148.4 364.8Q1150.1 364.7 1151.6 365.4L1153.1 366.0M1299.6 284.2Q1301.9 282.0 1302.6 280.5Q1303.2 279.1 1304.0 277.7L1304.8 276.3M1269.0 295.4Q1272.2 294.8 1273.7 294.3Q1275.3 293.8 1276.8 293.4L1278.4 292.9M1302.7 385.2Q1304.2 382.5 1304.3 381.0Q1304.4 379.5 1304.3 378.0L1304.2 376.4M1113.4 295.6Q1112.3 292.0 1111.4 290.4L1110.4 288.8M1252.8 319.8Q1254.8 316.6 1256.2 315.4Q1257.6 314.3 1259.4 313.8L1261.2 313.4M1271.2 257.8Q1274.0 254.9 1275.5 253.7Q1277.0 252.4 1277.8 250.6L1278.6 248.7M1294.9 326.0Q1299.0 327.2 1301.0 326.8L1303.1 326.4M1137.1 400.2Q1134.8 398.1 1133.5 397.3Q1132.1 396.4 1130.7 395.9L1129.2 395.4M1299.7 332.9Q1301.7 329.8 1303.0 328.4Q1304.2 327.1 1305.6 325.8L1306.9 324.5M1242.0 329.9Q1243.7 326.5 1244.2 324.7L1244.8 322.9M1263.7 384.2Q1263.4 381.1 1262.5 379.8L1261.7 378.5M1103.7 402.9Q1103.3 399.3 1102.5 397.7L1101.7 396.1M1116.3 264.8Q1117.8 262.1 1118.2 260.6Q1118.6 259.0 1118.6 257.5Q1118.7 255.9 1118.4 254.3L1118.1 252.8M1172.9 347.3Q1172.0 344.1 1171.6 342.6Q1171.2 341.0 1170.7 339.5L1170.3 337.9M1108.8 312.8Q1110.4 310.2 1111.4 309.1Q1112.5 307.9 1113.2 306.6L1114.0 305.3M1096.4 344.1Q1093.1 342.8 1091.4 342.1Q1089.7 341.5 1087.9 341.4L1086.1 341.4M1303.8 298.1Q1305.0 295.2 1305.4 293.7Q1305.8 292.2 1306.6 290.9Q1307.5 289.6 1307.8 288.1L1308.1 286.6M1107.4 339.9Q1109.7 337.4 1110.8 336.0L1111.9 334.7M1214.3 383.2Q1217.1 380.9 1218.6 380.1Q1220.2 379.2 1221.8 378.4L1223.4 377.6M1126.8 315.8Q1124.6 312.9 1123.0 312.0Q1121.4 311.1 1120.2 309.7L1118.9 308.4M1270.5 272.0Q1269.7 267.9 1269.3 265.8L1268.8 263.8M1121.1 391.5Q1120.6 388.0 1121.2 386.4Q1121.9 384.7 1121.8 383.0L1121.7 381.2M1244.0 267.8Q1246.9 265.5 1248.0 264.1Q1249.1 262.6 1250.3 261.2L1251.5 259.8M1093.1 376.6Q1095.5 374.7 1096.6 373.7Q1097.8 372.7 1099.0 371.7L1100.2 370.8M1303.8 374.9Q1307.2 374.3 1308.8 373.7Q1310.5 373.0 1311.7 371.8L1313.0 370.6M1290.2 323.8Q1293.8 322.7 1295.6 322.2Q1297.4 321.8 1299.1 321.0L1300.8 320.3M1290.0 264.1Q1290.9 261.1 1291.0 259.5L1291.1 257.9M1201.6 266.2Q1198.7 263.9 1196.9 263.4Q1195.2 262.8 1193.3 262.7L1191.5 262.5M1175.5 315.8Q1178.5 314.4 1180.2 314.3Q1181.9 314.2 1183.6 314.2L1185.3 314.2M1181.3 332.1Q1184.6 335.1 1185.6 337.1L1186.6 339.1M1308.2 256.9Q1307.4 253.3 1306.2 251.9Q1305.0 250.5 1304.4 248.8L1303.7 247.1M1128.8 291.1Q1132.3 289.6 1134.0 289.0L1135.8 288.3M1119.8 385.6Q1122.3 383.1 1123.9 382.5L1125.6 381.8M1305.7 276.9Q1307.9 274.8 1309.0 273.6Q1310.1 272.5 1311.1 271.4Q1312.2 270.3 1313.1 269.0L1314.0 267.8M1117.7 378.8Q1117.5 375.5 1117.5 373.9L1117.6 372.3M1123.8 416.7Q1125.2 413.6 1126.2 412.1L1127.1 410.7M1244.0 280.2Q1244.8 277.1 1245.7 275.7Q1246.5 274.4 1247.7 273.3Q1248.9 272.2 1250.3 271.4L1251.7 270.7M1248.6 272.5Q1247.8 269.4 1247.5 267.9Q1247.3 266.4 1247.4 264.8L1247.5 263.3M1117.2 323.7Q1119.6 321.8 1120.8 320.8Q1121.9 319.8 1122.5 318.4L1123.1 316.9M1149.1 338.4Q1151.4 335.8 1153.0 335.2L1154.6 334.6M1159.1 282.5Q1160.0 278.3 1159.9 276.2L1159.8 274.0M1295.4 394.5Q1296.3 390.3 1297.6 388.5L1298.9 386.8M1095.0 390.0Q1098.7 391.5 1100.4 392.7L1102.0 393.8M1288.5 415.5Q1292.4 415.0 1294.3 415.2L1296.2 415.5M1138.3 324.4Q1140.9 321.5 1141.6 319.8L1142.4 318.0M1110.9 384.2Q1114.3 382.0 1116.3 381.5L1118.3 381.1M1292.8 353.7Q1293.6 349.8 1294.5 348.0Q1295.4 346.2 1296.3 344.4L1297.2 342.7M1180.0 257.4Q1183.6 257.2 1185.4 257.2Q1187.2 257.2 1189.0 257.2L1190.7 257.1M1119.7 258.8Q1120.1 255.4 1120.9 253.8Q1121.8 252.3 1122.1 250.6L1122.4 248.9M1246.1 406.1Q1248.6 404.1 1249.4 402.7Q1250.1 401.3 1250.9 399.9Q1251.6 398.4 1252.2 397.0L1252.8 395.5M1283.5 354.8Q1282.6 351.8 1282.3 350.2Q1282.0 348.7 1282.4 347.2L1282.8 345.7M1116.2 322.4Q1119.2 322.8 1120.7 323.2Q1122.2 323.7 1123.5 324.5Q1124.8 325.3 1126.3 325.6L1127.8 325.9M1120.8 275.4Q1121.9 271.8 1122.2 269.9Q1122.5 268.0 1123.1 266.2L1123.7 264.4M1172.5 388.8Q1175.5 386.9 1176.7 385.7Q1178.0 384.5 1178.5 382.8L1179.1 381.1M1137.4 363.5Q1139.9 361.1 1141.4 360.2Q1142.8 359.2 1144.4 358.5L1145.9 357.7M1278.0 340.9Q1277.0 337.9 1277.2 336.4Q1277.4 334.9 1276.9 333.4L1276.5 331.9M1276.6 320.2Q1277.6 317.3 1278.4 316.1Q1279.3 314.9 1280.5 313.9L1281.7 313.0M1187.7 308.1Q1186.2 305.1 1185.9 303.4L1185.6 301.8M1228.4 323.8Q1230.4 320.9 1231.4 319.5L1232.5 318.1M1275.4 361.4Q1272.3 360.6 1270.8 360.0L1269.3 359.3M1125.9 279.9Q1125.3 276.5 1125.6 274.8Q1125.9 273.1 1126.1 271.4L1126.2 269.7M1260.4 262.2Q1261.1 259.2 1261.4 257.7Q1261.7 256.2 1261.8 254.7Q1261.8 253.2 1262.6 251.9L1263.4 250.5M1132.1 314.1Q1130.8 310.5 1129.9 308.8Q1129.0 307.1 1128.5 305.2L1128.0 303.4M1107.5 410.5Q1108.9 407.3 1110.0 405.8Q1111.0 404.4 1112.6 403.5L1114.1 402.7M1131.0 297.7Q1132.3 294.6 1132.2 292.9Q1132.2 291.1 1131.3 289.7L1130.5 288.2M1301.9 386.0Q1305.2 385.8 1306.6 384.9L1308.0 384.0M1136.9 378.6Q1139.7 376.1 1140.6 374.5L1141.6 373.0M1183.3 378.1Q1185.7 376.2 1186.2 374.8Q1186.8 373.4 1186.8 371.9Q1186.9 370.4 1187.0 368.8L1187.1 367.3M1113.1 264.8Q1112.9 261.7 1113.4 260.3Q1114.0 258.8 1114.9 257.6L1115.8 256.4M1290.1 331.7Q1288.3 329.1 1287.7 327.6Q1287.1 326.1 1286.8 324.6L1286.5 323.0M1107.9 387.7Q1108.7 384.8 1109.6 383.6Q1110.5 382.4 1111.3 381.1Q1112.1 379.8 1112.9 378.5L1113.7 377.3M1133.7 384.7Q1136.4 383.1 1137.8 382.5Q1139.3 381.8 1140.8 381.4Q1142.3 381.0 1143.5 380.0L1144.7 378.9M1296.1 317.2Q1300.0 316.2 1301.6 315.0L1303.2 313.8M1290.9 343.0Q1290.1 340.1 1289.1 338.9Q1288.2 337.7 1286.8 336.9Q1285.4 336.2 1283.9 336.1L1282.4 336.1M1294.9 311.6Q1294.1 308.0 1294.6 306.2Q1295.1 304.5 1296.1 302.9L1297.1 301.4M1134.4 382.0Q1133.5 378.8 1132.7 377.4L1131.8 375.9M1099.8 266.8Q1102.4 263.8 1103.1 262.0Q1103.7 260.2 1104.4 258.4L1105.2 256.6M1107.6 404.5Q1110.6 405.9 1111.9 407.0Q1113.1 408.1 1114.4 409.1L1115.7 410.2M1103.6 305.6Q1106.6 304.9 1108.0 304.1Q1109.3 303.3 1110.9 303.2Q1112.5 303.1 1114.0 303.3L1115.6 303.5M1299.7 327.1Q1303.5 327.0 1305.4 326.9L1307.3 326.8M1134.6 370.7Q1138.0 369.6 1139.6 369.0L1141.2 368.4M1296.9 392.2Q1296.4 388.0 1295.7 386.0L1294.9 384.0M1229.6 385.7Q1232.3 382.8 1233.0 381.0Q1233.6 379.1 1233.5 377.2L1233.3 375.2M1113.7 368.8Q1110.7 366.2 1109.4 364.8Q1108.0 363.3 1106.6 362.0L1105.1 360.6M1277.0 315.9Q1277.9 312.6 1279.0 311.2Q1280.1 309.9 1280.6 308.2L1281.1 306.5M1171.7 399.6Q1173.9 397.3 1174.8 396.0L1175.7 394.7M1269.2 307.3Q1269.9 304.1 1269.5 302.6Q1269.1 301.0 1268.5 299.5Q1267.9 298.0 1267.7 296.4L1267.6 294.8M1292.3 377.0Q1295.9 375.9 1297.6 375.1L1299.3 374.2M1233.1 352.3Q1236.4 350.8 1237.8 349.7Q1239.2 348.5 1240.1 346.9L1241.1 345.4M1185.1 282.3Q1185.9 279.3 1186.8 278.0Q1187.6 276.7 1188.3 275.3L1189.1 273.9M1103.4 290.6Q1106.4 289.7 1107.8 289.0Q1109.2 288.2 1110.5 287.4Q1111.7 286.5 1113.1 285.7L1114.5 284.9M1155.3 357.9Q1157.9 359.9 1158.7 361.4Q1159.4 362.9 1160.2 364.3L1161.0 365.7M1276.9 296.9Q1279.9 294.9 1281.7 294.6Q1283.5 294.3 1285.2 294.8L1287.0 295.4M1178.0 266.3Q1178.1 263.3 1178.1 261.8L1178.1 260.2M1165.2 335.7Q1166.0 332.5 1166.5 330.9L1167.0 329.3M1107.6 350.0Q1110.0 347.7 1110.7 346.3Q1111.5 344.8 1112.8 343.8L1114.1 342.9M1270.6 333.9Q1270.4 329.6 1271.1 327.6L1271.9 325.6M1106.7 275.5Q1107.5 272.5 1107.7 271.0Q1107.9 269.5 1108.2 267.9L1108.5 266.4M1092.5 384.6Q1089.9 381.9 1089.3 380.2L1088.7 378.5M1115.3 339.0Q1119.0 337.6 1121.0 337.4Q1122.9 337.1 1124.7 336.4L1126.6 335.7M1276.0 278.1Q1276.5 274.5 1276.8 272.7Q1277.1 270.9 1277.1 269.0L1277.1 267.2M1302.6 344.0Q1303.6 340.7 1303.4 339.0Q1303.3 337.3 1303.1 335.6L1303.0 333.8M1170.6 342.6Q1172.6 339.4 1173.1 337.6Q1173.6 335.8 1174.8 334.4L1176.0 333.0M1296.5 403.0Q1296.3 398.8 1296.9 396.7L1297.5 394.7M1290.5 415.3Q1293.8 412.6 1295.4 411.2L1297.0 409.8M1166.5 276.4Q1168.1 273.5 1168.4 272.0Q1168.7 270.4 1169.4 268.9L1170.0 267.4M1136.6 339.4Q1139.8 339.3 1141.4 339.2L1143.0 339.2M1147.8 292.0Q1147.4 288.2 1147.8 286.2L1148.1 284.3M1147.7 418.5Q1151.0 421.4 1152.8 422.7L1154.6 424.0M1143.0 332.4Q1146.5 332.9 1148.2 332.9Q1149.9 332.9 1151.6 332.8L1153.3 332.6M1286.4 353.3Q1285.0 349.7 1283.5 348.5Q1282.1 347.3 1281.0 345.7L1280.0 344.1M1305.8 322.8Q1309.3 325.0 1310.3 326.8L1311.4 328.6M1089.7 395.7Q1092.9 394.0 1094.7 394.0Q1096.5 393.9 1098.2 393.2L1099.9 392.6M1113.8 294.9Q1116.2 292.6 1117.4 291.4Q1118.6 290.2 1119.2 288.7L1119.9 287.1M1165.3 398.9Q1167.7 396.9 1169.3 396.5Q1170.8 396.1 1172.3 396.5L1173.9 396.8M1121.8 408.4Q1123.8 405.8 1124.3 404.3Q1124.7 402.7 1124.6 401.1L1124.5 399.5M1197.7 396.3Q1200.8 397.7 1202.3 398.6Q1203.8 399.5 1204.7 401.0L1205.6 402.5M1088.7 363.5Q1089.5 359.4 1089.5 357.3L1089.5 355.2M1234.7 371.9Q1234.1 369.0 1233.6 367.5Q1233.1 366.1 1232.4 364.8L1231.7 363.4M1095.3 360.7Q1099.2 362.9 1100.6 364.7L1101.9 366.5M1089.5 324.1Q1091.6 321.2 1092.1 319.5Q1092.7 317.8 1092.5 316.1L1092.3 314.3M1132.4 359.3Q1135.8 358.0 1137.6 357.9Q1139.4 357.9 1141.2 358.2L1143.0 358.5M1307.4 346.6Q1310.0 344.9 1311.5 344.6Q1313.1 344.3 1314.6 343.9L1316.1 343.5M1088.4 347.2Q1086.1 343.9 1085.8 342.0L1085.5 340.0M1108.2 311.7Q1109.0 308.5 1109.8 307.0Q1110.6 305.6 1111.3 304.1L1112.0 302.6M1259.2 335.5Q1261.7 332.7 1263.2 331.5Q1264.6 330.2 1266.1 329.1L1267.6 328.0M1093.4 317.7Q1096.8 317.5 1098.4 317.8L1100.1 318.2M1233.2 353.6Q1236.0 351.1 1237.6 350.1Q1239.2 349.1 1240.3 347.6L1241.5 346.2M1131.1 405.6Q1134.3 407.0 1136.0 407.5Q1137.7 408.0 1139.4 408.6L1141.0 409.1M1159.4 335.6Q1158.3 332.2 1158.6 330.4L1158.8 328.7M1140.3 311.4Q1139.1 308.2 1137.9 306.9L1136.8 305.6M1121.9 327.6Q1121.2 323.9 1120.8 322.0Q1120.3 320.1 1119.1 318.7L1117.8 317.3M1267.6 288.7Q1269.5 286.3 1270.3 285.0Q1271.1 283.7 1271.4 282.2L1271.7 280.7M1246.6 373.6Q1244.8 370.8 1243.5 369.7L1242.1 368.7M1298.6 364.0Q1301.9 363.8 1303.5 363.3Q1305.1 362.9 1306.8 362.7L1308.4 362.5M1093.5 392.9Q1095.1 389.7 1095.5 388.0L1095.9 386.3M1180.8 266.3Q1183.3 263.6 1184.4 262.2Q1185.6 260.7 1186.6 259.3L1187.7 257.8" stroke="#e0e0e0" stroke-width="1.5" opacity="0.5"/>
<path d="M1112.6 372.8A2.1 2.1 0 0 1 1108.5 372.4M1153.1 370.9A1.9 1.9 0 0 1 1153.7 367.5M1288.2 317.0A2.5 2.5 0 0 1 1285.0 313.1M1123.5 365.7A1.8 1.8 0 0 1 1122.2 362.6M1303.6 325.0A2.5 2.5 0 0 1 1302.0 320.8M1111.3 392.2A1.7 1.7 0 0 1 1107.9 391.7M1109.8 335.1A2.3 2.3 0 0 1 1105.5 336.4M1182.7 356.1A2.0 2.0 0 0 1 1183.1 352.6M1095.0 309.3A2.1 2.1 0 0 1 1093.0 306.0M1097.5 280.0A2.8 2.8 0 0 1 1092.3 281.0M1150.7 384.6A2.5 2.5 0 0 1 1151.3 379.7M1275.8 315.4A2.4 2.4 0 0 1 1271.4 317.3M1143.2 412.4A2.0 2.0 0 0 1 1140.1 409.8M1119.9 299.5A2.2 2.2 0 0 1 1116.2 297.2M1136.3 366.0A2.9 2.9 0 0 1 1135.3 360.3M1277.5 267.6A2.4 2.4 0 0 1 1278.3 263.0M1304.8 402.8A1.8 1.8 0 0 1 1303.8 399.4M1155.2 276.1A1.7 1.7 0 0 1 1154.7 279.4M1279.0 323.2A2.9 2.9 0 0 1 1274.5 319.5M1289.0 268.1A2.7 2.7 0 0 1 1283.9 266.7M1116.4 292.7A2.8 2.8 0 0 1 1110.9 291.6M1227.2 374.6A2.6 2.6 0 0 1 1223.1 371.8M1117.8 400.1A2.4 2.4 0 0 1 1114.6 396.5M1289.8 305.9A2.5 2.5 0 0 1 1285.1 307.6M1309.2 330.0A2.9 2.9 0 0 1 1305.9 325.9M1132.8 386.7A2.0 2.0 0 0 1 1130.4 389.2M1117.7 399.8A1.8 1.8 0 0 1 1114.2 399.2M1140.4 405.7A2.3 2.3 0 0 1 1136.1 406.7M1104.1 366.3A2.9 2.9 0 0 1 1098.7 367.6M1141.3 275.3A2.9 2.9 0 0 1 1138.7 270.7M1302.9 324.8A2.4 2.4 0 0 1 1298.3 326.4M1244.7 413.6A2.4 2.4 0 0 1 1240.3 414.1M1091.7 377.2A2.9 2.9 0 0 1 1086.5 379.7M1090.4 397.0A2.9 2.9 0 0 1 1084.8 397.4M1307.1 411.7A2.9 2.9 0 0 1 1301.4 411.7M1094.4 419.1A2.1 2.1 0 0 1 1091.2 416.7M1206.4 390.8A2.0 2.0 0 0 1 1204.9 387.2M1296.8 319.7A2.0 2.0 0 0 1 1292.8 320.1M1148.9 338.0A2.7 2.7 0 0 1 1151.9 342.4M1297.1 376.1A2.8 2.8 0 0 1 1292.2 373.7M1099.7 326.3A2.5 2.5 0 0 1 1098.2 321.6M1127.9 261.8A1.8 1.8 0 0 1 1124.9 262.9M1280.1 274.6A1.7 1.7 0 0 1 1279.0 271.7M1097.9 377.7A2.1 2.1 0 0 1 1094.1 376.7M1303.0 390.4A2.8 2.8 0 0 1 1298.3 393.4M1261.4 336.7A1.8 1.8 0 0 1 1260.6 340.1M1093.7 265.8A3.0 3.0 0 0 1 1087.7 265.3M1117.5 319.6A2.4 2.4 0 0 1 1115.7 323.8M1280.7 377.4A2.5 2.5 0 0 1 1280.2 372.3M1307.5 351.2A2.9 2.9 0 0 1 1305.5 346.4M1285.3 317.3A1.8 1.8 0 0 1 1282.6 319.7M1270.1 371.2A1.8 1.8 0 0 1 1267.2 369.2M1293.1 302.2A1.9 1.9 0 0 1 1289.4 302.1M1124.0 290.2A2.0 2.0 0 0 1 1123.7 286.3M1271.0 272.1A1.8 1.8 0 0 1 1267.6 273.3M1095.5 351.9A2.9 2.9 0 0 1 1090.7 349.4M1147.9 412.7A1.9 1.9 0 0 1 1146.4 409.7M1135.4 415.2A2.5 2.5 0 0 1 1133.6 411.2M1292.6 276.3A2.6 2.6 0 0 1 1291.9 281.4M1118.9 316.3A2.7 2.7 0 0 1 1114.2 318.7M1153.5 297.5A3.0 3.0 0 0 1 1149.3 293.7M1213.8 267.1A1.7 1.7 0 0 1 1210.7 265.6M1106.1 324.6A1.9 1.9 0 0 1 1102.3 324.7M1294.1 389.5A2.8 2.8 0 0 1 1292.0 394.0M1109.0 419.8A2.6 2.6 0 0 1 1107.3 415.3M1102.0 282.4A1.8 1.8 0 0 1 1101.5 279.3M1298.4 421.0A2.0 2.0 0 0 1 1294.8 421.3M1096.9 374.1A2.9 2.9 0 0 1 1101.0 370.6M1141.1 397.4A2.1 2.1 0 0 1 1137.4 395.9M1254.9 270.3A1.8 1.8 0 0 1 1252.3 268.4M1091.1 399.1A2.5 2.5 0 0 1 1086.3 399.1M1308.8 356.3A1.9 1.9 0 0 1 1305.9 353.8M1146.1 363.4A2.8 2.8 0 0 1 1141.3 364.7M1163.7 332.8A1.8 1.8 0 0 1 1161.8 329.9M1305.8 364.6A2.1 2.1 0 0 1 1302.2 362.4M1278.7 370.4A1.9 1.9 0 0 1 1276.9 367.5M1104.0 416.6A2.6 2.6 0 0 1 1099.3 417.5M1138.1 351.2A1.9 1.9 0 0 1 1135.6 353.9M1306.9 375.3A2.2 2.2 0 0 1 1303.7 378.3M1113.8 420.1A2.4 2.4 0 0 1 1109.2 421.8M1281.5 384.1A2.1 2.1 0 0 1 1280.8 380.3M1117.6 410.6A2.7 2.7 0 0 1 1112.9 407.9M1173.5 406.2A3.0 3.0 0 0 1 1168.3 403.7M1114.4 276.2A2.4 2.4 0 0 1 1111.1 273.4M1132.2 269.8A2.8 2.8 0 0 1 1132.2 264.8M1109.0 416.7A2.4 2.4 0 0 1 1109.7 412.0M1139.1 285.2A2.2 2.2 0 0 1 1135.6 287.5M1266.0 389.0A1.8 1.8 0 0 1 1262.4 388.4M1122.6 386.1A2.3 2.3 0 0 1 1119.0 383.3M1307.0 343.3A2.6 2.6 0 0 1 1304.8 338.6M1292.3 351.2A2.6 2.6 0 0 1 1288.1 348.2M1267.2 314.4A3.0 3.0 0 0 1 1261.4 313.6M1162.7 399.3A2.4 2.4 0 0 1 1160.1 395.5M1132.1 330.8A2.8 2.8 0 0 1 1126.8 330.3M1202.4 300.9A2.9 2.9 0 0 1 1200.7 295.6M1281.3 400.8A2.2 2.2 0 0 1 1279.2 404.2M1096.1 369.9A2.4 2.4 0 0 1 1096.9 365.3M1101.9 259.0A2.8 2.8 0 0 1 1104.9 254.3M1252.0 263.6A2.7 2.7 0 0 1 1246.7 262.8M1265.4 390.8A1.8 1.8 0 0 1 1264.4 387.5M1282.9 261.8A2.2 2.2 0 0 1 1281.5 257.6M1281.3 387.1A2.7 2.7 0 0 1 1277.7 391.1M1146.3 371.1A2.7 2.7 0 0 1 1140.9 371.2M1267.0 340.9A2.7 2.7 0 0 1 1262.5 339.3M1301.6 362.8A1.9 1.9 0 0 1 1298.0 362.5M1119.9 375.9A1.8 1.8 0 0 1 1116.7 377.3M1147.0 293.8A3.0 3.0 0 0 1 1142.6 290.6M1253.6 264.7A2.6 2.6 0 0 1 1248.6 265.7M1099.9 364.2A1.9 1.9 0 0 1 1097.7 366.9M1267.8 268.9A2.7 2.7 0 0 1 1264.5 272.5M1146.8 364.3A2.6 2.6 0 0 1 1145.3 360.0M1097.8 392.3A1.8 1.8 0 0 1 1095.4 389.5M1247.5 290.2A2.1 2.1 0 0 1 1243.9 288.8M1142.7 318.2A1.9 1.9 0 0 1 1141.1 314.8M1126.3 298.5A1.9 1.9 0 0 1 1122.7 297.5M1255.9 366.1A2.3 2.3 0 0 1 1257.0 361.8M1093.9 265.5A2.2 2.2 0 0 1 1091.2 268.7M1238.3 360.5A2.8 2.8 0 0 1 1233.0 359.3M1102.9 294.1A2.3 2.3 0 0 1 1101.4 298.4M1141.6 362.4A1.8 1.8 0 0 1 1141.3 358.9M1259.5 286.7A1.9 1.9 0 0 1 1257.9 283.8M1118.1 388.3A2.7 2.7 0 0 1 1114.2 392.0M1128.6 403.7A1.9 1.9 0 0 1 1127.3 406.8M1153.6 262.5A2.5 2.5 0 0 1 1149.4 265.0M1198.1 269.0A1.7 1.7 0 0 1 1195.1 267.5M1137.8 419.2A2.3 2.3 0 0 1 1139.2 414.9M1284.5 405.9A2.3 2.3 0 0 1 1280.4 406.4M1238.6 399.4A2.0 2.0 0 0 1 1235.2 401.4M1095.7 329.2A2.5 2.5 0 0 1 1092.3 325.8M1130.2 302.8A2.3 2.3 0 0 1 1126.2 302.1M1299.8 356.1A2.4 2.4 0 0 1 1295.8 358.9M1142.8 259.5A2.1 2.1 0 0 1 1139.6 257.2M1095.9 276.9A2.5 2.5 0 0 1 1090.9 277.4M1124.1 415.1A2.9 2.9 0 0 1 1119.4 418.8M1123.3 372.7A2.5 2.5 0 0 1 1118.5 371.2M1285.6 369.2A2.7 2.7 0 0 1 1281.6 366.6M1278.1 255.6A2.1 2.1 0 0 1 1275.2 258.5M1276.7 416.7A1.9 1.9 0 0 1 1273.1 417.1M1296.5 360.0A2.0 2.0 0 0 1 1296.0 356.1M1158.5 318.4A2.0 2.0 0 0 1 1154.6 319.5M1273.3 351.8A2.8 2.8 0 0 1 1269.8 356.0M1097.0 416.1A2.0 2.0 0 0 1 1094.9 419.4M1264.8 400.8A1.9 1.9 0 0 1 1261.5 400.9M1297.4 289.9A2.5 2.5 0 0 1 1293.2 292.1M1281.8 358.9A1.8 1.8 0 0 1 1278.9 356.9M1275.6 412.4A2.7 2.7 0 0 1 1270.8 414.5M1159.4 332.7A2.7 2.7 0 0 1 1155.7 329.4M1138.7 269.2A3.0 3.0 0 0 1 1133.4 269.6M1108.6 309.8A2.4 2.4 0 0 1 1103.9 308.7M1138.7 260.0A2.1 2.1 0 0 1 1134.7 259.0M1121.9 329.0A2.1 2.1 0 0 1 1122.2 332.8M1105.9 268.8A2.9 2.9 0 0 1 1101.3 265.9M1266.1 387.3A1.8 1.8 0 0 1 1262.9 385.8M1123.2 286.6A2.8 2.8 0 0 1 1122.2 281.2M1306.1 393.5A2.3 2.3 0 0 1 1301.8 393.0M1209.7 328.0A1.9 1.9 0 0 1 1206.0 327.4M1091.5 276.2A2.4 2.4 0 0 1 1087.3 277.3M1261.6 283.8A2.2 2.2 0 0 1 1259.2 287.5M1119.4 327.8A2.2 2.2 0 0 1 1116.1 329.8M1275.8 391.7A2.1 2.1 0 0 1 1272.3 389.4M1110.2 326.6A2.2 2.2 0 0 1 1107.2 329.1M1112.3 417.5A2.2 2.2 0 0 1 1114.0 421.4M1146.4 263.3A2.5 2.5 0 0 1 1141.9 262.8M1304.7 377.5A2.0 2.0 0 0 1 1303.9 373.7M1297.4 310.8A2.3 2.3 0 0 1 1293.1 309.2M1173.2 375.9A2.7 2.7 0 0 1 1174.2 371.3M1229.0 315.9A2.7 2.7 0 0 1 1224.4 318.4M1164.2 354.2A2.7 2.7 0 0 1 1159.5 351.7M1169.6 296.9A2.9 2.9 0 0 1 1165.1 300.2M1248.6 322.8A1.8 1.8 0 0 1 1245.3 323.7M1273.8 263.1A2.0 2.0 0 0 1 1270.9 260.5M1115.4 259.3A2.5 2.5 0 0 1 1110.5 258.6M1303.1 339.9A1.7 1.7 0 0 1 1299.9 340.5M1244.5 337.4A2.8 2.8 0 0 1 1238.9 337.0M1137.8 276.2A2.4 2.4 0 0 1 1137.2 280.7M1157.1 325.2A2.4 2.4 0 0 1 1152.7 325.7M1090.4 400.0A2.2 2.2 0 0 1 1088.0 396.5M1091.2 391.1A2.1 2.1 0 0 1 1087.4 389.4M1267.9 324.1A2.2 2.2 0 0 1 1264.2 322.1M1125.0 306.2A2.6 2.6 0 0 1 1120.0 304.6M1303.7 315.8A2.6 2.6 0 0 1 1299.0 313.7M1167.2 267.7A1.8 1.8 0 0 1 1164.9 265.2M1304.9 260.5A2.8 2.8 0 0 1 1300.4 257.1M1300.9 341.4A3.0 3.0 0 0 1 1305.2 345.4M1290.3 256.6A1.7 1.7 0 0 1 1289.8 260.0M1129.0 308.6A2.4 2.4 0 0 1 1126.2 305.2M1293.6 314.5A2.5 2.5 0 0 1 1289.1 312.6M1285.1 303.8A1.8 1.8 0 0 1 1284.7 300.2M1289.2 335.2A2.5 2.5 0 0 1 1287.9 340.0M1208.5 278.7A2.7 2.7 0 0 1 1207.3 273.9M1129.4 394.9A1.9 1.9 0 0 1 1129.0 391.4M1296.9 411.2A2.8 2.8 0 0 1 1293.1 407.0M1171.2 419.0A3.0 3.0 0 0 1 1165.4 420.2M1275.5 408.8A2.6 2.6 0 0 1 1270.6 410.5M1289.7 339.1A2.7 2.7 0 0 1 1285.8 342.3M1309.3 349.8A2.8 2.8 0 0 1 1305.9 345.4M1119.7 418.2A3.0 3.0 0 0 1 1114.4 416.5M1274.9 408.6A3.0 3.0 0 0 1 1269.1 407.9M1116.8 378.9A2.5 2.5 0 0 1 1114.0 383.0M1116.6 341.5A2.6 2.6 0 0 1 1113.2 337.4M1132.7 324.7A1.8 1.8 0 0 1 1129.3 325.1M1164.7 317.8A2.5 2.5 0 0 1 1168.6 315.8M1173.2 362.6A2.5 2.5 0 0 1 1173.2 357.8M1231.8 385.4A2.0 2.0 0 0 1 1230.4 381.7M1114.0 316.6A2.2 2.2 0 0 1 1115.8 320.5M1123.9 355.3A1.8 1.8 0 0 1 1121.7 352.5M1187.8 361.4A2.5 2.5 0 0 1 1184.2 358.2M1306.9 366.6A2.8 2.8 0 0 1 1302.7 363.1M1192.0 260.1A2.5 2.5 0 0 1 1194.2 255.6M1155.1 299.8A1.8 1.8 0 0 1 1152.2 298.1M1117.4 344.7A2.5 2.5 0 0 1 1112.9 346.2M1274.3 309.5A2.7 2.7 0 0 1 1275.6 304.4M1110.3 368.7A2.3 2.3 0 0 1 1107.2 372.0M1302.1 256.2A2.8 2.8 0 0 1 1303.2 261.8M1111.9 328.5A2.3 2.3 0 0 1 1107.7 328.0M1099.1 340.4A2.9 2.9 0 0 1 1095.0 343.3M1270.0 295.5A1.8 1.8 0 0 1 1267.7 298.2M1280.6 403.3A2.4 2.4 0 0 1 1280.4 398.5M1169.7 288.6A2.0 2.0 0 0 1 1168.4 285.3M1274.1 352.5A1.8 1.8 0 0 1 1271.9 349.8M1280.9 389.2A1.9 1.9 0 0 1 1277.2 388.5M1106.4 307.9A2.7 2.7 0 0 1 1101.5 309.5M1160.8 281.7A1.9 1.9 0 0 1 1157.4 281.8M1092.3 390.9A2.0 2.0 0 0 1 1091.8 394.7M1258.1 343.3A2.4 2.4 0 0 1 1257.7 338.5M1156.4 351.8A2.0 2.0 0 0 1 1152.9 350.0M1300.4 375.3A2.7 2.7 0 0 1 1304.8 372.7M1287.6 311.3A1.8 1.8 0 0 1 1284.1 311.0M1296.0 352.8A2.7 2.7 0 0 1 1295.5 347.5M1261.2 370.5A2.6 2.6 0 0 1 1256.2 372.0M1119.9 377.1A2.5 2.5 0 0 1 1116.0 378.9M1299.8 271.0A2.8 2.8 0 0 1 1295.0 268.6M1285.5 388.4A2.3 2.3 0 0 1 1280.9 388.7M1127.5 375.1A2.2 2.2 0 0 1 1130.2 378.6M1308.1 281.7A2.4 2.4 0 0 1 1303.3 281.2M1294.7 331.8A2.5 2.5 0 0 1 1297.8 328.4M1285.4 352.4A2.7 2.7 0 0 1 1285.6 357.9M1119.5 384.6A2.5 2.5 0 0 1 1114.8 385.2M1125.5 328.8A2.1 2.1 0 0 1 1122.2 331.3M1131.9 419.0A2.3 2.3 0 0 1 1128.8 416.2M1275.7 341.8A1.8 1.8 0 0 1 1276.9 338.4M1202.8 365.8A2.3 2.3 0 0 1 1204.6 361.7M1299.3 353.8A2.1 2.1 0 0 1 1296.6 350.8M1118.9 268.8A2.3 2.3 0 0 1 1114.9 270.9M1138.4 410.7A2.6 2.6 0 0 1 1133.9 408.2M1278.5 264.8A1.7 1.7 0 0 1 1275.9 263.0M1259.5 299.7A2.9 2.9 0 0 1 1254.8 301.8M1158.7 380.5A2.8 2.8 0 0 1 1158.3 386.1M1296.5 357.5A2.9 2.9 0 0 1 1291.8 360.7M1139.8 366.1A2.0 2.0 0 0 1 1137.9 369.3M1089.8 313.7A1.8 1.8 0 0 1 1086.6 313.1M1286.6 291.7A2.2 2.2 0 0 1 1283.8 288.5M1131.0 419.2A2.5 2.5 0 0 1 1132.9 423.7M1175.4 346.3A2.1 2.1 0 0 1 1176.0 342.3M1102.2 327.6A2.9 2.9 0 0 1 1097.0 325.2M1093.4 266.9A2.6 2.6 0 0 1 1088.4 266.5M1096.6 286.5A2.5 2.5 0 0 1 1092.1 284.4M1255.2 320.7A2.8 2.8 0 0 1 1253.4 326.0M1300.7 263.1A2.4 2.4 0 0 1 1296.7 260.3M1279.8 407.0A2.4 2.4 0 0 1 1278.9 411.1M1251.6 289.4A2.9 2.9 0 0 1 1248.7 284.5M1157.4 363.4A2.3 2.3 0 0 1 1157.8 359.3M1273.1 397.4A2.7 2.7 0 0 1 1268.2 397.8M1219.0 407.8A2.3 2.3 0 0 1 1217.9 404.0M1297.2 326.9A2.7 2.7 0 0 1 1292.6 326.2M1272.4 320.2A2.0 2.0 0 0 1 1268.6 319.1M1304.5 272.7A2.4 2.4 0 0 1 1301.7 269.0M1192.9 275.5A2.1 2.1 0 0 1 1189.0 275.1M1131.2 279.9A2.7 2.7 0 0 1 1126.7 278.2M1116.9 305.2A2.5 2.5 0 0 1 1113.4 308.7M1101.2 294.5A2.7 2.7 0 0 1 1095.9 294.9M1132.0 311.5A2.5 2.5 0 0 1 1128.8 315.2M1279.0 326.1A2.8 2.8 0 0 1 1275.7 330.1M1295.9 259.9A2.1 2.1 0 0 1 1292.7 262.6M1264.3 279.8A2.6 2.6 0 0 1 1259.8 277.9M1092.0 381.4A2.2 2.2 0 0 1 1089.4 377.8M1253.4 357.4A2.9 2.9 0 0 1 1248.1 357.1M1155.7 323.8A2.3 2.3 0 0 1 1151.5 323.8M1248.3 279.4A2.2 2.2 0 0 1 1251.3 282.2M1096.8 263.0A2.0 2.0 0 0 1 1095.0 259.5M1099.0 315.6A2.9 2.9 0 0 1 1100.9 321.1M1141.7 298.0A2.9 2.9 0 0 1 1139.8 292.6M1119.8 290.5A2.2 2.2 0 0 1 1119.4 286.3M1293.1 423.7A2.5 2.5 0 0 1 1292.6 419.1M1238.1 351.3A2.5 2.5 0 0 1 1233.7 350.5M1279.0 350.3A3.0 3.0 0 0 1 1274.0 353.5M1152.2 395.1A1.9 1.9 0 0 1 1149.8 398.0M1152.5 382.2A2.3 2.3 0 0 1 1149.9 385.4M1089.1 362.6A1.8 1.8 0 0 1 1086.3 364.9M1130.5 255.9A2.9 2.9 0 0 1 1124.7 256.7M1263.0 289.2A3.0 3.0 0 0 1 1257.5 289.3M1109.0 419.3A2.4 2.4 0 0 1 1106.1 415.6M1124.1 410.4A2.7 2.7 0 0 1 1119.2 411.3M1190.2 347.0A2.6 2.6 0 0 1 1187.0 343.3M1163.2 399.3A2.9 2.9 0 0 1 1157.6 397.8M1132.3 354.3A2.0 2.0 0 0 1 1136.1 355.5M1251.8 344.8A2.0 2.0 0 0 1 1248.5 342.9M1271.2 280.3A1.7 1.7 0 0 1 1270.7 277.2M1116.7 379.1A1.8 1.8 0 0 1 1113.1 378.7M1266.4 355.3A1.8 1.8 0 0 1 1264.7 352.1M1145.1 372.4A2.8 2.8 0 0 1 1139.8 373.1M1230.3 366.7A2.1 2.1 0 0 1 1229.4 362.6M1204.6 277.3A2.7 2.7 0 0 1 1199.9 279.9M1227.3 284.5A2.6 2.6 0 0 1 1222.4 285.7M1096.5 274.0A2.4 2.4 0 0 1 1096.3 269.3M1286.2 286.5A2.0 2.0 0 0 1 1282.6 287.5M1231.7 353.3A2.7 2.7 0 0 1 1226.5 351.9M1095.9 394.1A2.0 2.0 0 0 1 1092.2 392.5M1284.7 318.0A1.8 1.8 0 0 1 1281.8 316.9M1219.4 419.5A3.0 3.0 0 0 1 1214.7 415.8M1102.9 356.4A2.2 2.2 0 0 1 1099.0 358.2M1309.8 298.5A2.3 2.3 0 0 1 1305.5 297.1M1269.6 348.0A2.7 2.7 0 0 1 1266.0 352.0M1179.1 287.1A1.9 1.9 0 0 1 1175.4 288.1M1171.3 321.6A2.2 2.2 0 0 1 1167.4 319.9M1096.4 396.0A2.3 2.3 0 0 1 1092.8 398.6M1268.0 313.0A2.1 2.1 0 0 1 1264.2 312.3M1109.8 363.7A2.6 2.6 0 0 1 1104.8 362.3M1095.1 403.5A1.7 1.7 0 0 1 1091.6 403.6M1089.8 343.4A2.3 2.3 0 0 1 1085.2 343.1M1296.7 310.3A2.7 2.7 0 0 1 1292.2 307.4M1135.1 388.2A2.0 2.0 0 0 1 1131.4 389.0M1203.9 316.6A2.3 2.3 0 0 1 1202.8 312.1M1287.2 330.6A2.9 2.9 0 0 1 1283.4 335.0M1115.5 410.2A1.9 1.9 0 0 1 1114.2 406.5M1150.5 277.4A1.8 1.8 0 0 1 1147.1 278.6M1103.8 341.3A1.8 1.8 0 0 1 1100.3 340.4M1294.9 272.7A2.2 2.2 0 0 1 1291.0 271.7M1292.5 307.9A2.6 2.6 0 0 1 1289.4 304.4M1260.0 363.0A1.7 1.7 0 0 1 1257.3 361.1M1135.9 333.4A2.3 2.3 0 0 1 1131.8 333.3M1114.1 368.5A2.4 2.4 0 0 1 1112.5 364.1M1295.9 305.4A2.9 2.9 0 0 1 1290.4 305.7M1089.8 326.1A2.5 2.5 0 0 1 1086.7 329.2M1177.9 280.3A1.9 1.9 0 0 1 1177.0 283.9M1175.2 345.0A2.5 2.5 0 0 1 1173.0 349.3M1127.3 374.0A2.8 2.8 0 0 1 1122.3 375.8M1129.2 284.1A2.8 2.8 0 0 1 1125.0 288.0M1232.8 344.2A2.1 2.1 0 0 1 1236.9 345.0M1264.9 418.0A2.0 2.0 0 0 1 1261.6 419.5M1127.2 290.1A1.8 1.8 0 0 1 1124.8 287.6M1170.2 335.0A3.0 3.0 0 0 1 1168.7 330.0M1096.3 340.9A2.1 2.1 0 0 1 1097.0 344.7M1125.8 365.0A1.8 1.8 0 0 1 1122.6 363.4M1139.9 290.1A2.8 2.8 0 0 1 1134.4 291.4M1138.4 314.8A2.6 2.6 0 0 1 1133.3 313.5M1270.3 408.8A1.8 1.8 0 0 1 1269.7 412.3M1287.1 404.9A1.8 1.8 0 0 1 1283.7 405.7M1298.1 412.8A2.7 2.7 0 0 1 1300.8 408.4M1165.3 312.1A2.8 2.8 0 0 1 1162.9 307.1M1124.5 272.3A2.0 2.0 0 0 1 1122.9 269.1M1110.9 410.3A2.7 2.7 0 0 1 1112.9 405.6M1140.1 270.9A1.8 1.8 0 0 1 1136.6 269.8M1114.6 413.8A2.8 2.8 0 0 1 1111.2 418.0M1298.5 304.1A2.2 2.2 0 0 1 1296.0 307.8M1090.8 363.9A2.6 2.6 0 0 1 1087.9 368.3M1140.2 306.2A2.7 2.7 0 0 1 1135.7 309.0M1285.6 313.0A2.6 2.6 0 0 1 1282.5 317.1M1099.5 337.8A2.9 2.9 0 0 1 1096.1 342.0M1269.9 367.7A2.9 2.9 0 0 1 1264.3 367.3M1147.1 403.1A2.3 2.3 0 0 1 1145.1 398.9M1108.2 387.6A1.7 1.7 0 0 1 1110.7 385.8M1172.5 377.8A2.9 2.9 0 0 1 1168.4 373.8M1289.8 402.9A2.7 2.7 0 0 1 1286.4 399.5M1106.7 321.5A2.8 2.8 0 0 1 1107.8 316.1M1234.1 281.4A1.9 1.9 0 0 1 1230.6 282.6M1121.6 274.6A1.8 1.8 0 0 1 1118.2 275.0M1286.5 377.9A2.8 2.8 0 0 1 1282.1 381.1M1290.8 329.7A2.4 2.4 0 0 1 1288.3 325.9M1303.7 348.5A2.9 2.9 0 0 1 1306.4 344.1M1109.8 305.0A2.5 2.5 0 0 1 1105.6 303.4M1106.0 286.1A2.4 2.4 0 0 1 1106.8 281.6M1276.6 271.3A1.9 1.9 0 0 1 1273.0 270.1M1110.8 341.1A2.3 2.3 0 0 1 1106.2 341.6M1164.9 422.9A2.2 2.2 0 0 1 1162.4 419.3M1274.7 395.1A1.8 1.8 0 0 1 1273.1 398.3M1147.3 308.3A1.9 1.9 0 0 1 1143.6 308.5M1140.6 259.2A2.0 2.0 0 0 1 1138.0 262.4M1128.8 316.6A2.2 2.2 0 0 1 1126.1 320.1M1273.0 290.6A2.9 2.9 0 0 1 1269.8 285.9M1280.1 358.9A2.3 2.3 0 0 1 1276.9 356.4M1156.3 421.7A2.0 2.0 0 0 1 1154.0 418.8M1309.6 348.2A2.9 2.9 0 0 1 1304.0 348.2M1295.4 307.0A2.2 2.2 0 0 1 1292.0 304.3M1133.8 348.2A2.4 2.4 0 0 1 1129.7 346.1M1181.3 288.7A2.7 2.7 0 0 1 1177.5 292.3M1245.4 308.1A2.7 2.7 0 0 1 1240.6 309.5M1296.7 355.9A2.0 2.0 0 0 1 1292.7 356.5M1139.8 311.6A1.9 1.9 0 0 1 1137.3 308.9M1310.0 408.0A2.1 2.1 0 0 1 1306.1 406.8M1264.7 373.2A1.9 1.9 0 0 1 1262.3 375.9M1303.4 257.0A2.2 2.2 0 0 1 1299.0 256.0M1119.9 407.0A2.1 2.1 0 0 1 1119.8 411.0M1157.7 322.3A3.0 3.0 0 0 1 1157.5 317.0M1306.8 370.0A2.2 2.2 0 0 1 1302.7 368.6M1296.6 306.2A1.9 1.9 0 0 1 1293.3 305.5M1266.3 317.9A1.7 1.7 0 0 1 1265.6 320.8M1107.4 333.7A2.4 2.4 0 0 1 1105.4 337.9M1090.4 329.0A2.9 2.9 0 0 1 1087.2 325.0M1174.7 399.3A1.9 1.9 0 0 1 1172.2 396.9M1255.4 278.3A2.4 2.4 0 0 1 1254.5 273.8M1105.0 279.4A3.0 3.0 0 0 1 1103.9 284.6M1304.2 267.5A1.9 1.9 0 0 1 1302.2 264.8M1297.3 392.0A2.5 2.5 0 0 1 1296.4 387.1M1304.2 364.2A2.4 2.4 0 0 1 1305.1 368.8M1266.1 410.0A2.8 2.8 0 0 1 1260.8 411.1M1302.7 310.5A1.9 1.9 0 0 1 1298.9 310.3M1154.9 331.0A1.9 1.9 0 0 1 1151.3 330.6M1091.1 360.7A2.8 2.8 0 0 1 1087.8 356.3M1295.6 289.8A2.9 2.9 0 0 1 1291.4 286.2M1146.7 296.9A1.7 1.7 0 0 1 1146.0 293.7M1121.6 416.5A2.3 2.3 0 0 1 1119.2 412.5M1281.7 260.9A2.3 2.3 0 0 1 1277.9 258.7M1199.1 383.0A3.0 3.0 0 0 1 1200.9 377.7M1178.7 401.9A2.0 2.0 0 0 1 1175.3 402.7M1136.5 357.3A2.1 2.1 0 0 1 1133.8 354.1M1284.2 345.4A2.3 2.3 0 0 1 1280.5 347.2M1137.2 291.0A1.9 1.9 0 0 1 1133.5 290.5M1110.6 262.8A1.7 1.7 0 0 1 1110.1 266.1M1138.4 339.2A2.0 2.0 0 0 1 1135.0 337.9M1284.3 371.5A2.6 2.6 0 0 1 1281.8 376.0M1243.2 270.2A2.2 2.2 0 0 1 1242.9 266.1M1306.2 356.9A1.8 1.8 0 0 1 1303.4 359.1M1300.1 383.8A2.5 2.5 0 0 1 1296.6 386.4M1089.3 268.7A1.8 1.8 0 0 1 1086.8 266.3M1310.2 360.4A2.8 2.8 0 0 1 1305.3 357.7M1104.8 415.0A2.2 2.2 0 0 1 1106.6 411.5M1287.0 328.7A2.8 2.8 0 0 1 1283.8 324.5M1112.0 327.7A2.3 2.3 0 0 1 1108.1 325.4M1139.3 305.2A2.0 2.0 0 0 1 1135.9 307.2M1145.8 292.1A2.1 2.1 0 0 1 1141.9 290.7M1104.5 350.3A2.5 2.5 0 0 1 1105.5 354.9M1300.0 354.9A2.4 2.4 0 0 1 1299.0 350.7M1111.7 257.7A1.9 1.9 0 0 1 1109.0 255.3M1109.3 356.2A2.9 2.9 0 0 1 1107.2 351.0M1282.4 357.0A2.2 2.2 0 0 1 1283.3 352.8M1140.2 350.9A2.1 2.1 0 0 1 1137.9 347.5M1301.3 365.5A2.0 2.0 0 0 1 1298.4 362.9M1141.6 409.2A1.8 1.8 0 0 1 1138.5 408.1M1116.9 406.1A1.8 1.8 0 0 1 1118.2 403.0M1144.0 279.5A2.6 2.6 0 0 1 1142.7 274.6M1232.2 397.1A1.9 1.9 0 0 1 1229.9 394.0M1107.1 286.4A1.9 1.9 0 0 1 1103.6 287.2M1229.2 336.3A2.1 2.1 0 0 1 1227.8 339.9M1140.2 346.8A3.0 3.0 0 0 1 1137.0 351.8M1287.9 383.1A1.7 1.7 0 0 1 1285.7 380.5M1128.8 412.0A2.1 2.1 0 0 1 1125.4 413.8M1168.8 376.7A2.0 2.0 0 0 1 1169.5 373.2M1096.2 386.9A2.3 2.3 0 0 1 1096.2 391.5M1250.4 257.2A2.4 2.4 0 0 1 1247.9 261.0M1263.8 359.3A2.2 2.2 0 0 1 1260.6 356.6M1275.5 279.8A2.7 2.7 0 0 1 1270.4 278.7M1148.6 340.3A2.5 2.5 0 0 1 1144.5 337.5M1303.7 276.8A2.6 2.6 0 0 1 1301.9 271.8M1298.9 318.9A2.9 2.9 0 0 1 1297.5 313.6M1111.5 354.9A2.8 2.8 0 0 1 1106.3 356.8M1095.6 393.3A2.7 2.7 0 0 1 1090.5 392.0M1120.0 292.4A2.6 2.6 0 0 1 1115.2 292.4M1141.8 343.9A1.9 1.9 0 0 1 1138.6 341.8M1241.5 277.1A2.8 2.8 0 0 1 1236.7 274.1M1308.4 407.5A2.7 2.7 0 0 1 1307.0 402.4M1115.0 261.7A2.5 2.5 0 0 1 1110.3 263.0M1271.2 412.5A2.0 2.0 0 0 1 1274.8 413.8M1164.9 324.6A2.9 2.9 0 0 1 1159.6 324.0M1309.2 302.4A2.1 2.1 0 0 1 1305.2 302.4M1095.1 417.5A2.1 2.1 0 0 1 1093.1 413.9M1297.2 367.2A2.3 2.3 0 0 1 1293.8 364.3M1139.0 392.3A1.8 1.8 0 0 1 1135.4 392.1M1139.6 418.2A2.7 2.7 0 0 1 1137.0 413.6M1122.7 392.3A2.3 2.3 0 0 1 1119.1 394.8M1096.3 272.4A2.1 2.1 0 0 1 1093.4 269.5M1310.0 411.1A1.7 1.7 0 0 1 1307.1 412.6M1304.0 298.1A1.8 1.8 0 0 1 1300.7 299.0M1305.8 411.9A2.8 2.8 0 0 1 1300.2 412.0M1109.9 294.6A2.9 2.9 0 0 1 1104.3 294.3M1221.7 258.7A1.8 1.8 0 0 1 1219.0 260.6M1125.3 307.5A2.8 2.8 0 0 1 1120.5 304.9M1163.4 328.3A2.7 2.7 0 0 1 1165.3 333.4M1188.8 309.9A2.7 2.7 0 0 1 1183.5 309.7M1296.9 389.6A1.9 1.9 0 0 1 1295.9 386.1M1164.9 316.5A2.0 2.0 0 0 1 1161.6 315.5M1272.0 294.3A2.9 2.9 0 0 1 1266.8 292.5M1120.5 410.3A1.9 1.9 0 0 1 1120.5 406.5M1309.0 303.4A2.7 2.7 0 0 1 1303.7 304.1M1089.4 314.7A1.9 1.9 0 0 1 1093.0 314.0M1291.3 417.3A2.5 2.5 0 0 1 1286.9 416.2M1272.9 365.4A2.4 2.4 0 0 1 1269.3 362.5M1086.4 417.7A2.8 2.8 0 0 1 1091.8 418.4M1296.3 420.6A2.1 2.1 0 0 1 1292.3 421.2M1266.3 396.7A2.7 2.7 0 0 1 1264.4 391.5M1295.3 401.9A1.9 1.9 0 0 1 1297.1 405.3M1090.5 323.9A2.8 2.8 0 0 1 1089.9 329.5M1280.8 354.4A2.9 2.9 0 0 1 1278.8 359.8M1242.6 381.0A1.9 1.9 0 0 1 1239.0 379.9M1251.8 286.3A2.3 2.3 0 0 1 1252.5 281.8M1138.9 375.1A2.5 2.5 0 0 1 1137.6 370.8M1284.1 303.0A2.9 2.9 0 0 1 1280.8 307.1M1090.4 336.7A3.0 3.0 0 0 1 1089.7 342.7M1302.8 313.0A2.6 2.6 0 0 1 1298.6 315.3" stroke="#ececec" stroke-width="1.6" opacity="0.5"/>
<g fill="#fff" stroke="none"><circle cx="1161.1" cy="346.7" r="1.3" opacity="0.71"/><circle cx="1299.0" cy="402.7" r="1.6" opacity="0.88"/><circle cx="1119.6" cy="261.6" r="1.6" opacity="0.63"/><circle cx="1240.7" cy="341.5" r="1.6" opacity="0.86"/><circle cx="1093.7" cy="388.5" r="1.5" opacity="0.70"/><circle cx="1291.2" cy="412.5" r="1.8" opacity="0.62"/><circle cx="1100.5" cy="338.2" r="1.8" opacity="0.72"/><circle cx="1189.5" cy="294.9" r="1.9" opacity="0.56"/><circle cx="1186.8" cy="306.1" r="1.5" opacity="0.58"/><circle cx="1092.1" cy="324.8" r="1.7" opacity="0.57"/><circle cx="1282.9" cy="410.6" r="1.9" opacity="0.88"/><circle cx="1136.0" cy="304.0" r="1.3" opacity="0.52"/><circle cx="1104.7" cy="278.6" r="1.5" opacity="0.53"/><circle cx="1135.0" cy="271.0" r="1.8" opacity="0.81"/><circle cx="1143.8" cy="417.6" r="1.8" opacity="0.90"/><circle cx="1148.2" cy="264.1" r="1.5" opacity="0.71"/><circle cx="1108.7" cy="351.8" r="1.2" opacity="0.82"/><circle cx="1132.2" cy="333.7" r="1.3" opacity="0.73"/><circle cx="1087.7" cy="352.3" r="1.3" opacity="0.93"/><circle cx="1306.3" cy="397.8" r="1.7" opacity="0.55"/><circle cx="1100.0" cy="417.7" r="1.4" opacity="0.52"/><circle cx="1130.0" cy="302.7" r="1.4" opacity="0.52"/><circle cx="1294.5" cy="354.6" r="1.7" opacity="0.59"/><circle cx="1218.5" cy="262.5" r="1.3" opacity="0.75"/><circle cx="1125.1" cy="266.7" r="1.6" opacity="0.66"/><circle cx="1308.7" cy="417.3" r="1.3" opacity="0.55"/><circle cx="1255.0" cy="392.7" r="1.4" opacity="0.87"/><circle cx="1120.8" cy="324.7" r="1.3" opacity="0.55"/><circle cx="1110.8" cy="404.0" r="1.3" opacity="0.69"/><circle cx="1166.9" cy="303.3" r="1.4" opacity="0.85"/><circle cx="1275.6" cy="269.2" r="1.6" opacity="0.88"/><circle cx="1099.2" cy="269.3" r="1.7" opacity="0.68"/><circle cx="1177.7" cy="349.4" r="1.3" opacity="0.79"/><circle cx="1295.5" cy="269.1" r="1.4" opacity="0.81"/><circle cx="1196.0" cy="284.1" r="1.3" opacity="0.76"/><circle cx="1156.3" cy="283.4" r="1.7" opacity="0.69"/><circle cx="1112.3" cy="380.3" r="1.8" opacity="0.91"/><circle cx="1254.2" cy="391.1" r="1.4" opacity="0.89"/><circle cx="1112.1" cy="362.7" r="1.3" opacity="0.62"/><circle cx="1139.8" cy="337.8" r="1.5" opacity="0.79"/></g>
</g>
</g>
<rect x="1284.9" y="406.7" width="20.1" height="5.8" fill="#000"/>
<rect x="1286.4" y="412.5" width="18.6" height="1.5" fill="#e8e800"/>
</g>
<g id="panel-labels">
<text transform="matrix(1.7895 0 0 1.8116 10.00 59.60)">A</text>
<text transform="matrix(1.8346 0 0 1.7606 812.17 59.65)">C</text>
<text transform="matrix(1.7431 0 0 1.7754 1355.31 59.60)">E</text>
<text transform="matrix(1.8318 0 0 1.7754 7.07 611.80)">B</text>
<text transform="matrix(1.7899 0 0 1.7246 747.64 612.30)">D</text>
<text transform="matrix(1.6633 0 0 1.7246 1356.84 611.10)">F</text>
<text transform="matrix(0 -1.2461 1.2620 0 36.30 202.92)">OGD(-)</text>
<text transform="matrix(0 -1.2646 1.2620 0 36.30 379.04)">OGD(+)</text>
<text transform="matrix(0 -1.2461 1.2941 0 834.76 202.92)">OGD(-)</text>
<text transform="matrix(0 -1.2646 1.2941 0 834.76 379.04)">OGD(+)</text>
<text transform="matrix(1.2504 0 0 1.2966 106.00 456.80)">control</text>
<text transform="matrix(1.3168 0 0 1.3429 357.10 460.60)">APC</text>
<text transform="matrix(1.2464 0 0 1.3310 570.70 461.80)">Thrombin</text>
<text transform="matrix(1.2470 0 0 1.2966 913.00 460.10)">control</text>
<text transform="matrix(1.3218 0 0 1.3429 1162.10 461.80)">APC</text>
<text transform="matrix(1.2764 0 0 1.2857 646.19 389.60)">100 µm</text>
<text transform="matrix(1.2640 0 0 1.2857 1212.10 396.40)">100 µm</text>
</g>
<g id="charts">
<rect x="130.3" y="855" width="29.1" height="164.8" fill="#000"/>
<line x1="144.85" y1="836.2" x2="144.85" y2="856" stroke="#444" stroke-width="1.3"/>
<line x1="139.45" y1="836.2" x2="150.25" y2="836.2" stroke="#444" stroke-width="1.3"/>
<rect x="223.6" y="744.4" width="30" height="275.4" fill="#000"/>
<line x1="238.6" y1="733.9" x2="238.6" y2="745.4" stroke="#444" stroke-width="1.3"/>
<line x1="233.2" y1="733.9" x2="244" y2="733.9" stroke="#444" stroke-width="1.3"/>
<rect x="317" y="757" width="29.4" height="262.8" fill="#000"/>
<line x1="331.7" y1="745.2" x2="331.7" y2="758" stroke="#444" stroke-width="1.3"/>
<line x1="326.3" y1="745.2" x2="337.1" y2="745.2" stroke="#444" stroke-width="1.3"/>
<rect x="410.3" y="773.5" width="30.1" height="246.3" fill="#000"/>
<line x1="425.35" y1="762.7" x2="425.35" y2="774.5" stroke="#444" stroke-width="1.3"/>
<line x1="419.95" y1="762.7" x2="430.75" y2="762.7" stroke="#444" stroke-width="1.3"/>
<rect x="504.7" y="695" width="28.6" height="324.8" fill="#000"/>
<line x1="519" y1="678" x2="519" y2="696" stroke="#444" stroke-width="1.3"/>
<line x1="513.6" y1="678" x2="524.4" y2="678" stroke="#444" stroke-width="1.3"/>
<rect x="598.9" y="698.3" width="28.6" height="321.5" fill="#000"/>
<line x1="613.2" y1="683" x2="613.2" y2="699.3" stroke="#444" stroke-width="1.3"/>
<line x1="607.8" y1="683" x2="618.6" y2="683" stroke="#444" stroke-width="1.3"/>
<line x1="98" y1="608.5" x2="98" y2="1020.2" stroke="#000" stroke-width="1.8"/>
<line x1="97.3" y1="1019.5" x2="674.1" y2="1019.5" stroke="#000" stroke-width="1.8"/>
<line x1="89.3" y1="609.3" x2="98" y2="609.3" stroke="#000" stroke-width="1.8"/>
<line x1="89.3" y1="692.1" x2="98" y2="692.1" stroke="#000" stroke-width="1.8"/>
<line x1="89.3" y1="773.5" x2="98" y2="773.5" stroke="#000" stroke-width="1.8"/>
<line x1="89.3" y1="855" x2="98" y2="855" stroke="#000" stroke-width="1.8"/>
<line x1="89.3" y1="936.6" x2="98" y2="936.6" stroke="#000" stroke-width="1.8"/>
<line x1="89.3" y1="1017.8" x2="98" y2="1017.8" stroke="#000" stroke-width="1.8"/>
<text transform="matrix(1.2700 0 0 1.3600 46.19 618.08)">2.5</text>
<text transform="matrix(1.2700 0 0 1.3600 67.37 699.52)">2</text>
<text transform="matrix(1.2700 0 0 1.3600 46.19 780.75)">1.5</text>
<text transform="matrix(1.2700 0 0 1.3600 67.37 862.28)">1</text>
<text transform="matrix(1.2700 0 0 1.3600 46.19 943.88)">0.5</text>
<text transform="matrix(1.2700 0 0 1.3600 67.37 1025.28)">0</text>
<text transform="matrix(0 -1.2698 1.2966 0 27.70 921.55)">relative tube length</text>
<text transform="matrix(1.3193 0 0 1.3071 1.30 1071.80)">APC</text>
<text transform="matrix(1.2500 0 0 1.3034 0.80 1111.90)">Thrombin</text>
<text transform="matrix(1.2494 0 0 1.3429 1.38 1153.20)">OGD</text>
<text stroke="#000" stroke-width="0.2" transform="matrix(1.7500 0 0 1.7500 135.14 1071.68)">-</text>
<text stroke="#000" stroke-width="0.2" transform="matrix(1.6275 0 0 1.6275 232.88 1072.40)">+</text>
<text stroke="#000" stroke-width="0.2" transform="matrix(1.7500 0 0 1.7500 328.34 1071.68)">-</text>
<text stroke="#000" stroke-width="0.2" transform="matrix(1.7500 0 0 1.7500 418.54 1071.68)">-</text>
<text stroke="#000" stroke-width="0.2" transform="matrix(1.6275 0 0 1.6275 506.28 1072.40)">+</text>
<text stroke="#000" stroke-width="0.2" transform="matrix(1.7500 0 0 1.7500 611.44 1071.68)">-</text>
<text stroke="#000" stroke-width="0.2" transform="matrix(1.7500 0 0 1.7500 137.24 1111.48)">-</text>
<text stroke="#000" stroke-width="0.2" transform="matrix(1.7500 0 0 1.7500 234.14 1111.48)">-</text>
<text stroke="#000" stroke-width="0.2" transform="matrix(1.6275 0 0 1.6275 324.08 1112.20)">+</text>
<text stroke="#000" stroke-width="0.2" transform="matrix(1.7500 0 0 1.7500 419.74 1111.48)">-</text>
<text stroke="#000" stroke-width="0.2" transform="matrix(1.7500 0 0 1.7500 507.34 1111.48)">-</text>
<text stroke="#000" stroke-width="0.2" transform="matrix(1.6275 0 0 1.6275 605.08 1112.20)">+</text>
<text stroke="#000" stroke-width="0.2" transform="matrix(1.7500 0 0 1.7500 134.14 1152.38)">-</text>
<text stroke="#000" stroke-width="0.2" transform="matrix(1.7500 0 0 1.7500 231.64 1152.38)">-</text>
<text stroke="#000" stroke-width="0.2" transform="matrix(1.7500 0 0 1.7500 328.34 1152.38)">-</text>
<text stroke="#000" stroke-width="0.2" transform="matrix(1.6275 0 0 1.6275 416.88 1153.10)">+</text>
<text stroke="#000" stroke-width="0.2" transform="matrix(1.6275 0 0 1.6275 514.08 1153.10)">+</text>
<text stroke="#000" stroke-width="0.2" transform="matrix(1.6275 0 0 1.6275 610.28 1153.10)">+</text>
<text stroke="#000" stroke-width="0.3" transform="matrix(1.1944 0 0 1.1944 235.04 693.00)">*</text>
<text stroke="#000" stroke-width="0.3" transform="matrix(1.1944 0 0 1.1944 327.64 693.00)">*</text>
<text stroke="#000" stroke-width="0.3" transform="matrix(1.1944 0 0 1.1944 420.44 693.00)">*</text>
<text stroke="#000" stroke-width="0.3" transform="matrix(1.1944 0 0 1.1944 514.84 639.70)">*</text>
<text stroke="#000" stroke-width="0.3" transform="matrix(1.1944 0 0 1.1944 607.64 638.50)">*</text>
<rect x="868.4" y="866.3" width="23.5" height="148.5" fill="#000"/>
<line x1="880.15" y1="861.2" x2="880.15" y2="867.3" stroke="#444" stroke-width="1.3"/>
<line x1="874.75" y1="861.2" x2="885.55" y2="861.2" stroke="#444" stroke-width="1.3"/>
<rect x="946.3" y="832.1" width="23.6" height="182.7" fill="#000"/>
<line x1="958.1" y1="824.9" x2="958.1" y2="833.1" stroke="#444" stroke-width="1.3"/>
<line x1="952.7" y1="824.9" x2="963.5" y2="824.9" stroke="#444" stroke-width="1.3"/>
<rect x="1025" y="811.6" width="23.3" height="203.2" fill="#000"/>
<line x1="1036.65" y1="800.8" x2="1036.65" y2="812.6" stroke="#444" stroke-width="1.3"/>
<line x1="1031.25" y1="800.8" x2="1042.05" y2="800.8" stroke="#444" stroke-width="1.3"/>
<rect x="1101.5" y="830.9" width="25.2" height="183.9" fill="#000"/>
<line x1="1114.1" y1="823.4" x2="1114.1" y2="831.9" stroke="#444" stroke-width="1.3"/>
<line x1="1108.7" y1="823.4" x2="1119.5" y2="823.4" stroke="#444" stroke-width="1.3"/>
<rect x="1179.7" y="797.3" width="25.3" height="217.5" fill="#000"/>
<line x1="1192.35" y1="788.3" x2="1192.35" y2="798.3" stroke="#444" stroke-width="1.3"/>
<line x1="1186.95" y1="788.3" x2="1197.75" y2="788.3" stroke="#444" stroke-width="1.3"/>
<rect x="1258" y="725.6" width="23.8" height="289.2" fill="#000"/>
<line x1="1269.9" y1="711.6" x2="1269.9" y2="726.6" stroke="#444" stroke-width="1.3"/>
<line x1="1264.5" y1="711.6" x2="1275.3" y2="711.6" stroke="#444" stroke-width="1.3"/>
<line x1="841.6" y1="643.9" x2="841.6" y2="1015.2" stroke="#000" stroke-width="1.8"/>
<line x1="840.9" y1="1014.5" x2="1299.4" y2="1013.7" stroke="#000" stroke-width="1.8"/>
<line x1="833.1" y1="644.7" x2="841.6" y2="644.7" stroke="#000" stroke-width="1.8"/>
<line x1="833.1" y1="719.2" x2="841.6" y2="719.2" stroke="#000" stroke-width="1.8"/>
<line x1="833.1" y1="793" x2="841.6" y2="793" stroke="#000" stroke-width="1.8"/>
<line x1="833.1" y1="866.3" x2="841.6" y2="866.3" stroke="#000" stroke-width="1.8"/>
<line x1="833.1" y1="939.6" x2="841.6" y2="939.6" stroke="#000" stroke-width="1.8"/>
<line x1="833.1" y1="1013.2" x2="841.6" y2="1013.2" stroke="#000" stroke-width="1.8"/>
<text transform="matrix(1.2700 0 0 1.3600 787.99 651.58)">2.5</text>
<text transform="matrix(1.2700 0 0 1.3600 810.87 726.82)">2</text>
<text transform="matrix(1.2700 0 0 1.3600 787.99 799.95)">1.5</text>
<text transform="matrix(1.2700 0 0 1.3600 811.17 873.58)">1</text>
<text transform="matrix(1.2700 0 0 1.3600 787.99 947.18)">0.5</text>
<text transform="matrix(1.2700 0 0 1.3600 811.07 1020.68)">0</text>
<text transform="matrix(0 -1.2651 1.3379 0 772.70 978.04)">relative migration distance</text>
<text transform="matrix(1.3342 0 0 1.3286 730.50 1056.00)">APC</text>
<text transform="matrix(1.2500 0 0 1.2966 730.00 1095.60)">Thrombin</text>
<text transform="matrix(1.2609 0 0 1.3786 730.67 1137.40)">OGD</text>
<text stroke="#000" stroke-width="0.2" transform="matrix(1.7500 0 0 1.7500 874.54 1055.68)">-</text>
<text stroke="#000" stroke-width="0.2" transform="matrix(1.6275 0 0 1.6275 952.98 1056.40)">+</text>
<text stroke="#000" stroke-width="0.2" transform="matrix(1.7500 0 0 1.7500 1038.84 1055.68)">-</text>
<text stroke="#000" stroke-width="0.2" transform="matrix(1.7500 0 0 1.7500 1109.34 1055.68)">-</text>
<text stroke="#000" stroke-width="0.2" transform="matrix(1.6275 0 0 1.6275 1187.78 1056.40)">+</text>
<text stroke="#000" stroke-width="0.2" transform="matrix(1.7500 0 0 1.7500 1264.34 1055.68)">-</text>
<text stroke="#000" stroke-width="0.2" transform="matrix(1.7500 0 0 1.7500 875.84 1095.28)">-</text>
<text stroke="#000" stroke-width="0.2" transform="matrix(1.7500 0 0 1.7500 954.14 1095.28)">-</text>
<text stroke="#000" stroke-width="0.2" transform="matrix(1.6275 0 0 1.6275 1034.48 1096.00)">+</text>
<text stroke="#000" stroke-width="0.2" transform="matrix(1.7500 0 0 1.7500 1110.74 1095.28)">-</text>
<text stroke="#000" stroke-width="0.2" transform="matrix(1.7500 0 0 1.7500 1189.14 1095.28)">-</text>
<text stroke="#000" stroke-width="0.2" transform="matrix(1.6275 0 0 1.6275 1258.68 1096.00)">+</text>
<text stroke="#000" stroke-width="0.2" transform="matrix(1.7500 0 0 1.7500 872.94 1137.08)">-</text>
<text stroke="#000" stroke-width="0.2" transform="matrix(1.7500 0 0 1.7500 960.44 1137.08)">-</text>
<text stroke="#000" stroke-width="0.2" transform="matrix(1.7500 0 0 1.7500 1038.84 1137.08)">-</text>
<text stroke="#000" stroke-width="0.2" transform="matrix(1.6275 0 0 1.6275 1107.58 1137.80)">+</text>
<text stroke="#000" stroke-width="0.2" transform="matrix(1.6275 0 0 1.6275 1186.08 1137.80)">+</text>
<text stroke="#000" stroke-width="0.2" transform="matrix(1.6275 0 0 1.6275 1262.88 1137.80)">+</text>
<text stroke="#000" stroke-width="0.3" transform="matrix(1.1944 0 0 1.1944 953.24 767.60)">*</text>
<text stroke="#000" stroke-width="0.3" transform="matrix(1.1944 0 0 1.1944 1031.94 769.60)">*</text>
<text stroke="#000" stroke-width="0.3" transform="matrix(1.1944 0 0 1.1944 1109.84 767.60)">*</text>
<text stroke="#000" stroke-width="0.3" transform="matrix(1.1944 0 0 1.1944 1186.84 767.60)">*</text>
<text stroke="#000" stroke-width="0.3" transform="matrix(1.1944 0 0 1.1944 1264.94 668.60)">*</text>
<rect x="1480" y="776.5" width="28.6" height="245" fill="#000"/>
<line x1="1494.3" y1="757.7" x2="1494.3" y2="777.5" stroke="#444" stroke-width="1.3"/>
<line x1="1488.9" y1="757.7" x2="1499.7" y2="757.7" stroke="#444" stroke-width="1.3"/>
<rect x="1569.4" y="827.4" width="28.7" height="194.1" fill="#000"/>
<line x1="1583.75" y1="819.9" x2="1583.75" y2="828.4" stroke="#444" stroke-width="1.3"/>
<line x1="1578.35" y1="819.9" x2="1589.15" y2="819.9" stroke="#444" stroke-width="1.3"/>
<rect x="1660.4" y="672.5" width="28.6" height="349" fill="#000"/>
<line x1="1674.7" y1="652.2" x2="1674.7" y2="673.5" stroke="#444" stroke-width="1.3"/>
<line x1="1669.3" y1="652.2" x2="1680.1" y2="652.2" stroke="#444" stroke-width="1.3"/>
<rect x="1749.9" y="704.6" width="28.8" height="316.9" fill="#000"/>
<line x1="1764.3" y1="683" x2="1764.3" y2="705.6" stroke="#444" stroke-width="1.3"/>
<line x1="1758.9" y1="683" x2="1769.7" y2="683" stroke="#444" stroke-width="1.3"/>
<rect x="1841.1" y="794" width="28.6" height="227.5" fill="#000"/>
<line x1="1855.4" y1="786.5" x2="1855.4" y2="795" stroke="#444" stroke-width="1.3"/>
<line x1="1850" y1="786.5" x2="1860.8" y2="786.5" stroke="#444" stroke-width="1.3"/>
<rect x="1930.6" y="682.3" width="28.6" height="339.2" fill="#000"/>
<line x1="1944.9" y1="671.5" x2="1944.9" y2="683.3" stroke="#444" stroke-width="1.3"/>
<line x1="1939.5" y1="671.5" x2="1950.3" y2="671.5" stroke="#444" stroke-width="1.3"/>
<line x1="1448.9" y1="630.6" x2="1448.9" y2="1021.9" stroke="#000" stroke-width="1.8"/>
<line x1="1448.2" y1="1021.2" x2="1993.7" y2="1020.2" stroke="#000" stroke-width="1.8"/>
<line x1="1440.2" y1="631.4" x2="1448.9" y2="631.4" stroke="#000" stroke-width="1.8"/>
<line x1="1440.2" y1="679.4" x2="1448.9" y2="679.4" stroke="#000" stroke-width="1.8"/>
<line x1="1440.2" y1="727.4" x2="1448.9" y2="727.4" stroke="#000" stroke-width="1.8"/>
<line x1="1440.2" y1="776.8" x2="1448.9" y2="776.8" stroke="#000" stroke-width="1.8"/>
<line x1="1440.2" y1="825.4" x2="1448.9" y2="825.4" stroke="#000" stroke-width="1.8"/>
<line x1="1440.2" y1="874.4" x2="1448.9" y2="874.4" stroke="#000" stroke-width="1.8"/>
<line x1="1440.2" y1="922.4" x2="1448.9" y2="922.4" stroke="#000" stroke-width="1.8"/>
<line x1="1440.2" y1="971.8" x2="1448.9" y2="971.8" stroke="#000" stroke-width="1.8"/>
<line x1="1440.2" y1="1020.1" x2="1448.9" y2="1020.1" stroke="#000" stroke-width="1.8"/>
<text transform="matrix(1.2700 0 0 1.3600 1397.09 638.78)">1.6</text>
<text transform="matrix(1.2700 0 0 1.3600 1397.09 687.08)">1.4</text>
<text transform="matrix(1.2700 0 0 1.3600 1397.09 735.82)">1.2</text>
<text transform="matrix(1.2700 0 0 1.3600 1418.27 784.08)">1</text>
<text transform="matrix(1.2700 0 0 1.3600 1397.09 832.68)">0.8</text>
<text transform="matrix(1.2700 0 0 1.3600 1397.09 881.88)">0.6</text>
<text transform="matrix(1.2700 0 0 1.3600 1397.09 929.68)">0.4</text>
<text transform="matrix(1.2700 0 0 1.3600 1397.09 978.88)">0.2</text>
<text transform="matrix(1.2700 0 0 1.3600 1418.27 1026.68)">0</text>
<text transform="matrix(0 -1.2757 1.2828 0 1379.70 968.06)">relative permeability ratio</text>
<text transform="matrix(1.3317 0 0 1.3429 1350.60 1059.20)">APC</text>
<text transform="matrix(1.2500 0 0 1.2966 1350.10 1098.80)">Thrombin</text>
<text transform="matrix(1.2609 0 0 1.3429 1350.67 1140.20)">OGD</text>
<text stroke="#000" stroke-width="0.2" transform="matrix(1.7500 0 0 1.7500 1494.14 1059.38)">-</text>
<text stroke="#000" stroke-width="0.2" transform="matrix(1.6275 0 0 1.6275 1582.48 1060.10)">+</text>
<text stroke="#000" stroke-width="0.2" transform="matrix(1.7500 0 0 1.7500 1667.94 1059.38)">-</text>
<text stroke="#000" stroke-width="0.2" transform="matrix(1.7500 0 0 1.7500 1767.34 1059.38)">-</text>
<text stroke="#000" stroke-width="0.2" transform="matrix(1.6275 0 0 1.6275 1845.98 1060.10)">+</text>
<text stroke="#000" stroke-width="0.2" transform="matrix(1.7500 0 0 1.7500 1941.54 1059.38)">-</text>
<text stroke="#000" stroke-width="0.2" transform="matrix(1.7500 0 0 1.7500 1486.14 1098.48)">-</text>
<text stroke="#000" stroke-width="0.2" transform="matrix(1.7500 0 0 1.7500 1583.54 1098.48)">-</text>
<text stroke="#000" stroke-width="0.2" transform="matrix(1.6275 0 0 1.6275 1663.98 1099.20)">+</text>
<text stroke="#000" stroke-width="0.2" transform="matrix(1.7500 0 0 1.7500 1768.74 1098.48)">-</text>
<text stroke="#000" stroke-width="0.2" transform="matrix(1.7500 0 0 1.7500 1847.14 1098.48)">-</text>
<text stroke="#000" stroke-width="0.2" transform="matrix(1.6275 0 0 1.6275 1935.38 1099.20)">+</text>
<text stroke="#000" stroke-width="0.2" transform="matrix(1.7500 0 0 1.7500 1492.44 1139.88)">-</text>
<text stroke="#000" stroke-width="0.2" transform="matrix(1.7500 0 0 1.7500 1580.74 1139.88)">-</text>
<text stroke="#000" stroke-width="0.2" transform="matrix(1.7500 0 0 1.7500 1667.94 1139.88)">-</text>
<text stroke="#000" stroke-width="0.2" transform="matrix(1.6275 0 0 1.6275 1766.08 1140.60)">+</text>
<text stroke="#000" stroke-width="0.2" transform="matrix(1.6275 0 0 1.6275 1844.28 1140.60)">+</text>
<text stroke="#000" stroke-width="0.2" transform="matrix(1.6275 0 0 1.6275 1940.08 1140.60)">+</text>
<line x1="1493.6" y1="594.4" x2="1493.6" y2="736.9" stroke="#000" stroke-width="4.5"/>
<polyline points="1491.4,596.6 1754.4,596.6 1753.9,678.8" fill="none" stroke="#000" stroke-width="4.5" stroke-linejoin="round"/>
<polyline points="1493.6,623.6 1673.9,623.6 1673.7,644.9" fill="none" stroke="#000" stroke-width="4.5" stroke-linejoin="round"/>
<polyline points="1493.6,705.6 1586,705.6 1586.4,787.8" fill="none" stroke="#000" stroke-width="4.5" stroke-linejoin="round"/>
<polyline points="1774.2,677 1774.6,595.1 1851.4,595.1 1851.4,768.5" fill="none" stroke="#000" stroke-width="4.5" stroke-linejoin="round"/>
<text stroke="#000" stroke-width="0.3" transform="matrix(1.1944 0 0 1.1944 1584.24 594.00)">*</text>
<text stroke="#000" stroke-width="0.3" transform="matrix(1.1944 0 0 1.1944 1585.44 626.00)">*</text>
<text stroke="#000" stroke-width="0.3" transform="matrix(1.1944 0 0 1.1944 1561.64 697.50)">*</text>
<text stroke="#000" stroke-width="0.3" transform="matrix(1.1944 0 0 1.1944 1802.94 594.00)">*</text>
<text stroke="#000" stroke-width="0.3" transform="matrix(1.1944 0 0 1.1944 1812.94 594.00)">*</text>
<polyline points="1475.2,137.34 1505.76,137.34 1536.32,137.34 1566.88,137.34 1597.44,137.34 1628,137.34 1658.56,137.34 1689.12,137.34 1719.68,137.34 1750.24,137.34 1780.8,137.34 1811.36,137.34 1841.92,137.34 1872.48,137.34 1903.04,137.34 1933.6,137.34 1964.16,137.34" fill="none" stroke="#4472C4" stroke-width="4.3" stroke-linejoin="round" stroke-linecap="round"/>
<polyline points="1475.2,125.31 1505.76,152.88 1536.32,127.82 1566.88,132.33 1597.44,126.07 1628,124.06 1658.56,116.04 1689.12,121.55 1719.68,95.24 1750.24,99 1780.8,87.72 1811.36,92.73 1841.92,100.25 1872.48,92.73 1903.04,95.99 1933.6,89.47 1964.16,99" fill="none" stroke="#ED7D31" stroke-width="4.3" stroke-linejoin="round" stroke-linecap="round"/>
<polyline points="1475.2,139.1 1505.76,160.4 1536.32,211.78 1566.88,207.52 1597.44,220.05 1628,220.55 1658.56,216.79 1689.12,212.53 1719.68,208.02 1750.24,204.76 1780.8,215.04 1811.36,202.51 1841.92,191.73 1872.48,191.73 1903.04,194.24 1933.6,177.44 1964.16,179.2" fill="none" stroke="#A5A5A5" stroke-width="4.3" stroke-linejoin="round" stroke-linecap="round"/>
<polyline points="1475.2,173.68 1505.76,191.73 1536.32,191.73 1566.88,194.24 1597.44,194.24 1628,199.25 1658.56,194.24 1689.12,192.98 1719.68,185.46 1750.24,189.72 1780.8,194.24 1811.36,184.21 1841.92,194.24 1872.48,191.73 1903.04,193.48 1933.6,192.98 1964.16,196.74" fill="none" stroke="#FFC000" stroke-width="4.3" stroke-linejoin="round" stroke-linecap="round"/>
<polyline points="1475.2,150.38 1505.76,159.15 1536.32,181.7 1566.88,191.73 1597.44,185.46 1628,185.46 1658.56,174.19 1689.12,164.66 1719.68,148.62 1750.24,144.11 1780.8,157.89 1811.36,144.11 1841.92,160.9 1872.48,157.89 1903.04,149.12 1933.6,150.38 1964.16,165.91" fill="none" stroke="#5B9BD5" stroke-width="4.3" stroke-linejoin="round" stroke-linecap="round"/>
<polyline points="1475.2,164.16 1505.76,192.98 1536.32,218.55 1566.88,210.53 1597.44,208.77 1628,220.05 1658.56,223.06 1689.12,216.79 1719.68,216.79 1750.24,216.79 1780.8,212.53 1811.36,202.51 1841.92,202.51 1872.48,199.75 1903.04,215.54 1933.6,194.99 1964.16,189.97" fill="none" stroke="#70AD47" stroke-width="4.3" stroke-linejoin="round" stroke-linecap="round"/>
<line x1="1726.8" y1="30.5" x2="1961.2" y2="31.8" stroke="#E8762C" stroke-width="4.4" stroke-dasharray="14.3 5"/>
<line x1="1723.6" y1="70.4" x2="1960.4" y2="71.4" stroke="#5B9BD5" stroke-width="4.4" stroke-dasharray="14.3 5"/>
<line x1="1525.6" y1="255.2" x2="1911" y2="252.2" stroke="#767171" stroke-width="4.4" stroke-dasharray="14.3 5"/>
<text transform="matrix(1.0417 0 0 1.0417 1825.54 15.33)" fill="#FF0000">*</text>
<text transform="matrix(1.1806 0 0 1.1806 1807.10 63.46)" fill="#5B9BD5">*</text>
<text transform="matrix(1.1806 0 0 1.1806 1820.30 63.46)" fill="#5B9BD5">*</text>
<text transform="matrix(1.1806 0 0 1.1806 1833.50 63.46)" fill="#5B9BD5">*</text>
<text transform="matrix(1.1806 0 0 1.1806 1813.60 227.76)" fill="#767171">*</text>
<text transform="matrix(1.1806 0 0 1.1806 1826.80 227.76)" fill="#767171">*</text>
<line x1="1460.3" y1="65.8" x2="1460.3" y2="321.4" stroke="#000" stroke-width="1.8"/>
<line x1="1451.6" y1="312.7" x2="1980.4" y2="312.7" stroke="#000" stroke-width="1.8"/>
<line x1="1451.6" y1="66.7" x2="1460.3" y2="66.7" stroke="#000" stroke-width="1.8"/>
<text transform="matrix(1.2700 0 0 1.3300 1410.19 74.08)">1.4</text>
<line x1="1451.6" y1="101.5" x2="1460.3" y2="101.5" stroke="#000" stroke-width="1.8"/>
<text transform="matrix(1.2700 0 0 1.3300 1410.19 109.01)">1.2</text>
<line x1="1451.6" y1="136.8" x2="1460.3" y2="136.8" stroke="#000" stroke-width="1.8"/>
<text transform="matrix(1.2700 0 0 1.3300 1431.37 144.18)">1</text>
<line x1="1451.6" y1="171.9" x2="1460.3" y2="171.9" stroke="#000" stroke-width="1.8"/>
<text transform="matrix(1.2700 0 0 1.3300 1410.19 179.28)">0.8</text>
<line x1="1451.6" y1="207" x2="1460.3" y2="207" stroke="#000" stroke-width="1.8"/>
<text transform="matrix(1.2700 0 0 1.3300 1410.19 214.38)">0.6</text>
<line x1="1451.6" y1="242.1" x2="1460.3" y2="242.1" stroke="#000" stroke-width="1.8"/>
<text transform="matrix(1.2700 0 0 1.3300 1410.19 249.48)">0.4</text>
<line x1="1451.6" y1="277.3" x2="1460.3" y2="277.3" stroke="#000" stroke-width="1.8"/>
<text transform="matrix(1.2700 0 0 1.3300 1410.19 284.68)">0.2</text>
<line x1="1451.6" y1="312.7" x2="1460.3" y2="312.7" stroke="#000" stroke-width="1.8"/>
<text transform="matrix(1.2700 0 0 1.3300 1431.37 320.08)">0</text>
<line x1="1459.8" y1="312.7" x2="1459.8" y2="321.4" stroke="#000" stroke-width="1.8"/>
<line x1="1490.37" y1="312.7" x2="1490.37" y2="321.4" stroke="#000" stroke-width="1.8"/>
<line x1="1520.94" y1="312.7" x2="1520.94" y2="321.4" stroke="#000" stroke-width="1.8"/>
<line x1="1551.51" y1="312.7" x2="1551.51" y2="321.4" stroke="#000" stroke-width="1.8"/>
<line x1="1582.08" y1="312.7" x2="1582.08" y2="321.4" stroke="#000" stroke-width="1.8"/>
<line x1="1612.65" y1="312.7" x2="1612.65" y2="321.4" stroke="#000" stroke-width="1.8"/>
<line x1="1643.22" y1="312.7" x2="1643.22" y2="321.4" stroke="#000" stroke-width="1.8"/>
<line x1="1673.79" y1="312.7" x2="1673.79" y2="321.4" stroke="#000" stroke-width="1.8"/>
<line x1="1704.36" y1="312.7" x2="1704.36" y2="321.4" stroke="#000" stroke-width="1.8"/>
<line x1="1734.93" y1="312.7" x2="1734.93" y2="321.4" stroke="#000" stroke-width="1.8"/>
<line x1="1765.5" y1="312.7" x2="1765.5" y2="321.4" stroke="#000" stroke-width="1.8"/>
<line x1="1796.07" y1="312.7" x2="1796.07" y2="321.4" stroke="#000" stroke-width="1.8"/>
<line x1="1826.64" y1="312.7" x2="1826.64" y2="321.4" stroke="#000" stroke-width="1.8"/>
<line x1="1857.21" y1="312.7" x2="1857.21" y2="321.4" stroke="#000" stroke-width="1.8"/>
<line x1="1887.78" y1="312.7" x2="1887.78" y2="321.4" stroke="#000" stroke-width="1.8"/>
<line x1="1918.35" y1="312.7" x2="1918.35" y2="321.4" stroke="#000" stroke-width="1.8"/>
<line x1="1948.92" y1="312.7" x2="1948.92" y2="321.4" stroke="#000" stroke-width="1.8"/>
<line x1="1979.49" y1="312.7" x2="1979.49" y2="321.4" stroke="#000" stroke-width="1.8"/>
<text transform="matrix(0 -1.2200 1.3500 0 1482.94 342.89)">0</text>
<text transform="matrix(0 -1.2200 1.3500 0 1513.37 342.77)">5</text>
<text transform="matrix(0 -1.2200 1.3500 0 1544.08 356.43)">10</text>
<text transform="matrix(0 -1.2200 1.3500 0 1574.51 356.31)">15</text>
<text transform="matrix(0 -1.2200 1.3500 0 1605.22 356.43)">20</text>
<text transform="matrix(0 -1.2200 1.3500 0 1635.79 356.31)">25</text>
<text transform="matrix(0 -1.2200 1.3500 0 1666.36 356.43)">30</text>
<text transform="matrix(0 -1.2200 1.3500 0 1696.79 356.31)">45</text>
<text transform="matrix(0 -1.2200 1.3500 0 1727.50 356.43)">60</text>
<text transform="matrix(0 -1.2200 1.3500 0 1757.93 356.31)">75</text>
<text transform="matrix(0 -1.2200 1.3500 0 1788.63 356.43)">90</text>
<text transform="matrix(0 -1.2200 1.3500 0 1819.21 369.85)">105</text>
<text transform="matrix(0 -1.2200 1.3500 0 1849.78 369.97)">120</text>
<text transform="matrix(0 -1.2200 1.3500 0 1880.35 369.85)">135</text>
<text transform="matrix(0 -1.2200 1.3500 0 1910.92 369.97)">150</text>
<text transform="matrix(0 -1.2200 1.3500 0 1941.49 369.85)">165</text>
<text transform="matrix(0 -1.2200 1.3500 0 1972.06 369.97)">180</text>
<text transform="matrix(0 -1.2721 1.3448 0 1390.80 291.15)">relative TEER ratio</text>
<text transform="matrix(1.2653 0 0 1.3262 1660.29 401.23)">Time (min<tspan fill="#44546A">)</tspan></text>
<line x1="1446" y1="445" x2="1486.4" y2="445" stroke="#4472C4" stroke-width="4.2" stroke-linecap="round"/>
<text transform="matrix(1.2729 0 0 1.2621 1491.38 451.70)">control</text>
<line x1="1446" y1="484.8" x2="1486.4" y2="484.8" stroke="#A5A5A5" stroke-width="4.2" stroke-linecap="round"/>
<text transform="matrix(1.2778 0 0 1.2690 1491.89 491.80)">Thrombin</text>
<line x1="1446" y1="526.2" x2="1486.4" y2="526.2" stroke="#5B9BD5" stroke-width="4.2" stroke-linecap="round"/>
<text transform="matrix(1.2834 0 0 1.3286 1491.24 533.20)">OGD+APC</text>
<line x1="1677.9" y1="445" x2="1718.2" y2="445" stroke="#ED7D31" stroke-width="4.2" stroke-linecap="round"/>
<text transform="matrix(1.2847 0 0 1.3214 1723.00 451.70)">APC</text>
<line x1="1677.9" y1="484.8" x2="1718.2" y2="484.8" stroke="#FFC000" stroke-width="4.2" stroke-linecap="round"/>
<text transform="matrix(1.3021 0 0 1.3286 1722.33 491.80)">OGD</text>
<line x1="1677.9" y1="526.2" x2="1718.2" y2="526.2" stroke="#70AD47" stroke-width="4.2" stroke-linecap="round"/>
<text transform="matrix(1.2753 0 0 1.2828 1722.45 533.20)">OGD+Thrombin</text>
</g>
</svg>
</body>
</html>
